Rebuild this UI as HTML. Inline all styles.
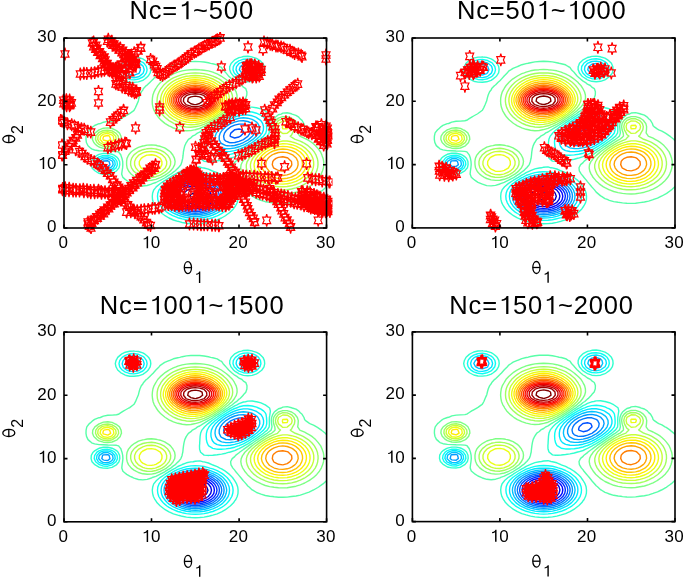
<!DOCTYPE html><html><head><meta charset="utf-8"><style>html,body{margin:0;padding:0;background:#fff}svg{display:block;filter:blur(0.35px)}text{font-family:"Liberation Sans",sans-serif;fill:#000}.t{font-size:17px}.ti{font-size:25.5px}.sub{font-size:16px}</style></head><body><svg width="685" height="578" viewBox="0 0 685 578"><rect width="685" height="578" fill="#fff"/><defs><clipPath id="cc0"><rect x="58.0" y="32.1" width="274.5" height="201.9"/></clipPath><clipPath id="cc1"><rect x="406.3" y="32.0" width="274.7" height="201.9"/></clipPath><clipPath id="cc2"><rect x="58.0" y="326.1" width="274.6" height="201.7"/></clipPath><clipPath id="cc3"><rect x="406.4" y="325.9" width="274.6" height="201.7"/></clipPath></defs><clipPath id="c0"><rect x="64.0" y="38.1" width="262.5" height="189.9"/></clipPath><g clip-path="url(#c0)"><g fill="none" stroke-width="1.4" stroke-linejoin="round"><path d="M195.2,199.9 193.0,199.5 190.9,198.2 189.9,196.3 190.9,194.6 193.3,193.2 195.2,192.9 197.2,193.2 199.6,194.5 200.6,196.3 199.6,198.3 197.5,199.5 195.2,199.9" stroke="#000096"/><path d="M190.9,203.8 187.5,202.7 186.5,202.1 183.8,199.5 182.6,196.3 183.8,193.2 186.5,190.7 187.6,190.0 190.9,189.0 195.2,188.5 199.6,189.0 202.9,190.0 204.0,190.6 206.7,193.2 207.9,196.3 206.7,199.5 204.0,202.1 203.0,202.7 199.6,203.8 195.2,204.3 190.9,203.8" stroke="#0000bb"/><path d="M190.9,206.3 188.9,205.8 186.5,205.0 182.3,202.7 182.1,202.5 179.8,199.5 179.1,196.3 179.9,193.2 182.1,190.2 182.4,190.0 186.5,187.7 189.0,186.9 190.9,186.4 195.2,186.1 199.6,186.4 201.5,186.9 204.0,187.7 208.2,190.0 208.4,190.2 210.6,193.2 211.5,196.3 210.7,199.5 208.4,202.5 208.2,202.7 204.0,205.0 201.6,205.8 199.6,206.3 195.2,206.7 190.9,206.3" stroke="#0000e0"/><path d="M186.5,207.1 183.3,205.8 182.1,205.2 178.9,202.7 177.8,201.1 176.8,199.5 176.2,196.3 176.8,193.2 177.8,191.6 179.0,190.0 182.1,187.6 183.4,186.9 186.5,185.6 190.9,184.6 195.2,184.2 199.6,184.6 204.0,185.6 207.1,186.9 208.4,187.5 211.5,190.0 212.8,191.6 213.7,193.2 214.4,196.3 213.7,199.5 212.8,201.2 211.6,202.7 208.4,205.2 207.2,205.8 204.0,207.1 199.6,208.2 195.2,208.5 190.9,208.2 186.5,207.1" stroke="#0006ff"/><path d="M186.5,209.0 186.5,209.0 182.1,207.3 179.6,205.8 177.8,204.4 176.0,202.7 174.2,199.5 173.6,196.3 174.2,193.2 176.1,190.0 177.8,188.3 179.6,186.9 182.1,185.4 186.5,183.7 186.6,183.7 190.9,182.9 195.2,182.6 199.6,182.9 203.8,183.7 204.0,183.7 208.4,185.4 210.9,186.9 212.8,188.3 214.5,190.0 216.3,193.2 217.0,196.3 216.4,199.5 214.5,202.7 212.8,204.4 210.9,205.8 208.4,207.3 204.0,209.0 204.0,209.0 199.6,209.9 195.2,210.1 190.9,209.9 186.5,209.0" stroke="#002cff"/><path d="M182.1,209.2 181.7,209.0 177.8,206.8 176.4,205.8 173.4,202.8 173.3,202.7 171.7,199.5 171.2,196.3 171.7,193.2 173.4,190.0 173.4,190.0 176.5,186.9 177.8,185.9 181.8,183.7 182.1,183.5 186.5,182.1 190.9,181.3 195.2,181.0 199.6,181.3 204.0,182.1 208.4,183.5 208.7,183.7 212.8,185.9 214.1,186.9 217.1,190.0 217.2,190.0 218.8,193.2 219.3,196.3 218.8,199.5 217.2,202.7 217.1,202.8 214.1,205.8 212.8,206.8 208.8,209.0 208.4,209.2 204.0,210.6 199.6,211.4 195.2,211.7 190.9,211.4 186.5,210.6 182.1,209.2 M230.2,136.4 230.1,136.2 230.2,135.1 230.8,133.1 234.5,129.9 234.6,129.8 239.0,129.0 242.3,129.9 243.4,132.1 243.5,133.1 243.4,133.2 240.4,136.2 239.0,137.0 234.6,138.0 230.2,136.4" stroke="#0051ff"/><path d="M186.5,212.2 186.4,212.2 182.1,210.9 177.9,209.0 177.8,208.9 173.5,205.8 173.4,205.8 170.8,202.7 169.3,199.5 169.0,197.3 168.9,196.3 169.0,195.5 169.4,193.2 170.8,190.0 173.4,187.0 173.6,186.9 177.8,183.8 178.0,183.7 182.1,181.8 186.4,180.5 186.5,180.5 190.9,179.8 195.2,179.5 199.6,179.8 204.0,180.5 204.0,180.5 208.4,181.8 212.5,183.7 212.8,183.8 217.0,186.9 217.1,187.0 219.7,190.0 221.2,193.2 221.5,195.3 221.7,196.3 221.5,197.4 221.2,199.5 219.7,202.7 217.1,205.8 217.0,205.8 212.8,208.9 212.6,209.0 208.4,210.9 204.1,212.2 204.0,212.2 199.6,213.0 195.2,213.2 190.9,213.0 186.5,212.2 M230.2,142.7 229.3,142.5 225.9,141.2 224.2,139.4 223.6,136.2 224.5,133.1 225.9,131.0 226.9,129.9 230.2,127.2 231.1,126.7 234.6,125.1 239.0,124.1 243.4,124.1 247.8,125.7 249.1,126.7 250.7,129.9 250.1,133.1 248.0,136.2 247.8,136.4 243.7,139.4 243.4,139.6 239.0,141.4 234.9,142.5 234.6,142.6 230.2,142.7" stroke="#0076ff"/><path d="M182.1,212.7 180.8,212.2 177.8,210.9 174.5,209.0 173.4,208.2 170.6,205.8 169.0,203.7 168.2,202.7 166.9,199.5 166.4,196.3 166.9,193.2 168.3,190.0 169.0,189.1 170.8,186.9 173.4,184.6 174.7,183.7 177.8,181.9 181.0,180.5 182.1,180.1 186.5,178.9 190.9,178.2 195.2,178.0 199.6,178.2 204.0,178.9 208.4,180.1 209.6,180.5 212.8,181.9 215.9,183.7 217.1,184.5 219.8,186.9 221.5,189.0 222.3,190.0 223.6,193.2 224.1,196.3 223.7,199.5 222.3,202.7 221.5,203.8 219.9,205.8 217.1,208.2 216.0,209.0 212.8,210.9 209.7,212.2 208.4,212.7 204.0,213.8 199.6,214.5 195.2,214.7 190.9,214.5 186.5,213.8 182.1,212.7 M103.4,166.3 101.8,164.7 102.6,161.5 103.4,161.0 107.8,160.8 109.1,161.5 110.0,164.7 107.8,166.6 103.4,166.3 M230.3,145.9 227.2,145.7 225.9,145.6 221.5,143.5 220.5,142.5 219.2,139.4 219.2,136.2 220.2,133.1 221.5,131.1 222.4,129.9 225.8,126.7 225.9,126.7 230.2,123.9 231.0,123.6 234.6,122.1 239.0,120.9 243.4,120.7 247.8,121.5 252.1,123.4 252.3,123.6 254.9,126.7 255.6,129.9 254.7,133.1 252.5,136.2 252.1,136.5 248.8,139.4 247.8,140.1 243.5,142.5 243.4,142.6 239.0,144.3 234.6,145.5 232.3,145.7 230.3,145.9" stroke="#009bff"/><path d="M186.5,215.5 185.8,215.3 182.1,214.5 177.8,212.9 176.2,212.2 173.4,210.6 171.0,209.0 169.0,207.2 167.7,205.8 165.5,202.7 164.6,200.2 164.3,199.5 163.9,196.3 164.4,193.2 164.6,192.6 165.6,190.0 167.9,186.9 169.0,185.8 171.4,183.7 173.4,182.3 176.6,180.5 177.8,180.0 182.1,178.3 185.8,177.4 186.5,177.2 190.9,176.5 195.3,176.3 199.6,176.5 204.0,177.2 204.6,177.4 208.4,178.2 212.8,179.8 214.1,180.5 217.1,182.1 219.4,183.7 221.5,185.6 222.8,186.9 224.9,190.0 225.9,192.5 226.2,193.2 226.6,196.3 226.2,199.5 225.9,200.3 225.0,202.7 222.8,205.8 221.5,207.2 219.5,209.0 217.1,210.6 214.3,212.2 212.8,212.9 208.4,214.5 204.7,215.3 204.0,215.5 199.6,216.2 195.2,216.4 190.9,216.2 186.5,215.5 M103.4,168.7 101.6,167.9 99.0,165.2 98.7,164.7 99.0,162.8 99.3,161.5 103.4,158.9 107.8,158.7 112.1,161.0 112.6,161.5 113.1,164.7 112.1,166.3 110.3,167.9 107.8,168.9 103.4,168.7 M221.5,148.0 217.4,145.7 217.1,145.3 215.5,142.5 215.0,139.4 215.2,136.2 216.4,133.1 217.1,132.1 218.7,129.9 221.5,127.2 222.0,126.7 225.9,123.9 226.4,123.6 230.2,121.4 232.5,120.4 234.6,119.5 239.0,118.3 243.4,117.8 247.8,118.2 252.1,119.4 254.0,120.4 256.5,122.1 257.9,123.6 259.6,126.7 259.7,129.9 258.6,133.1 256.5,135.9 256.3,136.2 252.8,139.4 252.1,139.9 248.2,142.5 247.8,142.8 243.4,145.1 241.9,145.7 239.0,146.8 234.6,148.0 230.2,148.6 225.9,148.7 221.5,148.0 M129.6,74.5 127.1,72.9 125.4,69.8 127.1,66.6 129.6,65.0 134.0,64.4 138.4,65.8 139.3,66.6 140.5,69.8 139.3,72.9 138.4,73.7 134.0,75.1 129.6,74.5 M243.4,73.8 241.7,72.9 239.3,69.8 240.3,66.6 243.4,64.3 247.8,63.5 252.1,65.3 253.5,66.6 254.3,69.8 252.5,72.9 252.1,73.2 247.8,74.4 243.4,73.8" stroke="#00c1ff"/><path d="M182.1,216.5 178.7,215.3 177.8,215.0 173.4,213.1 171.8,212.2 169.0,210.3 167.4,209.0 164.6,206.0 164.5,205.8 162.5,202.7 161.4,199.5 161.1,196.3 161.4,193.2 162.6,190.0 164.6,187.1 164.8,186.9 168.1,183.7 169.0,183.0 172.7,180.5 173.4,180.1 177.8,177.9 179.3,177.4 182.1,176.3 186.5,175.2 190.9,174.6 195.2,174.4 199.6,174.6 204.0,175.2 208.4,176.2 211.7,177.4 212.8,177.7 217.1,179.7 218.5,180.5 221.5,182.5 223.0,183.7 225.9,186.9 225.9,186.9 228.0,190.0 229.1,193.2 229.5,196.3 229.1,199.5 228.1,202.7 226.0,205.8 225.9,206.0 223.1,209.0 221.5,210.3 218.7,212.2 217.1,213.1 212.8,215.0 211.8,215.3 208.4,216.5 204.0,217.5 199.6,218.0 195.2,218.1 190.9,218.0 186.5,217.5 182.1,216.5 M99.0,168.4 98.3,167.9 96.5,164.7 96.9,161.5 99.0,159.2 100.3,158.4 103.4,157.1 107.8,157.0 111.7,158.4 112.1,158.6 114.8,161.5 115.2,164.7 113.5,167.9 112.1,169.0 107.8,170.5 103.4,170.4 99.0,168.4 M217.1,150.7 214.0,148.9 212.8,147.4 211.8,145.7 211.0,142.5 210.8,139.4 211.4,136.2 212.8,133.2 212.8,133.1 215.2,129.9 217.1,128.1 218.6,126.7 221.5,124.5 222.8,123.6 225.9,121.5 227.9,120.4 230.2,119.0 234.2,117.2 234.6,117.0 239.0,115.6 243.4,115.0 247.8,115.0 252.1,115.8 255.7,117.2 256.5,117.6 260.6,120.4 260.9,120.7 262.7,123.6 263.5,126.7 263.4,129.9 262.3,133.1 260.9,134.8 259.8,136.2 256.5,139.3 256.4,139.4 252.1,142.5 252.1,142.5 247.8,145.2 246.8,145.7 243.4,147.5 239.9,148.9 239.0,149.2 234.6,150.6 230.2,151.4 225.9,151.7 221.5,151.6 217.1,150.7 M129.6,77.3 126.6,76.1 125.2,75.2 123.1,72.9 122.1,69.8 123.0,66.6 125.2,64.2 126.5,63.4 129.6,62.2 134.0,61.8 138.4,62.7 139.7,63.4 142.8,65.9 143.3,66.6 144.2,69.8 143.3,72.9 142.8,73.5 139.7,76.1 138.4,76.8 134.0,77.7 129.6,77.3 M243.4,76.6 242.0,76.1 239.0,74.4 237.4,72.9 236.0,69.8 236.5,66.6 239.0,63.5 239.1,63.4 243.4,61.6 247.8,61.2 252.1,62.1 254.5,63.4 256.5,65.4 257.4,66.6 257.9,69.8 256.7,72.9 256.5,73.1 252.3,76.1 252.1,76.2 247.8,77.1 243.4,76.6" stroke="#00e6ff"/><path d="M182.1,218.9 180.9,218.5 177.8,217.7 173.4,215.9 172.2,215.3 169.0,213.6 166.9,212.2 164.6,210.3 163.1,209.0 160.6,205.8 160.2,205.1 158.8,202.7 157.8,199.5 157.5,196.3 157.8,193.2 159.0,190.0 160.2,188.3 161.1,186.9 164.4,183.7 164.6,183.6 168.8,180.5 169.0,180.4 173.4,177.8 174.3,177.4 177.8,175.6 181.6,174.2 182.1,174.0 186.5,172.7 190.9,172.1 195.2,171.9 199.6,172.0 204.0,172.6 208.4,173.7 209.7,174.2 212.8,175.0 217.1,176.9 218.0,177.4 221.5,179.3 223.3,180.5 225.9,182.6 227.1,183.7 229.7,186.9 230.2,187.9 231.5,190.0 232.7,193.2 233.0,196.3 232.7,199.5 231.7,202.7 230.2,205.1 229.9,205.8 227.4,209.0 225.9,210.3 223.7,212.2 221.5,213.6 218.3,215.3 217.1,215.9 212.8,217.7 209.6,218.5 208.4,218.9 204.0,219.8 199.6,220.3 195.2,220.5 190.9,220.3 186.5,219.8 182.1,218.9 M103.4,172.2 100.0,171.0 99.0,170.6 95.6,167.9 94.6,165.5 94.2,164.7 94.6,161.8 94.7,161.5 96.9,158.4 99.0,156.9 103.4,155.5 107.8,155.4 112.1,156.6 114.8,158.4 116.5,160.7 117.0,161.5 117.4,164.7 116.5,166.9 116.1,167.9 112.1,171.0 112.0,171.0 107.8,172.4 103.4,172.2 M217.1,155.3 216.5,155.2 212.8,154.6 208.7,152.0 208.4,151.6 207.0,148.9 206.4,145.7 206.1,142.5 206.3,139.4 207.1,136.2 208.4,134.1 208.9,133.1 211.6,129.9 212.8,129.0 215.2,126.7 217.1,125.3 219.5,123.6 221.5,122.2 224.3,120.4 225.9,119.3 229.6,117.2 230.2,116.8 234.6,114.6 236.2,114.1 239.0,112.9 243.4,111.9 247.8,111.6 252.1,112.0 256.5,113.2 258.5,114.1 260.9,115.2 263.7,117.2 265.2,119.0 265.9,120.4 266.4,123.6 266.6,126.7 266.6,129.9 265.8,133.1 265.2,133.9 263.4,136.2 260.9,138.4 259.8,139.4 256.5,141.8 255.5,142.5 252.1,144.8 250.7,145.7 247.8,147.5 245.2,148.9 243.4,149.9 239.0,151.8 238.2,152.0 234.6,153.3 230.2,154.4 225.9,155.0 222.7,155.2 221.5,155.3 217.1,155.3 M129.6,79.6 128.6,79.2 125.2,78.1 122.2,76.1 120.9,74.5 119.7,72.9 119.0,69.8 119.7,66.6 120.9,65.0 122.2,63.4 125.2,61.3 128.5,60.3 129.6,59.9 134.0,59.5 137.9,60.3 138.4,60.3 142.8,62.4 144.1,63.4 146.4,66.6 147.1,69.8 146.4,72.9 144.0,76.1 142.8,77.0 138.4,79.1 137.6,79.2 134.0,79.9 129.6,79.6 M239.0,77.2 237.3,76.1 234.6,73.4 234.2,72.9 233.0,69.8 233.3,66.6 234.6,64.4 235.3,63.4 239.0,60.7 240.3,60.3 243.4,59.2 247.8,58.9 252.1,59.6 253.6,60.3 256.5,61.7 258.5,63.4 260.5,66.6 260.9,69.8 259.9,72.9 257.1,76.1 256.5,76.5 252.1,78.5 247.8,79.2 243.4,78.8 239.0,77.2" stroke="#0cfff3"/><path d="M182.1,222.5 179.3,221.7 177.8,221.3 173.4,220.0 170.2,218.5 169.0,218.0 164.6,215.4 164.5,215.3 160.3,212.2 160.2,212.1 157.1,209.0 155.9,207.1 154.9,205.8 153.3,202.7 152.5,199.5 152.3,196.3 152.6,193.2 153.7,190.0 155.9,187.4 156.2,186.9 160.0,183.7 160.2,183.5 164.6,180.6 164.8,180.5 169.0,177.9 169.9,177.4 173.4,175.2 175.4,174.2 177.8,172.7 181.6,171.0 182.1,170.7 186.5,169.0 190.9,168.1 193.1,167.9 195.2,167.3 199.6,167.0 202.5,167.9 204.0,168.0 208.4,169.1 212.4,171.0 212.8,171.1 217.1,172.7 219.9,174.2 221.5,175.0 225.3,177.4 225.9,177.8 229.3,180.5 230.2,181.5 232.4,183.7 234.6,186.9 234.6,186.9 236.6,190.0 237.7,193.2 238.1,196.3 237.9,199.5 237.2,202.7 235.6,205.8 234.6,207.1 233.4,209.0 230.2,212.1 230.2,212.2 226.0,215.3 225.9,215.5 221.5,218.0 220.3,218.5 217.1,220.0 212.8,221.3 211.2,221.7 208.4,222.5 204.0,223.3 199.6,223.7 195.2,223.9 190.9,223.7 186.5,223.3 182.1,222.5 M103.4,174.2 103.3,174.2 99.0,173.3 95.2,171.0 94.6,170.5 92.0,167.9 91.1,164.7 91.3,161.5 93.1,158.4 94.6,157.0 97.5,155.2 99.0,154.4 103.4,153.4 107.8,153.4 112.1,154.3 114.0,155.2 116.5,156.8 118.0,158.4 119.6,161.5 119.8,164.7 119.0,167.9 116.5,170.9 116.3,171.0 112.1,173.5 108.3,174.2 107.8,174.4 103.4,174.2 M208.4,161.7 207.2,161.5 204.0,161.2 200.5,158.4 199.6,155.6 199.5,155.2 199.5,152.0 199.6,149.6 199.7,148.9 199.8,145.7 200.1,142.5 200.5,139.4 201.8,136.2 204.0,133.6 204.3,133.1 207.7,129.9 208.4,129.5 211.8,126.7 212.8,126.1 216.3,123.6 217.1,123.0 221.1,120.4 221.5,120.1 225.9,117.3 225.9,117.2 230.2,114.5 231.2,114.1 234.6,111.9 237.0,110.9 239.0,109.7 243.4,108.1 245.4,107.7 247.8,107.1 252.1,107.1 256.1,107.7 256.5,107.8 260.9,108.9 265.1,110.9 265.2,111.0 269.5,114.1 269.6,114.4 270.3,117.2 269.8,120.4 269.6,121.8 269.3,123.6 269.2,126.7 269.4,129.9 269.1,133.1 267.1,136.2 265.2,137.7 263.3,139.4 260.9,141.1 258.9,142.5 256.5,144.2 254.2,145.7 252.1,147.1 249.3,148.9 247.8,149.9 244.0,152.0 243.4,152.5 239.0,154.8 237.8,155.2 234.6,156.8 230.2,158.2 229.2,158.4 225.9,159.3 221.5,160.2 217.1,160.8 212.8,161.3 209.3,161.5 208.4,161.7 M125.2,81.3 121.5,79.2 120.9,78.9 117.7,76.1 116.5,73.7 116.0,72.9 115.2,69.8 115.9,66.6 116.5,65.8 117.7,63.4 120.9,60.6 121.4,60.3 125.2,58.2 129.6,57.2 133.3,57.1 134.0,57.0 134.3,57.1 138.4,57.5 142.8,58.9 145.0,60.3 147.1,62.0 148.6,63.4 150.4,66.6 150.8,69.8 150.2,72.9 148.2,76.1 147.1,77.1 144.5,79.2 142.8,80.4 138.4,81.9 134.0,82.4 129.6,82.2 125.2,81.3 M239.0,79.9 237.9,79.2 234.6,77.1 233.4,76.1 230.9,72.9 230.2,70.9 229.7,69.8 229.7,66.6 230.2,65.6 231.1,63.4 234.2,60.3 234.6,59.9 239.0,57.6 241.4,57.1 243.4,56.5 247.8,56.2 252.1,56.9 252.5,57.1 256.5,58.3 259.6,60.3 260.9,61.4 262.9,63.4 264.3,66.6 264.6,69.8 263.9,72.9 261.8,76.1 260.9,76.9 257.6,79.2 256.5,79.9 252.1,81.4 247.8,81.8 243.4,81.4 239.0,79.9" stroke="#31ffce"/><path d="M132.7,183.7 134.0,184.3 138.4,185.7 142.8,186.0 147.1,185.5 151.5,184.1 152.3,183.7 155.9,182.5 159.8,180.5 160.2,180.3 164.6,178.0 165.6,177.4 169.0,175.2 170.7,174.2 173.4,172.1 175.0,171.0 177.8,168.3 178.3,167.9 180.9,164.7 182.0,161.5 182.1,160.7 182.7,158.4 183.1,155.2 183.4,152.0 184.0,148.9 184.8,145.7 186.3,142.5 186.5,142.4 188.4,139.4 190.9,137.8 192.4,136.2 195.2,134.8 197.4,133.1 199.6,132.1 202.8,129.9 204.0,129.3 208.1,126.7 208.4,126.6 212.8,123.8 213.2,123.6 217.1,121.0 218.1,120.4 221.5,118.1 222.9,117.2 225.9,115.1 227.6,114.1 230.2,112.0 232.1,110.9 234.6,108.8 236.3,107.7 239.0,105.2 240.1,104.6 243.1,101.4 243.4,100.8 245.7,98.2 246.8,95.1 246.9,91.9 245.8,88.7 243.4,87.2 241.9,85.6 239.0,84.2 236.7,82.4 234.6,81.2 232.2,79.2 230.2,77.5 228.6,76.1 226.0,72.9 225.9,72.7 223.0,69.8 221.5,67.4 219.7,66.6 217.1,64.9 212.8,63.8 210.6,63.4 208.4,62.8 204.0,62.0 199.6,61.6 195.2,61.4 190.9,61.6 186.5,62.0 182.1,62.8 179.7,63.4 177.8,63.7 173.4,64.8 169.3,66.6 169.0,66.7 164.6,68.5 162.7,69.8 160.2,71.3 159.0,72.9 155.9,76.0 155.9,76.1 153.1,79.2 151.5,80.8 149.8,82.4 147.1,85.1 146.3,85.6 143.3,88.7 142.8,90.1 141.3,91.9 139.9,95.1 138.9,98.2 138.4,101.0 138.2,101.4 136.8,104.6 135.4,107.7 134.0,110.4 133.4,110.9 129.6,113.6 128.8,114.1 125.2,116.1 123.3,117.2 120.9,118.8 118.4,120.4 116.5,120.9 112.1,121.2 107.8,121.4 103.4,122.2 100.3,123.6 99.0,123.7 94.6,125.5 92.9,126.7 90.2,129.0 89.2,129.9 86.8,133.1 86.1,136.2 86.0,139.4 86.4,142.5 88.0,145.7 90.2,147.7 91.6,148.9 94.6,150.0 99.0,150.7 103.4,150.9 107.8,151.1 112.1,151.2 116.5,151.5 118.6,152.0 120.9,155.0 120.9,155.2 122.0,158.4 122.7,161.5 122.8,164.7 122.6,167.9 122.1,171.0 121.7,174.2 122.9,177.4 125.2,179.4 126.7,180.5 129.6,182.4 132.7,183.7 M326.5,140.8 325.2,139.4 322.1,136.9 321.3,136.2 317.8,133.7 316.5,133.1 313.4,131.2 310.3,129.9 309.0,129.2 305.5,126.7 304.6,125.9 303.9,123.6 302.0,120.4 300.2,118.9 298.8,117.2 295.9,115.3 292.1,114.1 291.5,113.8 287.1,112.7 282.8,113.1 281.2,114.1 278.4,114.7 275.3,117.2 274.0,118.4 272.7,120.4 271.5,123.6 271.2,126.7 271.5,129.9 271.9,133.1 271.0,136.2 269.6,137.3 267.1,139.4 265.2,140.5 262.3,142.5 260.9,143.4 257.6,145.7 256.5,146.4 252.9,148.9 252.1,149.4 248.3,152.0 247.8,152.5 243.8,155.2 243.4,155.6 239.5,158.4 239.0,158.9 235.5,161.5 234.6,162.7 232.2,164.7 230.5,167.9 230.9,171.0 232.9,174.2 234.6,176.3 235.4,177.4 238.0,180.5 239.0,181.7 240.7,183.7 243.2,186.9 243.4,187.0 246.1,190.0 247.8,192.2 249.0,193.2 252.1,196.0 252.7,196.3 256.5,198.7 258.9,199.5 260.9,200.4 265.2,201.7 269.6,202.4 272.4,202.7 274.0,203.0 278.4,203.4 282.8,203.5 287.1,203.3 291.5,202.7 291.5,202.7 295.9,202.1 300.2,201.2 304.6,199.8 305.2,199.5 309.0,198.3 312.9,196.3 313.4,196.1 317.8,193.7 318.5,193.2 322.1,190.6 322.9,190.0 326.3,186.9 326.5,186.6" stroke="#57ffa8"/><path d="M272.5,193.2 274.0,193.5 278.4,194.0 282.8,194.1 287.1,193.8 291.4,193.2 291.5,193.2 295.9,192.3 300.2,191.0 302.6,190.0 304.6,189.2 308.8,186.9 309.0,186.8 313.3,183.7 313.4,183.6 316.7,180.5 317.8,179.3 319.3,177.4 321.2,174.2 322.1,171.8 322.5,171.0 323.4,167.9 323.8,164.7 323.7,161.5 323.1,158.4 322.1,155.7 322.0,155.2 320.6,152.0 318.3,148.9 317.8,148.2 315.5,145.7 313.4,143.8 311.8,142.5 309.0,140.7 306.7,139.4 304.6,138.3 300.2,136.4 299.8,136.2 297.6,133.1 298.0,129.9 298.2,126.7 297.3,123.6 295.9,121.8 294.8,120.4 291.5,118.1 288.6,117.2 287.1,116.7 282.8,116.7 281.2,117.2 278.4,118.1 275.6,120.4 274.0,122.8 273.6,123.6 273.2,126.7 273.6,129.9 274.0,131.2 274.7,133.0 275.1,136.2 274.0,137.2 271.5,139.4 269.6,140.3 265.9,142.5 265.2,142.9 260.9,145.7 260.9,145.7 256.5,148.7 256.2,148.9 252.1,151.9 252.0,152.0 248.1,155.2 247.8,155.7 244.9,158.4 243.4,160.6 242.6,161.5 241.1,164.7 240.7,167.9 241.3,171.0 242.7,174.2 243.4,175.3 244.6,177.4 247.2,180.5 247.8,181.0 250.5,183.7 252.1,185.0 254.9,186.9 256.5,187.8 260.9,189.9 261.2,190.0 265.2,191.6 269.6,192.7 272.5,193.2 M135.9,177.4 138.4,178.6 142.8,180.0 147.1,180.5 151.5,180.3 155.9,179.4 160.2,177.7 160.8,177.4 164.6,175.3 166.4,174.2 169.0,172.2 170.4,171.0 173.1,167.9 173.4,167.1 174.7,164.7 175.1,161.5 174.5,158.4 173.4,156.1 173.0,155.2 170.5,152.0 169.0,150.8 166.2,148.9 164.6,147.9 160.2,146.3 157.4,145.7 155.9,145.3 151.5,144.9 147.1,145.1 144.4,145.7 142.8,146.0 138.4,147.3 135.5,148.9 134.0,149.8 131.1,152.0 129.6,153.8 128.5,155.2 127.0,158.4 126.6,161.5 126.6,164.7 127.1,167.9 128.6,171.0 129.6,172.3 131.3,174.2 134.0,176.3 135.9,177.4 M96.9,145.7 99.0,147.0 103.4,148.3 107.8,148.6 112.1,148.1 116.5,146.2 117.2,145.7 120.3,142.5 120.9,140.5 121.4,139.4 121.0,136.2 120.9,136.0 119.5,133.1 116.5,130.6 115.0,129.9 112.1,128.5 107.8,127.9 103.4,128.2 99.2,129.9 99.0,129.9 94.9,133.1 94.6,133.5 92.7,136.2 92.4,139.4 93.8,142.5 94.6,143.4 96.9,145.7 M180.1,129.9 182.1,130.4 186.5,130.8 190.9,130.6 194.2,129.9 195.2,129.7 199.6,128.5 203.5,126.7 204.0,126.5 208.4,124.4 209.7,123.6 212.8,121.9 215.0,120.4 217.1,119.1 220.0,117.2 221.5,116.1 224.5,114.1 225.9,112.9 228.5,110.9 230.2,109.2 232.0,107.7 234.4,104.6 234.6,104.1 236.3,101.4 237.0,98.2 237.0,95.1 236.1,91.9 234.6,89.1 234.5,88.7 232.5,85.6 230.2,83.3 229.4,82.4 225.9,79.3 225.8,79.2 221.5,76.2 221.2,76.1 217.1,73.9 214.5,72.9 212.8,72.2 208.4,70.9 204.0,70.2 199.8,69.8 199.6,69.7 195.2,69.5 190.9,69.7 190.6,69.8 186.5,70.1 182.1,70.9 177.8,72.2 175.9,72.9 173.4,73.8 169.1,76.1 169.0,76.1 164.6,78.9 164.2,79.2 160.6,82.4 160.2,82.8 157.7,85.6 155.9,88.5 155.7,88.7 154.0,91.9 152.9,95.1 152.4,98.2 152.2,101.4 152.4,104.6 153.1,107.7 154.3,110.9 155.9,113.5 156.1,114.1 158.3,117.2 160.2,119.3 161.3,120.4 164.6,123.1 165.3,123.6 169.0,125.9 170.8,126.7 173.4,128.0 177.8,129.4 180.1,129.9" stroke="#7cff83"/><path d="M264.9,186.9 265.2,187.0 269.6,188.4 274.0,189.3 278.4,189.8 282.8,189.9 287.1,189.7 291.5,189.0 295.9,187.9 298.7,186.9 300.2,186.3 304.6,184.1 305.3,183.7 309.0,181.0 309.6,180.5 312.8,177.4 313.4,176.5 315.1,174.2 316.7,171.0 317.6,167.9 317.8,166.5 318.0,164.7 317.9,161.5 317.8,160.8 317.3,158.4 316.1,155.2 314.3,152.0 313.4,150.9 311.7,148.9 309.0,146.5 308.1,145.7 304.6,143.4 303.0,142.5 300.2,141.2 295.9,139.6 295.1,139.4 291.5,137.2 290.2,136.2 291.5,135.1 292.5,133.1 294.3,129.9 294.8,126.7 294.0,123.6 291.5,120.9 290.7,120.4 287.1,118.9 282.8,118.8 278.6,120.4 278.4,120.5 276.0,123.6 275.3,126.7 275.9,129.9 277.6,133.1 278.4,134.6 280.4,136.2 278.4,138.2 277.4,139.4 274.0,140.7 270.2,142.5 269.6,142.8 265.2,145.2 264.4,145.7 260.9,148.0 259.6,148.9 256.5,151.2 255.3,152.0 252.1,155.0 251.8,155.2 249.1,158.4 247.8,160.8 247.2,161.5 246.3,164.7 246.3,167.9 247.1,171.0 247.8,172.2 248.7,174.2 250.9,177.4 252.1,178.6 254.1,180.5 256.5,182.4 258.5,183.7 260.9,185.1 264.9,186.9 M146.5,177.4 147.1,177.5 151.5,177.5 152.2,177.4 155.9,176.7 160.2,175.1 161.8,174.2 164.6,172.4 166.4,171.0 169.0,168.0 169.1,167.9 170.5,164.7 170.7,161.5 169.8,158.4 169.0,157.1 167.7,155.2 164.6,152.5 163.9,152.0 160.2,150.2 155.9,149.0 155.1,148.9 151.5,148.4 147.1,148.7 146.4,148.9 142.8,149.7 138.4,151.5 137.6,152.0 134.0,154.9 133.7,155.2 131.6,158.4 130.7,161.5 130.6,164.7 131.5,167.9 133.6,171.0 134.0,171.4 137.4,174.2 138.4,174.8 142.8,176.6 146.5,177.4 M101.7,145.7 103.4,146.4 107.8,146.8 112.1,145.9 112.4,145.7 116.5,143.0 117.0,142.5 118.6,139.4 118.3,136.2 116.5,133.9 115.7,133.1 112.1,130.9 107.8,130.1 103.4,130.5 99.0,132.4 98.2,133.1 95.8,136.2 95.5,139.4 96.9,142.5 99.0,144.4 101.7,145.7 M184.6,126.7 186.5,127.1 190.9,127.3 195.2,126.8 195.5,126.7 199.6,125.9 204.0,124.3 205.6,123.6 208.4,122.3 211.9,120.4 212.8,119.9 217.1,117.2 217.1,117.2 221.5,114.1 221.6,114.1 225.5,110.9 225.9,110.5 228.7,107.7 230.2,105.3 230.8,104.6 232.2,101.4 232.7,98.2 232.3,95.1 231.2,91.9 230.2,90.3 229.5,88.7 227.1,85.6 225.9,84.4 223.8,82.4 221.5,80.7 219.3,79.2 217.1,78.0 212.8,76.1 212.7,76.1 208.4,74.6 204.0,73.6 199.6,73.1 195.2,73.0 190.9,73.1 186.5,73.6 182.1,74.6 177.8,76.1 177.8,76.1 173.4,77.9 171.1,79.2 169.0,80.6 166.6,82.4 164.6,84.3 163.3,85.6 160.9,88.7 160.2,89.9 159.1,91.9 157.8,95.1 157.2,98.2 157.0,101.4 157.4,104.6 158.3,107.7 159.9,110.9 160.2,111.4 161.9,114.1 164.6,117.0 164.9,117.2 168.7,120.4 169.0,120.6 173.4,123.2 174.2,123.6 177.8,125.1 182.1,126.3 184.6,126.7" stroke="#a1ff5e"/><path d="M265.9,183.7 269.6,185.1 274.0,186.1 278.4,186.7 282.8,186.8 287.1,186.5 291.5,185.8 295.9,184.5 297.8,183.7 300.2,182.6 303.7,180.5 304.6,179.9 307.6,177.4 309.0,175.8 310.3,174.2 312.2,171.0 313.2,167.9 313.4,166.9 313.7,164.7 313.6,161.5 313.4,160.6 312.9,158.4 311.5,155.2 309.3,152.0 309.0,151.7 306.2,148.9 304.6,147.6 301.7,145.7 300.2,144.9 295.9,143.1 294.0,142.5 291.5,141.8 287.1,141.0 282.8,141.0 278.4,141.9 276.4,142.5 274.0,143.2 269.6,145.1 268.5,145.7 265.2,147.5 263.1,148.9 260.9,150.4 258.7,152.0 256.5,154.1 255.2,155.2 252.7,158.4 252.1,159.6 251.1,161.5 250.4,164.7 250.6,167.9 251.6,171.0 252.1,171.9 253.4,174.2 256.1,177.4 256.5,177.7 260.0,180.5 260.9,181.1 265.2,183.4 265.9,183.7 M145.2,174.2 147.1,174.7 151.5,174.8 155.1,174.2 155.9,174.0 160.2,172.1 161.9,171.0 164.6,168.5 165.2,167.9 166.6,164.7 166.7,161.5 165.5,158.4 164.6,157.2 162.6,155.2 160.2,153.7 156.1,152.0 155.9,152.0 151.5,151.4 147.1,151.7 145.7,152.0 142.8,152.9 138.7,155.2 138.4,155.5 135.9,158.4 134.6,161.5 134.6,164.7 135.8,167.9 138.4,171.0 138.5,171.0 142.8,173.5 145.2,174.2 M99.7,142.5 103.4,144.6 107.8,145.1 112.1,144.0 114.2,142.5 116.2,139.4 115.7,136.2 112.5,133.1 112.1,132.8 107.8,131.7 103.4,132.2 101.6,133.1 99.0,135.1 98.1,136.2 97.7,139.4 99.0,141.7 99.7,142.5 M282.2,133.1 282.8,133.5 287.1,133.2 287.3,133.1 291.2,129.9 291.5,129.1 292.1,126.7 291.5,124.8 290.8,123.6 287.1,121.2 282.8,121.0 278.4,123.6 278.4,123.7 277.6,126.7 278.3,129.9 278.4,130.0 282.2,133.1 M182.9,123.6 186.5,124.4 190.9,124.7 195.2,124.5 199.6,123.7 199.9,123.6 204.0,122.3 208.4,120.4 208.4,120.4 212.8,118.1 214.1,117.2 217.1,115.3 218.9,114.1 221.5,112.0 222.8,110.9 225.8,107.7 225.9,107.6 228.0,104.6 229.2,101.4 229.4,98.2 228.9,95.1 227.6,91.9 225.9,89.3 225.5,88.7 222.8,85.6 221.5,84.4 218.9,82.4 217.1,81.3 213.2,79.2 212.8,79.0 208.4,77.4 204.0,76.3 202.1,76.1 199.6,75.7 195.2,75.5 190.9,75.7 188.4,76.1 186.5,76.3 182.1,77.4 177.8,79.0 177.2,79.2 173.4,81.2 171.5,82.4 169.0,84.4 167.6,85.6 164.9,88.7 164.6,89.1 162.7,91.9 161.4,95.1 160.7,98.2 160.6,101.4 161.0,104.6 162.1,107.7 163.9,110.9 164.6,111.9 166.3,114.1 169.0,116.6 169.7,117.2 173.4,119.7 174.6,120.4 177.8,121.9 182.1,123.4 182.9,123.6" stroke="#c6ff39"/><path d="M276.7,183.7 278.4,183.9 282.8,184.1 287.1,183.7 287.3,183.7 291.5,182.9 295.9,181.4 297.7,180.5 300.2,179.1 302.7,177.4 304.6,175.6 306.0,174.2 308.1,171.0 309.0,168.9 309.4,167.9 310.0,164.7 309.8,161.5 309.0,158.4 309.0,158.4 307.4,155.2 304.9,152.0 304.6,151.8 301.0,148.9 300.2,148.4 295.9,146.1 294.6,145.7 291.5,144.7 287.1,143.9 282.8,143.8 278.4,144.4 274.0,145.6 273.7,145.7 269.6,147.4 266.9,148.9 265.2,149.9 262.2,152.0 260.9,153.2 258.6,155.2 256.5,157.9 256.1,158.4 254.6,161.5 254.1,164.7 254.4,167.9 255.6,171.0 256.5,172.4 257.7,174.2 260.9,177.3 261.0,177.4 265.2,180.2 266.0,180.5 269.6,182.1 274.0,183.3 276.7,183.7 M146.4,171.0 147.1,171.3 151.5,171.5 154.1,171.0 155.9,170.5 160.2,167.9 160.2,167.8 161.9,164.7 161.9,161.5 160.4,158.4 160.2,158.2 155.9,155.6 154.4,155.2 151.5,154.7 147.1,155.1 146.7,155.2 142.8,157.1 141.2,158.4 139.3,161.5 139.3,164.7 141.1,167.9 142.8,169.3 146.4,171.0 M102.7,142.5 103.4,142.9 107.8,143.5 110.9,142.5 112.1,141.8 113.8,139.4 113.3,136.2 112.1,135.1 107.8,133.3 103.4,134.1 100.7,136.2 100.1,139.4 102.7,142.5 M282.2,126.7 282.8,128.9 287.1,128.7 287.8,126.7 287.1,125.4 282.8,125.6 282.2,126.7 M180.7,120.4 182.1,120.9 186.5,122.0 190.9,122.5 195.2,122.4 199.6,121.7 204.0,120.4 204.0,120.4 208.4,118.6 210.9,117.2 212.8,116.3 216.1,114.1 217.1,113.4 220.3,110.9 221.5,109.7 223.4,107.7 225.5,104.6 225.9,103.3 226.6,101.4 226.8,98.2 226.0,95.1 225.9,94.8 224.6,91.9 222.2,88.7 221.5,88.0 218.9,85.6 217.1,84.2 214.2,82.4 212.8,81.6 208.4,79.8 206.2,79.2 204.0,78.6 199.6,77.9 195.2,77.7 190.9,77.9 186.5,78.6 184.2,79.2 182.1,79.8 177.8,81.6 176.3,82.4 173.4,84.2 171.5,85.6 169.0,87.9 168.2,88.7 165.8,91.9 164.6,94.4 164.3,95.1 163.3,98.2 163.2,101.4 163.8,104.6 164.6,106.4 165.2,107.7 167.2,110.9 169.0,112.9 170.1,114.1 173.4,116.7 174.3,117.2 177.8,119.2 180.7,120.4" stroke="#ebff14"/><path d="M273.9,180.5 274.0,180.5 278.4,181.3 282.8,181.5 287.1,181.1 289.5,180.5 291.5,180.0 295.9,178.3 297.5,177.4 300.2,175.4 301.6,174.2 304.2,171.0 304.6,170.2 305.7,167.9 306.3,164.7 306.2,161.5 305.2,158.4 304.6,157.3 303.3,155.2 300.3,152.0 300.2,152.0 295.9,149.2 295.1,148.9 291.5,147.5 287.1,146.6 282.8,146.4 278.4,146.9 274.0,148.0 271.9,148.9 269.6,149.9 266.0,152.0 265.2,152.6 262.2,155.2 260.9,156.8 259.6,158.4 258.1,161.5 257.7,164.7 258.1,167.9 259.5,171.0 260.9,172.8 262.1,174.2 265.2,176.8 266.2,177.4 269.6,179.1 273.9,180.5 M102.8,139.4 103.4,140.0 107.8,141.2 110.7,139.4 109.5,136.2 107.8,135.5 103.9,136.2 103.4,136.8 102.8,139.4 M190.8,120.4 190.9,120.4 195.2,120.4 195.3,120.4 199.6,119.8 204.0,118.6 207.3,117.2 208.4,116.8 212.8,114.4 213.3,114.1 217.1,111.4 217.8,110.9 221.1,107.7 221.5,107.2 223.3,104.6 224.4,101.4 224.5,98.2 223.7,95.1 221.8,91.9 221.5,91.5 219.1,88.7 217.1,87.0 215.1,85.6 212.8,84.1 209.1,82.4 208.4,82.1 204.0,80.8 199.6,80.0 195.2,79.8 190.9,80.0 186.5,80.8 182.1,82.1 181.4,82.4 177.8,84.1 175.3,85.6 173.4,86.9 171.3,88.7 169.0,91.3 168.5,91.9 166.6,95.1 165.7,98.2 165.6,101.4 166.2,104.6 167.8,107.7 169.0,109.3 170.3,110.9 173.4,113.8 173.8,114.1 177.8,116.7 179.0,117.2 182.1,118.6 186.5,119.8 190.8,120.4" stroke="#ffed00"/><path d="M273.2,177.4 274.0,177.6 278.4,178.5 282.8,178.7 287.1,178.2 290.4,177.4 291.5,177.0 295.9,174.8 296.7,174.2 300.0,171.0 300.2,170.7 301.8,167.9 302.5,164.7 302.3,161.5 301.2,158.4 300.2,156.9 298.8,155.2 295.9,152.7 294.7,152.0 291.5,150.6 287.1,149.4 282.8,149.0 278.4,149.5 274.0,150.7 271.0,152.0 269.6,152.8 266.3,155.2 265.2,156.2 263.4,158.4 261.8,161.5 261.4,164.7 262.0,167.9 263.8,171.0 265.2,172.6 267.1,174.2 269.6,175.8 273.2,177.4 M184.8,117.2 186.5,117.7 190.9,118.4 195.2,118.5 199.6,117.9 202.2,117.2 204.0,116.8 208.4,115.0 210.2,114.1 212.8,112.7 215.3,110.9 217.1,109.5 219.0,107.7 221.3,104.6 221.5,103.9 222.4,101.4 222.5,98.2 221.5,95.3 221.4,95.1 219.4,91.9 217.1,89.6 216.1,88.7 212.8,86.4 211.1,85.6 208.4,84.2 204.0,82.8 201.5,82.4 199.6,82.1 195.2,81.8 190.9,82.0 188.9,82.4 186.5,82.8 182.1,84.2 179.4,85.6 177.8,86.4 174.3,88.7 173.4,89.5 171.0,91.9 169.0,95.0 168.9,95.1 167.8,98.2 167.6,101.4 168.5,104.6 169.0,105.5 170.3,107.7 173.2,110.9 173.4,111.1 177.5,114.1 177.8,114.2 182.1,116.4 184.8,117.2" stroke="#ffc800"/><path d="M274.0,174.2 278.4,175.3 282.8,175.5 287.1,174.9 289.4,174.2 291.5,173.3 294.7,171.0 295.9,169.8 297.2,167.9 298.1,164.7 297.9,161.5 296.4,158.4 295.9,157.7 293.1,155.2 291.5,154.3 287.1,152.6 282.8,152.1 278.4,152.5 274.0,154.0 271.7,155.2 269.6,156.8 268.0,158.4 266.2,161.5 265.7,164.7 266.6,167.9 269.0,171.0 269.6,171.6 274.0,174.2 274.0,174.2 M181.6,114.1 182.1,114.3 186.5,115.8 190.9,116.5 195.2,116.7 199.6,116.2 204.0,115.1 206.5,114.1 208.4,113.4 212.8,111.0 212.9,110.9 216.9,107.7 217.1,107.4 219.4,104.6 220.6,101.4 220.6,98.2 219.5,95.1 217.1,92.0 217.0,91.9 213.1,88.7 212.8,88.5 208.4,86.2 206.3,85.6 204.0,84.8 199.6,83.9 195.2,83.6 190.9,83.9 186.5,84.8 184.1,85.6 182.1,86.2 177.8,88.5 177.4,88.7 173.4,91.9 173.4,91.9 170.9,95.1 169.7,98.2 169.6,101.4 170.5,104.6 172.6,107.7 173.4,108.6 176.1,110.9 177.8,112.1 181.6,114.1" stroke="#ffa300"/><path d="M282.6,171.0 282.8,171.0 282.8,171.0 287.1,169.7 289.9,167.9 291.5,165.5 291.8,164.7 291.5,161.5 291.5,161.5 288.3,158.4 287.1,157.7 282.8,156.8 278.4,157.4 276.0,158.4 274.0,159.9 272.8,161.5 272.3,164.7 273.6,167.9 274.0,168.2 278.4,170.5 282.6,171.0 M187.0,114.1 190.9,114.8 195.2,115.0 199.6,114.5 201.5,114.1 204.0,113.5 208.4,111.9 210.1,110.9 212.8,109.3 214.8,107.7 217.1,105.1 217.6,104.6 218.9,101.4 218.8,98.2 217.5,95.1 217.1,94.6 214.7,91.9 212.8,90.4 209.8,88.7 208.4,88.0 204.0,86.5 199.6,85.7 197.8,85.6 195.2,85.4 192.6,85.6 190.9,85.7 186.5,86.4 182.1,87.9 180.6,88.7 177.8,90.3 175.7,91.9 173.4,94.5 172.9,95.1 171.5,98.2 171.3,101.4 172.4,104.6 173.4,106.0 174.8,107.7 177.8,110.1 179.0,110.9 182.1,112.6 186.5,114.0 187.0,114.1" stroke="#ff7e00"/><path d="M182.2,110.9 186.5,112.5 190.9,113.3 195.2,113.5 199.6,113.1 204.0,112.1 207.1,110.9 208.4,110.4 212.7,107.7 212.8,107.7 215.7,104.6 217.1,101.4 217.1,101.4 217.1,100.3 217.1,98.2 215.6,95.1 212.8,92.2 212.4,91.9 208.4,89.6 206.1,88.7 204.0,88.0 199.6,87.1 195.2,86.8 190.9,87.1 186.5,88.0 184.4,88.7 182.1,89.6 178.1,91.9 177.8,92.2 174.8,95.1 173.4,98.0 173.3,98.2 173.1,101.4 173.4,102.2 174.3,104.6 177.0,107.7 177.8,108.3 182.1,110.9 182.2,110.9" stroke="#ff5800"/><path d="M186.1,110.9 186.5,111.0 190.9,111.9 195.2,112.2 199.6,111.8 203.4,110.9 204.0,110.7 208.4,109.0 210.4,107.7 212.8,105.8 213.9,104.6 215.4,101.4 215.3,98.2 213.6,95.1 212.8,94.2 209.8,91.9 208.4,91.1 204.0,89.4 200.7,88.7 199.6,88.5 195.2,88.2 190.9,88.5 189.7,88.7 186.5,89.4 182.1,91.0 180.6,91.9 177.8,94.1 176.8,95.1 175.0,98.2 174.9,101.4 176.2,104.6 177.8,106.3 179.4,107.7 182.1,109.4 186.1,110.9" stroke="#ff3300"/><path d="M181.9,107.7 182.1,107.9 186.5,109.7 190.9,110.6 195.2,110.9 199.6,110.5 204.0,109.4 208.0,107.7 208.4,107.5 212.0,104.6 212.8,103.3 213.7,101.4 213.6,98.2 212.8,96.8 211.6,95.1 208.4,92.6 206.9,91.9 204.0,90.7 199.6,89.8 195.2,89.5 190.9,89.8 186.5,90.7 183.5,91.9 182.1,92.6 178.9,95.1 177.8,96.6 176.8,98.2 176.6,101.4 177.8,103.9 178.1,104.6 181.9,107.7" stroke="#ff0e00"/><path d="M185.1,107.7 186.5,108.3 190.9,109.3 195.2,109.6 199.6,109.2 204.0,108.1 205.0,107.7 208.4,105.8 209.8,104.6 211.7,101.4 211.6,98.2 209.3,95.1 208.4,94.3 204.0,92.1 203.4,91.9 199.6,91.0 195.2,90.7 190.9,91.0 187.0,91.9 186.5,92.1 182.1,94.3 181.1,95.1 178.8,98.2 178.6,101.4 180.3,104.6 182.1,106.1 185.1,107.7" stroke="#e80000"/><path d="M189.6,107.7 190.9,108.0 195.2,108.3 199.6,108.0 200.5,107.7 204.0,106.5 207.4,104.6 208.4,103.4 209.6,101.4 209.4,98.2 208.4,96.8 206.6,95.1 204.0,93.7 199.6,92.4 195.2,92.0 190.9,92.4 186.5,93.7 183.8,95.1 182.1,96.7 181.0,98.2 180.8,101.4 182.1,103.8 182.8,104.6 186.5,106.7 189.6,107.7" stroke="#c20000"/><path d="M186.0,104.6 186.5,104.8 190.9,106.2 195.2,106.7 199.6,106.1 204.0,104.7 204.3,104.6 206.8,101.4 206.6,98.2 204.0,95.7 202.9,95.1 199.6,94.1 195.2,93.7 190.9,94.1 187.5,95.1 186.5,95.6 183.8,98.2 183.4,101.4 186.0,104.6" stroke="#9d0000"/><path d="M194.4,104.6 195.2,104.6 195.9,104.6 199.6,103.5 202.5,101.4 202.0,98.2 199.6,96.9 195.2,96.1 190.9,96.9 188.3,98.2 187.7,101.4 190.9,103.7 194.4,104.6" stroke="#800000"/></g></g><g clip-path="url(#cc0)"><path d="M65.0,47.7L65.8,50.8L69.0,50.8L67.6,54.0L69.0,57.2L65.8,57.2L65.0,60.3L64.2,57.2L61.0,57.2L62.4,54.0L61.0,50.8L64.2,50.8ZM93.6,35.7L94.4,38.8L97.6,38.8L96.2,42.0L97.6,45.2L94.4,45.2L93.6,48.3L92.8,45.2L89.6,45.2L91.0,42.0L89.6,38.8L92.8,38.8ZM92.3,36.7L93.1,39.8L96.3,39.8L94.9,43.0L96.3,46.2L93.1,46.2L92.3,49.3L91.5,46.2L88.3,46.2L89.7,43.0L88.3,39.8L91.5,39.8ZM95.9,39.0L96.7,42.1L99.9,42.1L98.5,45.3L99.9,48.5L96.7,48.5L95.9,51.6L95.1,48.5L91.9,48.5L93.3,45.3L91.9,42.1L95.1,42.1ZM93.6,40.3L94.4,43.4L97.6,43.4L96.2,46.6L97.6,49.8L94.4,49.8L93.6,52.9L92.8,49.8L89.6,49.8L91.0,46.6L89.6,43.4L92.8,43.4ZM97.2,42.1L98.0,45.2L101.2,45.2L99.8,48.4L101.2,51.6L98.0,51.6L97.2,54.7L96.4,51.6L93.2,51.6L94.6,48.4L93.2,45.2L96.4,45.2ZM95.6,42.8L96.4,45.9L99.6,45.9L98.2,49.1L99.6,52.3L96.4,52.3L95.6,55.4L94.8,52.3L91.6,52.3L93.0,49.1L91.6,45.9L94.8,45.9ZM99.7,45.6L100.5,48.7L103.7,48.7L102.3,51.9L103.7,55.1L100.5,55.1L99.7,58.2L98.9,55.1L95.7,55.1L97.1,51.9L95.7,48.7L98.9,48.7ZM97.6,45.9L98.4,49.0L101.6,49.0L100.2,52.2L101.6,55.4L98.4,55.4L97.6,58.5L96.8,55.4L93.6,55.4L95.0,52.2L93.6,49.0L96.8,49.0ZM101.9,48.7L102.7,51.8L105.9,51.8L104.5,55.0L105.9,58.2L102.7,58.2L101.9,61.3L101.1,58.2L97.9,58.2L99.3,55.0L97.9,51.8L101.1,51.8ZM100.1,49.2L100.9,52.3L104.1,52.3L102.7,55.5L104.1,58.7L100.9,58.7L100.1,61.8L99.3,58.7L96.1,58.7L97.5,55.5L96.1,52.3L99.3,52.3ZM104.3,50.7L105.1,53.8L108.3,53.8L106.9,57.0L108.3,60.2L105.1,60.2L104.3,63.3L103.5,60.2L100.3,60.2L101.7,57.0L100.3,53.8L103.5,53.8ZM102.5,52.1L103.3,55.2L106.5,55.2L105.1,58.4L106.5,61.6L103.3,61.6L102.5,64.7L101.7,61.6L98.5,61.6L99.9,58.4L98.5,55.2L101.7,55.2ZM105.2,53.8L106.0,56.9L109.2,56.9L107.8,60.1L109.2,63.3L106.0,63.3L105.2,66.4L104.4,63.3L101.2,63.3L102.6,60.1L101.2,56.9L104.4,56.9ZM103.8,55.7L104.6,58.8L107.8,58.8L106.4,62.0L107.8,65.2L104.6,65.2L103.8,68.3L103.0,65.2L99.8,65.2L101.2,62.0L99.8,58.8L103.0,58.8ZM107.3,57.3L108.1,60.4L111.3,60.4L109.9,63.6L111.3,66.8L108.1,66.8L107.3,69.9L106.5,66.8L103.3,66.8L104.7,63.6L103.3,60.4L106.5,60.4ZM106.1,58.2L106.9,61.3L110.1,61.3L108.7,64.5L110.1,67.7L106.9,67.7L106.1,70.8L105.3,67.7L102.1,67.7L103.5,64.5L102.1,61.3L105.3,61.3ZM109.7,59.7L110.5,62.8L113.7,62.8L112.3,66.0L113.7,69.2L110.5,69.2L109.7,72.3L108.9,69.2L105.7,69.2L107.1,66.0L105.7,62.8L108.9,62.8ZM107.4,61.0L108.2,64.1L111.4,64.1L110.0,67.3L111.4,70.5L108.2,70.5L107.4,73.6L106.6,70.5L103.4,70.5L104.8,67.3L103.4,64.1L106.6,64.1ZM111.8,63.2L112.6,66.3L115.8,66.3L114.4,69.5L115.8,72.7L112.6,72.7L111.8,75.8L111.0,72.7L107.8,72.7L109.2,69.5L107.8,66.3L111.0,66.3ZM109.7,64.5L110.5,67.6L113.7,67.6L112.3,70.8L113.7,74.0L110.5,74.0L109.7,77.1L108.9,74.0L105.7,74.0L107.1,70.8L105.7,67.6L108.9,67.6ZM111.9,65.5L112.7,68.6L115.9,68.6L114.5,71.8L115.9,75.0L112.7,75.0L111.9,78.1L111.1,75.0L107.9,75.0L109.3,71.8L107.9,68.6L111.1,68.6ZM112.4,65.9L113.2,69.0L116.4,69.0L115.0,72.2L116.4,75.4L113.2,75.4L112.4,78.5L111.6,75.4L108.4,75.4L109.8,72.2L108.4,69.0L111.6,69.0ZM108.3,33.0L109.1,36.1L112.3,36.1L110.9,39.3L112.3,42.5L109.1,42.5L108.3,45.6L107.5,42.5L104.3,42.5L105.7,39.3L104.3,36.1L107.5,36.1ZM107.4,34.9L108.2,38.0L111.4,38.0L110.0,41.2L111.4,44.4L108.2,44.4L107.4,47.5L106.6,44.4L103.4,44.4L104.8,41.2L103.4,38.0L106.6,38.0ZM111.7,34.9L112.5,38.0L115.7,38.0L114.3,41.2L115.7,44.4L112.5,44.4L111.7,47.5L110.9,44.4L107.7,44.4L109.1,41.2L107.7,38.0L110.9,38.0ZM110.8,36.3L111.6,39.4L114.8,39.4L113.4,42.6L114.8,45.8L111.6,45.8L110.8,48.9L110.0,45.8L106.8,45.8L108.2,42.6L106.8,39.4L110.0,39.4ZM114.1,37.7L114.9,40.8L118.1,40.8L116.7,44.0L118.1,47.2L114.9,47.2L114.1,50.3L113.3,47.2L110.1,47.2L111.5,44.0L110.1,40.8L113.3,40.8ZM112.6,39.0L113.4,42.1L116.6,42.1L115.2,45.3L116.6,48.5L113.4,48.5L112.6,51.6L111.8,48.5L108.6,48.5L110.0,45.3L108.6,42.1L111.8,42.1ZM116.5,39.9L117.3,43.0L120.5,43.0L119.1,46.2L120.5,49.4L117.3,49.4L116.5,52.5L115.7,49.4L112.5,49.4L113.9,46.2L112.5,43.0L115.7,43.0ZM116.1,41.3L116.9,44.4L120.1,44.4L118.7,47.6L120.1,50.8L116.9,50.8L116.1,53.9L115.3,50.8L112.1,50.8L113.5,47.6L112.1,44.4L115.3,44.4ZM120.3,41.7L121.1,44.8L124.3,44.8L122.9,48.0L124.3,51.2L121.1,51.2L120.3,54.3L119.5,51.2L116.3,51.2L117.7,48.0L116.3,44.8L119.5,44.8ZM118.9,43.6L119.7,46.7L122.9,46.7L121.5,49.9L122.9,53.1L119.7,53.1L118.9,56.2L118.1,53.1L114.9,53.1L116.3,49.9L114.9,46.7L118.1,46.7ZM122.8,44.1L123.6,47.2L126.8,47.2L125.4,50.4L126.8,53.6L123.6,53.6L122.8,56.7L122.0,53.6L118.8,53.6L120.2,50.4L118.8,47.2L122.0,47.2ZM121.8,46.3L122.6,49.4L125.8,49.4L124.4,52.6L125.8,55.8L122.6,55.8L121.8,58.9L121.0,55.8L117.8,55.8L119.2,52.6L117.8,49.4L121.0,49.4ZM125.5,46.6L126.3,49.7L129.5,49.7L128.1,52.9L129.5,56.1L126.3,56.1L125.5,59.2L124.7,56.1L121.5,56.1L122.9,52.9L121.5,49.7L124.7,49.7ZM123.7,48.2L124.5,51.3L127.7,51.3L126.3,54.5L127.7,57.7L124.5,57.7L123.7,60.8L122.9,57.7L119.7,57.7L121.1,54.5L119.7,51.3L122.9,51.3ZM128.5,49.3L129.3,52.4L132.5,52.4L131.1,55.6L132.5,58.8L129.3,58.8L128.5,61.9L127.7,58.8L124.5,58.8L125.9,55.6L124.5,52.4L127.7,52.4ZM127.4,50.0L128.2,53.1L131.4,53.1L130.0,56.3L131.4,59.5L128.2,59.5L127.4,62.6L126.6,59.5L123.4,59.5L124.8,56.3L123.4,53.1L126.6,53.1ZM130.8,51.4L131.6,54.5L134.8,54.5L133.4,57.7L134.8,60.9L131.6,60.9L130.8,64.0L130.0,60.9L126.8,60.9L128.2,57.7L126.8,54.5L130.0,54.5ZM129.0,52.6L129.8,55.7L133.0,55.7L131.6,58.9L133.0,62.1L129.8,62.1L129.0,65.2L128.2,62.1L125.0,62.1L126.4,58.9L125.0,55.7L128.2,55.7ZM133.1,53.3L133.9,56.4L137.1,56.4L135.7,59.6L137.1,62.8L133.9,62.8L133.1,65.9L132.3,62.8L129.1,62.8L130.5,59.6L129.1,56.4L132.3,56.4ZM131.6,55.5L132.4,58.6L135.6,58.6L134.2,61.8L135.6,65.0L132.4,65.0L131.6,68.1L130.8,65.0L127.6,65.0L129.0,61.8L127.6,58.6L130.8,58.6ZM135.6,56.0L136.4,59.1L139.6,59.1L138.2,62.3L139.6,65.5L136.4,65.5L135.6,68.6L134.8,65.5L131.6,65.5L133.0,62.3L131.6,59.1L134.8,59.1ZM134.5,58.2L135.3,61.3L138.5,61.3L137.1,64.5L138.5,67.7L135.3,67.7L134.5,70.8L133.7,67.7L130.5,67.7L131.9,64.5L130.5,61.3L133.7,61.3ZM135.5,57.6L136.3,60.7L139.5,60.7L138.1,63.9L139.5,67.1L136.3,67.1L135.5,70.2L134.7,67.1L131.5,67.1L132.9,63.9L131.5,60.7L134.7,60.7ZM136.1,58.2L136.9,61.3L140.1,61.3L138.7,64.5L140.1,67.7L136.9,67.7L136.1,70.8L135.3,67.7L132.1,67.7L133.5,64.5L132.1,61.3L135.3,61.3ZM115.8,62.7L116.6,65.8L119.8,65.8L118.4,69.0L119.8,72.2L116.6,72.2L115.8,75.3L115.0,72.2L111.8,72.2L113.2,69.0L111.8,65.8L115.0,65.8ZM115.9,66.9L116.7,70.0L119.9,70.0L118.5,73.2L119.9,76.4L116.7,76.4L115.9,79.5L115.1,76.4L111.9,76.4L113.3,73.2L111.9,70.0L115.1,70.0ZM120.5,69.1L121.3,72.2L124.5,72.2L123.1,75.4L124.5,78.6L121.3,78.6L120.5,81.7L119.7,78.6L116.5,78.6L117.9,75.4L116.5,72.2L119.7,72.2ZM126.1,68.3L126.9,71.4L130.1,71.4L128.7,74.6L130.1,77.8L126.9,77.8L126.1,80.9L125.3,77.8L122.1,77.8L123.5,74.6L122.1,71.4L125.3,71.4ZM129.9,66.4L130.7,69.5L133.9,69.5L132.5,72.7L133.9,75.9L130.7,75.9L129.9,79.0L129.1,75.9L125.9,75.9L127.3,72.7L125.9,69.5L129.1,69.5ZM132.2,62.4L133.0,65.5L136.2,65.5L134.8,68.7L136.2,71.9L133.0,71.9L132.2,75.0L131.4,71.9L128.2,71.9L129.6,68.7L128.2,65.5L131.4,65.5ZM133.3,57.2L134.1,60.3L137.3,60.3L135.9,63.5L137.3,66.7L134.1,66.7L133.3,69.8L132.5,66.7L129.3,66.7L130.7,63.5L129.3,60.3L132.5,60.3ZM129.7,54.6L130.5,57.7L133.7,57.7L132.3,60.9L133.7,64.1L130.5,64.1L129.7,67.2L128.9,64.1L125.7,64.1L127.1,60.9L125.7,57.7L128.9,57.7ZM125.2,55.4L126.0,58.5L129.2,58.5L127.8,61.7L129.2,64.9L126.0,64.9L125.2,68.0L124.4,64.9L121.2,64.9L122.6,61.7L121.2,58.5L124.4,58.5ZM121.3,57.7L122.1,60.8L125.3,60.8L123.9,64.0L125.3,67.2L122.1,67.2L121.3,70.3L120.5,67.2L117.3,67.2L118.7,64.0L117.3,60.8L120.5,60.8ZM117.1,60.8L117.9,63.9L121.1,63.9L119.7,67.1L121.1,70.3L117.9,70.3L117.1,73.4L116.3,70.3L113.1,70.3L114.5,67.1L113.1,63.9L116.3,63.9ZM115.7,61.9L116.5,65.0L119.7,65.0L118.3,68.2L119.7,71.4L116.5,71.4L115.7,74.5L114.9,71.4L111.7,71.4L113.1,68.2L111.7,65.0L114.9,65.0ZM129.7,55.0L130.5,58.1L133.7,58.1L132.3,61.3L133.7,64.5L130.5,64.5L129.7,67.6L128.9,64.5L125.7,64.5L127.1,61.3L125.7,58.1L128.9,58.1ZM122.3,58.7L123.1,61.8L126.3,61.8L124.9,65.0L126.3,68.2L123.1,68.2L122.3,71.3L121.5,68.2L118.3,68.2L119.7,65.0L118.3,61.8L121.5,61.8ZM127.1,58.1L127.9,61.2L131.1,61.2L129.7,64.4L131.1,67.6L127.9,67.6L127.1,70.7L126.3,67.6L123.1,67.6L124.5,64.4L123.1,61.2L126.3,61.2ZM132.2,58.8L133.0,61.9L136.2,61.9L134.8,65.1L136.2,68.3L133.0,68.3L132.2,71.4L131.4,68.3L128.2,68.3L129.6,65.1L128.2,61.9L131.4,61.9ZM116.2,63.6L117.0,66.7L120.2,66.7L118.8,69.9L120.2,73.1L117.0,73.1L116.2,76.2L115.4,73.1L112.2,73.1L113.6,69.9L112.2,66.7L115.4,66.7ZM119.8,62.9L120.6,66.0L123.8,66.0L122.4,69.2L123.8,72.4L120.6,72.4L119.8,75.5L119.0,72.4L115.8,72.4L117.2,69.2L115.8,66.0L119.0,66.0ZM125.2,63.1L126.0,66.2L129.2,66.2L127.8,69.4L129.2,72.6L126.0,72.6L125.2,75.7L124.4,72.6L121.2,72.6L122.6,69.4L121.2,66.2L124.4,66.2ZM118.0,66.9L118.8,70.0L122.0,70.0L120.6,73.2L122.0,76.4L118.8,76.4L118.0,79.5L117.2,76.4L114.0,76.4L115.4,73.2L114.0,70.0L117.2,70.0ZM122.2,67.4L123.0,70.5L126.2,70.5L124.8,73.7L126.2,76.9L123.0,76.9L122.2,80.0L121.4,76.9L118.2,76.9L119.6,73.7L118.2,70.5L121.4,70.5ZM129.5,50.7L130.3,53.8L133.5,53.8L132.1,57.0L133.5,60.2L130.3,60.2L129.5,63.3L128.7,60.2L125.5,60.2L126.9,57.0L125.5,53.8L128.7,53.8ZM131.5,48.6L132.3,51.7L135.5,51.7L134.1,54.9L135.5,58.1L132.3,58.1L131.5,61.2L130.7,58.1L127.5,58.1L128.9,54.9L127.5,51.7L130.7,51.7ZM134.2,46.4L135.0,49.5L138.2,49.5L136.8,52.7L138.2,55.9L135.0,55.9L134.2,59.0L133.4,55.9L130.2,55.9L131.6,52.7L130.2,49.5L133.4,49.5ZM138.2,44.7L139.0,47.8L142.2,47.8L140.8,51.0L142.2,54.2L139.0,54.2L138.2,57.3L137.4,54.2L134.2,54.2L135.6,51.0L134.2,47.8L137.4,47.8ZM140.8,41.8L141.6,44.9L144.8,44.9L143.4,48.1L144.8,51.3L141.6,51.3L140.8,54.4L140.0,51.3L136.8,51.3L138.2,48.1L136.8,44.9L140.0,44.9ZM140.8,41.3L141.6,44.4L144.8,44.4L143.4,47.6L144.8,50.8L141.6,50.8L140.8,53.9L140.0,50.8L136.8,50.8L138.2,47.6L136.8,44.4L140.0,44.4ZM80.3,67.7L81.1,70.8L84.3,70.8L82.9,74.0L84.3,77.2L81.1,77.2L80.3,80.3L79.5,77.2L76.3,77.2L77.7,74.0L76.3,70.8L79.5,70.8ZM83.9,67.0L84.7,70.1L87.9,70.1L86.5,73.3L87.9,76.5L84.7,76.5L83.9,79.6L83.1,76.5L79.9,76.5L81.3,73.3L79.9,70.1L83.1,70.1ZM86.8,67.2L87.6,70.3L90.8,70.3L89.4,73.5L90.8,76.7L87.6,76.7L86.8,79.8L86.0,76.7L82.8,76.7L84.2,73.5L82.8,70.3L86.0,70.3ZM91.3,66.8L92.1,69.9L95.3,69.9L93.9,73.1L95.3,76.3L92.1,76.3L91.3,79.4L90.5,76.3L87.3,76.3L88.7,73.1L87.3,69.9L90.5,69.9ZM94.7,66.3L95.5,69.4L98.7,69.4L97.3,72.6L98.7,75.8L95.5,75.8L94.7,78.9L93.9,75.8L90.7,75.8L92.1,72.6L90.7,69.4L93.9,69.4ZM98.1,65.1L98.9,68.2L102.1,68.2L100.7,71.4L102.1,74.6L98.9,74.6L98.1,77.7L97.3,74.6L94.1,74.6L95.5,71.4L94.1,68.2L97.3,68.2ZM101.5,64.8L102.3,67.9L105.5,67.9L104.1,71.1L105.5,74.3L102.3,74.3L101.5,77.4L100.7,74.3L97.5,74.3L98.9,71.1L97.5,67.9L100.7,67.9ZM104.4,64.0L105.2,67.1L108.4,67.1L107.0,70.3L108.4,73.5L105.2,73.5L104.4,76.6L103.6,73.5L100.4,73.5L101.8,70.3L100.4,67.1L103.6,67.1ZM108.3,63.8L109.1,66.9L112.3,66.9L110.9,70.1L112.3,73.3L109.1,73.3L108.3,76.4L107.5,73.3L104.3,73.3L105.7,70.1L104.3,66.9L107.5,66.9ZM112.2,64.2L113.0,67.3L116.2,67.3L114.8,70.5L116.2,73.7L113.0,73.7L112.2,76.8L111.4,73.7L108.2,73.7L109.6,70.5L108.2,67.3L111.4,67.3ZM116.6,74.9L117.4,78.0L120.6,78.0L119.2,81.2L120.6,84.4L117.4,84.4L116.6,87.5L115.8,84.4L112.6,84.4L114.0,81.2L112.6,78.0L115.8,78.0ZM115.9,77.6L116.7,80.7L119.9,80.7L118.5,83.9L119.9,87.1L116.7,87.1L115.9,90.2L115.1,87.1L111.9,87.1L113.3,83.9L111.9,80.7L115.1,80.7ZM119.7,75.6L120.5,78.7L123.7,78.7L122.3,81.9L123.7,85.1L120.5,85.1L119.7,88.2L118.9,85.1L115.7,85.1L117.1,81.9L115.7,78.7L118.9,78.7ZM118.2,78.3L119.0,81.4L122.2,81.4L120.8,84.6L122.2,87.8L119.0,87.8L118.2,90.9L117.4,87.8L114.2,87.8L115.6,84.6L114.2,81.4L117.4,81.4ZM122.8,77.7L123.6,80.8L126.8,80.8L125.4,84.0L126.8,87.2L123.6,87.2L122.8,90.3L122.0,87.2L118.8,87.2L120.2,84.0L118.8,80.8L122.0,80.8ZM122.2,80.7L123.0,83.8L126.2,83.8L124.8,87.0L126.2,90.2L123.0,90.2L122.2,93.3L121.4,90.2L118.2,90.2L119.6,87.0L118.2,83.8L121.4,83.8ZM126.3,79.4L127.1,82.5L130.3,82.5L128.9,85.7L130.3,88.9L127.1,88.9L126.3,92.0L125.5,88.9L122.3,88.9L123.7,85.7L122.3,82.5L125.5,82.5ZM125.3,81.4L126.1,84.5L129.3,84.5L127.9,87.7L129.3,90.9L126.1,90.9L125.3,94.0L124.5,90.9L121.3,90.9L122.7,87.7L121.3,84.5L124.5,84.5ZM129.7,81.3L130.5,84.4L133.7,84.4L132.3,87.6L133.7,90.8L130.5,90.8L129.7,93.9L128.9,90.8L125.7,90.8L127.1,87.6L125.7,84.4L128.9,84.4ZM128.5,83.8L129.3,86.9L132.5,86.9L131.1,90.1L132.5,93.3L129.3,93.3L128.5,96.4L127.7,93.3L124.5,93.3L125.9,90.1L124.5,86.9L127.7,86.9ZM132.7,82.0L133.5,85.1L136.7,85.1L135.3,88.3L136.7,91.5L133.5,91.5L132.7,94.6L131.9,91.5L128.7,91.5L130.1,88.3L128.7,85.1L131.9,85.1ZM131.8,84.9L132.6,88.0L135.8,88.0L134.4,91.2L135.8,94.4L132.6,94.4L131.8,97.5L131.0,94.4L127.8,94.4L129.2,91.2L127.8,88.0L131.0,88.0ZM136.4,84.6L137.2,87.7L140.4,87.7L139.0,90.9L140.4,94.1L137.2,94.1L136.4,97.2L135.6,94.1L132.4,94.1L133.8,90.9L132.4,87.7L135.6,87.7ZM134.5,86.6L135.3,89.7L138.5,89.7L137.1,92.9L138.5,96.1L135.3,96.1L134.5,99.2L133.7,96.1L130.5,96.1L131.9,92.9L130.5,89.7L133.7,89.7ZM136.5,86.0L137.3,89.1L140.5,89.1L139.1,92.3L140.5,95.5L137.3,95.5L136.5,98.6L135.7,95.5L132.5,95.5L133.9,92.3L132.5,89.1L135.7,89.1ZM135.6,85.3L136.4,88.4L139.6,88.4L138.2,91.6L139.6,94.8L136.4,94.8L135.6,97.9L134.8,94.8L131.6,94.8L133.0,91.6L131.6,88.4L134.8,88.4ZM98.5,85.2L99.3,88.3L102.5,88.3L101.1,91.5L102.5,94.7L99.3,94.7L98.5,97.8L97.7,94.7L94.5,94.7L95.9,91.5L94.5,88.3L97.7,88.3ZM98.5,96.7L99.3,99.8L102.5,99.8L101.1,103.0L102.5,106.2L99.3,106.2L98.5,109.3L97.7,106.2L94.5,106.2L95.9,103.0L94.5,99.8L97.7,99.8ZM150.6,53.2L151.4,56.3L154.6,56.3L153.2,59.5L154.6,62.7L151.4,62.7L150.6,65.8L149.8,62.7L146.6,62.7L148.0,59.5L146.6,56.3L149.8,56.3ZM152.9,54.9L153.7,58.0L156.9,58.0L155.5,61.2L156.9,64.4L153.7,64.4L152.9,67.5L152.1,64.4L148.9,64.4L150.3,61.2L148.9,58.0L152.1,58.0ZM154.4,58.4L155.2,61.5L158.4,61.5L157.0,64.7L158.4,67.9L155.2,67.9L154.4,71.0L153.6,67.9L150.4,67.9L151.8,64.7L150.4,61.5L153.6,61.5ZM155.8,60.3L156.6,63.4L159.8,63.4L158.4,66.6L159.8,69.8L156.6,69.8L155.8,72.9L155.0,69.8L151.8,69.8L153.2,66.6L151.8,63.4L155.0,63.4ZM157.1,62.6L157.9,65.7L161.1,65.7L159.7,68.9L161.1,72.1L157.9,72.1L157.1,75.2L156.3,72.1L153.1,72.1L154.5,68.9L153.1,65.7L156.3,65.7ZM158.0,66.2L158.8,69.3L162.0,69.3L160.6,72.5L162.0,75.7L158.8,75.7L158.0,78.8L157.2,75.7L154.0,75.7L155.4,72.5L154.0,69.3L157.2,69.3ZM160.3,68.2L161.1,71.3L164.3,71.3L162.9,74.5L164.3,77.7L161.1,77.7L160.3,80.8L159.5,77.7L156.3,77.7L157.7,74.5L156.3,71.3L159.5,71.3ZM162.6,68.9L163.4,72.0L166.6,72.0L165.2,75.2L166.6,78.4L163.4,78.4L162.6,81.5L161.8,78.4L158.6,78.4L160.0,75.2L158.6,72.0L161.8,72.0ZM164.9,67.6L165.7,70.7L168.9,70.7L167.5,73.9L168.9,77.1L165.7,77.1L164.9,80.2L164.1,77.1L160.9,77.1L162.3,73.9L160.9,70.7L164.1,70.7ZM166.6,65.2L167.4,68.3L170.6,68.3L169.2,71.5L170.6,74.7L167.4,74.7L166.6,77.8L165.8,74.7L162.6,74.7L164.0,71.5L162.6,68.3L165.8,68.3ZM169.1,63.4L169.9,66.5L173.1,66.5L171.7,69.7L173.1,72.9L169.9,72.9L169.1,76.0L168.3,72.9L165.1,72.9L166.5,69.7L165.1,66.5L168.3,66.5ZM171.9,61.7L172.7,64.8L175.9,64.8L174.5,68.0L175.9,71.2L172.7,71.2L171.9,74.3L171.1,71.2L167.9,71.2L169.3,68.0L167.9,64.8L171.1,64.8ZM174.1,59.8L174.9,62.9L178.1,62.9L176.7,66.1L178.1,69.3L174.9,69.3L174.1,72.4L173.3,69.3L170.1,69.3L171.5,66.1L170.1,62.9L173.3,62.9ZM177.2,58.3L178.0,61.4L181.2,61.4L179.8,64.6L181.2,67.8L178.0,67.8L177.2,70.9L176.4,67.8L173.2,67.8L174.6,64.6L173.2,61.4L176.4,61.4ZM179.1,56.9L179.9,60.0L183.1,60.0L181.7,63.2L183.1,66.4L179.9,66.4L179.1,69.5L178.3,66.4L175.1,66.4L176.5,63.2L175.1,60.0L178.3,60.0ZM182.1,54.9L182.9,58.0L186.1,58.0L184.7,61.2L186.1,64.4L182.9,64.4L182.1,67.5L181.3,64.4L178.1,64.4L179.5,61.2L178.1,58.0L181.3,58.0ZM184.5,53.3L185.3,56.4L188.5,56.4L187.1,59.6L188.5,62.8L185.3,62.8L184.5,65.9L183.7,62.8L180.5,62.8L181.9,59.6L180.5,56.4L183.7,56.4ZM186.5,51.6L187.3,54.7L190.5,54.7L189.1,57.9L190.5,61.1L187.3,61.1L186.5,64.2L185.7,61.1L182.5,61.1L183.9,57.9L182.5,54.7L185.7,54.7ZM188.4,49.8L189.2,52.9L192.4,52.9L191.0,56.1L192.4,59.3L189.2,59.3L188.4,62.4L187.6,59.3L184.4,59.3L185.8,56.1L184.4,52.9L187.6,52.9ZM191.1,47.6L191.9,50.7L195.1,50.7L193.7,53.9L195.1,57.1L191.9,57.1L191.1,60.2L190.3,57.1L187.1,57.1L188.5,53.9L187.1,50.7L190.3,50.7ZM194.3,46.1L195.1,49.2L198.3,49.2L196.9,52.4L198.3,55.6L195.1,55.6L194.3,58.7L193.5,55.6L190.3,55.6L191.7,52.4L190.3,49.2L193.5,49.2ZM196.4,45.1L197.2,48.2L200.4,48.2L199.0,51.4L200.4,54.6L197.2,54.6L196.4,57.7L195.6,54.6L192.4,54.6L193.8,51.4L192.4,48.2L195.6,48.2ZM199.0,43.0L199.8,46.1L203.0,46.1L201.6,49.3L203.0,52.5L199.8,52.5L199.0,55.6L198.2,52.5L195.0,52.5L196.4,49.3L195.0,46.1L198.2,46.1ZM201.6,41.8L202.4,44.9L205.6,44.9L204.2,48.1L205.6,51.3L202.4,51.3L201.6,54.4L200.8,51.3L197.6,51.3L199.0,48.1L197.6,44.9L200.8,44.9ZM204.5,39.8L205.3,42.9L208.5,42.9L207.1,46.1L208.5,49.3L205.3,49.3L204.5,52.4L203.7,49.3L200.5,49.3L201.9,46.1L200.5,42.9L203.7,42.9ZM206.9,38.6L207.7,41.7L210.9,41.7L209.5,44.9L210.9,48.1L207.7,48.1L206.9,51.2L206.1,48.1L202.9,48.1L204.3,44.9L202.9,41.7L206.1,41.7ZM209.2,37.8L210.0,40.9L213.2,40.9L211.8,44.1L213.2,47.3L210.0,47.3L209.2,50.4L208.4,47.3L205.2,47.3L206.6,44.1L205.2,40.9L208.4,40.9ZM212.1,36.1L212.9,39.2L216.1,39.2L214.7,42.4L216.1,45.6L212.9,45.6L212.1,48.7L211.3,45.6L208.1,45.6L209.5,42.4L208.1,39.2L211.3,39.2ZM215.0,35.1L215.8,38.2L219.0,38.2L217.6,41.4L219.0,44.6L215.8,44.6L215.0,47.7L214.2,44.6L211.0,44.6L212.4,41.4L211.0,38.2L214.2,38.2ZM217.3,33.3L218.1,36.4L221.3,36.4L219.9,39.6L221.3,42.8L218.1,42.8L217.3,45.9L216.5,42.8L213.3,42.8L214.7,39.6L213.3,36.4L216.5,36.4ZM220.0,31.7L220.8,34.8L224.0,34.8L222.6,38.0L224.0,41.2L220.8,41.2L220.0,44.3L219.2,41.2L216.0,41.2L217.4,38.0L216.0,34.8L219.2,34.8ZM220.2,31.6L221.0,34.7L224.2,34.7L222.8,37.9L224.2,41.1L221.0,41.1L220.2,44.2L219.4,41.1L216.2,41.1L217.6,37.9L216.2,34.7L219.4,34.7ZM248.0,40.7L248.8,43.8L252.0,43.8L250.6,47.0L252.0,50.2L248.8,50.2L248.0,53.3L247.2,50.2L244.0,50.2L245.4,47.0L244.0,43.8L247.2,43.8ZM263.0,43.2L263.8,46.3L267.0,46.3L265.6,49.5L267.0,52.7L263.8,52.7L263.0,55.8L262.2,52.7L259.0,52.7L260.4,49.5L259.0,46.3L262.2,46.3ZM221.4,60.7L222.2,63.8L225.4,63.8L224.0,67.0L225.4,70.2L222.2,70.2L221.4,73.3L220.6,70.2L217.4,70.2L218.8,67.0L217.4,63.8L220.6,63.8ZM264.0,35.7L264.8,38.8L268.0,38.8L266.6,42.0L268.0,45.2L264.8,45.2L264.0,48.3L263.2,45.2L260.0,45.2L261.4,42.0L260.0,38.8L263.2,38.8ZM267.4,36.8L268.2,39.9L271.4,39.9L270.0,43.1L271.4,46.3L268.2,46.3L267.4,49.4L266.6,46.3L263.4,46.3L264.8,43.1L263.4,39.9L266.6,39.9ZM270.2,38.0L271.0,41.1L274.2,41.1L272.8,44.3L274.2,47.5L271.0,47.5L270.2,50.6L269.4,47.5L266.2,47.5L267.6,44.3L266.2,41.1L269.4,41.1ZM272.3,38.5L273.1,41.6L276.3,41.6L274.9,44.8L276.3,48.0L273.1,48.0L272.3,51.1L271.5,48.0L268.3,48.0L269.7,44.8L268.3,41.6L271.5,41.6ZM276.0,39.7L276.8,42.8L280.0,42.8L278.6,46.0L280.0,49.2L276.8,49.2L276.0,52.3L275.2,49.2L272.0,49.2L273.4,46.0L272.0,42.8L275.2,42.8ZM277.9,39.8L278.7,42.9L281.9,42.9L280.5,46.1L281.9,49.3L278.7,49.3L277.9,52.4L277.1,49.3L273.9,49.3L275.3,46.1L273.9,42.9L277.1,42.9ZM281.1,40.6L281.9,43.7L285.1,43.7L283.7,46.9L285.1,50.1L281.9,50.1L281.1,53.2L280.3,50.1L277.1,50.1L278.5,46.9L277.1,43.7L280.3,43.7ZM283.7,41.6L284.5,44.7L287.7,44.7L286.3,47.9L287.7,51.1L284.5,51.1L283.7,54.2L282.9,51.1L279.7,51.1L281.1,47.9L279.7,44.7L282.9,44.7ZM287.0,43.6L287.8,46.7L291.0,46.7L289.6,49.9L291.0,53.1L287.8,53.1L287.0,56.2L286.2,53.1L283.0,53.1L284.4,49.9L283.0,46.7L286.2,46.7ZM290.0,44.0L290.8,47.1L294.0,47.1L292.6,50.3L294.0,53.5L290.8,53.5L290.0,56.6L289.2,53.5L286.0,53.5L287.4,50.3L286.0,47.1L289.2,47.1ZM292.5,45.8L293.3,48.9L296.5,48.9L295.1,52.1L296.5,55.3L293.3,55.3L292.5,58.4L291.7,55.3L288.5,55.3L289.9,52.1L288.5,48.9L291.7,48.9ZM294.6,47.2L295.4,50.3L298.6,50.3L297.2,53.5L298.6,56.7L295.4,56.7L294.6,59.8L293.8,56.7L290.6,56.7L292.0,53.5L290.6,50.3L293.8,50.3ZM298.4,47.6L299.2,50.7L302.4,50.7L301.0,53.9L302.4,57.1L299.2,57.1L298.4,60.2L297.6,57.1L294.4,57.1L295.8,53.9L294.4,50.7L297.6,50.7ZM301.1,49.0L301.9,52.1L305.1,52.1L303.7,55.3L305.1,58.5L301.9,58.5L301.1,61.6L300.3,58.5L297.1,58.5L298.5,55.3L297.1,52.1L300.3,52.1ZM302.0,50.3L302.8,53.4L306.0,53.4L304.6,56.6L306.0,59.8L302.8,59.8L302.0,62.9L301.2,59.8L298.0,59.8L299.4,56.6L298.0,53.4L301.2,53.4ZM326.0,48.7L326.8,51.8L330.0,51.8L328.6,55.0L330.0,58.2L326.8,58.2L326.0,61.3L325.2,58.2L322.0,58.2L323.4,55.0L322.0,51.8L325.2,51.8ZM326.0,52.7L326.8,55.8L330.0,55.8L328.6,59.0L330.0,62.2L326.8,62.2L326.0,65.3L325.2,62.2L322.0,62.2L323.4,59.0L322.0,55.8L325.2,55.8ZM246.3,59.4L247.1,62.5L250.3,62.5L248.9,65.7L250.3,68.9L247.1,68.9L246.3,72.0L245.5,68.9L242.3,68.9L243.7,65.7L242.3,62.5L245.5,62.5ZM245.9,63.3L246.7,66.4L249.9,66.4L248.5,69.6L249.9,72.8L246.7,72.8L245.9,75.9L245.1,72.8L241.9,72.8L243.3,69.6L241.9,66.4L245.1,66.4ZM246.9,66.4L247.7,69.5L250.9,69.5L249.5,72.7L250.9,75.9L247.7,75.9L246.9,79.0L246.1,75.9L242.9,75.9L244.3,72.7L242.9,69.5L246.1,69.5ZM249.5,69.5L250.3,72.6L253.5,72.6L252.1,75.8L253.5,79.0L250.3,79.0L249.5,82.1L248.7,79.0L245.5,79.0L246.9,75.8L245.5,72.6L248.7,72.6ZM252.3,70.7L253.1,73.8L256.3,73.8L254.9,77.0L256.3,80.2L253.1,80.2L252.3,83.3L251.5,80.2L248.3,80.2L249.7,77.0L248.3,73.8L251.5,73.8ZM256.2,70.8L257.0,73.9L260.2,73.9L258.8,77.1L260.2,80.3L257.0,80.3L256.2,83.4L255.4,80.3L252.2,80.3L253.6,77.1L252.2,73.9L255.4,73.9ZM259.3,69.8L260.1,72.9L263.3,72.9L261.9,76.1L263.3,79.3L260.1,79.3L259.3,82.4L258.5,79.3L255.3,79.3L256.7,76.1L255.3,72.9L258.5,72.9ZM261.0,66.0L261.8,69.1L265.0,69.1L263.6,72.3L265.0,75.5L261.8,75.5L261.0,78.6L260.2,75.5L257.0,75.5L258.4,72.3L257.0,69.1L260.2,69.1ZM261.4,63.2L262.2,66.3L265.4,66.3L264.0,69.5L265.4,72.7L262.2,72.7L261.4,75.8L260.6,72.7L257.4,72.7L258.8,69.5L257.4,66.3L260.6,66.3ZM258.6,60.2L259.4,63.3L262.6,63.3L261.2,66.5L262.6,69.7L259.4,69.7L258.6,72.8L257.8,69.7L254.6,69.7L256.0,66.5L254.6,63.3L257.8,63.3ZM254.8,58.7L255.6,61.8L258.8,61.8L257.4,65.0L258.8,68.2L255.6,68.2L254.8,71.3L254.0,68.2L250.8,68.2L252.2,65.0L250.8,61.8L254.0,61.8ZM251.7,58.3L252.5,61.4L255.7,61.4L254.3,64.6L255.7,67.8L252.5,67.8L251.7,70.9L250.9,67.8L247.7,67.8L249.1,64.6L247.7,61.4L250.9,61.4ZM247.6,59.0L248.4,62.1L251.6,62.1L250.2,65.3L251.6,68.5L248.4,68.5L247.6,71.6L246.8,68.5L243.6,68.5L245.0,65.3L243.6,62.1L246.8,62.1ZM246.4,60.1L247.2,63.2L250.4,63.2L249.0,66.4L250.4,69.6L247.2,69.6L246.4,72.7L245.6,69.6L242.4,69.6L243.8,66.4L242.4,63.2L245.6,63.2ZM250.1,58.4L250.9,61.5L254.1,61.5L252.7,64.7L254.1,67.9L250.9,67.9L250.1,71.0L249.3,67.9L246.1,67.9L247.5,64.7L246.1,61.5L249.3,61.5ZM248.3,61.7L249.1,64.8L252.3,64.8L250.9,68.0L252.3,71.2L249.1,71.2L248.3,74.3L247.5,71.2L244.3,71.2L245.7,68.0L244.3,64.8L247.5,64.8ZM251.6,60.6L252.4,63.7L255.6,63.7L254.2,66.9L255.6,70.1L252.4,70.1L251.6,73.2L250.8,70.1L247.6,70.1L249.0,66.9L247.6,63.7L250.8,63.7ZM255.4,60.5L256.2,63.6L259.4,63.6L258.0,66.8L259.4,70.0L256.2,70.0L255.4,73.1L254.6,70.0L251.4,70.0L252.8,66.8L251.4,63.6L254.6,63.6ZM259.0,61.3L259.8,64.4L263.0,64.4L261.6,67.6L263.0,70.8L259.8,70.8L259.0,73.9L258.2,70.8L255.0,70.8L256.4,67.6L255.0,64.4L258.2,64.4ZM250.1,64.1L250.9,67.2L254.1,67.2L252.7,70.4L254.1,73.6L250.9,73.6L250.1,76.7L249.3,73.6L246.1,73.6L247.5,70.4L246.1,67.2L249.3,67.2ZM252.1,64.6L252.9,67.7L256.1,67.7L254.7,70.9L256.1,74.1L252.9,74.1L252.1,77.2L251.3,74.1L248.1,74.1L249.5,70.9L248.1,67.7L251.3,67.7ZM255.9,63.8L256.7,66.9L259.9,66.9L258.5,70.1L259.9,73.3L256.7,73.3L255.9,76.4L255.1,73.3L251.9,73.3L253.3,70.1L251.9,66.9L255.1,66.9ZM259.4,63.6L260.2,66.7L263.4,66.7L262.0,69.9L263.4,73.1L260.2,73.1L259.4,76.2L258.6,73.1L255.4,73.1L256.8,69.9L255.4,66.7L258.6,66.7ZM250.7,68.2L251.5,71.3L254.7,71.3L253.3,74.5L254.7,77.7L251.5,77.7L250.7,80.8L249.9,77.7L246.7,77.7L248.1,74.5L246.7,71.3L249.9,71.3ZM254.2,67.7L255.0,70.8L258.2,70.8L256.8,74.0L258.2,77.2L255.0,77.2L254.2,80.3L253.4,77.2L250.2,77.2L251.6,74.0L250.2,70.8L253.4,70.8ZM257.6,67.4L258.4,70.5L261.6,70.5L260.2,73.7L261.6,76.9L258.4,76.9L257.6,80.0L256.8,76.9L253.6,76.9L255.0,73.7L253.6,70.5L256.8,70.5ZM252.9,70.2L253.7,73.3L256.9,73.3L255.5,76.5L256.9,79.7L253.7,79.7L252.9,82.8L252.1,79.7L248.9,79.7L250.3,76.5L248.9,73.3L252.1,73.3ZM247.9,68.7L248.7,71.8L251.9,71.8L250.5,75.0L251.9,78.2L248.7,78.2L247.9,81.3L247.1,78.2L243.9,78.2L245.3,75.0L243.9,71.8L247.1,71.8ZM245.3,70.4L246.1,73.5L249.3,73.5L247.9,76.7L249.3,79.9L246.1,79.9L245.3,83.0L244.5,79.9L241.3,79.9L242.7,76.7L241.3,73.5L244.5,73.5ZM241.9,72.7L242.7,75.8L245.9,75.8L244.5,79.0L245.9,82.2L242.7,82.2L241.9,85.3L241.1,82.2L237.9,82.2L239.3,79.0L237.9,75.8L241.1,75.8ZM239.4,74.1L240.2,77.2L243.4,77.2L242.0,80.4L243.4,83.6L240.2,83.6L239.4,86.7L238.6,83.6L235.4,83.6L236.8,80.4L235.4,77.2L238.6,77.2ZM236.1,76.5L236.9,79.6L240.1,79.6L238.7,82.8L240.1,86.0L236.9,86.0L236.1,89.1L235.3,86.0L232.1,86.0L233.5,82.8L232.1,79.6L235.3,79.6ZM232.8,78.0L233.6,81.1L236.8,81.1L235.4,84.3L236.8,87.5L233.6,87.5L232.8,90.6L232.0,87.5L228.8,87.5L230.2,84.3L228.8,81.1L232.0,81.1ZM229.4,79.4L230.2,82.5L233.4,82.5L232.0,85.7L233.4,88.9L230.2,88.9L229.4,92.0L228.6,88.9L225.4,88.9L226.8,85.7L225.4,82.5L228.6,82.5ZM226.1,81.4L226.9,84.5L230.1,84.5L228.7,87.7L230.1,90.9L226.9,90.9L226.1,94.0L225.3,90.9L222.1,90.9L223.5,87.7L222.1,84.5L225.3,84.5ZM223.8,83.5L224.6,86.6L227.8,86.6L226.4,89.8L227.8,93.0L224.6,93.0L223.8,96.1L223.0,93.0L219.8,93.0L221.2,89.8L219.8,86.6L223.0,86.6ZM220.0,85.2L220.8,88.3L224.0,88.3L222.6,91.5L224.0,94.7L220.8,94.7L220.0,97.8L219.2,94.7L216.0,94.7L217.4,91.5L216.0,88.3L219.2,88.3ZM217.8,88.0L218.6,91.1L221.8,91.1L220.4,94.3L221.8,97.5L218.6,97.5L217.8,100.6L217.0,97.5L213.8,97.5L215.2,94.3L213.8,91.1L217.0,91.1ZM214.5,89.2L215.3,92.3L218.5,92.3L217.1,95.5L218.5,98.7L215.3,98.7L214.5,101.8L213.7,98.7L210.5,98.7L211.9,95.5L210.5,92.3L213.7,92.3ZM211.4,91.7L212.2,94.8L215.4,94.8L214.0,98.0L215.4,101.2L212.2,101.2L211.4,104.3L210.6,101.2L207.4,101.2L208.8,98.0L207.4,94.8L210.6,94.8ZM209.1,94.1L209.9,97.2L213.1,97.2L211.7,100.4L213.1,103.6L209.9,103.6L209.1,106.7L208.3,103.6L205.1,103.6L206.5,100.4L205.1,97.2L208.3,97.2ZM206.9,96.4L207.7,99.5L210.9,99.5L209.5,102.7L210.9,105.9L207.7,105.9L206.9,109.0L206.1,105.9L202.9,105.9L204.3,102.7L202.9,99.5L206.1,99.5ZM272.6,102.3L273.4,105.4L276.6,105.4L275.2,108.6L276.6,111.8L273.4,111.8L272.6,114.9L271.8,111.8L268.6,111.8L270.0,108.6L268.6,105.4L271.8,105.4ZM274.4,98.7L275.2,101.8L278.4,101.8L277.0,105.0L278.4,108.2L275.2,108.2L274.4,111.3L273.6,108.2L270.4,108.2L271.8,105.0L270.4,101.8L273.6,101.8ZM277.3,96.1L278.1,99.2L281.3,99.2L279.9,102.4L281.3,105.6L278.1,105.6L277.3,108.7L276.5,105.6L273.3,105.6L274.7,102.4L273.3,99.2L276.5,99.2ZM279.0,93.0L279.8,96.1L283.0,96.1L281.6,99.3L283.0,102.5L279.8,102.5L279.0,105.6L278.2,102.5L275.0,102.5L276.4,99.3L275.0,96.1L278.2,96.1ZM281.7,91.2L282.5,94.3L285.7,94.3L284.3,97.5L285.7,100.7L282.5,100.7L281.7,103.8L280.9,100.7L277.7,100.7L279.1,97.5L277.7,94.3L280.9,94.3ZM284.6,88.5L285.4,91.6L288.6,91.6L287.2,94.8L288.6,98.0L285.4,98.0L284.6,101.1L283.8,98.0L280.6,98.0L282.0,94.8L280.6,91.6L283.8,91.6ZM287.3,86.0L288.1,89.1L291.3,89.1L289.9,92.3L291.3,95.5L288.1,95.5L287.3,98.6L286.5,95.5L283.3,95.5L284.7,92.3L283.3,89.1L286.5,89.1ZM289.8,83.8L290.6,86.9L293.8,86.9L292.4,90.1L293.8,93.3L290.6,93.3L289.8,96.4L289.0,93.3L285.8,93.3L287.2,90.1L285.8,86.9L289.0,86.9ZM292.8,81.4L293.6,84.5L296.8,84.5L295.4,87.7L296.8,90.9L293.6,90.9L292.8,94.0L292.0,90.9L288.8,90.9L290.2,87.7L288.8,84.5L292.0,84.5ZM295.1,79.4L295.9,82.5L299.1,82.5L297.7,85.7L299.1,88.9L295.9,88.9L295.1,92.0L294.3,88.9L291.1,88.9L292.5,85.7L291.1,82.5L294.3,82.5ZM297.7,77.8L298.5,80.9L301.7,80.9L300.3,84.1L301.7,87.3L298.5,87.3L297.7,90.4L296.9,87.3L293.7,87.3L295.1,84.1L293.7,80.9L296.9,80.9ZM63.5,93.9L64.3,97.0L67.5,97.0L66.1,100.2L67.5,103.4L64.3,103.4L63.5,106.5L62.7,103.4L59.5,103.4L60.9,100.2L59.5,97.0L62.7,97.0ZM63.8,97.4L64.6,100.5L67.8,100.5L66.4,103.7L67.8,106.9L64.6,106.9L63.8,110.0L63.0,106.9L59.8,106.9L61.2,103.7L59.8,100.5L63.0,100.5ZM66.6,99.4L67.4,102.5L70.6,102.5L69.2,105.7L70.6,108.9L67.4,108.9L66.6,112.0L65.8,108.9L62.6,108.9L64.0,105.7L62.6,102.5L65.8,102.5ZM69.6,99.5L70.4,102.6L73.6,102.6L72.2,105.8L73.6,109.0L70.4,109.0L69.6,112.1L68.8,109.0L65.6,109.0L67.0,105.8L65.6,102.6L68.8,102.6ZM71.5,96.6L72.3,99.7L75.5,99.7L74.1,102.9L75.5,106.1L72.3,106.1L71.5,109.2L70.7,106.1L67.5,106.1L68.9,102.9L67.5,99.7L70.7,99.7ZM69.6,93.7L70.4,96.8L73.6,96.8L72.2,100.0L73.6,103.2L70.4,103.2L69.6,106.3L68.8,103.2L65.6,103.2L67.0,100.0L65.6,96.8L68.8,96.8ZM66.4,93.3L67.2,96.4L70.4,96.4L69.0,99.6L70.4,102.8L67.2,102.8L66.4,105.9L65.6,102.8L62.4,102.8L63.8,99.6L62.4,96.4L65.6,96.4ZM63.6,93.9L64.4,97.0L67.6,97.0L66.2,100.2L67.6,103.4L64.4,103.4L63.6,106.5L62.8,103.4L59.6,103.4L61.0,100.2L59.6,97.0L62.8,97.0ZM66.0,96.2L66.8,99.3L70.0,99.3L68.6,102.5L70.0,105.7L66.8,105.7L66.0,108.8L65.2,105.7L62.0,105.7L63.4,102.5L62.0,99.3L65.2,99.3ZM69.7,96.3L70.5,99.4L73.7,99.4L72.3,102.6L73.7,105.8L70.5,105.8L69.7,108.9L68.9,105.8L65.7,105.8L67.1,102.6L65.7,99.4L68.9,99.4ZM66.2,98.4L67.0,101.5L70.2,101.5L68.8,104.7L70.2,107.9L67.0,107.9L66.2,111.0L65.4,107.9L62.2,107.9L63.6,104.7L62.2,101.5L65.4,101.5ZM70.4,98.3L71.2,101.4L74.4,101.4L73.0,104.6L74.4,107.8L71.2,107.8L70.4,110.9L69.6,107.8L66.4,107.8L67.8,104.6L66.4,101.4L69.6,101.4ZM110.4,115.8L111.2,118.9L114.4,118.9L113.0,122.1L114.4,125.3L111.2,125.3L110.4,128.4L109.6,125.3L106.4,125.3L107.8,122.1L106.4,118.9L109.6,118.9ZM112.9,113.5L113.7,116.6L116.9,116.6L115.5,119.8L116.9,123.0L113.7,123.0L112.9,126.1L112.1,123.0L108.9,123.0L110.3,119.8L108.9,116.6L112.1,116.6ZM115.7,111.0L116.5,114.1L119.7,114.1L118.3,117.3L119.7,120.5L116.5,120.5L115.7,123.6L114.9,120.5L111.7,120.5L113.1,117.3L111.7,114.1L114.9,114.1ZM117.6,109.0L118.4,112.1L121.6,112.1L120.2,115.3L121.6,118.5L118.4,118.5L117.6,121.6L116.8,118.5L113.6,118.5L115.0,115.3L113.6,112.1L116.8,112.1ZM121.2,106.3L122.0,109.4L125.2,109.4L123.8,112.6L125.2,115.8L122.0,115.8L121.2,118.9L120.4,115.8L117.2,115.8L118.6,112.6L117.2,109.4L120.4,109.4ZM123.7,104.2L124.5,107.3L127.7,107.3L126.3,110.5L127.7,113.7L124.5,113.7L123.7,116.8L122.9,113.7L119.7,113.7L121.1,110.5L119.7,107.3L122.9,107.3ZM123.5,104.0L124.3,107.1L127.5,107.1L126.1,110.3L127.5,113.5L124.3,113.5L123.5,116.6L122.7,113.5L119.5,113.5L120.9,110.3L119.5,107.1L122.7,107.1ZM135.6,121.7L136.4,124.8L139.6,124.8L138.2,128.0L139.6,131.2L136.4,131.2L135.6,134.3L134.8,131.2L131.6,131.2L133.0,128.0L131.6,124.8L134.8,124.8ZM159.6,100.7L160.4,103.8L163.6,103.8L162.2,107.0L163.6,110.2L160.4,110.2L159.6,113.3L158.8,110.2L155.6,110.2L157.0,107.0L155.6,103.8L158.8,103.8ZM159.6,103.7L160.4,106.8L163.6,106.8L162.2,110.0L163.6,113.2L160.4,113.2L159.6,116.3L158.8,113.2L155.6,113.2L157.0,110.0L155.6,106.8L158.8,106.8ZM179.8,121.3L180.6,124.4L183.8,124.4L182.4,127.6L183.8,130.8L180.6,130.8L179.8,133.9L179.0,130.8L175.8,130.8L177.2,127.6L175.8,124.4L179.0,124.4ZM60.7,114.2L61.5,117.3L64.7,117.3L63.3,120.5L64.7,123.7L61.5,123.7L60.7,126.8L59.9,123.7L56.7,123.7L58.1,120.5L56.7,117.3L59.9,117.3ZM64.1,116.2L64.9,119.3L68.1,119.3L66.7,122.5L68.1,125.7L64.9,125.7L64.1,128.8L63.3,125.7L60.1,125.7L61.5,122.5L60.1,119.3L63.3,119.3ZM67.4,117.5L68.2,120.6L71.4,120.6L70.0,123.8L71.4,127.0L68.2,127.0L67.4,130.1L66.6,127.0L63.4,127.0L64.8,123.8L63.4,120.6L66.6,120.6ZM71.7,118.4L72.5,121.5L75.7,121.5L74.3,124.7L75.7,127.9L72.5,127.9L71.7,131.0L70.9,127.9L67.7,127.9L69.1,124.7L67.7,121.5L70.9,121.5ZM74.4,119.6L75.2,122.7L78.4,122.7L77.0,125.9L78.4,129.1L75.2,129.1L74.4,132.2L73.6,129.1L70.4,129.1L71.8,125.9L70.4,122.7L73.6,122.7ZM78.1,121.2L78.9,124.3L82.1,124.3L80.7,127.5L82.1,130.7L78.9,130.7L78.1,133.8L77.3,130.7L74.1,130.7L75.5,127.5L74.1,124.3L77.3,124.3ZM81.4,122.3L82.2,125.4L85.4,125.4L84.0,128.6L85.4,131.8L82.2,131.8L81.4,134.9L80.6,131.8L77.4,131.8L78.8,128.6L77.4,125.4L80.6,125.4ZM84.2,123.0L85.0,126.1L88.2,126.1L86.8,129.3L88.2,132.5L85.0,132.5L84.2,135.6L83.4,132.5L80.2,132.5L81.6,129.3L80.2,126.1L83.4,126.1ZM87.7,124.9L88.5,128.0L91.7,128.0L90.3,131.2L91.7,134.4L88.5,134.4L87.7,137.5L86.9,134.4L83.7,134.4L85.1,131.2L83.7,128.0L86.9,128.0ZM90.8,125.8L91.6,128.9L94.8,128.9L93.4,132.1L94.8,135.3L91.6,135.3L90.8,138.4L90.0,135.3L86.8,135.3L88.2,132.1L86.8,128.9L90.0,128.9ZM79.4,125.2L80.2,128.3L83.4,128.3L82.0,131.5L83.4,134.7L80.2,134.7L79.4,137.8L78.6,134.7L75.4,134.7L76.8,131.5L75.4,128.3L78.6,128.3ZM77.5,128.7L78.3,131.8L81.5,131.8L80.1,135.0L81.5,138.2L78.3,138.2L77.5,141.3L76.7,138.2L73.5,138.2L74.9,135.0L73.5,131.8L76.7,131.8ZM75.8,131.6L76.6,134.7L79.8,134.7L78.4,137.9L79.8,141.1L76.6,141.1L75.8,144.2L75.0,141.1L71.8,141.1L73.2,137.9L71.8,134.7L75.0,134.7ZM73.1,134.2L73.9,137.3L77.1,137.3L75.7,140.5L77.1,143.7L73.9,143.7L73.1,146.8L72.3,143.7L69.1,143.7L70.5,140.5L69.1,137.3L72.3,137.3ZM71.1,137.0L71.9,140.1L75.1,140.1L73.7,143.3L75.1,146.5L71.9,146.5L71.1,149.6L70.3,146.5L67.1,146.5L68.5,143.3L67.1,140.1L70.3,140.1ZM68.4,140.3L69.2,143.4L72.4,143.4L71.0,146.6L72.4,149.8L69.2,149.8L68.4,152.9L67.6,149.8L64.4,149.8L65.8,146.6L64.4,143.4L67.6,143.4ZM66.3,143.3L67.1,146.4L70.3,146.4L68.9,149.6L70.3,152.8L67.1,152.8L66.3,155.9L65.5,152.8L62.3,152.8L63.7,149.6L62.3,146.4L65.5,146.4ZM65.0,145.0L65.8,148.1L69.0,148.1L67.6,151.3L69.0,154.5L65.8,154.5L65.0,157.6L64.2,154.5L61.0,154.5L62.4,151.3L61.0,148.1L64.2,148.1ZM62.2,148.8L63.0,151.9L66.2,151.9L64.8,155.1L66.2,158.3L63.0,158.3L62.2,161.4L61.4,158.3L58.2,158.3L59.6,155.1L58.2,151.9L61.4,151.9ZM62.6,148.6L63.4,151.7L66.6,151.7L65.2,154.9L66.6,158.1L63.4,158.1L62.6,161.2L61.8,158.1L58.6,158.1L60.0,154.9L58.6,151.7L61.8,151.7ZM62.0,114.7L62.8,117.8L66.0,117.8L64.6,121.0L66.0,124.2L62.8,124.2L62.0,127.3L61.2,124.2L58.0,124.2L59.4,121.0L58.0,117.8L61.2,117.8ZM62.0,138.7L62.8,141.8L66.0,141.8L64.6,145.0L66.0,148.2L62.8,148.2L62.0,151.3L61.2,148.2L58.0,148.2L59.4,145.0L58.0,141.8L61.2,141.8ZM62.0,148.7L62.8,151.8L66.0,151.8L64.6,155.0L66.0,158.2L62.8,158.2L62.0,161.3L61.2,158.2L58.0,158.2L59.4,155.0L58.0,151.8L61.2,151.8ZM75.7,143.4L76.5,146.5L79.7,146.5L78.3,149.7L79.7,152.9L76.5,152.9L75.7,156.0L74.9,152.9L71.7,152.9L73.1,149.7L71.7,146.5L74.9,146.5ZM79.5,145.3L80.3,148.4L83.5,148.4L82.1,151.6L83.5,154.8L80.3,154.8L79.5,157.9L78.7,154.8L75.5,154.8L76.9,151.6L75.5,148.4L78.7,148.4ZM82.1,147.3L82.9,150.4L86.1,150.4L84.7,153.6L86.1,156.8L82.9,156.8L82.1,159.9L81.3,156.8L78.1,156.8L79.5,153.6L78.1,150.4L81.3,150.4ZM85.0,150.2L85.8,153.3L89.0,153.3L87.6,156.5L89.0,159.7L85.8,159.7L85.0,162.8L84.2,159.7L81.0,159.7L82.4,156.5L81.0,153.3L84.2,153.3ZM87.5,152.1L88.3,155.2L91.5,155.2L90.1,158.4L91.5,161.6L88.3,161.6L87.5,164.7L86.7,161.6L83.5,161.6L84.9,158.4L83.5,155.2L86.7,155.2ZM91.0,154.1L91.8,157.2L95.0,157.2L93.6,160.4L95.0,163.6L91.8,163.6L91.0,166.7L90.2,163.6L87.0,163.6L88.4,160.4L87.0,157.2L90.2,157.2ZM94.2,155.4L95.0,158.5L98.2,158.5L96.8,161.7L98.2,164.9L95.0,164.9L94.2,168.0L93.4,164.9L90.2,164.9L91.6,161.7L90.2,158.5L93.4,158.5ZM97.4,157.7L98.2,160.8L101.4,160.8L100.0,164.0L101.4,167.2L98.2,167.2L97.4,170.3L96.6,167.2L93.4,167.2L94.8,164.0L93.4,160.8L96.6,160.8ZM99.4,159.1L100.2,162.2L103.4,162.2L102.0,165.4L103.4,168.6L100.2,168.6L99.4,171.7L98.6,168.6L95.4,168.6L96.8,165.4L95.4,162.2L98.6,162.2ZM102.9,161.6L103.7,164.7L106.9,164.7L105.5,167.9L106.9,171.1L103.7,171.1L102.9,174.2L102.1,171.1L98.9,171.1L100.3,167.9L98.9,164.7L102.1,164.7ZM105.0,164.0L105.8,167.1L109.0,167.1L107.6,170.3L109.0,173.5L105.8,173.5L105.0,176.6L104.2,173.5L101.0,173.5L102.4,170.3L101.0,167.1L104.2,167.1ZM107.4,167.0L108.2,170.1L111.4,170.1L110.0,173.3L111.4,176.5L108.2,176.5L107.4,179.6L106.6,176.5L103.4,176.5L104.8,173.3L103.4,170.1L106.6,170.1ZM110.3,169.4L111.1,172.5L114.3,172.5L112.9,175.7L114.3,178.9L111.1,178.9L110.3,182.0L109.5,178.9L106.3,178.9L107.7,175.7L106.3,172.5L109.5,172.5ZM112.5,173.1L113.3,176.2L116.5,176.2L115.1,179.4L116.5,182.6L113.3,182.6L112.5,185.7L111.7,182.6L108.5,182.6L109.9,179.4L108.5,176.2L111.7,176.2ZM114.0,176.0L114.8,179.1L118.0,179.1L116.6,182.3L118.0,185.5L114.8,185.5L114.0,188.6L113.2,185.5L110.0,185.5L111.4,182.3L110.0,179.1L113.2,179.1ZM117.1,178.7L117.9,181.8L121.1,181.8L119.7,185.0L121.1,188.2L117.9,188.2L117.1,191.3L116.3,188.2L113.1,188.2L114.5,185.0L113.1,181.8L116.3,181.8ZM118.8,180.9L119.6,184.0L122.8,184.0L121.4,187.2L122.8,190.4L119.6,190.4L118.8,193.5L118.0,190.4L114.8,190.4L116.2,187.2L114.8,184.0L118.0,184.0ZM121.3,184.4L122.1,187.5L125.3,187.5L123.9,190.7L125.3,193.9L122.1,193.9L121.3,197.0L120.5,193.9L117.3,193.9L118.7,190.7L117.3,187.5L120.5,187.5ZM123.1,185.5L123.9,188.6L127.1,188.6L125.7,191.8L127.1,195.0L123.9,195.0L123.1,198.1L122.3,195.0L119.1,195.0L120.5,191.8L119.1,188.6L122.3,188.6ZM107.9,141.4L108.7,144.5L111.9,144.5L110.5,147.7L111.9,150.9L108.7,150.9L107.9,154.0L107.1,150.9L103.9,150.9L105.3,147.7L103.9,144.5L107.1,144.5ZM110.9,140.3L111.7,143.4L114.9,143.4L113.5,146.6L114.9,149.8L111.7,149.8L110.9,152.9L110.1,149.8L106.9,149.8L108.3,146.6L106.9,143.4L110.1,143.4ZM115.3,139.5L116.1,142.6L119.3,142.6L117.9,145.8L119.3,149.0L116.1,149.0L115.3,152.1L114.5,149.0L111.3,149.0L112.7,145.8L111.3,142.6L114.5,142.6ZM118.9,138.5L119.7,141.6L122.9,141.6L121.5,144.8L122.9,148.0L119.7,148.0L118.9,151.1L118.1,148.0L114.9,148.0L116.3,144.8L114.9,141.6L118.1,141.6ZM121.6,137.9L122.4,141.0L125.6,141.0L124.2,144.2L125.6,147.4L122.4,147.4L121.6,150.5L120.8,147.4L117.6,147.4L119.0,144.2L117.6,141.0L120.8,141.0ZM125.0,136.7L125.8,139.8L129.0,139.8L127.6,143.0L129.0,146.2L125.8,146.2L125.0,149.3L124.2,146.2L121.0,146.2L122.4,143.0L121.0,139.8L124.2,139.8ZM126.5,137.2L127.3,140.3L130.5,140.3L129.1,143.5L130.5,146.7L127.3,146.7L126.5,149.8L125.7,146.7L122.5,146.7L123.9,143.5L122.5,140.3L125.7,140.3ZM225.8,100.6L226.6,103.7L229.8,103.7L228.4,106.9L229.8,110.1L226.6,110.1L225.8,113.2L225.0,110.1L221.8,110.1L223.2,106.9L221.8,103.7L225.0,103.7ZM228.9,102.9L229.7,106.0L232.9,106.0L231.5,109.2L232.9,112.4L229.7,112.4L228.9,115.5L228.1,112.4L224.9,112.4L226.3,109.2L224.9,106.0L228.1,106.0ZM232.0,103.2L232.8,106.3L236.0,106.3L234.6,109.5L236.0,112.7L232.8,112.7L232.0,115.8L231.2,112.7L228.0,112.7L229.4,109.5L228.0,106.3L231.2,106.3ZM235.1,103.6L235.9,106.7L239.1,106.7L237.7,109.9L239.1,113.1L235.9,113.1L235.1,116.2L234.3,113.1L231.1,113.1L232.5,109.9L231.1,106.7L234.3,106.7ZM239.1,103.9L239.9,107.0L243.1,107.0L241.7,110.2L243.1,113.4L239.9,113.4L239.1,116.5L238.3,113.4L235.1,113.4L236.5,110.2L235.1,107.0L238.3,107.0ZM242.8,102.6L243.6,105.7L246.8,105.7L245.4,108.9L246.8,112.1L243.6,112.1L242.8,115.2L242.0,112.1L238.8,112.1L240.2,108.9L238.8,105.7L242.0,105.7ZM245.6,102.2L246.4,105.3L249.6,105.3L248.2,108.5L249.6,111.7L246.4,111.7L245.6,114.8L244.8,111.7L241.6,111.7L243.0,108.5L241.6,105.3L244.8,105.3ZM245.8,98.6L246.6,101.7L249.8,101.7L248.4,104.9L249.8,108.1L246.6,108.1L245.8,111.2L245.0,108.1L241.8,108.1L243.2,104.9L241.8,101.7L245.0,101.7ZM243.0,96.6L243.8,99.7L247.0,99.7L245.6,102.9L247.0,106.1L243.8,106.1L243.0,109.2L242.2,106.1L239.0,106.1L240.4,102.9L239.0,99.7L242.2,99.7ZM239.8,97.6L240.6,100.7L243.8,100.7L242.4,103.9L243.8,107.1L240.6,107.1L239.8,110.2L239.0,107.1L235.8,107.1L237.2,103.9L235.8,100.7L239.0,100.7ZM235.7,97.5L236.5,100.6L239.7,100.6L238.3,103.8L239.7,107.0L236.5,107.0L235.7,110.1L234.9,107.0L231.7,107.0L233.1,103.8L231.7,100.6L234.9,100.6ZM232.2,97.8L233.0,100.9L236.2,100.9L234.8,104.1L236.2,107.3L233.0,107.3L232.2,110.4L231.4,107.3L228.2,107.3L229.6,104.1L228.2,100.9L231.4,100.9ZM228.9,98.7L229.7,101.8L232.9,101.8L231.5,105.0L232.9,108.2L229.7,108.2L228.9,111.3L228.1,108.2L224.9,108.2L226.3,105.0L224.9,101.8L228.1,101.8ZM225.4,100.1L226.2,103.2L229.4,103.2L228.0,106.4L229.4,109.6L226.2,109.6L225.4,112.7L224.6,109.6L221.4,109.6L222.8,106.4L221.4,103.2L224.6,103.2ZM225.9,100.5L226.7,103.6L229.9,103.6L228.5,106.8L229.9,110.0L226.7,110.0L225.9,113.1L225.1,110.0L221.9,110.0L223.3,106.8L221.9,103.6L225.1,103.6ZM243.0,96.9L243.8,100.0L247.0,100.0L245.6,103.2L247.0,106.4L243.8,106.4L243.0,109.5L242.2,106.4L239.0,106.4L240.4,103.2L239.0,100.0L242.2,100.0ZM228.1,100.4L228.9,103.5L232.1,103.5L230.7,106.7L232.1,109.9L228.9,109.9L228.1,113.0L227.3,109.9L224.1,109.9L225.5,106.7L224.1,103.5L227.3,103.5ZM230.7,99.7L231.5,102.8L234.7,102.8L233.3,106.0L234.7,109.2L231.5,109.2L230.7,112.3L229.9,109.2L226.7,109.2L228.1,106.0L226.7,102.8L229.9,102.8ZM234.5,99.7L235.3,102.8L238.5,102.8L237.1,106.0L238.5,109.2L235.3,109.2L234.5,112.3L233.7,109.2L230.5,109.2L231.9,106.0L230.5,102.8L233.7,102.8ZM237.8,99.0L238.6,102.1L241.8,102.1L240.4,105.3L241.8,108.5L238.6,108.5L237.8,111.6L237.0,108.5L233.8,108.5L235.2,105.3L233.8,102.1L237.0,102.1ZM241.3,100.8L242.1,103.9L245.3,103.9L243.9,107.1L245.3,110.3L242.1,110.3L241.3,113.4L240.5,110.3L237.3,110.3L238.7,107.1L237.3,103.9L240.5,103.9ZM244.6,99.9L245.4,103.0L248.6,103.0L247.2,106.2L248.6,109.4L245.4,109.4L244.6,112.5L243.8,109.4L240.6,109.4L242.0,106.2L240.6,103.0L243.8,103.0ZM232.2,102.8L233.0,105.9L236.2,105.9L234.8,109.1L236.2,112.3L233.0,112.3L232.2,115.4L231.4,112.3L228.2,112.3L229.6,109.1L228.2,105.9L231.4,105.9ZM242.5,102.1L243.3,105.2L246.5,105.2L245.1,108.4L246.5,111.6L243.3,111.6L242.5,114.7L241.7,111.6L238.5,111.6L239.9,108.4L238.5,105.2L241.7,105.2ZM230.3,111.2L231.1,114.3L234.3,114.3L232.9,117.5L234.3,120.7L231.1,120.7L230.3,123.8L229.5,120.7L226.3,120.7L227.7,117.5L226.3,114.3L229.5,114.3ZM226.9,112.7L227.7,115.8L230.9,115.8L229.5,119.0L230.9,122.2L227.7,122.2L226.9,125.3L226.1,122.2L222.9,122.2L224.3,119.0L222.9,115.8L226.1,115.8ZM223.3,114.4L224.1,117.5L227.3,117.5L225.9,120.7L227.3,123.9L224.1,123.9L223.3,127.0L222.5,123.9L219.3,123.9L220.7,120.7L219.3,117.5L222.5,117.5ZM221.4,116.8L222.2,119.9L225.4,119.9L224.0,123.1L225.4,126.3L222.2,126.3L221.4,129.4L220.6,126.3L217.4,126.3L218.8,123.1L217.4,119.9L220.6,119.9ZM218.2,118.9L219.0,122.0L222.2,122.0L220.8,125.2L222.2,128.4L219.0,128.4L218.2,131.5L217.4,128.4L214.2,128.4L215.6,125.2L214.2,122.0L217.4,122.0ZM214.4,119.8L215.2,122.9L218.4,122.9L217.0,126.1L218.4,129.3L215.2,129.3L214.4,132.4L213.6,129.3L210.4,129.3L211.8,126.1L210.4,122.9L213.6,122.9ZM211.3,122.2L212.1,125.3L215.3,125.3L213.9,128.5L215.3,131.7L212.1,131.7L211.3,134.8L210.5,131.7L207.3,131.7L208.7,128.5L207.3,125.3L210.5,125.3ZM208.8,124.6L209.6,127.7L212.8,127.7L211.4,130.9L212.8,134.1L209.6,134.1L208.8,137.2L208.0,134.1L204.8,134.1L206.2,130.9L204.8,127.7L208.0,127.7ZM206.2,126.4L207.0,129.5L210.2,129.5L208.8,132.7L210.2,135.9L207.0,135.9L206.2,139.0L205.4,135.9L202.2,135.9L203.6,132.7L202.2,129.5L205.4,129.5ZM205.5,129.7L206.3,132.8L209.5,132.8L208.1,136.0L209.5,139.2L206.3,139.2L205.5,142.3L204.7,139.2L201.5,139.2L202.9,136.0L201.5,132.8L204.7,132.8ZM204.6,132.7L205.4,135.8L208.6,135.8L207.2,139.0L208.6,142.2L205.4,142.2L204.6,145.3L203.8,142.2L200.6,142.2L202.0,139.0L200.6,135.8L203.8,135.8ZM204.1,136.5L204.9,139.6L208.1,139.6L206.7,142.8L208.1,146.0L204.9,146.0L204.1,149.1L203.3,146.0L200.1,146.0L201.5,142.8L200.1,139.6L203.3,139.6ZM203.6,140.5L204.4,143.6L207.6,143.6L206.2,146.8L207.6,150.0L204.4,150.0L203.6,153.1L202.8,150.0L199.6,150.0L201.0,146.8L199.6,143.6L202.8,143.6ZM202.1,143.4L202.9,146.5L206.1,146.5L204.7,149.7L206.1,152.9L202.9,152.9L202.1,156.0L201.3,152.9L198.1,152.9L199.5,149.7L198.1,146.5L201.3,146.5ZM200.7,147.2L201.5,150.3L204.7,150.3L203.3,153.5L204.7,156.7L201.5,156.7L200.7,159.8L199.9,156.7L196.7,156.7L198.1,153.5L196.7,150.3L199.9,150.3ZM199.1,149.5L199.9,152.6L203.1,152.6L201.7,155.8L203.1,159.0L199.9,159.0L199.1,162.1L198.3,159.0L195.1,159.0L196.5,155.8L195.1,152.6L198.3,152.6ZM196.1,152.9L196.9,156.0L200.1,156.0L198.7,159.2L200.1,162.4L196.9,162.4L196.1,165.5L195.3,162.4L192.1,162.4L193.5,159.2L192.1,156.0L195.3,156.0ZM196.1,153.6L196.9,156.7L200.1,156.7L198.7,159.9L200.1,163.1L196.9,163.1L196.1,166.2L195.3,163.1L192.1,163.1L193.5,159.9L192.1,156.7L195.3,156.7ZM264.7,103.8L265.5,106.9L268.7,106.9L267.3,110.1L268.7,113.3L265.5,113.3L264.7,116.4L263.9,113.3L260.7,113.3L262.1,110.1L260.7,106.9L263.9,106.9ZM266.0,106.7L266.8,109.8L270.0,109.8L268.6,113.0L270.0,116.2L266.8,116.2L266.0,119.3L265.2,116.2L262.0,116.2L263.4,113.0L262.0,109.8L265.2,109.8ZM268.2,110.7L269.0,113.8L272.2,113.8L270.8,117.0L272.2,120.2L269.0,120.2L268.2,123.3L267.4,120.2L264.2,120.2L265.6,117.0L264.2,113.8L267.4,113.8ZM270.0,113.8L270.8,116.9L274.0,116.9L272.6,120.1L274.0,123.3L270.8,123.3L270.0,126.4L269.2,123.3L266.0,123.3L267.4,120.1L266.0,116.9L269.2,116.9ZM271.4,116.3L272.2,119.4L275.4,119.4L274.0,122.6L275.4,125.8L272.2,125.8L271.4,128.9L270.6,125.8L267.4,125.8L268.8,122.6L267.4,119.4L270.6,119.4ZM272.7,120.4L273.5,123.5L276.7,123.5L275.3,126.7L276.7,129.9L273.5,129.9L272.7,133.0L271.9,129.9L268.7,129.9L270.1,126.7L268.7,123.5L271.9,123.5ZM274.9,122.8L275.7,125.9L278.9,125.9L277.5,129.1L278.9,132.3L275.7,132.3L274.9,135.4L274.1,132.3L270.9,132.3L272.3,129.1L270.9,125.9L274.1,125.9ZM275.3,126.3L276.1,129.4L279.3,129.4L277.9,132.6L279.3,135.8L276.1,135.8L275.3,138.9L274.5,135.8L271.3,135.8L272.7,132.6L271.3,129.4L274.5,129.4ZM275.5,129.7L276.3,132.8L279.5,132.8L278.1,136.0L279.5,139.2L276.3,139.2L275.5,142.3L274.7,139.2L271.5,139.2L272.9,136.0L271.5,132.8L274.7,132.8ZM274.3,133.6L275.1,136.7L278.3,136.7L276.9,139.9L278.3,143.1L275.1,143.1L274.3,146.2L273.5,143.1L270.3,143.1L271.7,139.9L270.3,136.7L273.5,136.7ZM274.5,136.4L275.3,139.5L278.5,139.5L277.1,142.7L278.5,145.9L275.3,145.9L274.5,149.0L273.7,145.9L270.5,145.9L271.9,142.7L270.5,139.5L273.7,139.5ZM238.4,149.5L239.2,152.6L242.4,152.6L241.0,155.8L242.4,159.0L239.2,159.0L238.4,162.1L237.6,159.0L234.4,159.0L235.8,155.8L234.4,152.6L237.6,152.6ZM242.1,148.3L242.9,151.4L246.1,151.4L244.7,154.6L246.1,157.8L242.9,157.8L242.1,160.9L241.3,157.8L238.1,157.8L239.5,154.6L238.1,151.4L241.3,151.4ZM245.1,146.9L245.9,150.0L249.1,150.0L247.7,153.2L249.1,156.4L245.9,156.4L245.1,159.5L244.3,156.4L241.1,156.4L242.5,153.2L241.1,150.0L244.3,150.0ZM249.0,145.0L249.8,148.1L253.0,148.1L251.6,151.3L253.0,154.5L249.8,154.5L249.0,157.6L248.2,154.5L245.0,154.5L246.4,151.3L245.0,148.1L248.2,148.1ZM251.6,144.0L252.4,147.1L255.6,147.1L254.2,150.3L255.6,153.5L252.4,153.5L251.6,156.6L250.8,153.5L247.6,153.5L249.0,150.3L247.6,147.1L250.8,147.1ZM255.0,142.2L255.8,145.3L259.0,145.3L257.6,148.5L259.0,151.7L255.8,151.7L255.0,154.8L254.2,151.7L251.0,151.7L252.4,148.5L251.0,145.3L254.2,145.3ZM258.1,139.9L258.9,143.0L262.1,143.0L260.7,146.2L262.1,149.4L258.9,149.4L258.1,152.5L257.3,149.4L254.1,149.4L255.5,146.2L254.1,143.0L257.3,143.0ZM262.0,138.4L262.8,141.5L266.0,141.5L264.6,144.7L266.0,147.9L262.8,147.9L262.0,151.0L261.2,147.9L258.0,147.9L259.4,144.7L258.0,141.5L261.2,141.5ZM265.4,137.1L266.2,140.2L269.4,140.2L268.0,143.4L269.4,146.6L266.2,146.6L265.4,149.7L264.6,146.6L261.4,146.6L262.8,143.4L261.4,140.2L264.6,140.2ZM267.8,135.2L268.6,138.3L271.8,138.3L270.4,141.5L271.8,144.7L268.6,144.7L267.8,147.8L267.0,144.7L263.8,144.7L265.2,141.5L263.8,138.3L267.0,138.3ZM271.3,134.2L272.1,137.3L275.3,137.3L273.9,140.5L275.3,143.7L272.1,143.7L271.3,146.8L270.5,143.7L267.3,143.7L268.7,140.5L267.3,137.3L270.5,137.3ZM274.5,132.3L275.3,135.4L278.5,135.4L277.1,138.6L278.5,141.8L275.3,141.8L274.5,144.9L273.7,141.8L270.5,141.8L271.9,138.6L270.5,135.4L273.7,135.4ZM245.0,122.7L245.8,125.8L249.0,125.8L247.6,129.0L249.0,132.2L245.8,132.2L245.0,135.3L244.2,132.2L241.0,132.2L242.4,129.0L241.0,125.8L244.2,125.8ZM252.0,121.7L252.8,124.8L256.0,124.8L254.6,128.0L256.0,131.2L252.8,131.2L252.0,134.3L251.2,131.2L248.0,131.2L249.4,128.0L248.0,124.8L251.2,124.8ZM256.0,123.7L256.8,126.8L260.0,126.8L258.6,130.0L260.0,133.2L256.8,133.2L256.0,136.3L255.2,133.2L252.0,133.2L253.4,130.0L252.0,126.8L255.2,126.8ZM285.9,115.4L286.7,118.5L289.9,118.5L288.5,121.7L289.9,124.9L286.7,124.9L285.9,128.0L285.1,124.9L281.9,124.9L283.3,121.7L281.9,118.5L285.1,118.5ZM289.5,116.6L290.3,119.7L293.5,119.7L292.1,122.9L293.5,126.1L290.3,126.1L289.5,129.2L288.7,126.1L285.5,126.1L286.9,122.9L285.5,119.7L288.7,119.7ZM291.3,117.9L292.1,121.0L295.3,121.0L293.9,124.2L295.3,127.4L292.1,127.4L291.3,130.5L290.5,127.4L287.3,127.4L288.7,124.2L287.3,121.0L290.5,121.0ZM294.6,120.2L295.4,123.3L298.6,123.3L297.2,126.5L298.6,129.7L295.4,129.7L294.6,132.8L293.8,129.7L290.6,129.7L292.0,126.5L290.6,123.3L293.8,123.3ZM298.1,121.3L298.9,124.4L302.1,124.4L300.7,127.6L302.1,130.8L298.9,130.8L298.1,133.9L297.3,130.8L294.1,130.8L295.5,127.6L294.1,124.4L297.3,124.4ZM301.1,122.9L301.9,126.0L305.1,126.0L303.7,129.2L305.1,132.4L301.9,132.4L301.1,135.5L300.3,132.4L297.1,132.4L298.5,129.2L297.1,126.0L300.3,126.0ZM303.2,123.4L304.0,126.5L307.2,126.5L305.8,129.7L307.2,132.9L304.0,132.9L303.2,136.0L302.4,132.9L299.2,132.9L300.6,129.7L299.2,126.5L302.4,126.5ZM306.9,125.4L307.7,128.5L310.9,128.5L309.5,131.7L310.9,134.9L307.7,134.9L306.9,138.0L306.1,134.9L302.9,134.9L304.3,131.7L302.9,128.5L306.1,128.5ZM308.7,126.6L309.5,129.7L312.7,129.7L311.3,132.9L312.7,136.1L309.5,136.1L308.7,139.2L307.9,136.1L304.7,136.1L306.1,132.9L304.7,129.7L307.9,129.7ZM311.9,127.5L312.7,130.6L315.9,130.6L314.5,133.8L315.9,137.0L312.7,137.0L311.9,140.1L311.1,137.0L307.9,137.0L309.3,133.8L307.9,130.6L311.1,130.6ZM316.0,120.5L316.8,123.6L320.0,123.6L318.6,126.8L320.0,130.0L316.8,130.0L316.0,133.1L315.2,130.0L312.0,130.0L313.4,126.8L312.0,123.6L315.2,123.6ZM315.2,124.6L316.0,127.7L319.2,127.7L317.8,130.9L319.2,134.1L316.0,134.1L315.2,137.2L314.4,134.1L311.2,134.1L312.6,130.9L311.2,127.7L314.4,127.7ZM316.8,128.9L317.6,132.0L320.8,132.0L319.4,135.2L320.8,138.4L317.6,138.4L316.8,141.5L316.0,138.4L312.8,138.4L314.2,135.2L312.8,132.0L316.0,132.0ZM318.2,132.6L319.0,135.7L322.2,135.7L320.8,138.9L322.2,142.1L319.0,142.1L318.2,145.2L317.4,142.1L314.2,142.1L315.6,138.9L314.2,135.7L317.4,135.7ZM320.6,135.2L321.4,138.3L324.6,138.3L323.2,141.5L324.6,144.7L321.4,144.7L320.6,147.8L319.8,144.7L316.6,144.7L318.0,141.5L316.6,138.3L319.8,138.3ZM323.7,138.8L324.5,141.9L327.7,141.9L326.3,145.1L327.7,148.3L324.5,148.3L323.7,151.4L322.9,148.3L319.7,148.3L321.1,145.1L319.7,141.9L322.9,141.9ZM327.1,137.4L327.9,140.5L331.1,140.5L329.7,143.7L331.1,146.9L327.9,146.9L327.1,150.0L326.3,146.9L323.1,146.9L324.5,143.7L323.1,140.5L326.3,140.5ZM327.7,133.8L328.5,136.9L331.7,136.9L330.3,140.1L331.7,143.3L328.5,143.3L327.7,146.4L326.9,143.3L323.7,143.3L325.1,140.1L323.7,136.9L326.9,136.9ZM328.8,129.7L329.6,132.8L332.8,132.8L331.4,136.0L332.8,139.2L329.6,139.2L328.8,142.3L328.0,139.2L324.8,139.2L326.2,136.0L324.8,132.8L328.0,132.8ZM328.1,126.4L328.9,129.5L332.1,129.5L330.7,132.7L332.1,135.9L328.9,135.9L328.1,139.0L327.3,135.9L324.1,135.9L325.5,132.7L324.1,129.5L327.3,129.5ZM327.5,121.9L328.3,125.0L331.5,125.0L330.1,128.2L331.5,131.4L328.3,131.4L327.5,134.5L326.7,131.4L323.5,131.4L324.9,128.2L323.5,125.0L326.7,125.0ZM326.1,119.9L326.9,123.0L330.1,123.0L328.7,126.2L330.1,129.4L326.9,129.4L326.1,132.5L325.3,129.4L322.1,129.4L323.5,126.2L322.1,123.0L325.3,123.0ZM321.4,118.4L322.2,121.5L325.4,121.5L324.0,124.7L325.4,127.9L322.2,127.9L321.4,131.0L320.6,127.9L317.4,127.9L318.8,124.7L317.4,121.5L320.6,121.5ZM317.7,120.6L318.5,123.7L321.7,123.7L320.3,126.9L321.7,130.1L318.5,130.1L317.7,133.2L316.9,130.1L313.7,130.1L315.1,126.9L313.7,123.7L316.9,123.7ZM315.9,121.0L316.7,124.1L319.9,124.1L318.5,127.3L319.9,130.5L316.7,130.5L315.9,133.6L315.1,130.5L311.9,130.5L313.3,127.3L311.9,124.1L315.1,124.1ZM317.2,121.3L318.0,124.4L321.2,124.4L319.8,127.6L321.2,130.8L318.0,130.8L317.2,133.9L316.4,130.8L313.2,130.8L314.6,127.6L313.2,124.4L316.4,124.4ZM322.2,123.1L323.0,126.2L326.2,126.2L324.8,129.4L326.2,132.6L323.0,132.6L322.2,135.7L321.4,132.6L318.2,132.6L319.6,129.4L318.2,126.2L321.4,126.2ZM325.9,123.2L326.7,126.3L329.9,126.3L328.5,129.5L329.9,132.7L326.7,132.7L325.9,135.8L325.1,132.7L321.9,132.7L323.3,129.5L321.9,126.3L325.1,126.3ZM319.6,126.7L320.4,129.8L323.6,129.8L322.2,133.0L323.6,136.2L320.4,136.2L319.6,139.3L318.8,136.2L315.6,136.2L317.0,133.0L315.6,129.8L318.8,129.8ZM324.6,125.5L325.4,128.6L328.6,128.6L327.2,131.8L328.6,135.0L325.4,135.0L324.6,138.1L323.8,135.0L320.6,135.0L322.0,131.8L320.6,128.6L323.8,128.6ZM327.1,125.6L327.9,128.7L331.1,128.7L329.7,131.9L331.1,135.1L327.9,135.1L327.1,138.2L326.3,135.1L323.1,135.1L324.5,131.9L323.1,128.7L326.3,128.7ZM321.0,129.8L321.8,132.9L325.0,132.9L323.6,136.1L325.0,139.3L321.8,139.3L321.0,142.4L320.2,139.3L317.0,139.3L318.4,136.1L317.0,132.9L320.2,132.9ZM326.1,129.9L326.9,133.0L330.1,133.0L328.7,136.2L330.1,139.4L326.9,139.4L326.1,142.5L325.3,139.4L322.1,139.4L323.5,136.2L322.1,133.0L325.3,133.0ZM319.3,132.3L320.1,135.4L323.3,135.4L321.9,138.6L323.3,141.8L320.1,141.8L319.3,144.9L318.5,141.8L315.3,141.8L316.7,138.6L315.3,135.4L318.5,135.4ZM323.4,133.3L324.2,136.4L327.4,136.4L326.0,139.6L327.4,142.8L324.2,142.8L323.4,145.9L322.6,142.8L319.4,142.8L320.8,139.6L319.4,136.4L322.6,136.4ZM326.8,132.1L327.6,135.2L330.8,135.2L329.4,138.4L330.8,141.6L327.6,141.6L326.8,144.7L326.0,141.6L322.8,141.6L324.2,138.4L322.8,135.2L326.0,135.2ZM325.8,135.8L326.6,138.9L329.8,138.9L328.4,142.1L329.8,145.3L326.6,145.3L325.8,148.4L325.0,145.3L321.8,145.3L323.2,142.1L321.8,138.9L325.0,138.9ZM261.5,157.3L262.3,160.4L265.5,160.4L264.1,163.6L265.5,166.8L262.3,166.8L261.5,169.9L260.7,166.8L257.5,166.8L258.9,163.6L257.5,160.4L260.7,160.4ZM284.6,160.5L285.4,163.6L288.6,163.6L287.2,166.8L288.6,170.0L285.4,170.0L284.6,173.1L283.8,170.0L280.6,170.0L282.0,166.8L280.6,163.6L283.8,163.6ZM306.7,157.3L307.5,160.4L310.7,160.4L309.3,163.6L310.7,166.8L307.5,166.8L306.7,169.9L305.9,166.8L302.7,166.8L304.1,163.6L302.7,160.4L305.9,160.4ZM62.6,182.2L63.4,185.3L66.6,185.3L65.2,188.5L66.6,191.7L63.4,191.7L62.6,194.8L61.8,191.7L58.6,191.7L60.0,188.5L58.6,185.3L61.8,185.3ZM62.5,183.4L63.3,186.5L66.5,186.5L65.1,189.7L66.5,192.9L63.3,192.9L62.5,196.0L61.7,192.9L58.5,192.9L59.9,189.7L58.5,186.5L61.7,186.5ZM65.2,181.5L66.0,184.6L69.2,184.6L67.8,187.8L69.2,191.0L66.0,191.0L65.2,194.1L64.4,191.0L61.2,191.0L62.6,187.8L61.2,184.6L64.4,184.6ZM65.5,184.2L66.3,187.3L69.5,187.3L68.1,190.5L69.5,193.7L66.3,193.7L65.5,196.8L64.7,193.7L61.5,193.7L62.9,190.5L61.5,187.3L64.7,187.3ZM69.2,181.9L70.0,185.0L73.2,185.0L71.8,188.2L73.2,191.4L70.0,191.4L69.2,194.5L68.4,191.4L65.2,191.4L66.6,188.2L65.2,185.0L68.4,185.0ZM69.0,184.4L69.8,187.5L73.0,187.5L71.6,190.7L73.0,193.9L69.8,193.9L69.0,197.0L68.2,193.9L65.0,193.9L66.4,190.7L65.0,187.5L68.2,187.5ZM73.1,182.8L73.9,185.9L77.1,185.9L75.7,189.1L77.1,192.3L73.9,192.3L73.1,195.4L72.3,192.3L69.1,192.3L70.5,189.1L69.1,185.9L72.3,185.9ZM73.1,184.7L73.9,187.8L77.1,187.8L75.7,191.0L77.1,194.2L73.9,194.2L73.1,197.3L72.3,194.2L69.1,194.2L70.5,191.0L69.1,187.8L72.3,187.8ZM76.0,183.2L76.8,186.3L80.0,186.3L78.6,189.5L80.0,192.7L76.8,192.7L76.0,195.8L75.2,192.7L72.0,192.7L73.4,189.5L72.0,186.3L75.2,186.3ZM76.0,184.8L76.8,187.9L80.0,187.9L78.6,191.1L80.0,194.3L76.8,194.3L76.0,197.4L75.2,194.3L72.0,194.3L73.4,191.1L72.0,187.9L75.2,187.9ZM79.9,183.3L80.7,186.4L83.9,186.4L82.5,189.6L83.9,192.8L80.7,192.8L79.9,195.9L79.1,192.8L75.9,192.8L77.3,189.6L75.9,186.4L79.1,186.4ZM79.5,184.7L80.3,187.8L83.5,187.8L82.1,191.0L83.5,194.2L80.3,194.2L79.5,197.3L78.7,194.2L75.5,194.2L76.9,191.0L75.5,187.8L78.7,187.8ZM83.3,182.9L84.1,186.0L87.3,186.0L85.9,189.2L87.3,192.4L84.1,192.4L83.3,195.5L82.5,192.4L79.3,192.4L80.7,189.2L79.3,186.0L82.5,186.0ZM83.9,185.4L84.7,188.5L87.9,188.5L86.5,191.7L87.9,194.9L84.7,194.9L83.9,198.0L83.1,194.9L79.9,194.9L81.3,191.7L79.9,188.5L83.1,188.5ZM87.0,183.4L87.8,186.5L91.0,186.5L89.6,189.7L91.0,192.9L87.8,192.9L87.0,196.0L86.2,192.9L83.0,192.9L84.4,189.7L83.0,186.5L86.2,186.5ZM87.7,185.5L88.5,188.6L91.7,188.6L90.3,191.8L91.7,195.0L88.5,195.0L87.7,198.1L86.9,195.0L83.7,195.0L85.1,191.8L83.7,188.6L86.9,188.6ZM90.5,184.2L91.3,187.3L94.5,187.3L93.1,190.5L94.5,193.7L91.3,193.7L90.5,196.8L89.7,193.7L86.5,193.7L87.9,190.5L86.5,187.3L89.7,187.3ZM90.8,186.4L91.6,189.5L94.8,189.5L93.4,192.7L94.8,195.9L91.6,195.9L90.8,199.0L90.0,195.9L86.8,195.9L88.2,192.7L86.8,189.5L90.0,189.5ZM93.9,184.0L94.7,187.1L97.9,187.1L96.5,190.3L97.9,193.5L94.7,193.5L93.9,196.6L93.1,193.5L89.9,193.5L91.3,190.3L89.9,187.1L93.1,187.1ZM94.6,186.5L95.4,189.6L98.6,189.6L97.2,192.8L98.6,196.0L95.4,196.0L94.6,199.1L93.8,196.0L90.6,196.0L92.0,192.8L90.6,189.6L93.8,189.6ZM98.5,183.8L99.3,186.9L102.5,186.9L101.1,190.1L102.5,193.3L99.3,193.3L98.5,196.4L97.7,193.3L94.5,193.3L95.9,190.1L94.5,186.9L97.7,186.9ZM97.6,185.9L98.4,189.0L101.6,189.0L100.2,192.2L101.6,195.4L98.4,195.4L97.6,198.5L96.8,195.4L93.6,195.4L95.0,192.2L93.6,189.0L96.8,189.0ZM101.2,185.1L102.0,188.2L105.2,188.2L103.8,191.4L105.2,194.6L102.0,194.6L101.2,197.7L100.4,194.6L97.2,194.6L98.6,191.4L97.2,188.2L100.4,188.2ZM101.5,187.1L102.3,190.2L105.5,190.2L104.1,193.4L105.5,196.6L102.3,196.6L101.5,199.7L100.7,196.6L97.5,196.6L98.9,193.4L97.5,190.2L100.7,190.2ZM105.0,185.3L105.8,188.4L109.0,188.4L107.6,191.6L109.0,194.8L105.8,194.8L105.0,197.9L104.2,194.8L101.0,194.8L102.4,191.6L101.0,188.4L104.2,188.4ZM105.0,186.5L105.8,189.6L109.0,189.6L107.6,192.8L109.0,196.0L105.8,196.0L105.0,199.1L104.2,196.0L101.0,196.0L102.4,192.8L101.0,189.6L104.2,189.6ZM109.1,185.6L109.9,188.7L113.1,188.7L111.7,191.9L113.1,195.1L109.9,195.1L109.1,198.2L108.3,195.1L105.1,195.1L106.5,191.9L105.1,188.7L108.3,188.7ZM108.1,187.2L108.9,190.3L112.1,190.3L110.7,193.5L112.1,196.7L108.9,196.7L108.1,199.8L107.3,196.7L104.1,196.7L105.5,193.5L104.1,190.3L107.3,190.3ZM112.5,185.0L113.3,188.1L116.5,188.1L115.1,191.3L116.5,194.5L113.3,194.5L112.5,197.6L111.7,194.5L108.5,194.5L109.9,191.3L108.5,188.1L111.7,188.1ZM112.0,186.9L112.8,190.0L116.0,190.0L114.6,193.2L116.0,196.4L112.8,196.4L112.0,199.5L111.2,196.4L108.0,196.4L109.4,193.2L108.0,190.0L111.2,190.0ZM115.6,185.3L116.4,188.4L119.6,188.4L118.2,191.6L119.6,194.8L116.4,194.8L115.6,197.9L114.8,194.8L111.6,194.8L113.0,191.6L111.6,188.4L114.8,188.4ZM115.9,187.8L116.7,190.9L119.9,190.9L118.5,194.1L119.9,197.3L116.7,197.3L115.9,200.4L115.1,197.3L111.9,197.3L113.3,194.1L111.9,190.9L115.1,190.9ZM116.6,186.1L117.4,189.2L120.6,189.2L119.2,192.4L120.6,195.6L117.4,195.6L116.6,198.7L115.8,195.6L112.6,195.6L114.0,192.4L112.6,189.2L115.8,189.2ZM116.8,186.9L117.6,190.0L120.8,190.0L119.4,193.2L120.8,196.4L117.6,196.4L116.8,199.5L116.0,196.4L112.8,196.4L114.2,193.2L112.8,190.0L116.0,190.0ZM88.0,217.7L88.8,220.8L92.0,220.8L90.6,224.0L92.0,227.2L88.8,227.2L88.0,230.3L87.2,227.2L84.0,227.2L85.4,224.0L84.0,220.8L87.2,220.8ZM89.3,219.8L90.1,222.9L93.3,222.9L91.9,226.1L93.3,229.3L90.1,229.3L89.3,232.4L88.5,229.3L85.3,229.3L86.7,226.1L85.3,222.9L88.5,222.9ZM91.1,215.0L91.9,218.1L95.1,218.1L93.7,221.3L95.1,224.5L91.9,224.5L91.1,227.6L90.3,224.5L87.1,224.5L88.5,221.3L87.1,218.1L90.3,218.1ZM91.9,216.9L92.7,220.0L95.9,220.0L94.5,223.2L95.9,226.4L92.7,226.4L91.9,229.5L91.1,226.4L87.9,226.4L89.3,223.2L87.9,220.0L91.1,220.0ZM93.8,213.3L94.6,216.4L97.8,216.4L96.4,219.6L97.8,222.8L94.6,222.8L93.8,225.9L93.0,222.8L89.8,222.8L91.2,219.6L89.8,216.4L93.0,216.4ZM94.5,214.2L95.3,217.3L98.5,217.3L97.1,220.5L98.5,223.7L95.3,223.7L94.5,226.8L93.7,223.7L90.5,223.7L91.9,220.5L90.5,217.3L93.7,217.3ZM96.6,210.6L97.4,213.7L100.6,213.7L99.2,216.9L100.6,220.1L97.4,220.1L96.6,223.2L95.8,220.1L92.6,220.1L94.0,216.9L92.6,213.7L95.8,213.7ZM97.5,212.0L98.3,215.1L101.5,215.1L100.1,218.3L101.5,221.5L98.3,221.5L97.5,224.6L96.7,221.5L93.5,221.5L94.9,218.3L93.5,215.1L96.7,215.1ZM99.6,208.1L100.4,211.2L103.6,211.2L102.2,214.4L103.6,217.6L100.4,217.6L99.6,220.7L98.8,217.6L95.6,217.6L97.0,214.4L95.6,211.2L98.8,211.2ZM100.5,209.7L101.3,212.8L104.5,212.8L103.1,216.0L104.5,219.2L101.3,219.2L100.5,222.3L99.7,219.2L96.5,219.2L97.9,216.0L96.5,212.8L99.7,212.8ZM101.6,206.4L102.4,209.5L105.6,209.5L104.2,212.7L105.6,215.9L102.4,215.9L101.6,219.0L100.8,215.9L97.6,215.9L99.0,212.7L97.6,209.5L100.8,209.5ZM103.7,207.3L104.5,210.4L107.7,210.4L106.3,213.6L107.7,216.8L104.5,216.8L103.7,219.9L102.9,216.8L99.7,216.8L101.1,213.6L99.7,210.4L102.9,210.4ZM104.1,203.8L104.9,206.9L108.1,206.9L106.7,210.1L108.1,213.3L104.9,213.3L104.1,216.4L103.3,213.3L100.1,213.3L101.5,210.1L100.1,206.9L103.3,206.9ZM105.4,204.4L106.2,207.5L109.4,207.5L108.0,210.7L109.4,213.9L106.2,213.9L105.4,217.0L104.6,213.9L101.4,213.9L102.8,210.7L101.4,207.5L104.6,207.5ZM107.6,201.1L108.4,204.2L111.6,204.2L110.2,207.4L111.6,210.6L108.4,210.6L107.6,213.7L106.8,210.6L103.6,210.6L105.0,207.4L103.6,204.2L106.8,204.2ZM108.8,202.5L109.6,205.6L112.8,205.6L111.4,208.8L112.8,212.0L109.6,212.0L108.8,215.1L108.0,212.0L104.8,212.0L106.2,208.8L104.8,205.6L108.0,205.6ZM110.2,198.7L111.0,201.8L114.2,201.8L112.8,205.0L114.2,208.2L111.0,208.2L110.2,211.3L109.4,208.2L106.2,208.2L107.6,205.0L106.2,201.8L109.4,201.8ZM110.7,199.6L111.5,202.7L114.7,202.7L113.3,205.9L114.7,209.1L111.5,209.1L110.7,212.2L109.9,209.1L106.7,209.1L108.1,205.9L106.7,202.7L109.9,202.7ZM112.5,196.5L113.3,199.6L116.5,199.6L115.1,202.8L116.5,206.0L113.3,206.0L112.5,209.1L111.7,206.0L108.5,206.0L109.9,202.8L108.5,199.6L111.7,199.6ZM114.3,197.3L115.1,200.4L118.3,200.4L116.9,203.6L118.3,206.8L115.1,206.8L114.3,209.9L113.5,206.8L110.3,206.8L111.7,203.6L110.3,200.4L113.5,200.4ZM115.3,193.8L116.1,196.9L119.3,196.9L117.9,200.1L119.3,203.3L116.1,203.3L115.3,206.4L114.5,203.3L111.3,203.3L112.7,200.1L111.3,196.9L114.5,196.9ZM116.5,195.0L117.3,198.1L120.5,198.1L119.1,201.3L120.5,204.5L117.3,204.5L116.5,207.6L115.7,204.5L112.5,204.5L113.9,201.3L112.5,198.1L115.7,198.1ZM117.6,191.6L118.4,194.7L121.6,194.7L120.2,197.9L121.6,201.1L118.4,201.1L117.6,204.2L116.8,201.1L113.6,201.1L115.0,197.9L113.6,194.7L116.8,194.7ZM119.7,192.6L120.5,195.7L123.7,195.7L122.3,198.9L123.7,202.1L120.5,202.1L119.7,205.2L118.9,202.1L115.7,202.1L117.1,198.9L115.7,195.7L118.9,195.7ZM120.5,189.5L121.3,192.6L124.5,192.6L123.1,195.8L124.5,199.0L121.3,199.0L120.5,202.1L119.7,199.0L116.5,199.0L117.9,195.8L116.5,192.6L119.7,192.6ZM122.4,190.3L123.2,193.4L126.4,193.4L125.0,196.6L126.4,199.8L123.2,199.8L122.4,202.9L121.6,199.8L118.4,199.8L119.8,196.6L118.4,193.4L121.6,193.4ZM122.7,187.3L123.5,190.4L126.7,190.4L125.3,193.6L126.7,196.8L123.5,196.8L122.7,199.9L121.9,196.8L118.7,196.8L120.1,193.6L118.7,190.4L121.9,190.4ZM125.1,188.2L125.9,191.3L129.1,191.3L127.7,194.5L129.1,197.7L125.9,197.7L125.1,200.8L124.3,197.7L121.1,197.7L122.5,194.5L121.1,191.3L124.3,191.3ZM125.3,184.8L126.1,187.9L129.3,187.9L127.9,191.1L129.3,194.3L126.1,194.3L125.3,197.4L124.5,194.3L121.3,194.3L122.7,191.1L121.3,187.9L124.5,187.9ZM127.1,186.3L127.9,189.4L131.1,189.4L129.7,192.6L131.1,195.8L127.9,195.8L127.1,198.9L126.3,195.8L123.1,195.8L124.5,192.6L123.1,189.4L126.3,189.4ZM128.7,182.3L129.5,185.4L132.7,185.4L131.3,188.6L132.7,191.8L129.5,191.8L128.7,194.9L127.9,191.8L124.7,191.8L126.1,188.6L124.7,185.4L127.9,185.4ZM129.5,183.8L130.3,186.9L133.5,186.9L132.1,190.1L133.5,193.3L130.3,193.3L129.5,196.4L128.7,193.3L125.5,193.3L126.9,190.1L125.5,186.9L128.7,186.9ZM130.9,179.4L131.7,182.5L134.9,182.5L133.5,185.7L134.9,188.9L131.7,188.9L130.9,192.0L130.1,188.9L126.9,188.9L128.3,185.7L126.9,182.5L130.1,182.5ZM133.0,181.4L133.8,184.5L137.0,184.5L135.6,187.7L137.0,190.9L133.8,190.9L133.0,194.0L132.2,190.9L129.0,190.9L130.4,187.7L129.0,184.5L132.2,184.5ZM133.5,176.8L134.3,179.9L137.5,179.9L136.1,183.1L137.5,186.3L134.3,186.3L133.5,189.4L132.7,186.3L129.5,186.3L130.9,183.1L129.5,179.9L132.7,179.9ZM135.1,178.6L135.9,181.7L139.1,181.7L137.7,184.9L139.1,188.1L135.9,188.1L135.1,191.2L134.3,188.1L131.1,188.1L132.5,184.9L131.1,181.7L134.3,181.7ZM136.5,174.3L137.3,177.4L140.5,177.4L139.1,180.6L140.5,183.8L137.3,183.8L136.5,186.9L135.7,183.8L132.5,183.8L133.9,180.6L132.5,177.4L135.7,177.4ZM137.6,176.5L138.4,179.6L141.6,179.6L140.2,182.8L141.6,186.0L138.4,186.0L137.6,189.1L136.8,186.0L133.6,186.0L135.0,182.8L133.6,179.6L136.8,179.6ZM139.8,171.8L140.6,174.9L143.8,174.9L142.4,178.1L143.8,181.3L140.6,181.3L139.8,184.4L139.0,181.3L135.8,181.3L137.2,178.1L135.8,174.9L139.0,174.9ZM140.7,174.1L141.5,177.2L144.7,177.2L143.3,180.4L144.7,183.6L141.5,183.6L140.7,186.7L139.9,183.6L136.7,183.6L138.1,180.4L136.7,177.2L139.9,177.2ZM141.4,170.3L142.2,173.4L145.4,173.4L144.0,176.6L145.4,179.8L142.2,179.8L141.4,182.9L140.6,179.8L137.4,179.8L138.8,176.6L137.4,173.4L140.6,173.4ZM142.8,171.5L143.6,174.6L146.8,174.6L145.4,177.8L146.8,181.0L143.6,181.0L142.8,184.1L142.0,181.0L138.8,181.0L140.2,177.8L138.8,174.6L142.0,174.6ZM144.7,167.7L145.5,170.8L148.7,170.8L147.3,174.0L148.7,177.2L145.5,177.2L144.7,180.3L143.9,177.2L140.7,177.2L142.1,174.0L140.7,170.8L143.9,170.8ZM145.8,168.9L146.6,172.0L149.8,172.0L148.4,175.2L149.8,178.4L146.6,178.4L145.8,181.5L145.0,178.4L141.8,178.4L143.2,175.2L141.8,172.0L145.0,172.0ZM147.4,165.0L148.2,168.1L151.4,168.1L150.0,171.3L151.4,174.5L148.2,174.5L147.4,177.6L146.6,174.5L143.4,174.5L144.8,171.3L143.4,168.1L146.6,168.1ZM148.9,166.5L149.7,169.6L152.9,169.6L151.5,172.8L152.9,176.0L149.7,176.0L148.9,179.1L148.1,176.0L144.9,176.0L146.3,172.8L144.9,169.6L148.1,169.6ZM149.9,162.1L150.7,165.2L153.9,165.2L152.5,168.4L153.9,171.6L150.7,171.6L149.9,174.7L149.1,171.6L145.9,171.6L147.3,168.4L145.9,165.2L149.1,165.2ZM151.5,164.2L152.3,167.3L155.5,167.3L154.1,170.5L155.5,173.7L152.3,173.7L151.5,176.8L150.7,173.7L147.5,173.7L148.9,170.5L147.5,167.3L150.7,167.3ZM152.4,160.6L153.2,163.7L156.4,163.7L155.0,166.9L156.4,170.1L153.2,170.1L152.4,173.2L151.6,170.1L148.4,170.1L149.8,166.9L148.4,163.7L151.6,163.7ZM154.4,161.8L155.2,164.9L158.4,164.9L157.0,168.1L158.4,171.3L155.2,171.3L154.4,174.4L153.6,171.3L150.4,171.3L151.8,168.1L150.4,164.9L153.6,164.9ZM155.6,158.7L156.4,161.8L159.6,161.8L158.2,165.0L159.6,168.2L156.4,168.2L155.6,171.3L154.8,168.2L151.6,168.2L153.0,165.0L151.6,161.8L154.8,161.8ZM155.5,158.3L156.3,161.4L159.5,161.4L158.1,164.6L159.5,167.8L156.3,167.8L155.5,170.9L154.7,167.8L151.5,167.8L152.9,164.6L151.5,161.4L154.7,161.4ZM116.9,188.2L117.7,191.3L120.9,191.3L119.5,194.5L120.9,197.7L117.7,197.7L116.9,200.8L116.1,197.7L112.9,197.7L114.3,194.5L112.9,191.3L116.1,191.3ZM119.6,191.2L120.4,194.3L123.6,194.3L122.2,197.5L123.6,200.7L120.4,200.7L119.6,203.8L118.8,200.7L115.6,200.7L117.0,197.5L115.6,194.3L118.8,194.3ZM121.7,193.8L122.5,196.9L125.7,196.9L124.3,200.1L125.7,203.3L122.5,203.3L121.7,206.4L120.9,203.3L117.7,203.3L119.1,200.1L117.7,196.9L120.9,196.9ZM124.4,196.4L125.2,199.5L128.4,199.5L127.0,202.7L128.4,205.9L125.2,205.9L124.4,209.0L123.6,205.9L120.4,205.9L121.8,202.7L120.4,199.5L123.6,199.5ZM127.8,198.6L128.6,201.7L131.8,201.7L130.4,204.9L131.8,208.1L128.6,208.1L127.8,211.2L127.0,208.1L123.8,208.1L125.2,204.9L123.8,201.7L127.0,201.7ZM129.6,201.0L130.4,204.1L133.6,204.1L132.2,207.3L133.6,210.5L130.4,210.5L129.6,213.6L128.8,210.5L125.6,210.5L127.0,207.3L125.6,204.1L128.8,204.1ZM132.6,204.0L133.4,207.1L136.6,207.1L135.2,210.3L136.6,213.5L133.4,213.5L132.6,216.6L131.8,213.5L128.6,213.5L130.0,210.3L128.6,207.1L131.8,207.1ZM134.9,206.4L135.7,209.5L138.9,209.5L137.5,212.7L138.9,215.9L135.7,215.9L134.9,219.0L134.1,215.9L130.9,215.9L132.3,212.7L130.9,209.5L134.1,209.5ZM138.6,208.7L139.4,211.8L142.6,211.8L141.2,215.0L142.6,218.2L139.4,218.2L138.6,221.3L137.8,218.2L134.6,218.2L136.0,215.0L134.6,211.8L137.8,211.8ZM141.0,210.5L141.8,213.6L145.0,213.6L143.6,216.8L145.0,220.0L141.8,220.0L141.0,223.1L140.2,220.0L137.0,220.0L138.4,216.8L137.0,213.6L140.2,213.6ZM143.8,213.3L144.6,216.4L147.8,216.4L146.4,219.6L147.8,222.8L144.6,222.8L143.8,225.9L143.0,222.8L139.8,222.8L141.2,219.6L139.8,216.4L143.0,216.4ZM146.4,216.3L147.2,219.4L150.4,219.4L149.0,222.6L150.4,225.8L147.2,225.8L146.4,228.9L145.6,225.8L142.4,225.8L143.8,222.6L142.4,219.4L145.6,219.4ZM148.1,218.6L148.9,221.7L152.1,221.7L150.7,224.9L152.1,228.1L148.9,228.1L148.1,231.2L147.3,228.1L144.1,228.1L145.5,224.9L144.1,221.7L147.3,221.7ZM150.5,219.2L151.3,222.3L154.5,222.3L153.1,225.5L154.5,228.7L151.3,228.7L150.5,231.8L149.7,228.7L146.5,228.7L147.9,225.5L146.5,222.3L149.7,222.3ZM165.2,183.4L166.0,186.5L169.2,186.5L167.8,189.7L169.2,192.9L166.0,192.9L165.2,196.0L164.4,192.9L161.2,192.9L162.6,189.7L161.2,186.5L164.4,186.5ZM164.8,187.0L165.6,190.1L168.8,190.1L167.4,193.3L168.8,196.5L165.6,196.5L164.8,199.6L164.0,196.5L160.8,196.5L162.2,193.3L160.8,190.1L164.0,190.1ZM164.6,190.3L165.4,193.4L168.6,193.4L167.2,196.6L168.6,199.8L165.4,199.8L164.6,202.9L163.8,199.8L160.6,199.8L162.0,196.6L160.6,193.4L163.8,193.4ZM164.3,193.3L165.1,196.4L168.3,196.4L166.9,199.6L168.3,202.8L165.1,202.8L164.3,205.9L163.5,202.8L160.3,202.8L161.7,199.6L160.3,196.4L163.5,196.4ZM166.6,196.1L167.4,199.2L170.6,199.2L169.2,202.4L170.6,205.6L167.4,205.6L166.6,208.7L165.8,205.6L162.6,205.6L164.0,202.4L162.6,199.2L165.8,199.2ZM168.3,198.3L169.1,201.4L172.3,201.4L170.9,204.6L172.3,207.8L169.1,207.8L168.3,210.9L167.5,207.8L164.3,207.8L165.7,204.6L164.3,201.4L167.5,201.4ZM171.7,198.3L172.5,201.4L175.7,201.4L174.3,204.6L175.7,207.8L172.5,207.8L171.7,210.9L170.9,207.8L167.7,207.8L169.1,204.6L167.7,201.4L170.9,201.4ZM174.9,199.0L175.7,202.1L178.9,202.1L177.5,205.3L178.9,208.5L175.7,208.5L174.9,211.6L174.1,208.5L170.9,208.5L172.3,205.3L170.9,202.1L174.1,202.1ZM179.0,199.8L179.8,202.9L183.0,202.9L181.6,206.1L183.0,209.3L179.8,209.3L179.0,212.4L178.2,209.3L175.0,209.3L176.4,206.1L175.0,202.9L178.2,202.9ZM182.4,199.0L183.2,202.1L186.4,202.1L185.0,205.3L186.4,208.5L183.2,208.5L182.4,211.6L181.6,208.5L178.4,208.5L179.8,205.3L178.4,202.1L181.6,202.1ZM185.7,198.7L186.5,201.8L189.7,201.8L188.3,205.0L189.7,208.2L186.5,208.2L185.7,211.3L184.9,208.2L181.7,208.2L183.1,205.0L181.7,201.8L184.9,201.8ZM188.8,199.0L189.6,202.1L192.8,202.1L191.4,205.3L192.8,208.5L189.6,208.5L188.8,211.6L188.0,208.5L184.8,208.5L186.2,205.3L184.8,202.1L188.0,202.1ZM192.0,199.0L192.8,202.1L196.0,202.1L194.6,205.3L196.0,208.5L192.8,208.5L192.0,211.6L191.2,208.5L188.0,208.5L189.4,205.3L188.0,202.1L191.2,202.1ZM195.6,198.4L196.4,201.5L199.6,201.5L198.2,204.7L199.6,207.9L196.4,207.9L195.6,211.0L194.8,207.9L191.6,207.9L193.0,204.7L191.6,201.5L194.8,201.5ZM199.3,197.8L200.1,200.9L203.3,200.9L201.9,204.1L203.3,207.3L200.1,207.3L199.3,210.4L198.5,207.3L195.3,207.3L196.7,204.1L195.3,200.9L198.5,200.9ZM202.8,198.3L203.6,201.4L206.8,201.4L205.4,204.6L206.8,207.8L203.6,207.8L202.8,210.9L202.0,207.8L198.8,207.8L200.2,204.6L198.8,201.4L202.0,201.4ZM205.6,198.5L206.4,201.6L209.6,201.6L208.2,204.8L209.6,208.0L206.4,208.0L205.6,211.1L204.8,208.0L201.6,208.0L203.0,204.8L201.6,201.6L204.8,201.6ZM208.9,198.7L209.7,201.8L212.9,201.8L211.5,205.0L212.9,208.2L209.7,208.2L208.9,211.3L208.1,208.2L204.9,208.2L206.3,205.0L204.9,201.8L208.1,201.8ZM212.6,198.1L213.4,201.2L216.6,201.2L215.2,204.4L216.6,207.6L213.4,207.6L212.6,210.7L211.8,207.6L208.6,207.6L210.0,204.4L208.6,201.2L211.8,201.2ZM216.2,198.1L217.0,201.2L220.2,201.2L218.8,204.4L220.2,207.6L217.0,207.6L216.2,210.7L215.4,207.6L212.2,207.6L213.6,204.4L212.2,201.2L215.4,201.2ZM219.0,198.7L219.8,201.8L223.0,201.8L221.6,205.0L223.0,208.2L219.8,208.2L219.0,211.3L218.2,208.2L215.0,208.2L216.4,205.0L215.0,201.8L218.2,201.8ZM222.3,199.2L223.1,202.3L226.3,202.3L224.9,205.5L226.3,208.7L223.1,208.7L222.3,211.8L221.5,208.7L218.3,208.7L219.7,205.5L218.3,202.3L221.5,202.3ZM225.8,199.4L226.6,202.5L229.8,202.5L228.4,205.7L229.8,208.9L226.6,208.9L225.8,212.0L225.0,208.9L221.8,208.9L223.2,205.7L221.8,202.5L225.0,202.5ZM228.9,198.0L229.7,201.1L232.9,201.1L231.5,204.3L232.9,207.5L229.7,207.5L228.9,210.6L228.1,207.5L224.9,207.5L226.3,204.3L224.9,201.1L228.1,201.1ZM229.9,194.7L230.7,197.8L233.9,197.8L232.5,201.0L233.9,204.2L230.7,204.2L229.9,207.3L229.1,204.2L225.9,204.2L227.3,201.0L225.9,197.8L229.1,197.8ZM231.5,191.8L232.3,194.9L235.5,194.9L234.1,198.1L235.5,201.3L232.3,201.3L231.5,204.4L230.7,201.3L227.5,201.3L228.9,198.1L227.5,194.9L230.7,194.9ZM233.9,189.9L234.7,193.0L237.9,193.0L236.5,196.2L237.9,199.4L234.7,199.4L233.9,202.5L233.1,199.4L229.9,199.4L231.3,196.2L229.9,193.0L233.1,193.0ZM236.5,187.2L237.3,190.3L240.5,190.3L239.1,193.5L240.5,196.7L237.3,196.7L236.5,199.8L235.7,196.7L232.5,196.7L233.9,193.5L232.5,190.3L235.7,190.3ZM239.4,184.5L240.2,187.6L243.4,187.6L242.0,190.8L243.4,194.0L240.2,194.0L239.4,197.1L238.6,194.0L235.4,194.0L236.8,190.8L235.4,187.6L238.6,187.6ZM242.1,184.9L242.9,188.0L246.1,188.0L244.7,191.2L246.1,194.4L242.9,194.4L242.1,197.5L241.3,194.4L238.1,194.4L239.5,191.2L238.1,188.0L241.3,188.0ZM245.3,184.2L246.1,187.3L249.3,187.3L247.9,190.5L249.3,193.7L246.1,193.7L245.3,196.8L244.5,193.7L241.3,193.7L242.7,190.5L241.3,187.3L244.5,187.3ZM249.0,184.3L249.8,187.4L253.0,187.4L251.6,190.6L253.0,193.8L249.8,193.8L249.0,196.9L248.2,193.8L245.0,193.8L246.4,190.6L245.0,187.4L248.2,187.4ZM251.7,182.4L252.5,185.5L255.7,185.5L254.3,188.7L255.7,191.9L252.5,191.9L251.7,195.0L250.9,191.9L247.7,191.9L249.1,188.7L247.7,185.5L250.9,185.5ZM251.2,180.0L252.0,183.1L255.2,183.1L253.8,186.3L255.2,189.5L252.0,189.5L251.2,192.6L250.4,189.5L247.2,189.5L248.6,186.3L247.2,183.1L250.4,183.1ZM248.5,177.9L249.3,181.0L252.5,181.0L251.1,184.2L252.5,187.4L249.3,187.4L248.5,190.5L247.7,187.4L244.5,187.4L245.9,184.2L244.5,181.0L247.7,181.0ZM245.5,176.3L246.3,179.4L249.5,179.4L248.1,182.6L249.5,185.8L246.3,185.8L245.5,188.9L244.7,185.8L241.5,185.8L242.9,182.6L241.5,179.4L244.7,179.4ZM242.7,175.3L243.5,178.4L246.7,178.4L245.3,181.6L246.7,184.8L243.5,184.8L242.7,187.9L241.9,184.8L238.7,184.8L240.1,181.6L238.7,178.4L241.9,178.4ZM238.7,174.1L239.5,177.2L242.7,177.2L241.3,180.4L242.7,183.6L239.5,183.6L238.7,186.7L237.9,183.6L234.7,183.6L236.1,180.4L234.7,177.2L237.9,177.2ZM236.2,173.4L237.0,176.5L240.2,176.5L238.8,179.7L240.2,182.9L237.0,182.9L236.2,186.0L235.4,182.9L232.2,182.9L233.6,179.7L232.2,176.5L235.4,176.5ZM233.3,171.4L234.1,174.5L237.3,174.5L235.9,177.7L237.3,180.9L234.1,180.9L233.3,184.0L232.5,180.9L229.3,180.9L230.7,177.7L229.3,174.5L232.5,174.5ZM229.7,169.5L230.5,172.6L233.7,172.6L232.3,175.8L233.7,179.0L230.5,179.0L229.7,182.1L228.9,179.0L225.7,179.0L227.1,175.8L225.7,172.6L228.9,172.6ZM226.9,171.0L227.7,174.1L230.9,174.1L229.5,177.3L230.9,180.5L227.7,180.5L226.9,183.6L226.1,180.5L222.9,180.5L224.3,177.3L222.9,174.1L226.1,174.1ZM223.4,172.1L224.2,175.2L227.4,175.2L226.0,178.4L227.4,181.6L224.2,181.6L223.4,184.7L222.6,181.6L219.4,181.6L220.8,178.4L219.4,175.2L222.6,175.2ZM220.2,173.1L221.0,176.2L224.2,176.2L222.8,179.4L224.2,182.6L221.0,182.6L220.2,185.7L219.4,182.6L216.2,182.6L217.6,179.4L216.2,176.2L219.4,176.2ZM217.1,172.4L217.9,175.5L221.1,175.5L219.7,178.7L221.1,181.9L217.9,181.9L217.1,185.0L216.3,181.9L213.1,181.9L214.5,178.7L213.1,175.5L216.3,175.5ZM213.8,172.2L214.6,175.3L217.8,175.3L216.4,178.5L217.8,181.7L214.6,181.7L213.8,184.8L213.0,181.7L209.8,181.7L211.2,178.5L209.8,175.3L213.0,175.3ZM210.1,172.6L210.9,175.7L214.1,175.7L212.7,178.9L214.1,182.1L210.9,182.1L210.1,185.2L209.3,182.1L206.1,182.1L207.5,178.9L206.1,175.7L209.3,175.7ZM206.4,172.3L207.2,175.4L210.4,175.4L209.0,178.6L210.4,181.8L207.2,181.8L206.4,184.9L205.6,181.8L202.4,181.8L203.8,178.6L202.4,175.4L205.6,175.4ZM203.5,172.2L204.3,175.3L207.5,175.3L206.1,178.5L207.5,181.7L204.3,181.7L203.5,184.8L202.7,181.7L199.5,181.7L200.9,178.5L199.5,175.3L202.7,175.3ZM200.5,171.5L201.3,174.6L204.5,174.6L203.1,177.8L204.5,181.0L201.3,181.0L200.5,184.1L199.7,181.0L196.5,181.0L197.9,177.8L196.5,174.6L199.7,174.6ZM198.0,168.1L198.8,171.2L202.0,171.2L200.6,174.4L202.0,177.6L198.8,177.6L198.0,180.7L197.2,177.6L194.0,177.6L195.4,174.4L194.0,171.2L197.2,171.2ZM196.3,165.7L197.1,168.8L200.3,168.8L198.9,172.0L200.3,175.2L197.1,175.2L196.3,178.3L195.5,175.2L192.3,175.2L193.7,172.0L192.3,168.8L195.5,168.8ZM193.9,164.4L194.7,167.5L197.9,167.5L196.5,170.7L197.9,173.9L194.7,173.9L193.9,177.0L193.1,173.9L189.9,173.9L191.3,170.7L189.9,167.5L193.1,167.5ZM190.1,164.7L190.9,167.8L194.1,167.8L192.7,171.0L194.1,174.2L190.9,174.2L190.1,177.3L189.3,174.2L186.1,174.2L187.5,171.0L186.1,167.8L189.3,167.8ZM187.4,166.2L188.2,169.3L191.4,169.3L190.0,172.5L191.4,175.7L188.2,175.7L187.4,178.8L186.6,175.7L183.4,175.7L184.8,172.5L183.4,169.3L186.6,169.3ZM185.1,168.8L185.9,171.9L189.1,171.9L187.7,175.1L189.1,178.3L185.9,178.3L185.1,181.4L184.3,178.3L181.1,178.3L182.5,175.1L181.1,171.9L184.3,171.9ZM182.1,169.9L182.9,173.0L186.1,173.0L184.7,176.2L186.1,179.4L182.9,179.4L182.1,182.5L181.3,179.4L178.1,179.4L179.5,176.2L178.1,173.0L181.3,173.0ZM179.4,172.6L180.2,175.7L183.4,175.7L182.0,178.9L183.4,182.1L180.2,182.1L179.4,185.2L178.6,182.1L175.4,182.1L176.8,178.9L175.4,175.7L178.6,175.7ZM176.3,174.6L177.1,177.7L180.3,177.7L178.9,180.9L180.3,184.1L177.1,184.1L176.3,187.2L175.5,184.1L172.3,184.1L173.7,180.9L172.3,177.7L175.5,177.7ZM173.4,175.9L174.2,179.0L177.4,179.0L176.0,182.2L177.4,185.4L174.2,185.4L173.4,188.5L172.6,185.4L169.4,185.4L170.8,182.2L169.4,179.0L172.6,179.0ZM170.3,177.8L171.1,180.9L174.3,180.9L172.9,184.1L174.3,187.3L171.1,187.3L170.3,190.4L169.5,187.3L166.3,187.3L167.7,184.1L166.3,180.9L169.5,180.9ZM167.4,179.9L168.2,183.0L171.4,183.0L170.0,186.2L171.4,189.4L168.2,189.4L167.4,192.5L166.6,189.4L163.4,189.4L164.8,186.2L163.4,183.0L166.6,183.0ZM166.0,182.9L166.8,186.0L170.0,186.0L168.6,189.2L170.0,192.4L166.8,192.4L166.0,195.5L165.2,192.4L162.0,192.4L163.4,189.2L162.0,186.0L165.2,186.0ZM165.7,183.4L166.5,186.5L169.7,186.5L168.3,189.7L169.7,192.9L166.5,192.9L165.7,196.0L164.9,192.9L161.7,192.9L163.1,189.7L161.7,186.5L164.9,186.5ZM191.5,164.7L192.3,167.8L195.5,167.8L194.1,171.0L195.5,174.2L192.3,174.2L191.5,177.3L190.7,174.2L187.5,174.2L188.9,171.0L187.5,167.8L190.7,167.8ZM187.3,167.2L188.1,170.3L191.3,170.3L189.9,173.5L191.3,176.7L188.1,176.7L187.3,179.8L186.5,176.7L183.3,176.7L184.7,173.5L183.3,170.3L186.5,170.3ZM190.8,167.1L191.6,170.2L194.8,170.2L193.4,173.4L194.8,176.6L191.6,176.6L190.8,179.7L190.0,176.6L186.8,176.6L188.2,173.4L186.8,170.2L190.0,170.2ZM193.1,166.1L193.9,169.2L197.1,169.2L195.7,172.4L197.1,175.6L193.9,175.6L193.1,178.7L192.3,175.6L189.1,175.6L190.5,172.4L189.1,169.2L192.3,169.2ZM196.1,167.4L196.9,170.5L200.1,170.5L198.7,173.7L200.1,176.9L196.9,176.9L196.1,180.0L195.3,176.9L192.1,176.9L193.5,173.7L192.1,170.5L195.3,170.5ZM185.3,169.0L186.1,172.1L189.3,172.1L187.9,175.3L189.3,178.5L186.1,178.5L185.3,181.6L184.5,178.5L181.3,178.5L182.7,175.3L181.3,172.1L184.5,172.1ZM189.0,170.2L189.8,173.3L193.0,173.3L191.6,176.5L193.0,179.7L189.8,179.7L189.0,182.8L188.2,179.7L185.0,179.7L186.4,176.5L185.0,173.3L188.2,173.3ZM192.4,170.1L193.2,173.2L196.4,173.2L195.0,176.4L196.4,179.6L193.2,179.6L192.4,182.7L191.6,179.6L188.4,179.6L189.8,176.4L188.4,173.2L191.6,173.2ZM194.9,169.6L195.7,172.7L198.9,172.7L197.5,175.9L198.9,179.1L195.7,179.1L194.9,182.2L194.1,179.1L190.9,179.1L192.3,175.9L190.9,172.7L194.1,172.7ZM198.4,170.6L199.2,173.7L202.4,173.7L201.0,176.9L202.4,180.1L199.2,180.1L198.4,183.2L197.6,180.1L194.4,180.1L195.8,176.9L194.4,173.7L197.6,173.7ZM179.2,172.5L180.0,175.6L183.2,175.6L181.8,178.8L183.2,182.0L180.0,182.0L179.2,185.1L178.4,182.0L175.2,182.0L176.6,178.8L175.2,175.6L178.4,175.6ZM182.7,173.8L183.5,176.9L186.7,176.9L185.3,180.1L186.7,183.3L183.5,183.3L182.7,186.4L181.9,183.3L178.7,183.3L180.1,180.1L178.7,176.9L181.9,176.9ZM187.2,172.0L188.0,175.1L191.2,175.1L189.8,178.3L191.2,181.5L188.0,181.5L187.2,184.6L186.4,181.5L183.2,181.5L184.6,178.3L183.2,175.1L186.4,175.1ZM191.0,172.0L191.8,175.1L195.0,175.1L193.6,178.3L195.0,181.5L191.8,181.5L191.0,184.6L190.2,181.5L187.0,181.5L188.4,178.3L187.0,175.1L190.2,175.1ZM193.3,173.8L194.1,176.9L197.3,176.9L195.9,180.1L197.3,183.3L194.1,183.3L193.3,186.4L192.5,183.3L189.3,183.3L190.7,180.1L189.3,176.9L192.5,176.9ZM197.5,173.3L198.3,176.4L201.5,176.4L200.1,179.6L201.5,182.8L198.3,182.8L197.5,185.9L196.7,182.8L193.5,182.8L194.9,179.6L193.5,176.4L196.7,176.4ZM200.2,172.2L201.0,175.3L204.2,175.3L202.8,178.5L204.2,181.7L201.0,181.7L200.2,184.8L199.4,181.7L196.2,181.7L197.6,178.5L196.2,175.3L199.4,175.3ZM214.5,173.2L215.3,176.3L218.5,176.3L217.1,179.5L218.5,182.7L215.3,182.7L214.5,185.8L213.7,182.7L210.5,182.7L211.9,179.5L210.5,176.3L213.7,176.3ZM217.3,173.1L218.1,176.2L221.3,176.2L219.9,179.4L221.3,182.6L218.1,182.6L217.3,185.7L216.5,182.6L213.3,182.6L214.7,179.4L213.3,176.2L216.5,176.2ZM224.3,172.6L225.1,175.7L228.3,175.7L226.9,178.9L228.3,182.1L225.1,182.1L224.3,185.2L223.5,182.1L220.3,182.1L221.7,178.9L220.3,175.7L223.5,175.7ZM228.0,173.6L228.8,176.7L232.0,176.7L230.6,179.9L232.0,183.1L228.8,183.1L228.0,186.2L227.2,183.1L224.0,183.1L225.4,179.9L224.0,176.7L227.2,176.7ZM230.8,173.0L231.6,176.1L234.8,176.1L233.4,179.3L234.8,182.5L231.6,182.5L230.8,185.6L230.0,182.5L226.8,182.5L228.2,179.3L226.8,176.1L230.0,176.1ZM234.8,172.6L235.6,175.7L238.8,175.7L237.4,178.9L238.8,182.1L235.6,182.1L234.8,185.2L234.0,182.1L230.8,182.1L232.2,178.9L230.8,175.7L234.0,175.7ZM178.1,176.0L178.9,179.1L182.1,179.1L180.7,182.3L182.1,185.5L178.9,185.5L178.1,188.6L177.3,185.5L174.1,185.5L175.5,182.3L174.1,179.1L177.3,179.1ZM181.4,176.1L182.2,179.2L185.4,179.2L184.0,182.4L185.4,185.6L182.2,185.6L181.4,188.7L180.6,185.6L177.4,185.6L178.8,182.4L177.4,179.2L180.6,179.2ZM192.8,174.8L193.6,177.9L196.8,177.9L195.4,181.1L196.8,184.3L193.6,184.3L192.8,187.4L192.0,184.3L188.8,184.3L190.2,181.1L188.8,177.9L192.0,177.9ZM195.3,175.1L196.1,178.2L199.3,178.2L197.9,181.4L199.3,184.6L196.1,184.6L195.3,187.7L194.5,184.6L191.3,184.6L192.7,181.4L191.3,178.2L194.5,178.2ZM199.2,176.6L200.0,179.7L203.2,179.7L201.8,182.9L203.2,186.1L200.0,186.1L199.2,189.2L198.4,186.1L195.2,186.1L196.6,182.9L195.2,179.7L198.4,179.7ZM202.1,175.0L202.9,178.1L206.1,178.1L204.7,181.3L206.1,184.5L202.9,184.5L202.1,187.6L201.3,184.5L198.1,184.5L199.5,181.3L198.1,178.1L201.3,178.1ZM205.6,175.8L206.4,178.9L209.6,178.9L208.2,182.1L209.6,185.3L206.4,185.3L205.6,188.4L204.8,185.3L201.6,185.3L203.0,182.1L201.6,178.9L204.8,178.9ZM209.3,175.8L210.1,178.9L213.3,178.9L211.9,182.1L213.3,185.3L210.1,185.3L209.3,188.4L208.5,185.3L205.3,185.3L206.7,182.1L205.3,178.9L208.5,178.9ZM219.4,175.5L220.2,178.6L223.4,178.6L222.0,181.8L223.4,185.0L220.2,185.0L219.4,188.1L218.6,185.0L215.4,185.0L216.8,181.8L215.4,178.6L218.6,178.6ZM222.9,175.0L223.7,178.1L226.9,178.1L225.5,181.3L226.9,184.5L223.7,184.5L222.9,187.6L222.1,184.5L218.9,184.5L220.3,181.3L218.9,178.1L222.1,178.1ZM226.8,175.5L227.6,178.6L230.8,178.6L229.4,181.8L230.8,185.0L227.6,185.0L226.8,188.1L226.0,185.0L222.8,185.0L224.2,181.8L222.8,178.6L226.0,178.6ZM228.3,175.3L229.1,178.4L232.3,178.4L230.9,181.6L232.3,184.8L229.1,184.8L228.3,187.9L227.5,184.8L224.3,184.8L225.7,181.6L224.3,178.4L227.5,178.4ZM232.4,174.8L233.2,177.9L236.4,177.9L235.0,181.1L236.4,184.3L233.2,184.3L232.4,187.4L231.6,184.3L228.4,184.3L229.8,181.1L228.4,177.9L231.6,177.9ZM235.9,175.6L236.7,178.7L239.9,178.7L238.5,181.9L239.9,185.1L236.7,185.1L235.9,188.2L235.1,185.1L231.9,185.1L233.3,181.9L231.9,178.7L235.1,178.7ZM239.8,175.5L240.6,178.6L243.8,178.6L242.4,181.8L243.8,185.0L240.6,185.0L239.8,188.1L239.0,185.0L235.8,185.0L237.2,181.8L235.8,178.6L239.0,178.6ZM173.7,179.3L174.5,182.4L177.7,182.4L176.3,185.6L177.7,188.8L174.5,188.8L173.7,191.9L172.9,188.8L169.7,188.8L171.1,185.6L169.7,182.4L172.9,182.4ZM176.8,178.7L177.6,181.8L180.8,181.8L179.4,185.0L180.8,188.2L177.6,188.2L176.8,191.3L176.0,188.2L172.8,188.2L174.2,185.0L172.8,181.8L176.0,181.8ZM180.0,178.2L180.8,181.3L184.0,181.3L182.6,184.5L184.0,187.7L180.8,187.7L180.0,190.8L179.2,187.7L176.0,187.7L177.4,184.5L176.0,181.3L179.2,181.3ZM196.5,178.5L197.3,181.6L200.5,181.6L199.1,184.8L200.5,188.0L197.3,188.0L196.5,191.1L195.7,188.0L192.5,188.0L193.9,184.8L192.5,181.6L195.7,181.6ZM199.8,178.6L200.6,181.7L203.8,181.7L202.4,184.9L203.8,188.1L200.6,188.1L199.8,191.2L199.0,188.1L195.8,188.1L197.2,184.9L195.8,181.7L199.0,181.7ZM203.1,177.7L203.9,180.8L207.1,180.8L205.7,184.0L207.1,187.2L203.9,187.2L203.1,190.3L202.3,187.2L199.1,187.2L200.5,184.0L199.1,180.8L202.3,180.8ZM218.2,179.4L219.0,182.5L222.2,182.5L220.8,185.7L222.2,188.9L219.0,188.9L218.2,192.0L217.4,188.9L214.2,188.9L215.6,185.7L214.2,182.5L217.4,182.5ZM223.4,179.4L224.2,182.5L227.4,182.5L226.0,185.7L227.4,188.9L224.2,188.9L223.4,192.0L222.6,188.9L219.4,188.9L220.8,185.7L219.4,182.5L222.6,182.5ZM227.8,177.7L228.6,180.8L231.8,180.8L230.4,184.0L231.8,187.2L228.6,187.2L227.8,190.3L227.0,187.2L223.8,187.2L225.2,184.0L223.8,180.8L227.0,180.8ZM229.9,179.6L230.7,182.7L233.9,182.7L232.5,185.9L233.9,189.1L230.7,189.1L229.9,192.2L229.1,189.1L225.9,189.1L227.3,185.9L225.9,182.7L229.1,182.7ZM234.6,178.2L235.4,181.3L238.6,181.3L237.2,184.5L238.6,187.7L235.4,187.7L234.6,190.8L233.8,187.7L230.6,187.7L232.0,184.5L230.6,181.3L233.8,181.3ZM236.9,178.0L237.7,181.1L240.9,181.1L239.5,184.3L240.9,187.5L237.7,187.5L236.9,190.6L236.1,187.5L232.9,187.5L234.3,184.3L232.9,181.1L236.1,181.1ZM240.6,179.3L241.4,182.4L244.6,182.4L243.2,185.6L244.6,188.8L241.4,188.8L240.6,191.9L239.8,188.8L236.6,188.8L238.0,185.6L236.6,182.4L239.8,182.4ZM244.2,178.0L245.0,181.1L248.2,181.1L246.8,184.3L248.2,187.5L245.0,187.5L244.2,190.6L243.4,187.5L240.2,187.5L241.6,184.3L240.2,181.1L243.4,181.1ZM248.7,179.3L249.5,182.4L252.7,182.4L251.3,185.6L252.7,188.8L249.5,188.8L248.7,191.9L247.9,188.8L244.7,188.8L246.1,185.6L244.7,182.4L247.9,182.4ZM250.7,179.5L251.5,182.6L254.7,182.6L253.3,185.8L254.7,189.0L251.5,189.0L250.7,192.1L249.9,189.0L246.7,189.0L248.1,185.8L246.7,182.6L249.9,182.6ZM168.4,182.5L169.2,185.6L172.4,185.6L171.0,188.8L172.4,192.0L169.2,192.0L168.4,195.1L167.6,192.0L164.4,192.0L165.8,188.8L164.4,185.6L167.6,185.6ZM172.0,182.4L172.8,185.5L176.0,185.5L174.6,188.7L176.0,191.9L172.8,191.9L172.0,195.0L171.2,191.9L168.0,191.9L169.4,188.7L168.0,185.5L171.2,185.5ZM174.2,182.1L175.0,185.2L178.2,185.2L176.8,188.4L178.2,191.6L175.0,191.6L174.2,194.7L173.4,191.6L170.2,191.6L171.6,188.4L170.2,185.2L173.4,185.2ZM178.3,182.2L179.1,185.3L182.3,185.3L180.9,188.5L182.3,191.7L179.1,191.7L178.3,194.8L177.5,191.7L174.3,191.7L175.7,188.5L174.3,185.3L177.5,185.3ZM195.3,182.4L196.1,185.5L199.3,185.5L197.9,188.7L199.3,191.9L196.1,191.9L195.3,195.0L194.5,191.9L191.3,191.9L192.7,188.7L191.3,185.5L194.5,185.5ZM199.3,181.6L200.1,184.7L203.3,184.7L201.9,187.9L203.3,191.1L200.1,191.1L199.3,194.2L198.5,191.1L195.3,191.1L196.7,187.9L195.3,184.7L198.5,184.7ZM202.1,182.0L202.9,185.1L206.1,185.1L204.7,188.3L206.1,191.5L202.9,191.5L202.1,194.6L201.3,191.5L198.1,191.5L199.5,188.3L198.1,185.1L201.3,185.1ZM223.2,180.7L224.0,183.8L227.2,183.8L225.8,187.0L227.2,190.2L224.0,190.2L223.2,193.3L222.4,190.2L219.2,190.2L220.6,187.0L219.2,183.8L222.4,183.8ZM226.3,181.9L227.1,185.0L230.3,185.0L228.9,188.2L230.3,191.4L227.1,191.4L226.3,194.5L225.5,191.4L222.3,191.4L223.7,188.2L222.3,185.0L225.5,185.0ZM228.9,182.4L229.7,185.5L232.9,185.5L231.5,188.7L232.9,191.9L229.7,191.9L228.9,195.0L228.1,191.9L224.9,191.9L226.3,188.7L224.9,185.5L228.1,185.5ZM232.3,181.6L233.1,184.7L236.3,184.7L234.9,187.9L236.3,191.1L233.1,191.1L232.3,194.2L231.5,191.1L228.3,191.1L229.7,187.9L228.3,184.7L231.5,184.7ZM236.1,182.2L236.9,185.3L240.1,185.3L238.7,188.5L240.1,191.7L236.9,191.7L236.1,194.8L235.3,191.7L232.1,191.7L233.5,188.5L232.1,185.3L235.3,185.3ZM238.8,181.5L239.6,184.6L242.8,184.6L241.4,187.8L242.8,191.0L239.6,191.0L238.8,194.1L238.0,191.0L234.8,191.0L236.2,187.8L234.8,184.6L238.0,184.6ZM242.7,181.8L243.5,184.9L246.7,184.9L245.3,188.1L246.7,191.3L243.5,191.3L242.7,194.4L241.9,191.3L238.7,191.3L240.1,188.1L238.7,184.9L241.9,184.9ZM246.9,181.3L247.7,184.4L250.9,184.4L249.5,187.6L250.9,190.8L247.7,190.8L246.9,193.9L246.1,190.8L242.9,190.8L244.3,187.6L242.9,184.4L246.1,184.4ZM250.3,181.5L251.1,184.6L254.3,184.6L252.9,187.8L254.3,191.0L251.1,191.0L250.3,194.1L249.5,191.0L246.3,191.0L247.7,187.8L246.3,184.6L249.5,184.6ZM166.3,184.2L167.1,187.3L170.3,187.3L168.9,190.5L170.3,193.7L167.1,193.7L166.3,196.8L165.5,193.7L162.3,193.7L163.7,190.5L162.3,187.3L165.5,187.3ZM169.7,185.6L170.5,188.7L173.7,188.7L172.3,191.9L173.7,195.1L170.5,195.1L169.7,198.2L168.9,195.1L165.7,195.1L167.1,191.9L165.7,188.7L168.9,188.7ZM173.4,185.2L174.2,188.3L177.4,188.3L176.0,191.5L177.4,194.7L174.2,194.7L173.4,197.8L172.6,194.7L169.4,194.7L170.8,191.5L169.4,188.3L172.6,188.3ZM176.2,184.3L177.0,187.4L180.2,187.4L178.8,190.6L180.2,193.8L177.0,193.8L176.2,196.9L175.4,193.8L172.2,193.8L173.6,190.6L172.2,187.4L175.4,187.4ZM187.5,184.7L188.3,187.8L191.5,187.8L190.1,191.0L191.5,194.2L188.3,194.2L187.5,197.3L186.7,194.2L183.5,194.2L184.9,191.0L183.5,187.8L186.7,187.8ZM197.5,185.5L198.3,188.6L201.5,188.6L200.1,191.8L201.5,195.0L198.3,195.0L197.5,198.1L196.7,195.0L193.5,195.0L194.9,191.8L193.5,188.6L196.7,188.6ZM200.5,184.9L201.3,188.0L204.5,188.0L203.1,191.2L204.5,194.4L201.3,194.4L200.5,197.5L199.7,194.4L196.5,194.4L197.9,191.2L196.5,188.0L199.7,188.0ZM210.4,185.2L211.2,188.3L214.4,188.3L213.0,191.5L214.4,194.7L211.2,194.7L210.4,197.8L209.6,194.7L206.4,194.7L207.8,191.5L206.4,188.3L209.6,188.3ZM227.2,184.5L228.0,187.6L231.2,187.6L229.8,190.8L231.2,194.0L228.0,194.0L227.2,197.1L226.4,194.0L223.2,194.0L224.6,190.8L223.2,187.6L226.4,187.6ZM231.2,185.5L232.0,188.6L235.2,188.6L233.8,191.8L235.2,195.0L232.0,195.0L231.2,198.1L230.4,195.0L227.2,195.0L228.6,191.8L227.2,188.6L230.4,188.6ZM233.4,184.8L234.2,187.9L237.4,187.9L236.0,191.1L237.4,194.3L234.2,194.3L233.4,197.4L232.6,194.3L229.4,194.3L230.8,191.1L229.4,187.9L232.6,187.9ZM236.8,183.9L237.6,187.0L240.8,187.0L239.4,190.2L240.8,193.4L237.6,193.4L236.8,196.5L236.0,193.4L232.8,193.4L234.2,190.2L232.8,187.0L236.0,187.0ZM245.4,184.5L246.2,187.6L249.4,187.6L248.0,190.8L249.4,194.0L246.2,194.0L245.4,197.1L244.6,194.0L241.4,194.0L242.8,190.8L241.4,187.6L244.6,187.6ZM246.9,184.4L247.7,187.5L250.9,187.5L249.5,190.7L250.9,193.9L247.7,193.9L246.9,197.0L246.1,193.9L242.9,193.9L244.3,190.7L242.9,187.5L246.1,187.5ZM165.6,187.5L166.4,190.6L169.6,190.6L168.2,193.8L169.6,197.0L166.4,197.0L165.6,200.1L164.8,197.0L161.6,197.0L163.0,193.8L161.6,190.6L164.8,190.6ZM167.8,186.8L168.6,189.9L171.8,189.9L170.4,193.1L171.8,196.3L168.6,196.3L167.8,199.4L167.0,196.3L163.8,196.3L165.2,193.1L163.8,189.9L167.0,189.9ZM171.7,187.0L172.5,190.1L175.7,190.1L174.3,193.3L175.7,196.5L172.5,196.5L171.7,199.6L170.9,196.5L167.7,196.5L169.1,193.3L167.7,190.1L170.9,190.1ZM174.1,186.6L174.9,189.7L178.1,189.7L176.7,192.9L178.1,196.1L174.9,196.1L174.1,199.2L173.3,196.1L170.1,196.1L171.5,192.9L170.1,189.7L173.3,189.7ZM177.2,188.0L178.0,191.1L181.2,191.1L179.8,194.3L181.2,197.5L178.0,197.5L177.2,200.6L176.4,197.5L173.2,197.5L174.6,194.3L173.2,191.1L176.4,191.1ZM180.9,188.5L181.7,191.6L184.9,191.6L183.5,194.8L184.9,198.0L181.7,198.0L180.9,201.1L180.1,198.0L176.9,198.0L178.3,194.8L176.9,191.6L180.1,191.6ZM185.8,186.9L186.6,190.0L189.8,190.0L188.4,193.2L189.8,196.4L186.6,196.4L185.8,199.5L185.0,196.4L181.8,196.4L183.2,193.2L181.8,190.0L185.0,190.0ZM197.8,187.8L198.6,190.9L201.8,190.9L200.4,194.1L201.8,197.3L198.6,197.3L197.8,200.4L197.0,197.3L193.8,197.3L195.2,194.1L193.8,190.9L197.0,190.9ZM202.4,187.5L203.2,190.6L206.4,190.6L205.0,193.8L206.4,197.0L203.2,197.0L202.4,200.1L201.6,197.0L198.4,197.0L199.8,193.8L198.4,190.6L201.6,190.6ZM209.3,186.6L210.1,189.7L213.3,189.7L211.9,192.9L213.3,196.1L210.1,196.1L209.3,199.2L208.5,196.1L205.3,196.1L206.7,192.9L205.3,189.7L208.5,189.7ZM212.5,188.2L213.3,191.3L216.5,191.3L215.1,194.5L216.5,197.7L213.3,197.7L212.5,200.8L211.7,197.7L208.5,197.7L209.9,194.5L208.5,191.3L211.7,191.3ZM219.7,187.6L220.5,190.7L223.7,190.7L222.3,193.9L223.7,197.1L220.5,197.1L219.7,200.2L218.9,197.1L215.7,197.1L217.1,193.9L215.7,190.7L218.9,190.7ZM226.2,186.9L227.0,190.0L230.2,190.0L228.8,193.2L230.2,196.4L227.0,196.4L226.2,199.5L225.4,196.4L222.2,196.4L223.6,193.2L222.2,190.0L225.4,190.0ZM229.8,187.3L230.6,190.4L233.8,190.4L232.4,193.6L233.8,196.8L230.6,196.8L229.8,199.9L229.0,196.8L225.8,196.8L227.2,193.6L225.8,190.4L229.0,190.4ZM232.9,187.9L233.7,191.0L236.9,191.0L235.5,194.2L236.9,197.4L233.7,197.4L232.9,200.5L232.1,197.4L228.9,197.4L230.3,194.2L228.9,191.0L232.1,191.0ZM235.9,187.4L236.7,190.5L239.9,190.5L238.5,193.7L239.9,196.9L236.7,196.9L235.9,200.0L235.1,196.9L231.9,196.9L233.3,193.7L231.9,190.5L235.1,190.5ZM167.0,190.2L167.8,193.3L171.0,193.3L169.6,196.5L171.0,199.7L167.8,199.7L167.0,202.8L166.2,199.7L163.0,199.7L164.4,196.5L163.0,193.3L166.2,193.3ZM169.9,191.5L170.7,194.6L173.9,194.6L172.5,197.8L173.9,201.0L170.7,201.0L169.9,204.1L169.1,201.0L165.9,201.0L167.3,197.8L165.9,194.6L169.1,194.6ZM173.8,190.8L174.6,193.9L177.8,193.9L176.4,197.1L177.8,200.3L174.6,200.3L173.8,203.4L173.0,200.3L169.8,200.3L171.2,197.1L169.8,193.9L173.0,193.9ZM176.1,190.4L176.9,193.5L180.1,193.5L178.7,196.7L180.1,199.9L176.9,199.9L176.1,203.0L175.3,199.9L172.1,199.9L173.5,196.7L172.1,193.5L175.3,193.5ZM197.5,191.3L198.3,194.4L201.5,194.4L200.1,197.6L201.5,200.8L198.3,200.8L197.5,203.9L196.7,200.8L193.5,200.8L194.9,197.6L193.5,194.4L196.7,194.4ZM200.5,190.1L201.3,193.2L204.5,193.2L203.1,196.4L204.5,199.6L201.3,199.6L200.5,202.7L199.7,199.6L196.5,199.6L197.9,196.4L196.5,193.2L199.7,193.2ZM204.4,191.2L205.2,194.3L208.4,194.3L207.0,197.5L208.4,200.7L205.2,200.7L204.4,203.8L203.6,200.7L200.4,200.7L201.8,197.5L200.4,194.3L203.6,194.3ZM224.6,191.1L225.4,194.2L228.6,194.2L227.2,197.4L228.6,200.6L225.4,200.6L224.6,203.7L223.8,200.6L220.6,200.6L222.0,197.4L220.6,194.2L223.8,194.2ZM227.4,189.7L228.2,192.8L231.4,192.8L230.0,196.0L231.4,199.2L228.2,199.2L227.4,202.3L226.6,199.2L223.4,199.2L224.8,196.0L223.4,192.8L226.6,192.8ZM231.5,191.1L232.3,194.2L235.5,194.2L234.1,197.4L235.5,200.6L232.3,200.6L231.5,203.7L230.7,200.6L227.5,200.6L228.9,197.4L227.5,194.2L230.7,194.2ZM164.7,193.3L165.5,196.4L168.7,196.4L167.3,199.6L168.7,202.8L165.5,202.8L164.7,205.9L163.9,202.8L160.7,202.8L162.1,199.6L160.7,196.4L163.9,196.4ZM168.1,192.8L168.9,195.9L172.1,195.9L170.7,199.1L172.1,202.3L168.9,202.3L168.1,205.4L167.3,202.3L164.1,202.3L165.5,199.1L164.1,195.9L167.3,195.9ZM170.5,194.5L171.3,197.6L174.5,197.6L173.1,200.8L174.5,204.0L171.3,204.0L170.5,207.1L169.7,204.0L166.5,204.0L167.9,200.8L166.5,197.6L169.7,197.6ZM174.6,192.7L175.4,195.8L178.6,195.8L177.2,199.0L178.6,202.2L175.4,202.2L174.6,205.3L173.8,202.2L170.6,202.2L172.0,199.0L170.6,195.8L173.8,195.8ZM178.5,194.1L179.3,197.2L182.5,197.2L181.1,200.4L182.5,203.6L179.3,203.6L178.5,206.7L177.7,203.6L174.5,203.6L175.9,200.4L174.5,197.2L177.7,197.2ZM180.9,193.7L181.7,196.8L184.9,196.8L183.5,200.0L184.9,203.2L181.7,203.2L180.9,206.3L180.1,203.2L176.9,203.2L178.3,200.0L176.9,196.8L180.1,196.8ZM184.7,193.5L185.5,196.6L188.7,196.6L187.3,199.8L188.7,203.0L185.5,203.0L184.7,206.1L183.9,203.0L180.7,203.0L182.1,199.8L180.7,196.6L183.9,196.6ZM195.8,193.4L196.6,196.5L199.8,196.5L198.4,199.7L199.8,202.9L196.6,202.9L195.8,206.0L195.0,202.9L191.8,202.9L193.2,199.7L191.8,196.5L195.0,196.5ZM199.5,194.0L200.3,197.1L203.5,197.1L202.1,200.3L203.5,203.5L200.3,203.5L199.5,206.6L198.7,203.5L195.5,203.5L196.9,200.3L195.5,197.1L198.7,197.1ZM202.7,194.4L203.5,197.5L206.7,197.5L205.3,200.7L206.7,203.9L203.5,203.9L202.7,207.0L201.9,203.9L198.7,203.9L200.1,200.7L198.7,197.5L201.9,197.5ZM204.9,192.6L205.7,195.7L208.9,195.7L207.5,198.9L208.9,202.1L205.7,202.1L204.9,205.2L204.1,202.1L200.9,202.1L202.3,198.9L200.9,195.7L204.1,195.7ZM208.2,192.9L209.0,196.0L212.2,196.0L210.8,199.2L212.2,202.4L209.0,202.4L208.2,205.5L207.4,202.4L204.2,202.4L205.6,199.2L204.2,196.0L207.4,196.0ZM216.4,193.4L217.2,196.5L220.4,196.5L219.0,199.7L220.4,202.9L217.2,202.9L216.4,206.0L215.6,202.9L212.4,202.9L213.8,199.7L212.4,196.5L215.6,196.5ZM219.9,194.3L220.7,197.4L223.9,197.4L222.5,200.6L223.9,203.8L220.7,203.8L219.9,206.9L219.1,203.8L215.9,203.8L217.3,200.6L215.9,197.4L219.1,197.4ZM221.5,193.7L222.3,196.8L225.5,196.8L224.1,200.0L225.5,203.2L222.3,203.2L221.5,206.3L220.7,203.2L217.5,203.2L218.9,200.0L217.5,196.8L220.7,196.8ZM225.6,192.7L226.4,195.8L229.6,195.8L228.2,199.0L229.6,202.2L226.4,202.2L225.6,205.3L224.8,202.2L221.6,202.2L223.0,199.0L221.6,195.8L224.8,195.8ZM230.1,193.0L230.9,196.1L234.1,196.1L232.7,199.3L234.1,202.5L230.9,202.5L230.1,205.6L229.3,202.5L226.1,202.5L227.5,199.3L226.1,196.1L229.3,196.1ZM170.5,197.1L171.3,200.2L174.5,200.2L173.1,203.4L174.5,206.6L171.3,206.6L170.5,209.7L169.7,206.6L166.5,206.6L167.9,203.4L166.5,200.2L169.7,200.2ZM172.2,197.0L173.0,200.1L176.2,200.1L174.8,203.3L176.2,206.5L173.0,206.5L172.2,209.6L171.4,206.5L168.2,206.5L169.6,203.3L168.2,200.1L171.4,200.1ZM176.9,196.8L177.7,199.9L180.9,199.9L179.5,203.1L180.9,206.3L177.7,206.3L176.9,209.4L176.1,206.3L172.9,206.3L174.3,203.1L172.9,199.9L176.1,199.9ZM180.9,195.6L181.7,198.7L184.9,198.7L183.5,201.9L184.9,205.1L181.7,205.1L180.9,208.2L180.1,205.1L176.9,205.1L178.3,201.9L176.9,198.7L180.1,198.7ZM182.6,197.0L183.4,200.1L186.6,200.1L185.2,203.3L186.6,206.5L183.4,206.5L182.6,209.6L181.8,206.5L178.6,206.5L180.0,203.3L178.6,200.1L181.8,200.1ZM190.3,197.0L191.1,200.1L194.3,200.1L192.9,203.3L194.3,206.5L191.1,206.5L190.3,209.6L189.5,206.5L186.3,206.5L187.7,203.3L186.3,200.1L189.5,200.1ZM193.2,196.0L194.0,199.1L197.2,199.1L195.8,202.3L197.2,205.5L194.0,205.5L193.2,208.6L192.4,205.5L189.2,205.5L190.6,202.3L189.2,199.1L192.4,199.1ZM196.2,196.4L197.0,199.5L200.2,199.5L198.8,202.7L200.2,205.9L197.0,205.9L196.2,209.0L195.4,205.9L192.2,205.9L193.6,202.7L192.2,199.5L195.4,199.5ZM199.7,195.9L200.5,199.0L203.7,199.0L202.3,202.2L203.7,205.4L200.5,205.4L199.7,208.5L198.9,205.4L195.7,205.4L197.1,202.2L195.7,199.0L198.9,199.0ZM203.0,196.8L203.8,199.9L207.0,199.9L205.6,203.1L207.0,206.3L203.8,206.3L203.0,209.4L202.2,206.3L199.0,206.3L200.4,203.1L199.0,199.9L202.2,199.9ZM206.1,196.9L206.9,200.0L210.1,200.0L208.7,203.2L210.1,206.4L206.9,206.4L206.1,209.5L205.3,206.4L202.1,206.4L203.5,203.2L202.1,200.0L205.3,200.0ZM209.9,195.5L210.7,198.6L213.9,198.6L212.5,201.8L213.9,205.0L210.7,205.0L209.9,208.1L209.1,205.0L205.9,205.0L207.3,201.8L205.9,198.6L209.1,198.6ZM214.8,195.9L215.6,199.0L218.8,199.0L217.4,202.2L218.8,205.4L215.6,205.4L214.8,208.5L214.0,205.4L210.8,205.4L212.2,202.2L210.8,199.0L214.0,199.0ZM218.2,197.2L219.0,200.3L222.2,200.3L220.8,203.5L222.2,206.7L219.0,206.7L218.2,209.8L217.4,206.7L214.2,206.7L215.6,203.5L214.2,200.3L217.4,200.3ZM221.5,195.7L222.3,198.8L225.5,198.8L224.1,202.0L225.5,205.2L222.3,205.2L221.5,208.3L220.7,205.2L217.5,205.2L218.9,202.0L217.5,198.8L220.7,198.8ZM224.0,195.7L224.8,198.8L228.0,198.8L226.6,202.0L228.0,205.2L224.8,205.2L224.0,208.3L223.2,205.2L220.0,205.2L221.4,202.0L220.0,198.8L223.2,198.8ZM228.4,197.2L229.2,200.3L232.4,200.3L231.0,203.5L232.4,206.7L229.2,206.7L228.4,209.8L227.6,206.7L224.4,206.7L225.8,203.5L224.4,200.3L227.6,200.3ZM174.8,199.1L175.6,202.2L178.8,202.2L177.4,205.4L178.8,208.6L175.6,208.6L174.8,211.7L174.0,208.6L170.8,208.6L172.2,205.4L170.8,202.2L174.0,202.2ZM179.0,198.7L179.8,201.8L183.0,201.8L181.6,205.0L183.0,208.2L179.8,208.2L179.0,211.3L178.2,208.2L175.0,208.2L176.4,205.0L175.0,201.8L178.2,201.8ZM182.6,198.5L183.4,201.6L186.6,201.6L185.2,204.8L186.6,208.0L183.4,208.0L182.6,211.1L181.8,208.0L178.6,208.0L180.0,204.8L178.6,201.6L181.8,201.6ZM225.9,198.8L226.7,201.9L229.9,201.9L228.5,205.1L229.9,208.3L226.7,208.3L225.9,211.4L225.1,208.3L221.9,208.3L223.3,205.1L221.9,201.9L225.1,201.9ZM126.6,205.8L127.4,208.9L130.6,208.9L129.2,212.1L130.6,215.3L127.4,215.3L126.6,218.4L125.8,215.3L122.6,215.3L124.0,212.1L122.6,208.9L125.8,208.9ZM130.8,205.6L131.6,208.7L134.8,208.7L133.4,211.9L134.8,215.1L131.6,215.1L130.8,218.2L130.0,215.1L126.8,215.1L128.2,211.9L126.8,208.7L130.0,208.7ZM134.2,204.3L135.0,207.4L138.2,207.4L136.8,210.6L138.2,213.8L135.0,213.8L134.2,216.9L133.4,213.8L130.2,213.8L131.6,210.6L130.2,207.4L133.4,207.4ZM137.2,204.5L138.0,207.6L141.2,207.6L139.8,210.8L141.2,214.0L138.0,214.0L137.2,217.1L136.4,214.0L133.2,214.0L134.6,210.8L133.2,207.6L136.4,207.6ZM141.1,203.9L141.9,207.0L145.1,207.0L143.7,210.2L145.1,213.4L141.9,213.4L141.1,216.5L140.3,213.4L137.1,213.4L138.5,210.2L137.1,207.0L140.3,207.0ZM144.3,203.5L145.1,206.6L148.3,206.6L146.9,209.8L148.3,213.0L145.1,213.0L144.3,216.1L143.5,213.0L140.3,213.0L141.7,209.8L140.3,206.6L143.5,206.6ZM148.2,203.1L149.0,206.2L152.2,206.2L150.8,209.4L152.2,212.6L149.0,212.6L148.2,215.7L147.4,212.6L144.2,212.6L145.6,209.4L144.2,206.2L147.4,206.2ZM152.4,202.1L153.2,205.2L156.4,205.2L155.0,208.4L156.4,211.6L153.2,211.6L152.4,214.7L151.6,211.6L148.4,211.6L149.8,208.4L148.4,205.2L151.6,205.2ZM154.9,202.1L155.7,205.2L158.9,205.2L157.5,208.4L158.9,211.6L155.7,211.6L154.9,214.7L154.1,211.6L150.9,211.6L152.3,208.4L150.9,205.2L154.1,205.2ZM159.0,201.6L159.8,204.7L163.0,204.7L161.6,207.9L163.0,211.1L159.8,211.1L159.0,214.2L158.2,211.1L155.0,211.1L156.4,207.9L155.0,204.7L158.2,204.7ZM161.7,200.3L162.5,203.4L165.7,203.4L164.3,206.6L165.7,209.8L162.5,209.8L161.7,212.9L160.9,209.8L157.7,209.8L159.1,206.6L157.7,203.4L160.9,203.4ZM207.4,129.5L208.2,132.6L211.4,132.6L210.0,135.8L211.4,139.0L208.2,139.0L207.4,142.1L206.6,139.0L203.4,139.0L204.8,135.8L203.4,132.6L206.6,132.6ZM208.8,132.4L209.6,135.5L212.8,135.5L211.4,138.7L212.8,141.9L209.6,141.9L208.8,145.0L208.0,141.9L204.8,141.9L206.2,138.7L204.8,135.5L208.0,135.5ZM211.6,134.8L212.4,137.9L215.6,137.9L214.2,141.1L215.6,144.3L212.4,144.3L211.6,147.4L210.8,144.3L207.6,144.3L209.0,141.1L207.6,137.9L210.8,137.9ZM213.7,138.1L214.5,141.2L217.7,141.2L216.3,144.4L217.7,147.6L214.5,147.6L213.7,150.7L212.9,147.6L209.7,147.6L211.1,144.4L209.7,141.2L212.9,141.2ZM215.9,140.6L216.7,143.7L219.9,143.7L218.5,146.9L219.9,150.1L216.7,150.1L215.9,153.2L215.1,150.1L211.9,150.1L213.3,146.9L211.9,143.7L215.1,143.7ZM218.4,144.2L219.2,147.3L222.4,147.3L221.0,150.5L222.4,153.7L219.2,153.7L218.4,156.8L217.6,153.7L214.4,153.7L215.8,150.5L214.4,147.3L217.6,147.3ZM220.8,146.5L221.6,149.6L224.8,149.6L223.4,152.8L224.8,156.0L221.6,156.0L220.8,159.1L220.0,156.0L216.8,156.0L218.2,152.8L216.8,149.6L220.0,149.6ZM222.8,149.4L223.6,152.5L226.8,152.5L225.4,155.7L226.8,158.9L223.6,158.9L222.8,162.0L222.0,158.9L218.8,158.9L220.2,155.7L218.8,152.5L222.0,152.5ZM225.1,151.8L225.9,154.9L229.1,154.9L227.7,158.1L229.1,161.3L225.9,161.3L225.1,164.4L224.3,161.3L221.1,161.3L222.5,158.1L221.1,154.9L224.3,154.9ZM227.5,155.7L228.3,158.8L231.5,158.8L230.1,162.0L231.5,165.2L228.3,165.2L227.5,168.3L226.7,165.2L223.5,165.2L224.9,162.0L223.5,158.8L226.7,158.8ZM229.2,158.0L230.0,161.1L233.2,161.1L231.8,164.3L233.2,167.5L230.0,167.5L229.2,170.6L228.4,167.5L225.2,167.5L226.6,164.3L225.2,161.1L228.4,161.1ZM231.5,160.9L232.3,164.0L235.5,164.0L234.1,167.2L235.5,170.4L232.3,170.4L231.5,173.5L230.7,170.4L227.5,170.4L228.9,167.2L227.5,164.0L230.7,164.0ZM233.1,164.2L233.9,167.3L237.1,167.3L235.7,170.5L237.1,173.7L233.9,173.7L233.1,176.8L232.3,173.7L229.1,173.7L230.5,170.5L229.1,167.3L232.3,167.3ZM235.6,166.1L236.4,169.2L239.6,169.2L238.2,172.4L239.6,175.6L236.4,175.6L235.6,178.7L234.8,175.6L231.6,175.6L233.0,172.4L231.6,169.2L234.8,169.2ZM237.7,169.0L238.5,172.1L241.7,172.1L240.3,175.3L241.7,178.5L238.5,178.5L237.7,181.6L236.9,178.5L233.7,178.5L235.1,175.3L233.7,172.1L236.9,172.1ZM240.4,171.1L241.2,174.2L244.4,174.2L243.0,177.4L244.4,180.6L241.2,180.6L240.4,183.7L239.6,180.6L236.4,180.6L237.8,177.4L236.4,174.2L239.6,174.2ZM195.5,140.9L196.3,144.0L199.5,144.0L198.1,147.2L199.5,150.4L196.3,150.4L195.5,153.5L194.7,150.4L191.5,150.4L192.9,147.2L191.5,144.0L194.7,144.0ZM198.6,142.2L199.4,145.3L202.6,145.3L201.2,148.5L202.6,151.7L199.4,151.7L198.6,154.8L197.8,151.7L194.6,151.7L196.0,148.5L194.6,145.3L197.8,145.3ZM202.0,144.9L202.8,148.0L206.0,148.0L204.6,151.2L206.0,154.4L202.8,154.4L202.0,157.5L201.2,154.4L198.0,154.4L199.4,151.2L198.0,148.0L201.2,148.0ZM204.9,147.2L205.7,150.3L208.9,150.3L207.5,153.5L208.9,156.7L205.7,156.7L204.9,159.8L204.1,156.7L200.9,156.7L202.3,153.5L200.9,150.3L204.1,150.3ZM207.3,149.4L208.1,152.5L211.3,152.5L209.9,155.7L211.3,158.9L208.1,158.9L207.3,162.0L206.5,158.9L203.3,158.9L204.7,155.7L203.3,152.5L206.5,152.5ZM211.0,150.5L211.8,153.6L215.0,153.6L213.6,156.8L215.0,160.0L211.8,160.0L211.0,163.1L210.2,160.0L207.0,160.0L208.4,156.8L207.0,153.6L210.2,153.6ZM212.5,152.7L213.3,155.8L216.5,155.8L215.1,159.0L216.5,162.2L213.3,162.2L212.5,165.3L211.7,162.2L208.5,162.2L209.9,159.0L208.5,155.8L211.7,155.8ZM243.0,169.4L243.8,172.5L247.0,172.5L245.6,175.7L247.0,178.9L243.8,178.9L243.0,182.0L242.2,178.9L239.0,178.9L240.4,175.7L239.0,172.5L242.2,172.5ZM246.1,169.8L246.9,172.9L250.1,172.9L248.7,176.1L250.1,179.3L246.9,179.3L246.1,182.4L245.3,179.3L242.1,179.3L243.5,176.1L242.1,172.9L245.3,172.9ZM249.8,170.2L250.6,173.3L253.8,173.3L252.4,176.5L253.8,179.7L250.6,179.7L249.8,182.8L249.0,179.7L245.8,179.7L247.2,176.5L245.8,173.3L249.0,173.3ZM254.2,169.9L255.0,173.0L258.2,173.0L256.8,176.2L258.2,179.4L255.0,179.4L254.2,182.5L253.4,179.4L250.2,179.4L251.6,176.2L250.2,173.0L253.4,173.0ZM257.5,170.8L258.3,173.9L261.5,173.9L260.1,177.1L261.5,180.3L258.3,180.3L257.5,183.4L256.7,180.3L253.5,180.3L254.9,177.1L253.5,173.9L256.7,173.9ZM260.6,171.1L261.4,174.2L264.6,174.2L263.2,177.4L264.6,180.6L261.4,180.6L260.6,183.7L259.8,180.6L256.6,180.6L258.0,177.4L256.6,174.2L259.8,174.2ZM265.1,170.8L265.9,173.9L269.1,173.9L267.7,177.1L269.1,180.3L265.9,180.3L265.1,183.4L264.3,180.3L261.1,180.3L262.5,177.1L261.1,173.9L264.3,173.9ZM268.1,171.5L268.9,174.6L272.1,174.6L270.7,177.8L272.1,181.0L268.9,181.0L268.1,184.1L267.3,181.0L264.1,181.0L265.5,177.8L264.1,174.6L267.3,174.6ZM271.8,171.2L272.6,174.3L275.8,174.3L274.4,177.5L275.8,180.7L272.6,180.7L271.8,183.8L271.0,180.7L267.8,180.7L269.2,177.5L267.8,174.3L271.0,174.3ZM275.9,171.9L276.7,175.0L279.9,175.0L278.5,178.2L279.9,181.4L276.7,181.4L275.9,184.5L275.1,181.4L271.9,181.4L273.3,178.2L271.9,175.0L275.1,175.0ZM277.8,171.4L278.6,174.5L281.8,174.5L280.4,177.7L281.8,180.9L278.6,180.9L277.8,184.0L277.0,180.9L273.8,180.9L275.2,177.7L273.8,174.5L277.0,174.5ZM307.8,171.6L308.6,174.7L311.8,174.7L310.4,177.9L311.8,181.1L308.6,181.1L307.8,184.2L307.0,181.1L303.8,181.1L305.2,177.9L303.8,174.7L307.0,174.7ZM312.1,172.7L312.9,175.8L316.1,175.8L314.7,179.0L316.1,182.2L312.9,182.2L312.1,185.3L311.3,182.2L308.1,182.2L309.5,179.0L308.1,175.8L311.3,175.8ZM315.6,173.4L316.4,176.5L319.6,176.5L318.2,179.7L319.6,182.9L316.4,182.9L315.6,186.0L314.8,182.9L311.6,182.9L313.0,179.7L311.6,176.5L314.8,176.5ZM319.0,173.1L319.8,176.2L323.0,176.2L321.6,179.4L323.0,182.6L319.8,182.6L319.0,185.7L318.2,182.6L315.0,182.6L316.4,179.4L315.0,176.2L318.2,176.2ZM322.2,174.8L323.0,177.9L326.2,177.9L324.8,181.1L326.2,184.3L323.0,184.3L322.2,187.4L321.4,184.3L318.2,184.3L319.6,181.1L318.2,177.9L321.4,177.9ZM326.2,174.6L327.0,177.7L330.2,177.7L328.8,180.9L330.2,184.1L327.0,184.1L326.2,187.2L325.4,184.1L322.2,184.1L323.6,180.9L322.2,177.7L325.4,177.7ZM329.2,175.7L330.0,178.8L333.2,178.8L331.8,182.0L333.2,185.2L330.0,185.2L329.2,188.3L328.4,185.2L325.2,185.2L326.6,182.0L325.2,178.8L328.4,178.8ZM329.8,175.7L330.6,178.8L333.8,178.8L332.4,182.0L333.8,185.2L330.6,185.2L329.8,188.3L329.0,185.2L325.8,185.2L327.2,182.0L325.8,178.8L329.0,178.8ZM253.0,180.7L253.8,183.8L257.0,183.8L255.6,187.0L257.0,190.2L253.8,190.2L253.0,193.3L252.2,190.2L249.0,190.2L250.4,187.0L249.0,183.8L252.2,183.8ZM252.5,184.0L253.3,187.1L256.5,187.1L255.1,190.3L256.5,193.5L253.3,193.5L252.5,196.6L251.7,193.5L248.5,193.5L249.9,190.3L248.5,187.1L251.7,187.1ZM256.6,182.3L257.4,185.4L260.6,185.4L259.2,188.6L260.6,191.8L257.4,191.8L256.6,194.9L255.8,191.8L252.6,191.8L254.0,188.6L252.6,185.4L255.8,185.4ZM256.2,186.1L257.0,189.2L260.2,189.2L258.8,192.4L260.2,195.6L257.0,195.6L256.2,198.7L255.4,195.6L252.2,195.6L253.6,192.4L252.2,189.2L255.4,189.2ZM260.6,183.1L261.4,186.2L264.6,186.2L263.2,189.4L264.6,192.6L261.4,192.6L260.6,195.7L259.8,192.6L256.6,192.6L258.0,189.4L256.6,186.2L259.8,186.2ZM259.8,187.1L260.6,190.2L263.8,190.2L262.4,193.4L263.8,196.6L260.6,196.6L259.8,199.7L259.0,196.6L255.8,196.6L257.2,193.4L255.8,190.2L259.0,190.2ZM263.4,183.9L264.2,187.0L267.4,187.0L266.0,190.2L267.4,193.4L264.2,193.4L263.4,196.5L262.6,193.4L259.4,193.4L260.8,190.2L259.4,187.0L262.6,187.0ZM262.6,187.8L263.4,190.9L266.6,190.9L265.2,194.1L266.6,197.3L263.4,197.3L262.6,200.4L261.8,197.3L258.6,197.3L260.0,194.1L258.6,190.9L261.8,190.9ZM267.1,184.8L267.9,187.9L271.1,187.9L269.7,191.1L271.1,194.3L267.9,194.3L267.1,197.4L266.3,194.3L263.1,194.3L264.5,191.1L263.1,187.9L266.3,187.9ZM266.8,188.7L267.6,191.8L270.8,191.8L269.4,195.0L270.8,198.2L267.6,198.2L266.8,201.3L266.0,198.2L262.8,198.2L264.2,195.0L262.8,191.8L266.0,191.8ZM270.6,185.7L271.4,188.8L274.6,188.8L273.2,192.0L274.6,195.2L271.4,195.2L270.6,198.3L269.8,195.2L266.6,195.2L268.0,192.0L266.6,188.8L269.8,188.8ZM269.7,190.1L270.5,193.2L273.7,193.2L272.3,196.4L273.7,199.6L270.5,199.6L269.7,202.7L268.9,199.6L265.7,199.6L267.1,196.4L265.7,193.2L268.9,193.2ZM274.1,186.4L274.9,189.5L278.1,189.5L276.7,192.7L278.1,195.9L274.9,195.9L274.1,199.0L273.3,195.9L270.1,195.9L271.5,192.7L270.1,189.5L273.3,189.5ZM273.4,190.1L274.2,193.2L277.4,193.2L276.0,196.4L277.4,199.6L274.2,199.6L273.4,202.7L272.6,199.6L269.4,199.6L270.8,196.4L269.4,193.2L272.6,193.2ZM277.9,188.2L278.7,191.3L281.9,191.3L280.5,194.5L281.9,197.7L278.7,197.7L277.9,200.8L277.1,197.7L273.9,197.7L275.3,194.5L273.9,191.3L277.1,191.3ZM276.7,191.2L277.5,194.3L280.7,194.3L279.3,197.5L280.7,200.7L277.5,200.7L276.7,203.8L275.9,200.7L272.7,200.7L274.1,197.5L272.7,194.3L275.9,194.3ZM281.2,188.7L282.0,191.8L285.2,191.8L283.8,195.0L285.2,198.2L282.0,198.2L281.2,201.3L280.4,198.2L277.2,198.2L278.6,195.0L277.2,191.8L280.4,191.8ZM279.7,192.0L280.5,195.1L283.7,195.1L282.3,198.3L283.7,201.5L280.5,201.5L279.7,204.6L278.9,201.5L275.7,201.5L277.1,198.3L275.7,195.1L278.9,195.1ZM284.3,189.4L285.1,192.5L288.3,192.5L286.9,195.7L288.3,198.9L285.1,198.9L284.3,202.0L283.5,198.9L280.3,198.9L281.7,195.7L280.3,192.5L283.5,192.5ZM283.5,193.2L284.3,196.3L287.5,196.3L286.1,199.5L287.5,202.7L284.3,202.7L283.5,205.8L282.7,202.7L279.5,202.7L280.9,199.5L279.5,196.3L282.7,196.3ZM287.9,190.1L288.7,193.2L291.9,193.2L290.5,196.4L291.9,199.6L288.7,199.6L287.9,202.7L287.1,199.6L283.9,199.6L285.3,196.4L283.9,193.2L287.1,193.2ZM287.1,194.9L287.9,198.0L291.1,198.0L289.7,201.2L291.1,204.4L287.9,204.4L287.1,207.5L286.3,204.4L283.1,204.4L284.5,201.2L283.1,198.0L286.3,198.0ZM291.8,191.7L292.6,194.8L295.8,194.8L294.4,198.0L295.8,201.2L292.6,201.2L291.8,204.3L291.0,201.2L287.8,201.2L289.2,198.0L287.8,194.8L291.0,194.8ZM290.7,195.1L291.5,198.2L294.7,198.2L293.3,201.4L294.7,204.6L291.5,204.6L290.7,207.7L289.9,204.6L286.7,204.6L288.1,201.4L286.7,198.2L289.9,198.2ZM295.4,192.5L296.2,195.6L299.4,195.6L298.0,198.8L299.4,202.0L296.2,202.0L295.4,205.1L294.6,202.0L291.4,202.0L292.8,198.8L291.4,195.6L294.6,195.6ZM294.1,196.6L294.9,199.7L298.1,199.7L296.7,202.9L298.1,206.1L294.9,206.1L294.1,209.2L293.3,206.1L290.1,206.1L291.5,202.9L290.1,199.7L293.3,199.7ZM298.5,193.3L299.3,196.4L302.5,196.4L301.1,199.6L302.5,202.8L299.3,202.8L298.5,205.9L297.7,202.8L294.5,202.8L295.9,199.6L294.5,196.4L297.7,196.4ZM297.2,197.1L298.0,200.2L301.2,200.2L299.8,203.4L301.2,206.6L298.0,206.6L297.2,209.7L296.4,206.6L293.2,206.6L294.6,203.4L293.2,200.2L296.4,200.2ZM302.0,194.4L302.8,197.5L306.0,197.5L304.6,200.7L306.0,203.9L302.8,203.9L302.0,207.0L301.2,203.9L298.0,203.9L299.4,200.7L298.0,197.5L301.2,197.5ZM301.0,197.8L301.8,200.9L305.0,200.9L303.6,204.1L305.0,207.3L301.8,207.3L301.0,210.4L300.2,207.3L297.0,207.3L298.4,204.1L297.0,200.9L300.2,200.9ZM305.3,196.0L306.1,199.1L309.3,199.1L307.9,202.3L309.3,205.5L306.1,205.5L305.3,208.6L304.5,205.5L301.3,205.5L302.7,202.3L301.3,199.1L304.5,199.1ZM304.1,199.4L304.9,202.5L308.1,202.5L306.7,205.7L308.1,208.9L304.9,208.9L304.1,212.0L303.3,208.9L300.1,208.9L301.5,205.7L300.1,202.5L303.3,202.5ZM308.9,196.2L309.7,199.3L312.9,199.3L311.5,202.5L312.9,205.7L309.7,205.7L308.9,208.8L308.1,205.7L304.9,205.7L306.3,202.5L304.9,199.3L308.1,199.3ZM308.5,200.1L309.3,203.2L312.5,203.2L311.1,206.4L312.5,209.6L309.3,209.6L308.5,212.7L307.7,209.6L304.5,209.6L305.9,206.4L304.5,203.2L307.7,203.2ZM312.7,197.1L313.5,200.2L316.7,200.2L315.3,203.4L316.7,206.6L313.5,206.6L312.7,209.7L311.9,206.6L308.7,206.6L310.1,203.4L308.7,200.2L311.9,200.2ZM310.8,201.8L311.6,204.9L314.8,204.9L313.4,208.1L314.8,211.3L311.6,211.3L310.8,214.4L310.0,211.3L306.8,211.3L308.2,208.1L306.8,204.9L310.0,204.9ZM315.8,197.9L316.6,201.0L319.8,201.0L318.4,204.2L319.8,207.4L316.6,207.4L315.8,210.5L315.0,207.4L311.8,207.4L313.2,204.2L311.8,201.0L315.0,201.0ZM314.7,202.2L315.5,205.3L318.7,205.3L317.3,208.5L318.7,211.7L315.5,211.7L314.7,214.8L313.9,211.7L310.7,211.7L312.1,208.5L310.7,205.3L313.9,205.3ZM319.6,199.0L320.4,202.1L323.6,202.1L322.2,205.3L323.6,208.5L320.4,208.5L319.6,211.6L318.8,208.5L315.6,208.5L317.0,205.3L315.6,202.1L318.8,202.1ZM317.9,203.8L318.7,206.9L321.9,206.9L320.5,210.1L321.9,213.3L318.7,213.3L317.9,216.4L317.1,213.3L313.9,213.3L315.3,210.1L313.9,206.9L317.1,206.9ZM323.1,200.0L323.9,203.1L327.1,203.1L325.7,206.3L327.1,209.5L323.9,209.5L323.1,212.6L322.3,209.5L319.1,209.5L320.5,206.3L319.1,203.1L322.3,203.1ZM321.5,204.1L322.3,207.2L325.5,207.2L324.1,210.4L325.5,213.6L322.3,213.6L321.5,216.7L320.7,213.6L317.5,213.6L318.9,210.4L317.5,207.2L320.7,207.2ZM326.5,201.6L327.3,204.7L330.5,204.7L329.1,207.9L330.5,211.1L327.3,211.1L326.5,214.2L325.7,211.1L322.5,211.1L323.9,207.9L322.5,204.7L325.7,204.7ZM325.6,205.6L326.4,208.7L329.6,208.7L328.2,211.9L329.6,215.1L326.4,215.1L325.6,218.2L324.8,215.1L321.6,215.1L323.0,211.9L321.6,208.7L324.8,208.7ZM327.0,204.0L327.8,207.1L331.0,207.1L329.6,210.3L331.0,213.5L327.8,213.5L327.0,216.6L326.2,213.5L323.0,213.5L324.4,210.3L323.0,207.1L326.2,207.1ZM327.3,204.0L328.1,207.1L331.3,207.1L329.9,210.3L331.3,213.5L328.1,213.5L327.3,216.6L326.5,213.5L323.3,213.5L324.7,210.3L323.3,207.1L326.5,207.1ZM301.5,185.5L302.3,188.6L305.5,188.6L304.1,191.8L305.5,195.0L302.3,195.0L301.5,198.1L300.7,195.0L297.5,195.0L298.9,191.8L297.5,188.6L300.7,188.6ZM301.7,189.2L302.5,192.3L305.7,192.3L304.3,195.5L305.7,198.7L302.5,198.7L301.7,201.8L300.9,198.7L297.7,198.7L299.1,195.5L297.7,192.3L300.9,192.3ZM301.1,192.8L301.9,195.9L305.1,195.9L303.7,199.1L305.1,202.3L301.9,202.3L301.1,205.4L300.3,202.3L297.1,202.3L298.5,199.1L297.1,195.9L300.3,195.9ZM303.1,195.2L303.9,198.3L307.1,198.3L305.7,201.5L307.1,204.7L303.9,204.7L303.1,207.8L302.3,204.7L299.1,204.7L300.5,201.5L299.1,198.3L302.3,198.3ZM306.7,196.9L307.5,200.0L310.7,200.0L309.3,203.2L310.7,206.4L307.5,206.4L306.7,209.5L305.9,206.4L302.7,206.4L304.1,203.2L302.7,200.0L305.9,200.0ZM310.0,199.0L310.8,202.1L314.0,202.1L312.6,205.3L314.0,208.5L310.8,208.5L310.0,211.6L309.2,208.5L306.0,208.5L307.4,205.3L306.0,202.1L309.2,202.1ZM312.6,200.9L313.4,204.0L316.6,204.0L315.2,207.2L316.6,210.4L313.4,210.4L312.6,213.5L311.8,210.4L308.6,210.4L310.0,207.2L308.6,204.0L311.8,204.0ZM316.4,202.1L317.2,205.2L320.4,205.2L319.0,208.4L320.4,211.6L317.2,211.6L316.4,214.7L315.6,211.6L312.4,211.6L313.8,208.4L312.4,205.2L315.6,205.2ZM319.2,203.3L320.0,206.4L323.2,206.4L321.8,209.6L323.2,212.8L320.0,212.8L319.2,215.9L318.4,212.8L315.2,212.8L316.6,209.6L315.2,206.4L318.4,206.4ZM322.7,205.0L323.5,208.1L326.7,208.1L325.3,211.3L326.7,214.5L323.5,214.5L322.7,217.6L321.9,214.5L318.7,214.5L320.1,211.3L318.7,208.1L321.9,208.1ZM326.1,204.9L326.9,208.0L330.1,208.0L328.7,211.2L330.1,214.4L326.9,214.4L326.1,217.5L325.3,214.4L322.1,214.4L323.5,211.2L322.1,208.0L325.3,208.0ZM329.9,205.2L330.7,208.3L333.9,208.3L332.5,211.5L333.9,214.7L330.7,214.7L329.9,217.8L329.1,214.7L325.9,214.7L327.3,211.5L325.9,208.3L329.1,208.3ZM330.3,202.7L331.1,205.8L334.3,205.8L332.9,209.0L334.3,212.2L331.1,212.2L330.3,215.3L329.5,212.2L326.3,212.2L327.7,209.0L326.3,205.8L329.5,205.8ZM330.8,198.8L331.6,201.9L334.8,201.9L333.4,205.1L334.8,208.3L331.6,208.3L330.8,211.4L330.0,208.3L326.8,208.3L328.2,205.1L326.8,201.9L330.0,201.9ZM329.8,195.3L330.6,198.4L333.8,198.4L332.4,201.6L333.8,204.8L330.6,204.8L329.8,207.9L329.0,204.8L325.8,204.8L327.2,201.6L325.8,198.4L329.0,198.4ZM326.6,193.3L327.4,196.4L330.6,196.4L329.2,199.6L330.6,202.8L327.4,202.8L326.6,205.9L325.8,202.8L322.6,202.8L324.0,199.6L322.6,196.4L325.8,196.4ZM323.8,192.0L324.6,195.1L327.8,195.1L326.4,198.3L327.8,201.5L324.6,201.5L323.8,204.6L323.0,201.5L319.8,201.5L321.2,198.3L319.8,195.1L323.0,195.1ZM320.0,190.9L320.8,194.0L324.0,194.0L322.6,197.2L324.0,200.4L320.8,200.4L320.0,203.5L319.2,200.4L316.0,200.4L317.4,197.2L316.0,194.0L319.2,194.0ZM316.9,189.4L317.7,192.5L320.9,192.5L319.5,195.7L320.9,198.9L317.7,198.9L316.9,202.0L316.1,198.9L312.9,198.9L314.3,195.7L312.9,192.5L316.1,192.5ZM314.1,188.1L314.9,191.2L318.1,191.2L316.7,194.4L318.1,197.6L314.9,197.6L314.1,200.7L313.3,197.6L310.1,197.6L311.5,194.4L310.1,191.2L313.3,191.2ZM310.1,186.4L310.9,189.5L314.1,189.5L312.7,192.7L314.1,195.9L310.9,195.9L310.1,199.0L309.3,195.9L306.1,195.9L307.5,192.7L306.1,189.5L309.3,189.5ZM307.2,185.5L308.0,188.6L311.2,188.6L309.8,191.8L311.2,195.0L308.0,195.0L307.2,198.1L306.4,195.0L303.2,195.0L304.6,191.8L303.2,188.6L306.4,188.6ZM302.8,185.5L303.6,188.6L306.8,188.6L305.4,191.8L306.8,195.0L303.6,195.0L302.8,198.1L302.0,195.0L298.8,195.0L300.2,191.8L298.8,188.6L302.0,188.6ZM301.5,185.6L302.3,188.7L305.5,188.7L304.1,191.9L305.5,195.1L302.3,195.1L301.5,198.2L300.7,195.1L297.5,195.1L298.9,191.9L297.5,188.7L300.7,188.7ZM304.1,189.3L304.9,192.4L308.1,192.4L306.7,195.6L308.1,198.8L304.9,198.8L304.1,201.9L303.3,198.8L300.1,198.8L301.5,195.6L300.1,192.4L303.3,192.4ZM306.9,188.2L307.7,191.3L310.9,191.3L309.5,194.5L310.9,197.7L307.7,197.7L306.9,200.8L306.1,197.7L302.9,197.7L304.3,194.5L302.9,191.3L306.1,191.3ZM310.7,189.3L311.5,192.4L314.7,192.4L313.3,195.6L314.7,198.8L311.5,198.8L310.7,201.9L309.9,198.8L306.7,198.8L308.1,195.6L306.7,192.4L309.9,192.4ZM313.8,188.4L314.6,191.5L317.8,191.5L316.4,194.7L317.8,197.9L314.6,197.9L313.8,201.0L313.0,197.9L309.8,197.9L311.2,194.7L309.8,191.5L313.0,191.5ZM301.9,192.1L302.7,195.2L305.9,195.2L304.5,198.4L305.9,201.6L302.7,201.6L301.9,204.7L301.1,201.6L297.9,201.6L299.3,198.4L297.9,195.2L301.1,195.2ZM306.1,192.3L306.9,195.4L310.1,195.4L308.7,198.6L310.1,201.8L306.9,201.8L306.1,204.9L305.3,201.8L302.1,201.8L303.5,198.6L302.1,195.4L305.3,195.4ZM308.5,190.8L309.3,193.9L312.5,193.9L311.1,197.1L312.5,200.3L309.3,200.3L308.5,203.4L307.7,200.3L304.5,200.3L305.9,197.1L304.5,193.9L307.7,193.9ZM311.9,191.5L312.7,194.6L315.9,194.6L314.5,197.8L315.9,201.0L312.7,201.0L311.9,204.1L311.1,201.0L307.9,201.0L309.3,197.8L307.9,194.6L311.1,194.6ZM315.9,190.9L316.7,194.0L319.9,194.0L318.5,197.2L319.9,200.4L316.7,200.4L315.9,203.5L315.1,200.4L311.9,200.4L313.3,197.2L311.9,194.0L315.1,194.0ZM318.9,191.7L319.7,194.8L322.9,194.8L321.5,198.0L322.9,201.2L319.7,201.2L318.9,204.3L318.1,201.2L314.9,201.2L316.3,198.0L314.9,194.8L318.1,194.8ZM303.9,194.2L304.7,197.3L307.9,197.3L306.5,200.5L307.9,203.7L304.7,203.7L303.9,206.8L303.1,203.7L299.9,203.7L301.3,200.5L299.9,197.3L303.1,197.3ZM307.3,193.6L308.1,196.7L311.3,196.7L309.9,199.9L311.3,203.1L308.1,203.1L307.3,206.2L306.5,203.1L303.3,203.1L304.7,199.9L303.3,196.7L306.5,196.7ZM310.1,195.3L310.9,198.4L314.1,198.4L312.7,201.6L314.1,204.8L310.9,204.8L310.1,207.9L309.3,204.8L306.1,204.8L307.5,201.6L306.1,198.4L309.3,198.4ZM314.3,195.0L315.1,198.1L318.3,198.1L316.9,201.3L318.3,204.5L315.1,204.5L314.3,207.6L313.5,204.5L310.3,204.5L311.7,201.3L310.3,198.1L313.5,198.1ZM317.1,194.6L317.9,197.7L321.1,197.7L319.7,200.9L321.1,204.1L317.9,204.1L317.1,207.2L316.3,204.1L313.1,204.1L314.5,200.9L313.1,197.7L316.3,197.7ZM321.4,194.2L322.2,197.3L325.4,197.3L324.0,200.5L325.4,203.7L322.2,203.7L321.4,206.8L320.6,203.7L317.4,203.7L318.8,200.5L317.4,197.3L320.6,197.3ZM325.2,194.7L326.0,197.8L329.2,197.8L327.8,201.0L329.2,204.2L326.0,204.2L325.2,207.3L324.4,204.2L321.2,204.2L322.6,201.0L321.2,197.8L324.4,197.8ZM307.9,197.0L308.7,200.1L311.9,200.1L310.5,203.3L311.9,206.5L308.7,206.5L307.9,209.6L307.1,206.5L303.9,206.5L305.3,203.3L303.9,200.1L307.1,200.1ZM311.6,197.8L312.4,200.9L315.6,200.9L314.2,204.1L315.6,207.3L312.4,207.3L311.6,210.4L310.8,207.3L307.6,207.3L309.0,204.1L307.6,200.9L310.8,200.9ZM316.5,198.0L317.3,201.1L320.5,201.1L319.1,204.3L320.5,207.5L317.3,207.5L316.5,210.6L315.7,207.5L312.5,207.5L313.9,204.3L312.5,201.1L315.7,201.1ZM320.1,196.9L320.9,200.0L324.1,200.0L322.7,203.2L324.1,206.4L320.9,206.4L320.1,209.5L319.3,206.4L316.1,206.4L317.5,203.2L316.1,200.0L319.3,200.0ZM322.1,198.3L322.9,201.4L326.1,201.4L324.7,204.6L326.1,207.8L322.9,207.8L322.1,210.9L321.3,207.8L318.1,207.8L319.5,204.6L318.1,201.4L321.3,201.4ZM326.3,198.2L327.1,201.3L330.3,201.3L328.9,204.5L330.3,207.7L327.1,207.7L326.3,210.8L325.5,207.7L322.3,207.7L323.7,204.5L322.3,201.3L325.5,201.3ZM330.0,197.1L330.8,200.2L334.0,200.2L332.6,203.4L334.0,206.6L330.8,206.6L330.0,209.7L329.2,206.6L326.0,206.6L327.4,203.4L326.0,200.2L329.2,200.2ZM313.9,200.0L314.7,203.1L317.9,203.1L316.5,206.3L317.9,209.5L314.7,209.5L313.9,212.6L313.1,209.5L309.9,209.5L311.3,206.3L309.9,203.1L313.1,203.1ZM318.5,201.1L319.3,204.2L322.5,204.2L321.1,207.4L322.5,210.6L319.3,210.6L318.5,213.7L317.7,210.6L314.5,210.6L315.9,207.4L314.5,204.2L317.7,204.2ZM322.2,200.8L323.0,203.9L326.2,203.9L324.8,207.1L326.2,210.3L323.0,210.3L322.2,213.4L321.4,210.3L318.2,210.3L319.6,207.1L318.2,203.9L321.4,203.9ZM325.1,200.4L325.9,203.5L329.1,203.5L327.7,206.7L329.1,209.9L325.9,209.9L325.1,213.0L324.3,209.9L321.1,209.9L322.5,206.7L321.1,203.5L324.3,203.5ZM327.6,201.7L328.4,204.8L331.6,204.8L330.2,208.0L331.6,211.2L328.4,211.2L327.6,214.3L326.8,211.2L323.6,211.2L325.0,208.0L323.6,204.8L326.8,204.8ZM322.5,203.6L323.3,206.7L326.5,206.7L325.1,209.9L326.5,213.1L323.3,213.1L322.5,216.2L321.7,213.1L318.5,213.1L319.9,209.9L318.5,206.7L321.7,206.7ZM327.5,204.0L328.3,207.1L331.5,207.1L330.1,210.3L331.5,213.5L328.3,213.5L327.5,216.6L326.7,213.5L323.5,213.5L324.9,210.3L323.5,207.1L326.7,207.1ZM269.6,182.5L270.4,185.6L273.6,185.6L272.2,188.8L273.6,192.0L270.4,192.0L269.6,195.1L268.8,192.0L265.6,192.0L267.0,188.8L265.6,185.6L268.8,185.6ZM271.4,186.4L272.2,189.5L275.4,189.5L274.0,192.7L275.4,195.9L272.2,195.9L271.4,199.0L270.6,195.9L267.4,195.9L268.8,192.7L267.4,189.5L270.6,189.5ZM273.2,189.1L274.0,192.2L277.2,192.2L275.8,195.4L277.2,198.6L274.0,198.6L273.2,201.7L272.4,198.6L269.2,198.6L270.6,195.4L269.2,192.2L272.4,192.2ZM274.8,192.2L275.6,195.3L278.8,195.3L277.4,198.5L278.8,201.7L275.6,201.7L274.8,204.8L274.0,201.7L270.8,201.7L272.2,198.5L270.8,195.3L274.0,195.3ZM276.8,195.2L277.6,198.3L280.8,198.3L279.4,201.5L280.8,204.7L277.6,204.7L276.8,207.8L276.0,204.7L272.8,204.7L274.2,201.5L272.8,198.3L276.0,198.3ZM278.2,198.0L279.0,201.1L282.2,201.1L280.8,204.3L282.2,207.5L279.0,207.5L278.2,210.6L277.4,207.5L274.2,207.5L275.6,204.3L274.2,201.1L277.4,201.1ZM280.8,201.4L281.6,204.5L284.8,204.5L283.4,207.7L284.8,210.9L281.6,210.9L280.8,214.0L280.0,210.9L276.8,210.9L278.2,207.7L276.8,204.5L280.0,204.5ZM281.9,204.4L282.7,207.5L285.9,207.5L284.5,210.7L285.9,213.9L282.7,213.9L281.9,217.0L281.1,213.9L277.9,213.9L279.3,210.7L277.9,207.5L281.1,207.5ZM283.7,207.6L284.5,210.7L287.7,210.7L286.3,213.9L287.7,217.1L284.5,217.1L283.7,220.2L282.9,217.1L279.7,217.1L281.1,213.9L279.7,210.7L282.9,210.7ZM285.1,211.3L285.9,214.4L289.1,214.4L287.7,217.6L289.1,220.8L285.9,220.8L285.1,223.9L284.3,220.8L281.1,220.8L282.5,217.6L281.1,214.4L284.3,214.4ZM287.2,213.8L288.0,216.9L291.2,216.9L289.8,220.1L291.2,223.3L288.0,223.3L287.2,226.4L286.4,223.3L283.2,223.3L284.6,220.1L283.2,216.9L286.4,216.9ZM289.4,216.9L290.2,220.0L293.4,220.0L292.0,223.2L293.4,226.4L290.2,226.4L289.4,229.5L288.6,226.4L285.4,226.4L286.8,223.2L285.4,220.0L288.6,220.0ZM290.6,220.9L291.4,224.0L294.6,224.0L293.2,227.2L294.6,230.4L291.4,230.4L290.6,233.5L289.8,230.4L286.6,230.4L288.0,227.2L286.6,224.0L289.8,224.0ZM290.6,220.6L291.4,223.7L294.6,223.7L293.2,226.9L294.6,230.1L291.4,230.1L290.6,233.2L289.8,230.1L286.6,230.1L288.0,226.9L286.6,223.7L289.8,223.7ZM240.4,187.1L241.2,190.2L244.4,190.2L243.0,193.4L244.4,196.6L241.2,196.6L240.4,199.7L239.6,196.6L236.4,196.6L237.8,193.4L236.4,190.2L239.6,190.2ZM241.2,189.7L242.0,192.8L245.2,192.8L243.8,196.0L245.2,199.2L242.0,199.2L241.2,202.3L240.4,199.2L237.2,199.2L238.6,196.0L237.2,192.8L240.4,192.8ZM243.6,192.9L244.4,196.0L247.6,196.0L246.2,199.2L247.6,202.4L244.4,202.4L243.6,205.5L242.8,202.4L239.6,202.4L241.0,199.2L239.6,196.0L242.8,196.0ZM245.5,195.9L246.3,199.0L249.5,199.0L248.1,202.2L249.5,205.4L246.3,205.4L245.5,208.5L244.7,205.4L241.5,205.4L242.9,202.2L241.5,199.0L244.7,199.0ZM247.2,199.5L248.0,202.6L251.2,202.6L249.8,205.8L251.2,209.0L248.0,209.0L247.2,212.1L246.4,209.0L243.2,209.0L244.6,205.8L243.2,202.6L246.4,202.6ZM247.9,202.6L248.7,205.7L251.9,205.7L250.5,208.9L251.9,212.1L248.7,212.1L247.9,215.2L247.1,212.1L243.9,212.1L245.3,208.9L243.9,205.7L247.1,205.7ZM249.5,206.1L250.3,209.2L253.5,209.2L252.1,212.4L253.5,215.6L250.3,215.6L249.5,218.7L248.7,215.6L245.5,215.6L246.9,212.4L245.5,209.2L248.7,209.2ZM251.3,209.6L252.1,212.7L255.3,212.7L253.9,215.9L255.3,219.1L252.1,219.1L251.3,222.2L250.5,219.1L247.3,219.1L248.7,215.9L247.3,212.7L250.5,212.7ZM253.3,212.1L254.1,215.2L257.3,215.2L255.9,218.4L257.3,221.6L254.1,221.6L253.3,224.7L252.5,221.6L249.3,221.6L250.7,218.4L249.3,215.2L252.5,215.2ZM254.6,215.6L255.4,218.7L258.6,218.7L257.2,221.9L258.6,225.1L255.4,225.1L254.6,228.2L253.8,225.1L250.6,225.1L252.0,221.9L250.6,218.7L253.8,218.7ZM254.7,216.1L255.5,219.2L258.7,219.2L257.3,222.4L258.7,225.6L255.5,225.6L254.7,228.7L253.9,225.6L250.7,225.6L252.1,222.4L250.7,219.2L253.9,219.2ZM266.7,214.1L267.5,217.2L270.7,217.2L269.3,220.4L270.7,223.6L267.5,223.6L266.7,226.7L265.9,223.6L262.7,223.6L264.1,220.4L262.7,217.2L265.9,217.2ZM318.2,214.1L319.0,217.2L322.2,217.2L320.8,220.4L322.2,223.6L319.0,223.6L318.2,226.7L317.4,223.6L314.2,223.6L315.6,220.4L314.2,217.2L317.4,217.2ZM189.5,217.7L190.3,220.8L193.5,220.8L192.1,224.0L193.5,227.2L190.3,227.2L189.5,230.3L188.7,227.2L185.5,227.2L186.9,224.0L185.5,220.8L188.7,220.8ZM193.6,217.7L194.4,220.8L197.6,220.8L196.2,224.0L197.6,227.2L194.4,227.2L193.6,230.3L192.8,227.2L189.6,227.2L191.0,224.0L189.6,220.8L192.8,220.8ZM197.5,218.1L198.3,221.2L201.5,221.2L200.1,224.4L201.5,227.6L198.3,227.6L197.5,230.7L196.7,227.6L193.5,227.6L194.9,224.4L193.5,221.2L196.7,221.2ZM201.0,218.5L201.8,221.6L205.0,221.6L203.6,224.8L205.0,228.0L201.8,228.0L201.0,231.1L200.2,228.0L197.0,228.0L198.4,224.8L197.0,221.6L200.2,221.6ZM204.1,218.6L204.9,221.7L208.1,221.7L206.7,224.9L208.1,228.1L204.9,228.1L204.1,231.2L203.3,228.1L200.1,228.1L201.5,224.9L200.1,221.7L203.3,221.7ZM207.5,218.6L208.3,221.7L211.5,221.7L210.1,224.9L211.5,228.1L208.3,228.1L207.5,231.2L206.7,228.1L203.5,228.1L204.9,224.9L203.5,221.7L206.7,221.7ZM212.0,219.0L212.8,222.1L216.0,222.1L214.6,225.3L216.0,228.5L212.8,228.5L212.0,231.6L211.2,228.5L208.0,228.5L209.4,225.3L208.0,222.1L211.2,222.1ZM215.3,219.0L216.1,222.1L219.3,222.1L217.9,225.3L219.3,228.5L216.1,228.5L215.3,231.6L214.5,228.5L211.3,228.5L212.7,225.3L211.3,222.1L214.5,222.1ZM218.8,219.5L219.6,222.6L222.8,222.6L221.4,225.8L222.8,229.0L219.6,229.0L218.8,232.1L218.0,229.0L214.8,229.0L216.2,225.8L214.8,222.6L218.0,222.6ZM219.0,219.5L219.8,222.6L223.0,222.6L221.6,225.8L223.0,229.0L219.8,229.0L219.0,232.1L218.2,229.0L215.0,229.0L216.4,225.8L215.0,222.6L218.2,222.6ZM88.0,215.7L88.8,218.8L92.0,218.8L90.6,222.0L92.0,225.2L88.8,225.2L88.0,228.3L87.2,225.2L84.0,225.2L85.4,222.0L84.0,218.8L87.2,218.8ZM91.0,221.7L91.8,224.8L95.0,224.8L93.6,228.0L95.0,231.2L91.8,231.2L91.0,234.3L90.2,231.2L87.0,231.2L88.4,228.0L87.0,224.8L90.2,224.8Z" fill="none" stroke="#ff0000" stroke-width="1.2" shape-rendering="auto"/></g><path d="M64.0,228.0v-3.5M64.0,38.1v3.5M64.0,228.0h3.5M326.5,228.0h-3.5M151.5,228.0v-3.5M151.5,38.1v3.5M64.0,164.7h3.5M326.5,164.7h-3.5M239.0,228.0v-3.5M239.0,38.1v3.5M64.0,101.4h3.5M326.5,101.4h-3.5M326.5,228.0v-3.5M326.5,38.1v3.5M64.0,38.1h3.5M326.5,38.1h-3.5" stroke="#000" stroke-width="1.6" fill="none"/><rect x="64.0" y="38.1" width="262.5" height="189.9" fill="none" stroke="#000" stroke-width="1.6"/><text x="58.47" y="248.2" class="t">0</text><text x="46.95" y="232.3" class="t">0</text><text x="150.85" y="248.2" class="t">0</text><path d="M146.62,248.20L148.10,248.20L148.10,236.15L146.96,236.15L146.28,237.32L145.01,238.17L143.65,238.51L143.65,239.61L145.35,239.27L146.62,238.59Z" fill="#000"/><text x="46.95" y="169.0" class="t">0</text><path d="M42.72,169.00L44.20,169.00L44.20,156.95L43.06,156.95L42.38,158.12L41.11,158.97L39.75,159.31L39.75,160.41L41.45,160.07L42.72,159.40Z" fill="#000"/><text x="228.60 238.35" y="248.2" class="t">20</text><text x="37.20 46.95" y="105.7" class="t">20</text><text x="316.10 325.85" y="248.2" class="t">30</text><text x="37.20 46.95" y="42.4" class="t">30</text><text x="129.45 148.71 162.31 193.08 208.82 223.85 238.88" y="19.3" class="ti">Nc=~500</text><path d="M186.34,19.30L188.56,19.30L188.56,1.22L186.85,1.22L185.83,2.98L183.91,4.26L181.87,4.77L181.87,6.42L184.42,5.91L186.34,4.89Z" fill="#000"/><g transform="translate(187.9,267.6)"><ellipse cx="0" cy="0" rx="3.60" ry="6.00" fill="none" stroke="#000" stroke-width="1.30"/><path d="M-3.60,0h7.20" stroke="#000" stroke-width="1.30"/><path d="M11.00,15.30L12.39,15.30L12.39,3.96L11.32,3.96L10.68,5.06L9.48,5.86L8.20,6.18L8.20,7.22L9.80,6.90L11.00,6.26Z" fill="#000"/></g><g transform="translate(8.8,139.1) rotate(-90)"><ellipse cx="0" cy="0" rx="3.60" ry="6.00" fill="none" stroke="#000" stroke-width="1.30"/><path d="M-3.60,0h7.20" stroke="#000" stroke-width="1.30"/><text x="5.20" y="13.70" class="sub">2</text></g><clipPath id="c1"><rect x="412.3" y="38.0" width="262.7" height="189.9"/></clipPath><g clip-path="url(#c1)"><g fill="none" stroke-width="1.4" stroke-linejoin="round"><path d="M543.6,199.8 541.4,199.4 539.3,198.1 538.3,196.2 539.3,194.5 541.7,193.1 543.6,192.8 545.6,193.1 548.0,194.4 549.0,196.2 548.0,198.2 545.9,199.4 543.6,199.8" stroke="#000096"/><path d="M539.3,203.7 535.9,202.6 534.9,202.0 532.2,199.4 531.0,196.2 532.2,193.1 534.9,190.6 536.0,189.9 539.3,188.9 543.6,188.4 548.0,188.9 551.3,189.9 552.4,190.5 555.1,193.1 556.3,196.2 555.2,199.4 552.4,202.0 551.4,202.6 548.0,203.7 543.6,204.2 539.3,203.7" stroke="#0000bb"/><path d="M539.3,206.2 537.3,205.7 534.9,204.9 530.7,202.6 530.5,202.4 528.2,199.4 527.4,196.2 528.3,193.1 530.5,190.1 530.7,189.9 534.9,187.6 537.4,186.8 539.3,186.3 543.6,186.0 548.0,186.3 549.9,186.8 552.4,187.6 556.6,189.9 556.8,190.1 559.1,193.1 559.9,196.2 559.1,199.4 556.8,202.4 556.6,202.6 552.4,204.9 550.0,205.7 548.0,206.2 543.6,206.6 539.3,206.2" stroke="#0000e0"/><path d="M534.9,207.0 531.7,205.7 530.5,205.1 527.3,202.6 526.1,201.0 525.2,199.4 524.5,196.2 525.2,193.1 526.1,191.5 527.4,189.9 530.5,187.5 531.8,186.8 534.9,185.5 539.3,184.5 543.6,184.1 548.0,184.5 552.4,185.5 555.5,186.8 556.8,187.4 560.0,189.9 561.2,191.5 562.1,193.1 562.8,196.2 562.2,199.4 561.2,201.1 560.0,202.6 556.8,205.1 555.6,205.7 552.4,207.0 548.0,208.1 543.6,208.4 539.3,208.1 534.9,207.0" stroke="#0006ff"/><path d="M534.9,208.9 534.9,208.9 530.5,207.2 528.0,205.7 526.1,204.3 524.4,202.6 522.5,199.4 521.9,196.2 522.6,193.1 524.4,189.9 526.1,188.2 528.0,186.8 530.5,185.3 534.9,183.6 535.0,183.6 539.3,182.8 543.6,182.5 548.0,182.8 552.2,183.6 552.4,183.6 556.8,185.3 559.3,186.8 561.2,188.2 562.9,189.9 564.8,193.1 565.4,196.2 564.8,199.4 562.9,202.6 561.2,204.3 559.4,205.7 556.8,207.2 552.4,208.9 552.4,208.9 548.0,209.8 543.6,210.0 539.3,209.8 534.9,208.9" stroke="#002cff"/><path d="M530.5,209.1 530.1,208.9 526.1,206.7 524.8,205.7 521.8,202.7 521.7,202.6 520.1,199.4 519.6,196.2 520.1,193.1 521.7,189.9 521.8,189.9 524.8,186.8 526.1,185.8 530.2,183.6 530.5,183.4 534.9,182.0 539.3,181.2 543.6,180.9 548.0,181.2 552.4,182.0 556.8,183.4 557.1,183.6 561.2,185.8 562.5,186.8 565.5,189.9 565.6,189.9 567.2,193.1 567.7,196.2 567.2,199.4 565.6,202.6 565.5,202.7 562.5,205.7 561.2,206.7 557.2,208.9 556.8,209.1 552.4,210.5 548.0,211.3 543.6,211.6 539.3,211.3 534.9,210.5 530.5,209.1 M578.7,136.3 578.5,136.1 578.7,135.0 579.2,132.9 582.9,129.8 583.1,129.7 587.4,128.9 590.7,129.8 591.8,132.0 591.9,132.9 591.8,133.1 588.9,136.1 587.4,136.9 583.1,137.9 578.7,136.3" stroke="#0051ff"/><path d="M534.9,212.1 534.8,212.1 530.5,210.8 526.3,208.9 526.1,208.8 521.8,205.7 521.8,205.7 519.2,202.6 517.7,199.4 517.4,197.2 517.2,196.2 517.4,195.4 517.7,193.1 519.2,189.9 521.8,186.9 521.9,186.8 526.1,183.7 526.4,183.6 530.5,181.7 534.8,180.4 534.9,180.4 539.3,179.7 543.6,179.4 548.0,179.7 552.4,180.4 552.4,180.4 556.8,181.7 560.9,183.6 561.2,183.7 565.4,186.8 565.5,186.9 568.1,189.9 569.6,193.1 569.9,195.2 570.1,196.2 569.9,197.3 569.6,199.4 568.1,202.6 565.5,205.7 565.5,205.7 561.2,208.8 561.0,208.9 556.8,210.8 552.6,212.1 552.4,212.1 548.0,212.9 543.6,213.1 539.3,212.9 534.9,212.1 M578.7,142.6 577.7,142.4 574.3,141.1 572.7,139.3 572.0,136.1 572.9,132.9 574.3,130.9 575.3,129.8 578.7,127.1 579.5,126.6 583.1,125.0 587.4,124.0 591.8,124.0 596.2,125.6 597.5,126.6 599.2,129.8 598.6,132.9 596.4,136.1 596.2,136.3 592.2,139.3 591.8,139.5 587.4,141.3 583.4,142.4 583.1,142.5 578.7,142.6" stroke="#0076ff"/><path d="M530.5,212.6 529.2,212.1 526.1,210.8 522.9,208.9 521.8,208.1 519.0,205.7 517.4,203.6 516.6,202.6 515.2,199.4 514.8,196.2 515.3,193.1 516.7,189.9 517.4,189.0 519.1,186.8 521.8,184.5 523.1,183.6 526.1,181.8 529.4,180.4 530.5,180.0 534.9,178.8 539.3,178.1 543.6,177.9 548.0,178.1 552.4,178.8 556.8,180.0 558.0,180.4 561.2,181.8 564.4,183.6 565.5,184.4 568.2,186.8 569.9,188.9 570.7,189.9 572.1,193.1 572.5,196.2 572.1,199.4 570.7,202.6 569.9,203.7 568.3,205.7 565.5,208.1 564.5,208.9 561.2,210.8 558.1,212.1 556.8,212.6 552.4,213.7 548.0,214.4 543.6,214.6 539.3,214.4 534.9,213.7 530.5,212.6 M451.7,166.2 450.1,164.6 450.9,161.4 451.7,160.9 456.1,160.7 457.4,161.4 458.4,164.6 456.1,166.5 451.7,166.2 M578.7,145.8 575.6,145.6 574.3,145.5 569.9,143.4 569.0,142.4 567.6,139.3 567.6,136.1 568.6,132.9 569.9,131.0 570.8,129.8 574.2,126.6 574.3,126.6 578.7,123.8 579.5,123.5 583.1,122.0 587.4,120.8 591.8,120.6 596.2,121.4 600.6,123.3 600.7,123.5 603.4,126.6 604.0,129.8 603.1,132.9 600.9,136.1 600.6,136.4 597.2,139.3 596.2,140.0 592.0,142.4 591.8,142.5 587.4,144.2 583.1,145.4 580.7,145.6 578.7,145.8" stroke="#009bff"/><path d="M534.9,215.4 534.2,215.2 530.5,214.4 526.1,212.8 524.6,212.1 521.8,210.5 519.4,208.9 517.4,207.1 516.0,205.7 513.9,202.6 513.0,200.1 512.7,199.4 512.3,196.2 512.7,193.1 513.0,192.5 514.0,189.9 516.2,186.8 517.4,185.7 519.8,183.6 521.8,182.2 525.0,180.4 526.1,179.9 530.5,178.2 534.2,177.3 534.9,177.1 539.3,176.4 543.7,176.2 548.0,176.4 552.4,177.1 553.0,177.3 556.8,178.1 561.2,179.7 562.5,180.4 565.5,182.0 567.8,183.6 569.9,185.5 571.2,186.8 573.4,189.9 574.3,192.4 574.6,193.1 575.0,196.2 574.6,199.4 574.3,200.2 573.4,202.6 571.3,205.7 569.9,207.1 567.9,208.9 565.5,210.5 562.7,212.1 561.2,212.8 556.8,214.4 553.1,215.2 552.4,215.4 548.0,216.1 543.6,216.3 539.3,216.1 534.9,215.4 M451.7,168.6 449.9,167.8 447.3,165.1 447.0,164.6 447.3,162.7 447.6,161.4 451.7,158.8 456.1,158.6 460.5,160.9 460.9,161.4 461.4,164.6 460.5,166.2 458.6,167.8 456.1,168.8 451.7,168.6 M569.9,147.9 565.9,145.6 565.5,145.2 564.0,142.4 563.4,139.3 563.7,136.1 564.9,132.9 565.5,132.0 567.1,129.8 569.9,127.1 570.4,126.6 574.3,123.8 574.8,123.5 578.7,121.3 580.9,120.3 583.1,119.4 587.4,118.2 591.8,117.7 596.2,118.1 600.6,119.3 602.5,120.3 604.9,122.0 606.4,123.5 608.0,126.6 608.2,129.8 607.0,132.9 604.9,135.8 604.7,136.1 601.3,139.3 600.6,139.8 596.7,142.4 596.2,142.7 591.8,145.0 590.3,145.6 587.4,146.7 583.1,147.9 578.7,148.5 574.3,148.6 569.9,147.9 M478.0,74.4 475.5,72.8 473.7,69.7 475.4,66.5 478.0,64.9 482.4,64.3 486.7,65.7 487.7,66.5 488.9,69.7 487.6,72.8 486.7,73.6 482.4,75.0 478.0,74.4 M591.8,73.7 590.2,72.8 587.7,69.7 588.7,66.5 591.8,64.2 596.2,63.4 600.6,65.2 602.0,66.5 602.7,69.7 601.0,72.8 600.6,73.1 596.2,74.3 591.8,73.7" stroke="#00c1ff"/><path d="M530.5,216.4 527.0,215.2 526.1,214.9 521.8,213.0 520.2,212.1 517.4,210.2 515.8,208.9 513.0,205.9 512.9,205.7 510.8,202.6 509.8,199.4 509.4,196.2 509.8,193.1 510.9,189.9 513.0,187.0 513.2,186.8 516.4,183.6 517.4,182.9 521.1,180.4 521.8,180.0 526.1,177.8 527.7,177.3 530.5,176.2 534.9,175.1 539.3,174.5 543.6,174.3 548.0,174.5 552.4,175.1 556.8,176.1 560.1,177.3 561.2,177.6 565.5,179.6 567.0,180.4 569.9,182.4 571.4,183.6 574.3,186.8 574.3,186.8 576.4,189.9 577.5,193.1 577.9,196.2 577.6,199.4 576.5,202.6 574.4,205.7 574.3,205.9 571.5,208.9 569.9,210.2 567.1,212.1 565.5,213.0 561.2,214.9 560.3,215.2 556.8,216.4 552.4,217.4 548.0,217.9 543.6,218.0 539.3,217.9 534.9,217.4 530.5,216.4 M447.3,168.3 446.6,167.8 444.8,164.6 445.3,161.4 447.3,159.1 448.6,158.3 451.7,157.0 456.1,156.9 460.0,158.3 460.5,158.5 463.1,161.4 463.6,164.6 461.9,167.8 460.5,168.9 456.1,170.4 451.7,170.3 447.3,168.3 M565.5,150.6 562.4,148.8 561.2,147.3 560.2,145.6 559.4,142.4 559.2,139.3 559.8,136.1 561.2,133.1 561.2,132.9 563.6,129.8 565.5,128.0 567.0,126.6 569.9,124.4 571.2,123.5 574.3,121.4 576.3,120.3 578.7,118.9 582.7,117.1 583.1,116.9 587.4,115.5 591.8,114.9 596.2,114.9 600.6,115.7 604.2,117.1 604.9,117.5 609.0,120.3 609.3,120.6 611.1,123.5 612.0,126.6 611.9,129.8 610.7,132.9 609.3,134.7 608.3,136.1 604.9,139.2 604.8,139.3 600.6,142.4 600.6,142.4 596.2,145.1 595.3,145.6 591.8,147.4 588.3,148.8 587.4,149.1 583.1,150.5 578.7,151.3 574.3,151.6 569.9,151.5 565.5,150.6 M478.0,77.2 474.9,76.0 473.6,75.1 471.4,72.8 470.5,69.7 471.4,66.5 473.6,64.1 474.9,63.3 478.0,62.1 482.4,61.7 486.7,62.6 488.1,63.3 491.1,65.8 491.7,66.5 492.5,69.7 491.6,72.8 491.1,73.4 488.0,76.0 486.7,76.7 482.4,77.6 478.0,77.2 M591.8,76.5 590.5,76.0 587.4,74.3 585.9,72.8 584.5,69.7 584.9,66.5 587.4,63.4 587.5,63.3 591.8,61.5 596.2,61.1 600.6,62.0 602.9,63.3 604.9,65.3 605.8,66.5 606.4,69.7 605.1,72.8 604.9,73.0 600.8,76.0 600.6,76.1 596.2,77.0 591.8,76.5" stroke="#00e6ff"/><path d="M530.5,218.8 529.3,218.4 526.1,217.6 521.8,215.8 520.6,215.2 517.4,213.5 515.2,212.1 513.0,210.2 511.5,208.9 509.0,205.7 508.6,205.0 507.2,202.6 506.1,199.4 505.8,196.2 506.2,193.1 507.3,189.9 508.6,188.2 509.5,186.8 512.8,183.6 513.0,183.5 517.2,180.4 517.4,180.3 521.8,177.7 522.7,177.3 526.1,175.5 530.0,174.1 530.5,173.9 534.9,172.6 539.3,172.0 543.6,171.8 548.0,171.9 552.4,172.5 556.8,173.6 558.1,174.1 561.2,174.9 565.5,176.8 566.4,177.3 569.9,179.2 571.8,180.4 574.3,182.5 575.5,183.6 578.1,186.8 578.7,187.8 580.0,189.9 581.1,193.1 581.5,196.2 581.2,199.4 580.2,202.6 578.7,205.0 578.3,205.7 575.8,208.9 574.3,210.2 572.1,212.1 569.9,213.5 566.7,215.2 565.5,215.8 561.2,217.6 558.0,218.4 556.8,218.8 552.4,219.7 548.0,220.2 543.6,220.4 539.3,220.2 534.9,219.7 530.5,218.8 M451.7,172.1 448.4,170.9 447.3,170.5 443.9,167.8 442.9,165.4 442.5,164.6 442.9,161.7 443.0,161.4 445.2,158.3 447.3,156.8 451.7,155.4 456.1,155.3 460.5,156.5 463.1,158.3 464.8,160.6 465.4,161.4 465.8,164.6 464.8,166.8 464.4,167.8 460.5,170.9 460.3,170.9 456.1,172.3 451.7,172.1 M565.5,155.2 564.9,155.1 561.2,154.5 557.1,151.9 556.8,151.5 555.4,148.8 554.8,145.6 554.5,142.4 554.7,139.3 555.5,136.1 556.8,134.0 557.3,132.9 560.0,129.8 561.2,128.9 563.6,126.6 565.5,125.2 567.9,123.5 569.9,122.1 572.7,120.3 574.3,119.2 578.0,117.1 578.7,116.7 583.1,114.5 584.6,114.0 587.4,112.8 591.8,111.8 596.2,111.5 600.6,111.9 604.9,113.1 606.9,114.0 609.3,115.1 612.2,117.1 613.7,118.9 614.3,120.3 614.9,123.5 615.1,126.6 615.1,129.8 614.3,133.0 613.7,133.8 611.8,136.1 609.3,138.3 608.2,139.3 604.9,141.7 604.0,142.4 600.6,144.7 599.2,145.6 596.2,147.4 593.6,148.8 591.8,149.8 587.4,151.7 586.6,151.9 583.1,153.2 578.7,154.3 574.3,154.9 571.1,155.1 569.9,155.2 565.5,155.2 M478.0,79.5 476.9,79.1 473.6,78.0 470.6,76.0 469.2,74.4 468.0,72.8 467.3,69.7 468.0,66.5 469.2,64.9 470.5,63.3 473.6,61.2 476.8,60.2 478.0,59.8 482.4,59.4 486.2,60.2 486.7,60.2 491.1,62.3 492.5,63.3 494.8,66.5 495.5,69.7 494.7,72.8 492.4,76.0 491.1,76.9 486.7,79.0 485.9,79.1 482.4,79.8 478.0,79.5 M587.4,77.1 585.8,76.0 583.1,73.3 582.7,72.8 581.4,69.7 581.7,66.5 583.1,64.3 583.7,63.3 587.4,60.6 588.7,60.2 591.8,59.1 596.2,58.8 600.6,59.5 602.0,60.2 604.9,61.6 607.0,63.3 608.9,66.5 609.3,69.7 608.4,72.8 605.5,76.0 604.9,76.4 600.6,78.4 596.2,79.1 591.8,78.7 587.4,77.1" stroke="#0cfff3"/><path d="M530.5,222.4 527.7,221.6 526.1,221.2 521.8,219.9 518.6,218.4 517.4,217.9 513.0,215.3 512.8,215.2 508.7,212.1 508.6,212.0 505.5,208.9 504.2,207.0 503.3,205.7 501.7,202.6 500.9,199.4 500.7,196.2 501.0,193.1 502.1,189.9 504.2,187.3 504.6,186.8 508.3,183.6 508.6,183.4 513.0,180.5 513.1,180.4 517.4,177.8 518.3,177.3 521.8,175.1 523.8,174.1 526.1,172.6 530.0,170.9 530.5,170.6 534.9,168.9 539.3,168.0 541.5,167.8 543.6,167.2 548.0,166.9 550.9,167.8 552.4,167.9 556.8,169.0 560.8,170.9 561.2,171.0 565.5,172.6 568.3,174.1 569.9,174.9 573.7,177.3 574.3,177.7 577.7,180.4 578.7,181.4 580.9,183.6 583.0,186.8 583.1,186.8 585.0,189.9 586.1,193.1 586.5,196.2 586.4,199.4 585.6,202.6 584.0,205.7 583.1,207.0 581.8,208.9 578.7,212.0 578.6,212.1 574.5,215.2 574.3,215.4 569.9,217.9 568.8,218.4 565.5,219.9 561.2,221.2 559.6,221.6 556.8,222.4 552.4,223.2 548.0,223.6 543.6,223.8 539.3,223.6 534.9,223.2 530.5,222.4 M451.7,174.1 451.6,174.1 447.3,173.2 443.5,170.9 442.9,170.4 440.4,167.8 439.4,164.6 439.6,161.4 441.4,158.3 442.9,156.9 445.8,155.1 447.3,154.3 451.7,153.3 456.1,153.3 460.5,154.2 462.4,155.1 464.8,156.7 466.4,158.3 467.9,161.4 468.1,164.6 467.4,167.8 464.8,170.8 464.7,170.9 460.5,173.4 456.6,174.1 456.1,174.3 451.7,174.1 M556.8,161.6 555.7,161.4 552.4,161.1 549.0,158.3 548.0,155.5 547.9,155.1 547.9,151.9 548.0,149.5 548.1,148.8 548.2,145.6 548.5,142.4 548.9,139.3 550.2,136.1 552.4,133.5 552.7,132.9 556.1,129.8 556.8,129.4 560.2,126.6 561.2,126.0 564.7,123.5 565.5,122.9 569.5,120.3 569.9,120.0 574.3,117.2 574.4,117.1 578.7,114.4 579.6,114.0 583.1,111.8 585.4,110.8 587.4,109.6 591.8,108.0 593.9,107.6 596.2,107.0 600.6,107.0 604.6,107.6 604.9,107.7 609.3,108.8 613.5,110.8 613.7,110.9 617.9,114.0 618.1,114.3 618.8,117.1 618.3,120.3 618.1,121.7 617.8,123.5 617.7,126.6 617.8,129.8 617.6,132.9 615.6,136.1 613.7,137.6 611.7,139.3 609.3,141.0 607.3,142.4 604.9,144.1 602.7,145.6 600.6,147.0 597.7,148.8 596.2,149.8 592.4,151.9 591.8,152.4 587.4,154.7 586.2,155.1 583.1,156.7 578.7,158.1 577.6,158.3 574.3,159.2 569.9,160.1 565.5,160.7 561.2,161.2 557.7,161.4 556.8,161.6 M473.6,81.2 469.8,79.1 469.2,78.8 466.0,76.0 464.8,73.6 464.3,72.8 463.6,69.7 464.3,66.5 464.8,65.7 466.0,63.3 469.2,60.5 469.7,60.2 473.6,58.1 478.0,57.1 481.6,57.0 482.4,56.9 482.7,57.0 486.7,57.4 491.1,58.8 493.3,60.2 495.5,61.9 497.0,63.3 498.7,66.5 499.1,69.7 498.6,72.8 496.6,76.0 495.5,77.0 492.9,79.1 491.1,80.3 486.7,81.8 482.4,82.3 478.0,82.1 473.6,81.2 M587.4,79.8 586.4,79.1 583.1,77.0 581.8,76.0 579.3,72.8 578.7,70.8 578.1,69.7 578.2,66.5 578.7,65.5 579.5,63.3 582.6,60.2 583.1,59.8 587.4,57.5 589.8,57.0 591.8,56.4 596.2,56.1 600.6,56.8 601.0,57.0 604.9,58.2 608.1,60.2 609.3,61.3 611.4,63.3 612.8,66.5 613.1,69.7 612.4,72.8 610.2,76.0 609.3,76.8 606.0,79.1 604.9,79.8 600.6,81.3 596.2,81.7 591.8,81.3 587.4,79.8" stroke="#31ffce"/><path d="M481.1,183.6 482.4,184.2 486.7,185.6 491.1,185.9 495.5,185.4 499.9,184.0 500.6,183.6 504.2,182.4 508.1,180.4 508.6,180.2 513.0,177.9 514.0,177.3 517.4,175.1 519.0,174.1 521.8,172.0 523.4,170.9 526.1,168.2 526.7,167.8 529.3,164.6 530.4,161.4 530.5,160.6 531.1,158.3 531.5,155.1 531.8,151.9 532.3,148.8 533.2,145.6 534.7,142.4 534.9,142.3 536.7,139.3 539.3,137.7 540.8,136.1 543.6,134.7 545.8,132.9 548.0,132.0 551.2,129.8 552.4,129.2 556.5,126.6 556.8,126.5 561.2,123.7 561.6,123.5 565.5,120.9 566.5,120.3 569.9,118.0 571.3,117.1 574.3,115.0 576.0,114.0 578.7,111.9 580.5,110.8 583.1,108.7 584.7,107.6 587.4,105.1 588.5,104.5 591.5,101.3 591.8,100.7 594.2,98.1 595.3,95.0 595.4,91.8 594.3,88.6 591.8,87.1 590.4,85.5 587.4,84.1 585.2,82.3 583.1,81.1 580.6,79.1 578.7,77.4 577.1,76.0 574.4,72.8 574.3,72.6 571.4,69.7 569.9,67.3 568.2,66.5 565.5,64.8 561.2,63.7 559.1,63.3 556.8,62.7 552.4,61.9 548.0,61.5 543.6,61.3 539.3,61.5 534.9,61.9 530.5,62.7 528.1,63.3 526.1,63.6 521.8,64.7 517.7,66.5 517.4,66.6 513.0,68.4 511.1,69.7 508.6,71.2 507.4,72.8 504.2,75.9 504.2,76.0 501.4,79.1 499.9,80.7 498.1,82.3 495.5,85.0 494.6,85.5 491.7,88.6 491.1,90.0 489.6,91.8 488.2,95.0 487.3,98.1 486.7,100.9 486.5,101.3 485.2,104.5 483.8,107.6 482.4,110.3 481.7,110.8 478.0,113.5 477.2,114.0 473.6,116.0 471.7,117.1 469.2,118.7 466.7,120.3 464.8,120.8 460.5,121.1 456.1,121.3 451.7,122.1 448.6,123.5 447.3,123.6 442.9,125.4 441.2,126.6 438.6,128.9 437.6,129.8 435.1,132.9 434.4,136.1 434.3,139.3 434.8,142.4 436.3,145.6 438.6,147.6 439.9,148.8 442.9,149.9 447.3,150.6 451.7,150.8 456.1,151.0 460.5,151.1 464.8,151.4 466.9,151.9 469.2,154.9 469.3,155.1 470.4,158.3 471.0,161.4 471.2,164.6 470.9,167.8 470.4,170.9 470.1,174.1 471.3,177.3 473.6,179.3 475.1,180.4 478.0,182.3 481.1,183.6 M675.0,140.7 673.7,139.3 670.6,136.8 669.8,136.1 666.2,133.6 665.0,132.9 661.9,131.1 658.8,129.8 657.5,129.1 654.0,126.6 653.1,125.8 652.4,123.5 650.5,120.3 648.7,118.8 647.3,117.1 644.4,115.2 640.6,114.0 640.0,113.7 635.6,112.6 631.2,113.0 629.7,114.0 626.8,114.6 623.8,117.1 622.5,118.3 621.2,120.3 620.0,123.5 619.7,126.6 620.0,129.8 620.4,132.9 619.4,136.1 618.1,137.2 615.5,139.3 613.7,140.4 610.7,142.4 609.3,143.3 606.0,145.6 604.9,146.3 601.3,148.8 600.6,149.3 596.7,151.9 596.2,152.4 592.3,155.1 591.8,155.5 588.0,158.3 587.4,158.8 584.0,161.4 583.1,162.6 580.6,164.6 579.0,167.8 579.3,170.9 581.3,174.1 583.1,176.2 583.8,177.3 586.5,180.4 587.4,181.6 589.1,183.6 591.7,186.8 591.8,186.9 594.5,189.9 596.2,192.1 597.4,193.1 600.6,195.9 601.2,196.2 604.9,198.6 607.3,199.4 609.3,200.3 613.7,201.6 618.1,202.3 620.8,202.6 622.5,202.9 626.8,203.3 631.2,203.4 635.6,203.2 639.9,202.6 640.0,202.6 644.4,202.0 648.7,201.1 653.1,199.7 653.7,199.4 657.5,198.2 661.4,196.2 661.9,196.0 666.2,193.6 667.0,193.1 670.6,190.5 671.4,189.9 674.8,186.8 675.0,186.5" stroke="#57ffa8"/><path d="M621.0,193.1 622.5,193.4 626.8,193.9 631.2,194.0 635.6,193.7 639.8,193.1 640.0,193.1 644.4,192.2 648.7,190.9 651.0,189.9 653.1,189.1 657.3,186.8 657.5,186.7 661.8,183.6 661.9,183.5 665.2,180.4 666.2,179.2 667.8,177.3 669.7,174.1 670.6,171.7 671.0,170.9 671.9,167.8 672.3,164.6 672.2,161.4 671.6,158.3 670.6,155.6 670.5,155.1 669.1,151.9 666.8,148.8 666.2,148.1 664.0,145.6 661.9,143.7 660.2,142.4 657.5,140.6 655.1,139.3 653.1,138.2 648.7,136.3 648.3,136.1 646.1,132.9 646.5,129.8 646.6,126.6 645.8,123.5 644.4,121.7 643.3,120.3 640.0,118.0 637.1,117.1 635.6,116.6 631.2,116.6 629.7,117.1 626.8,118.0 624.1,120.3 622.5,122.7 622.1,123.5 621.6,126.6 622.1,129.8 622.5,131.1 623.2,132.9 623.5,136.1 622.5,137.1 619.9,139.3 618.1,140.2 614.4,142.4 613.7,142.8 609.3,145.6 609.3,145.6 604.9,148.6 604.7,148.8 600.6,151.8 600.4,151.9 596.6,155.1 596.2,155.6 593.3,158.3 591.8,160.5 591.0,161.4 589.5,164.6 589.2,167.8 589.7,170.9 591.1,174.1 591.8,175.2 593.0,177.3 595.7,180.4 596.2,180.9 599.0,183.6 600.6,184.9 603.4,186.8 604.9,187.7 609.3,189.8 609.6,189.9 613.7,191.5 618.1,192.6 621.0,193.1 M484.3,177.3 486.7,178.5 491.1,179.9 495.5,180.4 499.9,180.2 504.2,179.3 508.6,177.6 509.2,177.3 513.0,175.2 514.8,174.1 517.4,172.1 518.8,170.9 521.5,167.8 521.8,167.0 523.0,164.6 523.5,161.4 522.9,158.3 521.8,156.0 521.4,155.1 518.9,151.9 517.4,150.7 514.6,148.8 513.0,147.8 508.6,146.2 505.8,145.6 504.2,145.2 499.9,144.8 495.5,145.0 492.8,145.6 491.1,145.9 486.7,147.2 483.9,148.8 482.4,149.7 479.5,151.9 478.0,153.7 476.8,155.1 475.4,158.3 474.9,161.4 475.0,164.6 475.5,167.8 477.0,170.9 478.0,172.2 479.7,174.1 482.4,176.2 484.3,177.3 M445.2,145.6 447.3,146.9 451.7,148.2 456.1,148.5 460.5,148.0 464.8,146.1 465.6,145.6 468.6,142.4 469.2,140.4 469.8,139.3 469.4,136.1 469.2,135.9 467.8,132.9 464.8,130.5 463.3,129.8 460.5,128.4 456.1,127.8 451.7,128.1 447.5,129.8 447.3,129.8 443.2,132.9 442.9,133.4 441.1,136.1 440.8,139.3 442.1,142.4 442.9,143.3 445.2,145.6 M528.5,129.8 530.5,130.3 534.9,130.7 539.3,130.5 542.6,129.8 543.6,129.6 548.0,128.4 551.9,126.6 552.4,126.4 556.8,124.3 558.1,123.5 561.2,121.8 563.5,120.3 565.5,119.0 568.4,117.1 569.9,116.0 572.9,114.0 574.3,112.8 577.0,110.8 578.7,109.1 580.4,107.6 582.9,104.5 583.1,104.0 584.7,101.3 585.5,98.1 585.4,95.0 584.5,91.8 583.1,89.0 582.9,88.6 580.9,85.5 578.7,83.2 577.9,82.3 574.3,79.2 574.2,79.1 569.9,76.1 569.6,76.0 565.5,73.8 562.9,72.8 561.2,72.1 556.8,70.8 552.4,70.1 548.2,69.7 548.0,69.6 543.6,69.4 539.3,69.6 539.0,69.7 534.9,70.0 530.5,70.8 526.1,72.1 524.3,72.8 521.8,73.7 517.5,76.0 517.4,76.0 513.0,78.8 512.6,79.1 509.0,82.3 508.6,82.7 506.1,85.5 504.2,88.4 504.1,88.6 502.3,91.8 501.3,95.0 500.7,98.1 500.6,101.3 500.8,104.5 501.5,107.6 502.7,110.8 504.2,113.4 504.5,114.0 506.6,117.1 508.6,119.2 509.7,120.3 513.0,123.0 513.7,123.5 517.4,125.8 519.2,126.6 521.8,127.9 526.1,129.3 528.5,129.8" stroke="#7cff83"/><path d="M613.4,186.8 613.7,186.9 618.1,188.3 622.5,189.2 626.8,189.7 631.2,189.8 635.6,189.6 640.0,188.9 644.4,187.8 647.2,186.8 648.7,186.2 653.1,184.0 653.8,183.6 657.5,180.9 658.1,180.4 661.3,177.3 661.9,176.4 663.6,174.1 665.2,170.9 666.1,167.8 666.2,166.4 666.5,164.6 666.4,161.4 666.2,160.7 665.8,158.3 664.6,155.1 662.8,151.9 661.9,150.8 660.2,148.8 657.5,146.4 656.6,145.6 653.1,143.3 651.5,142.4 648.7,141.1 644.4,139.5 643.6,139.3 640.0,137.1 638.7,136.1 640.0,135.0 641.0,132.9 642.8,129.8 643.3,126.6 642.4,123.5 640.0,120.8 639.1,120.3 635.6,118.8 631.2,118.7 627.0,120.3 626.8,120.4 624.5,123.5 623.8,126.6 624.4,129.8 626.1,132.9 626.8,134.5 628.9,136.1 626.8,138.1 625.8,139.3 622.5,140.6 618.6,142.4 618.1,142.7 613.7,145.1 612.9,145.6 609.3,147.9 608.0,148.8 604.9,151.1 603.8,151.9 600.6,154.9 600.3,155.1 597.5,158.3 596.2,160.7 595.7,161.4 594.7,164.6 594.7,167.8 595.6,170.9 596.2,172.1 597.1,174.1 599.4,177.3 600.6,178.5 602.5,180.4 604.9,182.3 606.9,183.6 609.3,185.0 613.4,186.8 M494.9,177.3 495.5,177.4 499.9,177.4 500.6,177.3 504.2,176.6 508.6,175.0 510.2,174.1 513.0,172.3 514.8,170.9 517.4,167.9 517.5,167.8 518.9,164.6 519.1,161.4 518.2,158.3 517.4,157.0 516.1,155.1 513.0,152.4 512.3,151.9 508.6,150.1 504.2,148.9 503.5,148.8 499.9,148.3 495.5,148.6 494.7,148.8 491.1,149.6 486.7,151.4 485.9,151.9 482.4,154.8 482.1,155.1 479.9,158.3 479.0,161.4 479.0,164.6 479.9,167.8 482.0,170.9 482.4,171.3 485.8,174.1 486.7,174.7 491.1,176.5 494.9,177.3 M450.1,145.6 451.7,146.3 456.1,146.7 460.5,145.8 460.8,145.6 464.8,142.9 465.4,142.4 467.0,139.3 466.6,136.1 464.8,133.8 464.1,132.9 460.5,130.8 456.1,130.0 451.7,130.4 447.3,132.3 446.5,132.9 444.1,136.1 443.8,139.3 445.2,142.4 447.3,144.3 450.1,145.6 M533.0,126.6 534.9,127.0 539.3,127.2 543.6,126.7 543.9,126.6 548.0,125.8 552.4,124.2 554.0,123.5 556.8,122.2 560.3,120.3 561.2,119.8 565.5,117.1 565.5,117.1 569.9,114.0 570.0,114.0 573.9,110.8 574.3,110.4 577.1,107.6 578.7,105.2 579.3,104.5 580.7,101.3 581.1,98.1 580.7,95.0 579.6,91.8 578.7,90.2 577.9,88.6 575.5,85.5 574.3,84.3 572.2,82.3 569.9,80.6 567.7,79.1 565.5,77.9 561.2,76.0 561.1,76.0 556.8,74.5 552.4,73.5 548.0,73.0 543.6,72.9 539.3,73.0 534.9,73.5 530.5,74.5 526.1,76.0 526.1,76.0 521.8,77.8 519.5,79.1 517.4,80.5 515.0,82.3 513.0,84.2 511.7,85.5 509.3,88.6 508.6,89.8 507.4,91.8 506.2,95.0 505.5,98.1 505.4,101.3 505.8,104.5 506.7,107.6 508.3,110.8 508.6,111.3 510.3,114.0 513.0,116.9 513.2,117.1 517.1,120.3 517.4,120.5 521.8,123.1 522.6,123.5 526.1,125.0 530.5,126.2 533.0,126.6" stroke="#a1ff5e"/><path d="M614.3,183.6 618.1,185.0 622.5,186.0 626.8,186.6 631.2,186.7 635.6,186.4 640.0,185.7 644.4,184.4 646.3,183.6 648.7,182.5 652.2,180.4 653.1,179.8 656.1,177.3 657.5,175.7 658.8,174.1 660.6,170.9 661.7,167.8 661.9,166.8 662.2,164.6 662.1,161.4 661.9,160.5 661.4,158.3 660.0,155.1 657.8,151.9 657.5,151.6 654.7,148.8 653.1,147.5 650.2,145.6 648.7,144.8 644.4,143.0 642.5,142.4 640.0,141.7 635.6,140.9 631.2,140.9 626.8,141.8 624.9,142.4 622.5,143.1 618.1,145.0 616.9,145.6 613.7,147.4 611.5,148.8 609.3,150.3 607.2,151.9 604.9,154.0 603.7,155.1 601.2,158.3 600.6,159.5 599.5,161.4 598.8,164.6 599.0,167.8 600.1,170.9 600.6,171.8 601.8,174.1 604.5,177.3 604.9,177.6 608.4,180.4 609.3,181.0 613.7,183.3 614.3,183.6 M493.5,174.1 495.5,174.6 499.9,174.7 503.4,174.1 504.2,173.9 508.6,172.0 510.3,170.9 513.0,168.4 513.6,167.8 515.0,164.6 515.1,161.4 513.9,158.3 513.0,157.1 511.0,155.1 508.6,153.6 504.5,151.9 504.2,151.9 499.9,151.3 495.5,151.6 494.0,151.9 491.1,152.8 487.1,155.1 486.7,155.4 484.3,158.3 483.0,161.4 482.9,164.6 484.2,167.8 486.7,170.9 486.8,170.9 491.1,173.4 493.5,174.1 M448.0,142.4 451.7,144.5 456.1,145.0 460.5,143.9 462.6,142.4 464.5,139.3 464.0,136.1 460.9,132.9 460.5,132.7 456.1,131.6 451.7,132.1 449.9,132.9 447.3,135.0 446.4,136.1 446.0,139.3 447.3,141.6 448.0,142.4 M630.7,132.9 631.2,133.4 635.6,133.1 635.8,132.9 639.6,129.8 640.0,129.0 640.6,126.6 640.0,124.7 639.3,123.5 635.6,121.1 631.2,120.9 626.9,123.5 626.8,123.6 626.1,126.6 626.8,129.8 626.8,129.9 630.7,132.9 M531.2,123.5 534.9,124.3 539.3,124.6 543.6,124.4 548.0,123.6 548.3,123.5 552.4,122.2 556.8,120.3 556.8,120.3 561.2,118.0 562.6,117.1 565.5,115.2 567.3,114.0 569.9,111.9 571.3,110.8 574.2,107.6 574.3,107.5 576.4,104.5 577.6,101.3 577.8,98.1 577.3,95.0 576.0,91.8 574.3,89.2 574.0,88.6 571.2,85.5 569.9,84.3 567.3,82.3 565.5,81.2 561.6,79.1 561.2,78.9 556.8,77.3 552.4,76.2 550.5,76.0 548.0,75.6 543.6,75.4 539.3,75.6 536.8,76.0 534.9,76.2 530.5,77.3 526.1,78.9 525.6,79.1 521.8,81.1 519.9,82.3 517.4,84.3 516.0,85.5 513.2,88.6 513.0,89.0 511.1,91.8 509.7,95.0 509.0,98.1 508.9,101.3 509.4,104.5 510.4,107.6 512.2,110.8 513.0,111.8 514.7,114.0 517.4,116.5 518.1,117.1 521.8,119.6 523.0,120.3 526.1,121.8 530.5,123.3 531.2,123.5" stroke="#c6ff39"/><path d="M625.2,183.6 626.8,183.8 631.2,184.0 635.6,183.6 635.8,183.6 640.0,182.8 644.4,181.3 646.2,180.4 648.7,179.0 651.2,177.3 653.1,175.5 654.5,174.1 656.6,170.9 657.5,168.8 657.9,167.8 658.5,164.6 658.3,161.4 657.5,158.3 657.5,158.3 655.9,155.1 653.3,151.9 653.1,151.7 649.5,148.8 648.7,148.3 644.4,146.0 643.1,145.6 640.0,144.6 635.6,143.8 631.2,143.7 626.8,144.3 622.5,145.5 622.1,145.6 618.1,147.3 615.4,148.8 613.7,149.8 610.6,151.9 609.3,153.1 607.1,155.1 604.9,157.8 604.6,158.3 603.1,161.4 602.5,164.6 602.9,167.8 604.1,170.9 604.9,172.3 606.2,174.1 609.3,177.2 609.4,177.3 613.7,180.1 614.5,180.4 618.1,182.0 622.5,183.2 625.2,183.6 M494.8,170.9 495.5,171.2 499.9,171.4 502.5,170.9 504.2,170.4 508.6,167.8 508.6,167.7 510.3,164.6 510.3,161.4 508.8,158.3 508.6,158.1 504.2,155.5 502.8,155.1 499.9,154.6 495.5,155.0 495.1,155.1 491.1,157.0 489.6,158.3 487.7,161.4 487.6,164.6 489.5,167.8 491.1,169.2 494.8,170.9 M451.1,142.4 451.7,142.8 456.1,143.4 459.2,142.4 460.5,141.7 462.2,139.3 461.6,136.1 460.5,135.0 456.1,133.2 451.7,134.0 449.0,136.1 448.4,139.3 451.1,142.4 M630.7,126.6 631.2,128.8 635.6,128.6 636.3,126.6 635.6,125.3 631.2,125.5 630.7,126.6 M529.1,120.3 530.5,120.8 534.9,121.9 539.3,122.4 543.6,122.3 548.0,121.6 552.4,120.3 552.4,120.3 556.8,118.5 559.4,117.1 561.2,116.2 564.6,114.0 565.5,113.3 568.7,110.8 569.9,109.6 571.8,107.6 573.9,104.5 574.3,103.2 575.0,101.3 575.2,98.1 574.4,95.0 574.3,94.7 573.0,91.8 570.6,88.6 569.9,87.9 567.3,85.5 565.5,84.1 562.6,82.3 561.2,81.5 556.8,79.7 554.6,79.1 552.4,78.5 548.0,77.8 543.6,77.6 539.3,77.8 534.9,78.5 532.6,79.1 530.5,79.7 526.1,81.5 524.7,82.3 521.8,84.1 519.9,85.5 517.4,87.8 516.6,88.6 514.2,91.8 513.0,94.3 512.6,95.0 511.7,98.1 511.6,101.3 512.2,104.5 513.0,106.3 513.6,107.6 515.6,110.8 517.4,112.8 518.5,114.0 521.8,116.6 522.6,117.1 526.1,119.1 529.1,120.3" stroke="#ebff14"/><path d="M622.4,180.4 622.5,180.4 626.8,181.2 631.2,181.4 635.6,181.0 638.0,180.4 640.0,179.9 644.4,178.2 646.0,177.3 648.7,175.3 650.1,174.1 652.7,170.9 653.1,170.1 654.2,167.8 654.8,164.6 654.7,161.4 653.7,158.3 653.1,157.2 651.8,155.1 648.8,151.9 648.7,151.9 644.4,149.1 643.6,148.8 640.0,147.4 635.6,146.5 631.2,146.3 626.8,146.8 622.5,147.9 620.4,148.8 618.1,149.8 614.5,151.9 613.7,152.5 610.7,155.1 609.3,156.7 608.1,158.3 606.6,161.4 606.1,164.6 606.6,167.8 608.0,170.9 609.3,172.7 610.6,174.1 613.7,176.7 614.7,177.3 618.1,179.0 622.4,180.4 M451.2,139.3 451.7,139.9 456.1,141.1 459.0,139.3 457.8,136.1 456.1,135.4 452.2,136.1 451.7,136.7 451.2,139.3 M539.2,120.3 539.3,120.3 543.6,120.3 543.7,120.3 548.0,119.7 552.4,118.5 555.7,117.1 556.8,116.7 561.2,114.3 561.7,114.0 565.5,111.3 566.2,110.8 569.5,107.6 569.9,107.1 571.8,104.5 572.9,101.3 573.0,98.1 572.1,95.0 570.3,91.8 569.9,91.4 567.5,88.6 565.5,86.9 563.5,85.5 561.2,84.0 557.5,82.3 556.8,82.0 552.4,80.7 548.0,79.9 543.6,79.7 539.3,79.9 534.9,80.7 530.5,82.0 529.8,82.3 526.1,84.0 523.7,85.5 521.8,86.8 519.7,88.6 517.4,91.2 516.9,91.8 515.0,95.0 514.1,98.1 513.9,101.3 514.6,104.5 516.2,107.6 517.4,109.2 518.7,110.8 521.8,113.7 522.2,114.0 526.1,116.6 527.4,117.1 530.5,118.5 534.9,119.7 539.2,120.3" stroke="#ffed00"/><path d="M621.7,177.3 622.5,177.5 626.8,178.4 631.2,178.6 635.6,178.1 638.9,177.3 640.0,176.9 644.4,174.7 645.2,174.1 648.5,170.9 648.7,170.6 650.2,167.8 651.0,164.6 650.8,161.4 649.7,158.3 648.7,156.8 647.3,155.1 644.4,152.6 643.2,151.9 640.0,150.5 635.6,149.3 631.2,148.9 626.8,149.4 622.5,150.6 619.4,151.9 618.1,152.7 614.7,155.1 613.7,156.1 611.9,158.3 610.3,161.4 609.8,164.6 610.5,167.8 612.2,170.9 613.7,172.5 615.5,174.1 618.1,175.7 621.7,177.3 M533.2,117.1 534.9,117.6 539.3,118.3 543.6,118.4 548.0,117.8 550.6,117.1 552.4,116.7 556.8,114.9 558.6,114.0 561.2,112.6 563.8,110.8 565.5,109.4 567.4,107.6 569.7,104.5 569.9,103.8 570.9,101.3 570.9,98.1 569.9,95.2 569.9,95.0 567.8,91.8 565.5,89.5 564.5,88.6 561.2,86.3 559.5,85.5 556.8,84.1 552.4,82.7 549.9,82.3 548.0,82.0 543.6,81.7 539.3,81.9 537.3,82.3 534.9,82.7 530.5,84.1 527.7,85.5 526.1,86.3 522.7,88.6 521.8,89.4 519.4,91.8 517.4,94.9 517.3,95.0 516.1,98.1 516.0,101.3 516.9,104.5 517.4,105.4 518.6,107.6 521.6,110.8 521.8,111.0 525.9,114.0 526.1,114.1 530.5,116.3 533.2,117.1" stroke="#ffc800"/><path d="M622.5,174.1 626.8,175.2 631.2,175.4 635.6,174.8 637.9,174.1 640.0,173.2 643.2,170.9 644.4,169.7 645.6,167.8 646.6,164.6 646.3,161.4 644.9,158.3 644.4,157.6 641.6,155.1 640.0,154.2 635.6,152.5 631.2,152.0 626.8,152.4 622.5,153.9 620.2,155.1 618.1,156.7 616.5,158.3 614.6,161.4 614.1,164.6 615.1,167.8 617.4,170.9 618.1,171.5 622.5,174.1 622.5,174.1 M530.0,114.0 530.5,114.2 534.9,115.7 539.3,116.4 543.6,116.6 548.0,116.1 552.4,115.0 554.9,114.0 556.8,113.3 561.2,110.9 561.3,110.8 565.3,107.6 565.5,107.3 567.8,104.5 569.0,101.3 569.0,98.1 567.9,95.0 565.5,91.9 565.4,91.8 561.5,88.6 561.2,88.4 556.8,86.1 554.7,85.5 552.4,84.7 548.0,83.8 543.6,83.5 539.3,83.8 534.9,84.7 532.5,85.5 530.5,86.1 526.1,88.4 525.7,88.6 521.8,91.8 521.8,91.8 519.3,95.0 518.1,98.1 518.0,101.3 518.9,104.5 521.0,107.6 521.8,108.5 524.4,110.8 526.1,112.0 530.0,114.0" stroke="#ffa300"/><path d="M631.1,170.9 631.2,170.9 631.3,170.9 635.6,169.6 638.4,167.8 640.0,165.4 640.3,164.6 640.0,161.4 640.0,161.4 636.8,158.3 635.6,157.6 631.2,156.7 626.8,157.3 624.4,158.3 622.5,159.8 621.2,161.4 620.7,164.6 622.1,167.8 622.5,168.1 626.8,170.4 631.1,170.9 M535.4,114.0 539.3,114.7 543.6,114.9 548.0,114.4 549.9,114.0 552.4,113.4 556.8,111.8 558.5,110.8 561.2,109.2 563.2,107.6 565.5,105.0 566.0,104.5 567.3,101.3 567.3,98.1 565.9,95.0 565.5,94.5 563.1,91.8 561.2,90.3 558.2,88.6 556.8,87.9 552.4,86.4 548.0,85.6 546.2,85.5 543.6,85.3 541.0,85.5 539.3,85.6 534.9,86.3 530.5,87.8 529.0,88.6 526.1,90.2 524.1,91.8 521.8,94.4 521.3,95.0 519.9,98.1 519.7,101.3 520.8,104.5 521.8,105.9 523.2,107.6 526.1,110.0 527.4,110.8 530.5,112.5 534.9,113.9 535.4,114.0" stroke="#ff7e00"/><path d="M530.6,110.8 534.9,112.4 539.3,113.2 543.6,113.4 548.0,113.0 552.4,112.0 555.5,110.8 556.8,110.3 561.1,107.6 561.2,107.6 564.2,104.5 565.5,101.3 565.6,101.3 565.5,100.2 565.5,98.1 564.0,95.0 561.2,92.1 560.8,91.8 556.8,89.5 554.5,88.6 552.4,87.9 548.0,87.0 543.6,86.7 539.3,87.0 534.9,87.9 532.8,88.6 530.5,89.5 526.5,91.8 526.1,92.1 523.2,95.0 521.8,97.9 521.6,98.1 521.5,101.3 521.8,102.1 522.7,104.5 525.4,107.6 526.1,108.2 530.5,110.8 530.6,110.8" stroke="#ff5800"/><path d="M534.5,110.8 534.9,110.9 539.3,111.8 543.6,112.1 548.0,111.7 551.8,110.8 552.4,110.6 556.8,108.9 558.8,107.6 561.2,105.7 562.3,104.5 563.8,101.3 563.7,98.1 562.1,95.0 561.2,94.1 558.2,91.8 556.8,91.0 552.4,89.3 549.1,88.6 548.0,88.4 543.6,88.1 539.3,88.4 538.1,88.6 534.9,89.3 530.5,90.9 529.0,91.8 526.1,94.0 525.2,95.0 523.4,98.1 523.2,101.3 524.6,104.5 526.1,106.2 527.8,107.6 530.5,109.3 534.5,110.8" stroke="#ff3300"/><path d="M530.3,107.6 530.5,107.8 534.9,109.6 539.3,110.5 543.6,110.8 548.0,110.4 552.4,109.3 556.4,107.6 556.8,107.4 560.4,104.5 561.2,103.2 562.1,101.3 562.0,98.1 561.2,96.7 560.0,95.0 556.8,92.5 555.3,91.8 552.4,90.6 548.0,89.7 543.6,89.4 539.3,89.7 534.9,90.6 531.9,91.8 530.5,92.5 527.2,95.0 526.1,96.5 525.2,98.1 525.0,101.3 526.1,103.8 526.5,104.5 530.3,107.6" stroke="#ff0e00"/><path d="M533.5,107.6 534.9,108.2 539.3,109.2 543.6,109.5 548.0,109.1 552.4,108.0 553.4,107.6 556.8,105.7 558.2,104.5 560.1,101.3 560.0,98.1 557.8,95.0 556.8,94.2 552.4,92.0 551.8,91.8 548.0,90.9 543.6,90.6 539.3,90.9 535.4,91.8 534.9,92.0 530.5,94.2 529.5,95.0 527.2,98.1 526.9,101.3 528.7,104.5 530.5,106.0 533.5,107.6" stroke="#e80000"/><path d="M538.0,107.6 539.3,107.9 543.6,108.2 548.0,107.9 548.9,107.6 552.4,106.4 555.8,104.5 556.8,103.3 558.0,101.3 557.8,98.1 556.8,96.7 555.0,95.0 552.4,93.6 548.0,92.3 543.6,91.9 539.3,92.3 534.9,93.6 532.2,95.0 530.5,96.6 529.4,98.1 529.1,101.3 530.5,103.7 531.2,104.5 534.9,106.6 538.0,107.6" stroke="#c20000"/><path d="M534.4,104.5 534.9,104.7 539.3,106.1 543.6,106.6 548.0,106.0 552.4,104.6 552.7,104.5 555.2,101.3 555.0,98.1 552.4,95.6 551.3,95.0 548.0,94.0 543.6,93.6 539.3,94.0 535.9,95.0 534.9,95.5 532.2,98.1 531.8,101.3 534.4,104.5" stroke="#9d0000"/><path d="M542.8,104.5 543.6,104.5 544.3,104.5 548.0,103.4 550.9,101.3 550.4,98.1 548.0,96.8 543.6,96.0 539.3,96.8 536.7,98.1 536.1,101.3 539.3,103.6 542.8,104.5" stroke="#800000"/></g></g><g clip-path="url(#cc1)"><path d="M469.7,50.1L470.5,53.2L473.7,53.2L472.3,56.4L473.7,59.6L470.5,59.6L469.7,62.7L468.9,59.6L465.7,59.6L467.1,56.4L465.7,53.2L468.9,53.2ZM500.8,53.6L501.6,56.7L504.8,56.7L503.4,59.9L504.8,63.1L501.6,63.1L500.8,66.2L500.0,63.1L496.8,63.1L498.2,59.9L496.8,56.7L500.0,56.7ZM464.9,79.9L465.7,83.0L468.9,83.0L467.5,86.2L468.9,89.4L465.7,89.4L464.9,92.5L464.1,89.4L460.9,89.4L462.3,86.2L460.9,83.0L464.1,83.0ZM460.5,69.3L461.3,72.4L464.5,72.4L463.1,75.6L464.5,78.8L461.3,78.8L460.5,81.9L459.7,78.8L456.5,78.8L457.9,75.6L456.5,72.4L459.7,72.4ZM465.0,66.0L465.8,69.1L469.0,69.1L467.6,72.3L469.0,75.5L465.8,75.5L465.0,78.6L464.2,75.5L461.0,75.5L462.4,72.3L461.0,69.1L464.2,69.1ZM469.3,67.3L470.1,70.4L473.3,70.4L471.9,73.6L473.3,76.8L470.1,76.8L469.3,79.9L468.5,76.8L465.3,76.8L466.7,73.6L465.3,70.4L468.5,70.4ZM473.3,67.5L474.1,70.6L477.3,70.6L475.9,73.8L477.3,77.0L474.1,77.0L473.3,80.1L472.5,77.0L469.3,77.0L470.7,73.8L469.3,70.6L472.5,70.6ZM476.2,65.1L477.0,68.2L480.2,68.2L478.8,71.4L480.2,74.6L477.0,74.6L476.2,77.7L475.4,74.6L472.2,74.6L473.6,71.4L472.2,68.2L475.4,68.2ZM480.2,63.9L481.0,67.0L484.2,67.0L482.8,70.2L484.2,73.4L481.0,73.4L480.2,76.5L479.4,73.4L476.2,73.4L477.6,70.2L476.2,67.0L479.4,67.0ZM483.5,61.0L484.3,64.1L487.5,64.1L486.1,67.3L487.5,70.5L484.3,70.5L483.5,73.6L482.7,70.5L479.5,70.5L480.9,67.3L479.5,64.1L482.7,64.1ZM482.0,60.3L482.8,63.4L486.0,63.4L484.6,66.6L486.0,69.8L482.8,69.8L482.0,72.9L481.2,69.8L478.0,69.8L479.4,66.6L478.0,63.4L481.2,63.4ZM477.6,60.4L478.4,63.5L481.6,63.5L480.2,66.7L481.6,69.9L478.4,69.9L477.6,73.0L476.8,69.9L473.6,69.9L475.0,66.7L473.6,63.5L476.8,63.5ZM474.0,60.5L474.8,63.6L478.0,63.6L476.6,66.8L478.0,70.0L474.8,70.0L474.0,73.1L473.2,70.0L470.0,70.0L471.4,66.8L470.0,63.6L473.2,63.6ZM470.2,61.3L471.0,64.4L474.2,64.4L472.8,67.6L474.2,70.8L471.0,70.8L470.2,73.9L469.4,70.8L466.2,70.8L467.6,67.6L466.2,64.4L469.4,64.4ZM467.5,63.7L468.3,66.8L471.5,66.8L470.1,70.0L471.5,73.2L468.3,73.2L467.5,76.3L466.7,73.2L463.5,73.2L464.9,70.0L463.5,66.8L466.7,66.8ZM465.5,66.2L466.3,69.3L469.5,69.3L468.1,72.5L469.5,75.7L466.3,75.7L465.5,78.8L464.7,75.7L461.5,75.7L462.9,72.5L461.5,69.3L464.7,69.3ZM472.9,59.9L473.7,63.0L476.9,63.0L475.5,66.2L476.9,69.4L473.7,69.4L472.9,72.5L472.1,69.4L468.9,69.4L470.3,66.2L468.9,63.0L472.1,63.0ZM471.8,63.3L472.6,66.4L475.8,66.4L474.4,69.6L475.8,72.8L472.6,72.8L471.8,75.9L471.0,72.8L467.8,72.8L469.2,69.6L467.8,66.4L471.0,66.4ZM475.3,63.6L476.1,66.7L479.3,66.7L477.9,69.9L479.3,73.1L476.1,73.1L475.3,76.2L474.5,73.1L471.3,73.1L472.7,69.9L471.3,66.7L474.5,66.7ZM479.8,63.0L480.6,66.1L483.8,66.1L482.4,69.3L483.8,72.5L480.6,72.5L479.8,75.6L479.0,72.5L475.8,72.5L477.2,69.3L475.8,66.1L479.0,66.1ZM474.0,66.6L474.8,69.7L478.0,69.7L476.6,72.9L478.0,76.1L474.8,76.1L474.0,79.2L473.2,76.1L470.0,76.1L471.4,72.9L470.0,69.7L473.2,69.7ZM597.9,41.0L598.7,44.1L601.9,44.1L600.5,47.3L601.9,50.5L598.7,50.5L597.9,53.6L597.1,50.5L593.9,50.5L595.3,47.3L593.9,44.1L597.1,44.1ZM612.1,42.3L612.9,45.4L616.1,45.4L614.7,48.6L616.1,51.8L612.9,51.8L612.1,54.9L611.3,51.8L608.1,51.8L609.5,48.6L608.1,45.4L611.3,45.4ZM611.3,66.7L612.1,69.8L615.3,69.8L613.9,73.0L615.3,76.2L612.1,76.2L611.3,79.3L610.5,76.2L607.3,76.2L608.7,73.0L607.3,69.8L610.5,69.8ZM593.2,63.7L594.0,66.8L597.2,66.8L595.8,70.0L597.2,73.2L594.0,73.2L593.2,76.3L592.4,73.2L589.2,73.2L590.6,70.0L589.2,66.8L592.4,66.8ZM594.9,66.9L595.7,70.0L598.9,70.0L597.5,73.2L598.9,76.4L595.7,76.4L594.9,79.5L594.1,76.4L590.9,76.4L592.3,73.2L590.9,70.0L594.1,70.0ZM599.8,66.8L600.6,69.9L603.8,69.9L602.4,73.1L603.8,76.3L600.6,76.3L599.8,79.4L599.0,76.3L595.8,76.3L597.2,73.1L595.8,69.9L599.0,69.9ZM604.0,65.5L604.8,68.6L608.0,68.6L606.6,71.8L608.0,75.0L604.8,75.0L604.0,78.1L603.2,75.0L600.0,75.0L601.4,71.8L600.0,68.6L603.2,68.6ZM605.0,62.7L605.8,65.8L609.0,65.8L607.6,69.0L609.0,72.2L605.8,72.2L605.0,75.3L604.2,72.2L601.0,72.2L602.4,69.0L601.0,65.8L604.2,65.8ZM600.8,62.0L601.6,65.1L604.8,65.1L603.4,68.3L604.8,71.5L601.6,71.5L600.8,74.6L600.0,71.5L596.8,71.5L598.2,68.3L596.8,65.1L600.0,65.1ZM596.9,63.1L597.7,66.2L600.9,66.2L599.5,69.4L600.9,72.6L597.7,72.6L596.9,75.7L596.1,72.6L592.9,72.6L594.3,69.4L592.9,66.2L596.1,66.2ZM593.5,63.8L594.3,66.9L597.5,66.9L596.1,70.1L597.5,73.3L594.3,73.3L593.5,76.4L592.7,73.3L589.5,73.3L590.9,70.1L589.5,66.9L592.7,66.9ZM598.0,62.8L598.8,65.9L602.0,65.9L600.6,69.1L602.0,72.3L598.8,72.3L598.0,75.4L597.2,72.3L594.0,72.3L595.4,69.1L594.0,65.9L597.2,65.9ZM595.4,65.8L596.2,68.9L599.4,68.9L598.0,72.1L599.4,75.3L596.2,75.3L595.4,78.4L594.6,75.3L591.4,75.3L592.8,72.1L591.4,68.9L594.6,68.9ZM598.8,65.3L599.6,68.4L602.8,68.4L601.4,71.6L602.8,74.8L599.6,74.8L598.8,77.9L598.0,74.8L594.8,74.8L596.2,71.6L594.8,68.4L598.0,68.4ZM603.3,64.7L604.1,67.8L607.3,67.8L605.9,71.0L607.3,74.2L604.1,74.2L603.3,77.3L602.5,74.2L599.3,74.2L600.7,71.0L599.3,67.8L602.5,67.8ZM587.7,98.6L588.5,101.7L591.7,101.7L590.3,104.9L591.7,108.1L588.5,108.1L587.7,111.2L586.9,108.1L583.7,108.1L585.1,104.9L583.7,101.7L586.9,101.7ZM588.0,102.3L588.8,105.4L592.0,105.4L590.6,108.6L592.0,111.8L588.8,111.8L588.0,114.9L587.2,111.8L584.0,111.8L585.4,108.6L584.0,105.4L587.2,105.4ZM586.8,106.8L587.6,109.9L590.8,109.9L589.4,113.1L590.8,116.3L587.6,116.3L586.8,119.4L586.0,116.3L582.8,116.3L584.2,113.1L582.8,109.9L586.0,109.9ZM584.8,110.3L585.6,113.4L588.8,113.4L587.4,116.6L588.8,119.8L585.6,119.8L584.8,122.9L584.0,119.8L580.8,119.8L582.2,116.6L580.8,113.4L584.0,113.4ZM583.1,114.2L583.9,117.3L587.1,117.3L585.7,120.5L587.1,123.7L583.9,123.7L583.1,126.8L582.3,123.7L579.1,123.7L580.5,120.5L579.1,117.3L582.3,117.3ZM580.2,116.9L581.0,120.0L584.2,120.0L582.8,123.2L584.2,126.4L581.0,126.4L580.2,129.5L579.4,126.4L576.2,126.4L577.6,123.2L576.2,120.0L579.4,120.0ZM576.4,119.1L577.2,122.2L580.4,122.2L579.0,125.4L580.4,128.6L577.2,128.6L576.4,131.7L575.6,128.6L572.4,128.6L573.8,125.4L572.4,122.2L575.6,122.2ZM572.8,121.7L573.6,124.8L576.8,124.8L575.4,128.0L576.8,131.2L573.6,131.2L572.8,134.3L572.0,131.2L568.8,131.2L570.2,128.0L568.8,124.8L572.0,124.8ZM569.7,122.8L570.5,125.9L573.7,125.9L572.3,129.1L573.7,132.3L570.5,132.3L569.7,135.4L568.9,132.3L565.7,132.3L567.1,129.1L565.7,125.9L568.9,125.9ZM565.2,124.8L566.0,127.9L569.2,127.9L567.8,131.1L569.2,134.3L566.0,134.3L565.2,137.4L564.4,134.3L561.2,134.3L562.6,131.1L561.2,127.9L564.4,127.9ZM561.6,127.2L562.4,130.3L565.6,130.3L564.2,133.5L565.6,136.7L562.4,136.7L561.6,139.8L560.8,136.7L557.6,136.7L559.0,133.5L557.6,130.3L560.8,130.3ZM558.8,129.5L559.6,132.6L562.8,132.6L561.4,135.8L562.8,139.0L559.6,139.0L558.8,142.1L558.0,139.0L554.8,139.0L556.2,135.8L554.8,132.6L558.0,132.6ZM561.3,131.9L562.1,135.0L565.3,135.0L563.9,138.2L565.3,141.4L562.1,141.4L561.3,144.5L560.5,141.4L557.3,141.4L558.7,138.2L557.3,135.0L560.5,135.0ZM565.5,133.7L566.3,136.8L569.5,136.8L568.1,140.0L569.5,143.2L566.3,143.2L565.5,146.3L564.7,143.2L561.5,143.2L562.9,140.0L561.5,136.8L564.7,136.8ZM570.3,134.3L571.1,137.4L574.3,137.4L572.9,140.6L574.3,143.8L571.1,143.8L570.3,146.9L569.5,143.8L566.3,143.8L567.7,140.6L566.3,137.4L569.5,137.4ZM574.0,134.7L574.8,137.8L578.0,137.8L576.6,141.0L578.0,144.2L574.8,144.2L574.0,147.3L573.2,144.2L570.0,144.2L571.4,141.0L570.0,137.8L573.2,137.8ZM578.4,134.2L579.2,137.3L582.4,137.3L581.0,140.5L582.4,143.7L579.2,143.7L578.4,146.8L577.6,143.7L574.4,143.7L575.8,140.5L574.4,137.3L577.6,137.3ZM582.8,134.8L583.6,137.9L586.8,137.9L585.4,141.1L586.8,144.3L583.6,144.3L582.8,147.4L582.0,144.3L578.8,144.3L580.2,141.1L578.8,137.9L582.0,137.9ZM587.0,134.6L587.8,137.7L591.0,137.7L589.6,140.9L591.0,144.1L587.8,144.1L587.0,147.2L586.2,144.1L583.0,144.1L584.4,140.9L583.0,137.7L586.2,137.7ZM590.6,133.3L591.4,136.4L594.6,136.4L593.2,139.6L594.6,142.8L591.4,142.8L590.6,145.9L589.8,142.8L586.6,142.8L588.0,139.6L586.6,136.4L589.8,136.4ZM594.3,132.3L595.1,135.4L598.3,135.4L596.9,138.6L598.3,141.8L595.1,141.8L594.3,144.9L593.5,141.8L590.3,141.8L591.7,138.6L590.3,135.4L593.5,135.4ZM598.1,130.2L598.9,133.3L602.1,133.3L600.7,136.5L602.1,139.7L598.9,139.7L598.1,142.8L597.3,139.7L594.1,139.7L595.5,136.5L594.1,133.3L597.3,133.3ZM602.0,128.4L602.8,131.5L606.0,131.5L604.6,134.7L606.0,137.9L602.8,137.9L602.0,141.0L601.2,137.9L598.0,137.9L599.4,134.7L598.0,131.5L601.2,131.5ZM604.9,125.2L605.7,128.3L608.9,128.3L607.5,131.5L608.9,134.7L605.7,134.7L604.9,137.8L604.1,134.7L600.9,134.7L602.3,131.5L600.9,128.3L604.1,128.3ZM607.1,121.9L607.9,125.0L611.1,125.0L609.7,128.2L611.1,131.4L607.9,131.4L607.1,134.5L606.3,131.4L603.1,131.4L604.5,128.2L603.1,125.0L606.3,125.0ZM609.8,118.8L610.6,121.9L613.8,121.9L612.4,125.1L613.8,128.3L610.6,128.3L609.8,131.4L609.0,128.3L605.8,128.3L607.2,125.1L605.8,121.9L609.0,121.9ZM612.4,116.2L613.2,119.3L616.4,119.3L615.0,122.5L616.4,125.7L613.2,125.7L612.4,128.8L611.6,125.7L608.4,125.7L609.8,122.5L608.4,119.3L611.6,119.3ZM615.8,112.3L616.6,115.4L619.8,115.4L618.4,118.6L619.8,121.8L616.6,121.8L615.8,124.9L615.0,121.8L611.8,121.8L613.2,118.6L611.8,115.4L615.0,115.4ZM618.1,109.3L618.9,112.4L622.1,112.4L620.7,115.6L622.1,118.8L618.9,118.8L618.1,121.9L617.3,118.8L614.1,118.8L615.5,115.6L614.1,112.4L617.3,112.4ZM620.8,105.8L621.6,108.9L624.8,108.9L623.4,112.1L624.8,115.3L621.6,115.3L620.8,118.4L620.0,115.3L616.8,115.3L618.2,112.1L616.8,108.9L620.0,108.9ZM623.9,103.3L624.7,106.4L627.9,106.4L626.5,109.6L627.9,112.8L624.7,112.8L623.9,115.9L623.1,112.8L619.9,112.8L621.3,109.6L619.9,106.4L623.1,106.4ZM623.7,99.6L624.5,102.7L627.7,102.7L626.3,105.9L627.7,109.1L624.5,109.1L623.7,112.2L622.9,109.1L619.7,109.1L621.1,105.9L619.7,102.7L622.9,102.7ZM619.7,101.3L620.5,104.4L623.7,104.4L622.3,107.6L623.7,110.8L620.5,110.8L619.7,113.9L618.9,110.8L615.7,110.8L617.1,107.6L615.7,104.4L618.9,104.4ZM616.7,104.0L617.5,107.1L620.7,107.1L619.3,110.3L620.7,113.5L617.5,113.5L616.7,116.6L615.9,113.5L612.7,113.5L614.1,110.3L612.7,107.1L615.9,107.1ZM614.0,106.6L614.8,109.7L618.0,109.7L616.6,112.9L618.0,116.1L614.8,116.1L614.0,119.2L613.2,116.1L610.0,116.1L611.4,112.9L610.0,109.7L613.2,109.7ZM609.7,109.8L610.5,112.9L613.7,112.9L612.3,116.1L613.7,119.3L610.5,119.3L609.7,122.4L608.9,119.3L605.7,119.3L607.1,116.1L605.7,112.9L608.9,112.9ZM606.6,111.1L607.4,114.2L610.6,114.2L609.2,117.4L610.6,120.6L607.4,120.6L606.6,123.7L605.8,120.6L602.6,120.6L604.0,117.4L602.6,114.2L605.8,114.2ZM602.9,110.6L603.7,113.7L606.9,113.7L605.5,116.9L606.9,120.1L603.7,120.1L602.9,123.2L602.1,120.1L598.9,120.1L600.3,116.9L598.9,113.7L602.1,113.7ZM601.0,107.8L601.8,110.9L605.0,110.9L603.6,114.1L605.0,117.3L601.8,117.3L601.0,120.4L600.2,117.3L597.0,117.3L598.4,114.1L597.0,110.9L600.2,110.9ZM599.8,103.6L600.6,106.7L603.8,106.7L602.4,109.9L603.8,113.1L600.6,113.1L599.8,116.2L599.0,113.1L595.8,113.1L597.2,109.9L595.8,106.7L599.0,106.7ZM598.0,99.3L598.8,102.4L602.0,102.4L600.6,105.6L602.0,108.8L598.8,108.8L598.0,111.9L597.2,108.8L594.0,108.8L595.4,105.6L594.0,102.4L597.2,102.4ZM594.5,98.2L595.3,101.3L598.5,101.3L597.1,104.5L598.5,107.7L595.3,107.7L594.5,110.8L593.7,107.7L590.5,107.7L591.9,104.5L590.5,101.3L593.7,101.3ZM590.8,98.1L591.6,101.2L594.8,101.2L593.4,104.4L594.8,107.6L591.6,107.6L590.8,110.7L590.0,107.6L586.8,107.6L588.2,104.4L586.8,101.2L590.0,101.2ZM588.0,98.1L588.8,101.2L592.0,101.2L590.6,104.4L592.0,107.6L588.8,107.6L588.0,110.7L587.2,107.6L584.0,107.6L585.4,104.4L584.0,101.2L587.2,101.2ZM593.0,98.5L593.8,101.6L597.0,101.6L595.6,104.8L597.0,108.0L593.8,108.0L593.0,111.1L592.2,108.0L589.0,108.0L590.4,104.8L589.0,101.6L592.2,101.6ZM589.3,100.5L590.1,103.6L593.3,103.6L591.9,106.8L593.3,110.0L590.1,110.0L589.3,113.1L588.5,110.0L585.3,110.0L586.7,106.8L585.3,103.6L588.5,103.6ZM595.1,101.8L595.9,104.9L599.1,104.9L597.7,108.1L599.1,111.3L595.9,111.3L595.1,114.4L594.3,111.3L591.1,111.3L592.5,108.1L591.1,104.9L594.3,104.9ZM597.8,101.8L598.6,104.9L601.8,104.9L600.4,108.1L601.8,111.3L598.6,111.3L597.8,114.4L597.0,111.3L593.8,111.3L595.2,108.1L593.8,104.9L597.0,104.9ZM619.5,102.1L620.3,105.2L623.5,105.2L622.1,108.4L623.5,111.6L620.3,111.6L619.5,114.7L618.7,111.6L615.5,111.6L616.9,108.4L615.5,105.2L618.7,105.2ZM623.5,101.9L624.3,105.0L627.5,105.0L626.1,108.2L627.5,111.4L624.3,111.4L623.5,114.5L622.7,111.4L619.5,111.4L620.9,108.2L619.5,105.0L622.7,105.0ZM587.8,105.7L588.6,108.8L591.8,108.8L590.4,112.0L591.8,115.2L588.6,115.2L587.8,118.3L587.0,115.2L583.8,115.2L585.2,112.0L583.8,108.8L587.0,108.8ZM592.2,104.9L593.0,108.0L596.2,108.0L594.8,111.2L596.2,114.4L593.0,114.4L592.2,117.5L591.4,114.4L588.2,114.4L589.6,111.2L588.2,108.0L591.4,108.0ZM596.4,103.9L597.2,107.0L600.4,107.0L599.0,110.2L600.4,113.4L597.2,113.4L596.4,116.5L595.6,113.4L592.4,113.4L593.8,110.2L592.4,107.0L595.6,107.0ZM617.0,104.9L617.8,108.0L621.0,108.0L619.6,111.2L621.0,114.4L617.8,114.4L617.0,117.5L616.2,114.4L613.0,114.4L614.4,111.2L613.0,108.0L616.2,108.0ZM585.9,108.9L586.7,112.0L589.9,112.0L588.5,115.2L589.9,118.4L586.7,118.4L585.9,121.5L585.1,118.4L581.9,118.4L583.3,115.2L581.9,112.0L585.1,112.0ZM590.0,108.6L590.8,111.7L594.0,111.7L592.6,114.9L594.0,118.1L590.8,118.1L590.0,121.2L589.2,118.1L586.0,118.1L587.4,114.9L586.0,111.7L589.2,111.7ZM594.2,109.4L595.0,112.5L598.2,112.5L596.8,115.7L598.2,118.9L595.0,118.9L594.2,122.0L593.4,118.9L590.2,118.9L591.6,115.7L590.2,112.5L593.4,112.5ZM598.9,109.2L599.7,112.3L602.9,112.3L601.5,115.5L602.9,118.7L599.7,118.7L598.9,121.8L598.1,118.7L594.9,118.7L596.3,115.5L594.9,112.3L598.1,112.3ZM614.5,108.4L615.3,111.5L618.5,111.5L617.1,114.7L618.5,117.9L615.3,117.9L614.5,121.0L613.7,117.9L610.5,117.9L611.9,114.7L610.5,111.5L613.7,111.5ZM618.6,108.0L619.4,111.1L622.6,111.1L621.2,114.3L622.6,117.5L619.4,117.5L618.6,120.6L617.8,117.5L614.6,117.5L616.0,114.3L614.6,111.1L617.8,111.1ZM584.7,112.8L585.5,115.9L588.7,115.9L587.3,119.1L588.7,122.3L585.5,122.3L584.7,125.4L583.9,122.3L580.7,122.3L582.1,119.1L580.7,115.9L583.9,115.9ZM587.3,112.0L588.1,115.1L591.3,115.1L589.9,118.3L591.3,121.5L588.1,121.5L587.3,124.6L586.5,121.5L583.3,121.5L584.7,118.3L583.3,115.1L586.5,115.1ZM592.2,111.8L593.0,114.9L596.2,114.9L594.8,118.1L596.2,121.3L593.0,121.3L592.2,124.4L591.4,121.3L588.2,121.3L589.6,118.1L588.2,114.9L591.4,114.9ZM595.8,111.8L596.6,114.9L599.8,114.9L598.4,118.1L599.8,121.3L596.6,121.3L595.8,124.4L595.0,121.3L591.8,121.3L593.2,118.1L591.8,114.9L595.0,114.9ZM601.0,111.2L601.8,114.3L605.0,114.3L603.6,117.5L605.0,120.7L601.8,120.7L601.0,123.8L600.2,120.7L597.0,120.7L598.4,117.5L597.0,114.3L600.2,114.3ZM608.0,111.8L608.8,114.9L612.0,114.9L610.6,118.1L612.0,121.3L608.8,121.3L608.0,124.4L607.2,121.3L604.0,121.3L605.4,118.1L604.0,114.9L607.2,114.9ZM613.4,112.2L614.2,115.3L617.4,115.3L616.0,118.5L617.4,121.7L614.2,121.7L613.4,124.8L612.6,121.7L609.4,121.7L610.8,118.5L609.4,115.3L612.6,115.3ZM581.0,116.6L581.8,119.7L585.0,119.7L583.6,122.9L585.0,126.1L581.8,126.1L581.0,129.2L580.2,126.1L577.0,126.1L578.4,122.9L577.0,119.7L580.2,119.7ZM586.0,116.2L586.8,119.3L590.0,119.3L588.6,122.5L590.0,125.7L586.8,125.7L586.0,128.8L585.2,125.7L582.0,125.7L583.4,122.5L582.0,119.3L585.2,119.3ZM589.2,114.9L590.0,118.0L593.2,118.0L591.8,121.2L593.2,124.4L590.0,124.4L589.2,127.5L588.4,124.4L585.2,124.4L586.6,121.2L585.2,118.0L588.4,118.0ZM594.6,115.7L595.4,118.8L598.6,118.8L597.2,122.0L598.6,125.2L595.4,125.2L594.6,128.3L593.8,125.2L590.6,125.2L592.0,122.0L590.6,118.8L593.8,118.8ZM597.6,116.7L598.4,119.8L601.6,119.8L600.2,123.0L601.6,126.2L598.4,126.2L597.6,129.3L596.8,126.2L593.6,126.2L595.0,123.0L593.6,119.8L596.8,119.8ZM602.9,116.4L603.7,119.5L606.9,119.5L605.5,122.7L606.9,125.9L603.7,125.9L602.9,129.0L602.1,125.9L598.9,125.9L600.3,122.7L598.9,119.5L602.1,119.5ZM606.0,116.5L606.8,119.6L610.0,119.6L608.6,122.8L610.0,126.0L606.8,126.0L606.0,129.1L605.2,126.0L602.0,126.0L603.4,122.8L602.0,119.6L605.2,119.6ZM610.2,116.5L611.0,119.6L614.2,119.6L612.8,122.8L614.2,126.0L611.0,126.0L610.2,129.1L609.4,126.0L606.2,126.0L607.6,122.8L606.2,119.6L609.4,119.6ZM579.6,118.8L580.4,121.9L583.6,121.9L582.2,125.1L583.6,128.3L580.4,128.3L579.6,131.4L578.8,128.3L575.6,128.3L577.0,125.1L575.6,121.9L578.8,121.9ZM583.5,118.5L584.3,121.6L587.5,121.6L586.1,124.8L587.5,128.0L584.3,128.0L583.5,131.1L582.7,128.0L579.5,128.0L580.9,124.8L579.5,121.6L582.7,121.6ZM587.5,118.5L588.3,121.6L591.5,121.6L590.1,124.8L591.5,128.0L588.3,128.0L587.5,131.1L586.7,128.0L583.5,128.0L584.9,124.8L583.5,121.6L586.7,121.6ZM592.6,119.6L593.4,122.7L596.6,122.7L595.2,125.9L596.6,129.1L593.4,129.1L592.6,132.2L591.8,129.1L588.6,129.1L590.0,125.9L588.6,122.7L591.8,122.7ZM595.7,119.4L596.5,122.5L599.7,122.5L598.3,125.7L599.7,128.9L596.5,128.9L595.7,132.0L594.9,128.9L591.7,128.9L593.1,125.7L591.7,122.5L594.9,122.5ZM601.4,118.7L602.2,121.8L605.4,121.8L604.0,125.0L605.4,128.2L602.2,128.2L601.4,131.3L600.6,128.2L597.4,128.2L598.8,125.0L597.4,121.8L600.6,121.8ZM605.4,119.3L606.2,122.4L609.4,122.4L608.0,125.6L609.4,128.8L606.2,128.8L605.4,131.9L604.6,128.8L601.4,128.8L602.8,125.6L601.4,122.4L604.6,122.4ZM609.0,120.1L609.8,123.2L613.0,123.2L611.6,126.4L613.0,129.6L609.8,129.6L609.0,132.7L608.2,129.6L605.0,129.6L606.4,126.4L605.0,123.2L608.2,123.2ZM572.4,123.6L573.2,126.7L576.4,126.7L575.0,129.9L576.4,133.1L573.2,133.1L572.4,136.2L571.6,133.1L568.4,133.1L569.8,129.9L568.4,126.7L571.6,126.7ZM577.0,122.4L577.8,125.5L581.0,125.5L579.6,128.7L581.0,131.9L577.8,131.9L577.0,135.0L576.2,131.9L573.0,131.9L574.4,128.7L573.0,125.5L576.2,125.5ZM580.8,123.8L581.6,126.9L584.8,126.9L583.4,130.1L584.8,133.3L581.6,133.3L580.8,136.4L580.0,133.3L576.8,133.3L578.2,130.1L576.8,126.9L580.0,126.9ZM586.6,123.5L587.4,126.6L590.6,126.6L589.2,129.8L590.6,133.0L587.4,133.0L586.6,136.1L585.8,133.0L582.6,133.0L584.0,129.8L582.6,126.6L585.8,126.6ZM589.6,122.6L590.4,125.7L593.6,125.7L592.2,128.9L593.6,132.1L590.4,132.1L589.6,135.2L588.8,132.1L585.6,132.1L587.0,128.9L585.6,125.7L588.8,125.7ZM593.9,123.0L594.7,126.1L597.9,126.1L596.5,129.3L597.9,132.5L594.7,132.5L593.9,135.6L593.1,132.5L589.9,132.5L591.3,129.3L589.9,126.1L593.1,126.1ZM597.8,123.0L598.6,126.1L601.8,126.1L600.4,129.3L601.8,132.5L598.6,132.5L597.8,135.6L597.0,132.5L593.8,132.5L595.2,129.3L593.8,126.1L597.0,126.1ZM602.2,124.0L603.0,127.1L606.2,127.1L604.8,130.3L606.2,133.5L603.0,133.5L602.2,136.6L601.4,133.5L598.2,133.5L599.6,130.3L598.2,127.1L601.4,127.1ZM566.1,126.6L566.9,129.7L570.1,129.7L568.7,132.9L570.1,136.1L566.9,136.1L566.1,139.2L565.3,136.1L562.1,136.1L563.5,132.9L562.1,129.7L565.3,129.7ZM570.2,125.8L571.0,128.9L574.2,128.9L572.8,132.1L574.2,135.3L571.0,135.3L570.2,138.4L569.4,135.3L566.2,135.3L567.6,132.1L566.2,128.9L569.4,128.9ZM575.0,126.2L575.8,129.3L579.0,129.3L577.6,132.5L579.0,135.7L575.8,135.7L575.0,138.8L574.2,135.7L571.0,135.7L572.4,132.5L571.0,129.3L574.2,129.3ZM579.7,126.8L580.5,129.9L583.7,129.9L582.3,133.1L583.7,136.3L580.5,136.3L579.7,139.4L578.9,136.3L575.7,136.3L577.1,133.1L575.7,129.9L578.9,129.9ZM584.3,127.1L585.1,130.2L588.3,130.2L586.9,133.4L588.3,136.6L585.1,136.6L584.3,139.7L583.5,136.6L580.3,136.6L581.7,133.4L580.3,130.2L583.5,130.2ZM588.4,127.5L589.2,130.6L592.4,130.6L591.0,133.8L592.4,137.0L589.2,137.0L588.4,140.1L587.6,137.0L584.4,137.0L585.8,133.8L584.4,130.6L587.6,130.6ZM591.9,126.4L592.7,129.5L595.9,129.5L594.5,132.7L595.9,135.9L592.7,135.9L591.9,139.0L591.1,135.9L587.9,135.9L589.3,132.7L587.9,129.5L591.1,129.5ZM597.3,126.1L598.1,129.2L601.3,129.2L599.9,132.4L601.3,135.6L598.1,135.6L597.3,138.7L596.5,135.6L593.3,135.6L594.7,132.4L593.3,129.2L596.5,129.2ZM601.0,127.1L601.8,130.2L605.0,130.2L603.6,133.4L605.0,136.6L601.8,136.6L601.0,139.7L600.2,136.6L597.0,136.6L598.4,133.4L597.0,130.2L600.2,130.2ZM561.3,131.1L562.1,134.2L565.3,134.2L563.9,137.4L565.3,140.6L562.1,140.6L561.3,143.7L560.5,140.6L557.3,140.6L558.7,137.4L557.3,134.2L560.5,134.2ZM565.0,131.2L565.8,134.3L569.0,134.3L567.6,137.5L569.0,140.7L565.8,140.7L565.0,143.8L564.2,140.7L561.0,140.7L562.4,137.5L561.0,134.3L564.2,134.3ZM569.4,130.8L570.2,133.9L573.4,133.9L572.0,137.1L573.4,140.3L570.2,140.3L569.4,143.4L568.6,140.3L565.4,140.3L566.8,137.1L565.4,133.9L568.6,133.9ZM572.7,129.5L573.5,132.6L576.7,132.6L575.3,135.8L576.7,139.0L573.5,139.0L572.7,142.1L571.9,139.0L568.7,139.0L570.1,135.8L568.7,132.6L571.9,132.6ZM576.7,130.1L577.5,133.2L580.7,133.2L579.3,136.4L580.7,139.6L577.5,139.6L576.7,142.7L575.9,139.6L572.7,139.6L574.1,136.4L572.7,133.2L575.9,133.2ZM580.9,131.1L581.7,134.2L584.9,134.2L583.5,137.4L584.9,140.6L581.7,140.6L580.9,143.7L580.1,140.6L576.9,140.6L578.3,137.4L576.9,134.2L580.1,134.2ZM586.0,130.7L586.8,133.8L590.0,133.8L588.6,137.0L590.0,140.2L586.8,140.2L586.0,143.3L585.2,140.2L582.0,140.2L583.4,137.0L582.0,133.8L585.2,133.8ZM590.3,130.8L591.1,133.9L594.3,133.9L592.9,137.1L594.3,140.3L591.1,140.3L590.3,143.4L589.5,140.3L586.3,140.3L587.7,137.1L586.3,133.9L589.5,133.9ZM594.2,129.4L595.0,132.5L598.2,132.5L596.8,135.7L598.2,138.9L595.0,138.9L594.2,142.0L593.4,138.9L590.2,138.9L591.6,135.7L590.2,132.5L593.4,132.5ZM571.4,133.2L572.2,136.3L575.4,136.3L574.0,139.5L575.4,142.7L572.2,142.7L571.4,145.8L570.6,142.7L567.4,142.7L568.8,139.5L567.4,136.3L570.6,136.3ZM574.7,133.6L575.5,136.7L578.7,136.7L577.3,139.9L578.7,143.1L575.5,143.1L574.7,146.2L573.9,143.1L570.7,143.1L572.1,139.9L570.7,136.7L573.9,136.7ZM580.1,133.7L580.9,136.8L584.1,136.8L582.7,140.0L584.1,143.2L580.9,143.2L580.1,146.3L579.3,143.2L576.1,143.2L577.5,140.0L576.1,136.8L579.3,136.8ZM583.9,133.1L584.7,136.2L587.9,136.2L586.5,139.4L587.9,142.6L584.7,142.6L583.9,145.7L583.1,142.6L579.9,142.6L581.3,139.4L579.9,136.2L583.1,136.2ZM587.1,133.6L587.9,136.7L591.1,136.7L589.7,139.9L591.1,143.1L587.9,143.1L587.1,146.2L586.3,143.1L583.1,143.1L584.5,139.9L583.1,136.7L586.3,136.7ZM588.5,146.7L589.3,149.8L592.5,149.8L591.1,153.0L592.5,156.2L589.3,156.2L588.5,159.3L587.7,156.2L584.5,156.2L585.9,153.0L584.5,149.8L587.7,149.8ZM544.4,141.4L545.2,144.5L548.4,144.5L547.0,147.7L548.4,150.9L545.2,150.9L544.4,154.0L543.6,150.9L540.4,150.9L541.8,147.7L540.4,144.5L543.6,144.5ZM546.6,143.9L547.4,147.0L550.6,147.0L549.2,150.2L550.6,153.4L547.4,153.4L546.6,156.5L545.8,153.4L542.6,153.4L544.0,150.2L542.6,147.0L545.8,147.0ZM549.1,145.1L549.9,148.2L553.1,148.2L551.7,151.4L553.1,154.6L549.9,154.6L549.1,157.7L548.3,154.6L545.1,154.6L546.5,151.4L545.1,148.2L548.3,148.2ZM551.6,146.7L552.4,149.8L555.6,149.8L554.2,153.0L555.6,156.2L552.4,156.2L551.6,159.3L550.8,156.2L547.6,156.2L549.0,153.0L547.6,149.8L550.8,149.8ZM555.0,147.9L555.8,151.0L559.0,151.0L557.6,154.2L559.0,157.4L555.8,157.4L555.0,160.5L554.2,157.4L551.0,157.4L552.4,154.2L551.0,151.0L554.2,151.0ZM557.4,150.0L558.2,153.1L561.4,153.1L560.0,156.3L561.4,159.5L558.2,159.5L557.4,162.6L556.6,159.5L553.4,159.5L554.8,156.3L553.4,153.1L556.6,153.1ZM559.9,151.9L560.7,155.0L563.9,155.0L562.5,158.2L563.9,161.4L560.7,161.4L559.9,164.5L559.1,161.4L555.9,161.4L557.3,158.2L555.9,155.0L559.1,155.0ZM561.7,153.8L562.5,156.9L565.7,156.9L564.3,160.1L565.7,163.3L562.5,163.3L561.7,166.4L560.9,163.3L557.7,163.3L559.1,160.1L557.7,156.9L560.9,156.9ZM564.5,154.4L565.3,157.5L568.5,157.5L567.1,160.7L568.5,163.9L565.3,163.9L564.5,167.0L563.7,163.9L560.5,163.9L561.9,160.7L560.5,157.5L563.7,157.5ZM566.4,156.7L567.2,159.8L570.4,159.8L569.0,163.0L570.4,166.2L567.2,166.2L566.4,169.3L565.6,166.2L562.4,166.2L563.8,163.0L562.4,159.8L565.6,159.8ZM566.9,156.5L567.7,159.6L570.9,159.6L569.5,162.8L570.9,166.0L567.7,166.0L566.9,169.1L566.1,166.0L562.9,166.0L564.3,162.8L562.9,159.6L566.1,159.6ZM589.3,148.2L590.1,151.3L593.3,151.3L591.9,154.5L593.3,157.7L590.1,157.7L589.3,160.8L588.5,157.7L585.3,157.7L586.7,154.5L585.3,151.3L588.5,151.3ZM439.1,159.9L439.9,163.0L443.1,163.0L441.7,166.2L443.1,169.4L439.9,169.4L439.1,172.5L438.3,169.4L435.1,169.4L436.5,166.2L435.1,163.0L438.3,163.0ZM439.3,164.6L440.1,167.7L443.3,167.7L441.9,170.9L443.3,174.1L440.1,174.1L439.3,177.2L438.5,174.1L435.3,174.1L436.7,170.9L435.3,167.7L438.5,167.7ZM439.7,168.6L440.5,171.7L443.7,171.7L442.3,174.9L443.7,178.1L440.5,178.1L439.7,181.2L438.9,178.1L435.7,178.1L437.1,174.9L435.7,171.7L438.9,171.7ZM444.4,169.0L445.2,172.1L448.4,172.1L447.0,175.3L448.4,178.5L445.2,178.5L444.4,181.6L443.6,178.5L440.4,178.5L441.8,175.3L440.4,172.1L443.6,172.1ZM448.7,169.6L449.5,172.7L452.7,172.7L451.3,175.9L452.7,179.1L449.5,179.1L448.7,182.2L447.9,179.1L444.7,179.1L446.1,175.9L444.7,172.7L447.9,172.7ZM452.8,168.8L453.6,171.9L456.8,171.9L455.4,175.1L456.8,178.3L453.6,178.3L452.8,181.4L452.0,178.3L448.8,178.3L450.2,175.1L448.8,171.9L452.0,171.9ZM456.3,167.8L457.1,170.9L460.3,170.9L458.9,174.1L460.3,177.3L457.1,177.3L456.3,180.4L455.5,177.3L452.3,177.3L453.7,174.1L452.3,170.9L455.5,170.9ZM454.2,166.3L455.0,169.4L458.2,169.4L456.8,172.6L458.2,175.8L455.0,175.8L454.2,178.9L453.4,175.8L450.2,175.8L451.6,172.6L450.2,169.4L453.4,169.4ZM449.9,164.2L450.7,167.3L453.9,167.3L452.5,170.5L453.9,173.7L450.7,173.7L449.9,176.8L449.1,173.7L445.9,173.7L447.3,170.5L445.9,167.3L449.1,167.3ZM446.1,161.8L446.9,164.9L450.1,164.9L448.7,168.1L450.1,171.3L446.9,171.3L446.1,174.4L445.3,171.3L442.1,171.3L443.5,168.1L442.1,164.9L445.3,164.9ZM442.1,160.9L442.9,164.0L446.1,164.0L444.7,167.2L446.1,170.4L442.9,170.4L442.1,173.5L441.3,170.4L438.1,170.4L439.5,167.2L438.1,164.0L441.3,164.0ZM439.3,160.5L440.1,163.6L443.3,163.6L441.9,166.8L443.3,170.0L440.1,170.0L439.3,173.1L438.5,170.0L435.3,170.0L436.7,166.8L435.3,163.6L438.5,163.6ZM442.5,163.6L443.3,166.7L446.5,166.7L445.1,169.9L446.5,173.1L443.3,173.1L442.5,176.2L441.7,173.1L438.5,173.1L439.9,169.9L438.5,166.7L441.7,166.7ZM446.2,162.6L447.0,165.7L450.2,165.7L448.8,168.9L450.2,172.1L447.0,172.1L446.2,175.2L445.4,172.1L442.2,172.1L443.6,168.9L442.2,165.7L445.4,165.7ZM444.6,166.4L445.4,169.5L448.6,169.5L447.2,172.7L448.6,175.9L445.4,175.9L444.6,179.0L443.8,175.9L440.6,175.9L442.0,172.7L440.6,169.5L443.8,169.5ZM447.8,166.8L448.6,169.9L451.8,169.9L450.4,173.1L451.8,176.3L448.6,176.3L447.8,179.4L447.0,176.3L443.8,176.3L445.2,173.1L443.8,169.9L447.0,169.9ZM451.7,167.6L452.5,170.7L455.7,170.7L454.3,173.9L455.7,177.1L452.5,177.1L451.7,180.2L450.9,177.1L447.7,177.1L449.1,173.9L447.7,170.7L450.9,170.7ZM516.4,182.6L517.2,185.7L520.4,185.7L519.0,188.9L520.4,192.1L517.2,192.1L516.4,195.2L515.6,192.1L512.4,192.1L513.8,188.9L512.4,185.7L515.6,185.7ZM515.8,186.8L516.6,189.9L519.8,189.9L518.4,193.1L519.8,196.3L516.6,196.3L515.8,199.4L515.0,196.3L511.8,196.3L513.2,193.1L511.8,189.9L515.0,189.9ZM517.3,190.3L518.1,193.4L521.3,193.4L519.9,196.6L521.3,199.8L518.1,199.8L517.3,202.9L516.5,199.8L513.3,199.8L514.7,196.6L513.3,193.4L516.5,193.4ZM519.3,194.7L520.1,197.8L523.3,197.8L521.9,201.0L523.3,204.2L520.1,204.2L519.3,207.3L518.5,204.2L515.3,204.2L516.7,201.0L515.3,197.8L518.5,197.8ZM521.5,197.8L522.3,200.9L525.5,200.9L524.1,204.1L525.5,207.3L522.3,207.3L521.5,210.4L520.7,207.3L517.5,207.3L518.9,204.1L517.5,200.9L520.7,200.9ZM523.7,202.4L524.5,205.5L527.7,205.5L526.3,208.7L527.7,211.9L524.5,211.9L523.7,215.0L522.9,211.9L519.7,211.9L521.1,208.7L519.7,205.5L522.9,205.5ZM524.2,205.6L525.0,208.7L528.2,208.7L526.8,211.9L528.2,215.1L525.0,215.1L524.2,218.2L523.4,215.1L520.2,215.1L521.6,211.9L520.2,208.7L523.4,208.7ZM525.0,209.6L525.8,212.7L529.0,212.7L527.6,215.9L529.0,219.1L525.8,219.1L525.0,222.2L524.2,219.1L521.0,219.1L522.4,215.9L521.0,212.7L524.2,212.7ZM525.9,213.8L526.7,216.9L529.9,216.9L528.5,220.1L529.9,223.3L526.7,223.3L525.9,226.4L525.1,223.3L521.9,223.3L523.3,220.1L521.9,216.9L525.1,216.9ZM527.8,216.5L528.6,219.6L531.8,219.6L530.4,222.8L531.8,226.0L528.6,226.0L527.8,229.1L527.0,226.0L523.8,226.0L525.2,222.8L523.8,219.6L527.0,219.6ZM532.4,217.1L533.2,220.2L536.4,220.2L535.0,223.4L536.4,226.6L533.2,226.6L532.4,229.7L531.6,226.6L528.4,226.6L529.8,223.4L528.4,220.2L531.6,220.2ZM536.8,216.6L537.6,219.7L540.8,219.7L539.4,222.9L540.8,226.1L537.6,226.1L536.8,229.2L536.0,226.1L532.8,226.1L534.2,222.9L532.8,219.7L536.0,219.7ZM537.7,215.8L538.5,218.9L541.7,218.9L540.3,222.1L541.7,225.3L538.5,225.3L537.7,228.4L536.9,225.3L533.7,225.3L535.1,222.1L533.7,218.9L536.9,218.9ZM534.3,213.0L535.1,216.1L538.3,216.1L536.9,219.3L538.3,222.5L535.1,222.5L534.3,225.6L533.5,222.5L530.3,222.5L531.7,219.3L530.3,216.1L533.5,216.1ZM532.2,209.2L533.0,212.3L536.2,212.3L534.8,215.5L536.2,218.7L533.0,218.7L532.2,221.8L531.4,218.7L528.2,218.7L529.6,215.5L528.2,212.3L531.4,212.3ZM531.5,205.1L532.3,208.2L535.5,208.2L534.1,211.4L535.5,214.6L532.3,214.6L531.5,217.7L530.7,214.6L527.5,214.6L528.9,211.4L527.5,208.2L530.7,208.2ZM530.1,201.6L530.9,204.7L534.1,204.7L532.7,207.9L534.1,211.1L530.9,211.1L530.1,214.2L529.3,211.1L526.1,211.1L527.5,207.9L526.1,204.7L529.3,204.7ZM531.9,197.3L532.7,200.4L535.9,200.4L534.5,203.6L535.9,206.8L532.7,206.8L531.9,209.9L531.1,206.8L527.9,206.8L529.3,203.6L527.9,200.4L531.1,200.4ZM534.4,194.5L535.2,197.6L538.4,197.6L537.0,200.8L538.4,204.0L535.2,204.0L534.4,207.1L533.6,204.0L530.4,204.0L531.8,200.8L530.4,197.6L533.6,197.6ZM538.1,192.7L538.9,195.8L542.1,195.8L540.7,199.0L542.1,202.2L538.9,202.2L538.1,205.3L537.3,202.2L534.1,202.2L535.5,199.0L534.1,195.8L537.3,195.8ZM542.5,194.5L543.3,197.6L546.5,197.6L545.1,200.8L546.5,204.0L543.3,204.0L542.5,207.1L541.7,204.0L538.5,204.0L539.9,200.8L538.5,197.6L541.7,197.6ZM546.4,195.2L547.2,198.3L550.4,198.3L549.0,201.5L550.4,204.7L547.2,204.7L546.4,207.8L545.6,204.7L542.4,204.7L543.8,201.5L542.4,198.3L545.6,198.3ZM548.6,194.6L549.4,197.7L552.6,197.7L551.2,200.9L552.6,204.1L549.4,204.1L548.6,207.2L547.8,204.1L544.6,204.1L546.0,200.9L544.6,197.7L547.8,197.7ZM549.5,190.2L550.3,193.3L553.5,193.3L552.1,196.5L553.5,199.7L550.3,199.7L549.5,202.8L548.7,199.7L545.5,199.7L546.9,196.5L545.5,193.3L548.7,193.3ZM549.5,185.6L550.3,188.7L553.5,188.7L552.1,191.9L553.5,195.1L550.3,195.1L549.5,198.2L548.7,195.1L545.5,195.1L546.9,191.9L545.5,188.7L548.7,188.7ZM550.0,182.3L550.8,185.4L554.0,185.4L552.6,188.6L554.0,191.8L550.8,191.8L550.0,194.9L549.2,191.8L546.0,191.8L547.4,188.6L546.0,185.4L549.2,185.4ZM551.2,178.1L552.0,181.2L555.2,181.2L553.8,184.4L555.2,187.6L552.0,187.6L551.2,190.7L550.4,187.6L547.2,187.6L548.6,184.4L547.2,181.2L550.4,181.2ZM554.2,174.8L555.0,177.9L558.2,177.9L556.8,181.1L558.2,184.3L555.0,184.3L554.2,187.4L553.4,184.3L550.2,184.3L551.6,181.1L550.2,177.9L553.4,177.9ZM557.5,174.1L558.3,177.2L561.5,177.2L560.1,180.4L561.5,183.6L558.3,183.6L557.5,186.7L556.7,183.6L553.5,183.6L554.9,180.4L553.5,177.2L556.7,177.2ZM562.1,174.1L562.9,177.2L566.1,177.2L564.7,180.4L566.1,183.6L562.9,183.6L562.1,186.7L561.3,183.6L558.1,183.6L559.5,180.4L558.1,177.2L561.3,177.2ZM566.6,173.5L567.4,176.6L570.6,176.6L569.2,179.8L570.6,183.0L567.4,183.0L566.6,186.1L565.8,183.0L562.6,183.0L564.0,179.8L562.6,176.6L565.8,176.6ZM570.4,172.4L571.2,175.5L574.4,175.5L573.0,178.7L574.4,181.9L571.2,181.9L570.4,185.0L569.6,181.9L566.4,181.9L567.8,178.7L566.4,175.5L569.6,175.5ZM567.3,171.6L568.1,174.7L571.3,174.7L569.9,177.9L571.3,181.1L568.1,181.1L567.3,184.2L566.5,181.1L563.3,181.1L564.7,177.9L563.3,174.7L566.5,174.7ZM562.7,171.5L563.5,174.6L566.7,174.6L565.3,177.8L566.7,181.0L563.5,181.0L562.7,184.1L561.9,181.0L558.7,181.0L560.1,177.8L558.7,174.6L561.9,174.6ZM558.7,171.4L559.5,174.5L562.7,174.5L561.3,177.7L562.7,180.9L559.5,180.9L558.7,184.0L557.9,180.9L554.7,180.9L556.1,177.7L554.7,174.5L557.9,174.5ZM554.9,170.5L555.7,173.6L558.9,173.6L557.5,176.8L558.9,180.0L555.7,180.0L554.9,183.1L554.1,180.0L550.9,180.0L552.3,176.8L550.9,173.6L554.1,173.6ZM550.2,170.5L551.0,173.6L554.2,173.6L552.8,176.8L554.2,180.0L551.0,180.0L550.2,183.1L549.4,180.0L546.2,180.0L547.6,176.8L546.2,173.6L549.4,173.6ZM546.9,172.6L547.7,175.7L550.9,175.7L549.5,178.9L550.9,182.1L547.7,182.1L546.9,185.2L546.1,182.1L542.9,182.1L544.3,178.9L542.9,175.7L546.1,175.7ZM542.4,173.3L543.2,176.4L546.4,176.4L545.0,179.6L546.4,182.8L543.2,182.8L542.4,185.9L541.6,182.8L538.4,182.8L539.8,179.6L538.4,176.4L541.6,176.4ZM538.7,174.9L539.5,178.0L542.7,178.0L541.3,181.2L542.7,184.4L539.5,184.4L538.7,187.5L537.9,184.4L534.7,184.4L536.1,181.2L534.7,178.0L537.9,178.0ZM534.6,175.7L535.4,178.8L538.6,178.8L537.2,182.0L538.6,185.2L535.4,185.2L534.6,188.3L533.8,185.2L530.6,185.2L532.0,182.0L530.6,178.8L533.8,178.8ZM530.7,176.7L531.5,179.8L534.7,179.8L533.3,183.0L534.7,186.2L531.5,186.2L530.7,189.3L529.9,186.2L526.7,186.2L528.1,183.0L526.7,179.8L529.9,179.8ZM526.4,178.2L527.2,181.3L530.4,181.3L529.0,184.5L530.4,187.7L527.2,187.7L526.4,190.8L525.6,187.7L522.4,187.7L523.8,184.5L522.4,181.3L525.6,181.3ZM523.1,179.8L523.9,182.9L527.1,182.9L525.7,186.1L527.1,189.3L523.9,189.3L523.1,192.4L522.3,189.3L519.1,189.3L520.5,186.1L519.1,182.9L522.3,182.9ZM519.1,181.2L519.9,184.3L523.1,184.3L521.7,187.5L523.1,190.7L519.9,190.7L519.1,193.8L518.3,190.7L515.1,190.7L516.5,187.5L515.1,184.3L518.3,184.3ZM515.9,182.5L516.7,185.6L519.9,185.6L518.5,188.8L519.9,192.0L516.7,192.0L515.9,195.1L515.1,192.0L511.9,192.0L513.3,188.8L511.9,185.6L515.1,185.6ZM548.0,174.9L548.8,178.0L552.0,178.0L550.6,181.2L552.0,184.4L548.8,184.4L548.0,187.5L547.2,184.4L544.0,184.4L545.4,181.2L544.0,178.0L547.2,178.0ZM551.9,175.1L552.7,178.2L555.9,178.2L554.5,181.4L555.9,184.6L552.7,184.6L551.9,187.7L551.1,184.6L547.9,184.6L549.3,181.4L547.9,178.2L551.1,178.2ZM556.5,173.7L557.3,176.8L560.5,176.8L559.1,180.0L560.5,183.2L557.3,183.2L556.5,186.3L555.7,183.2L552.5,183.2L553.9,180.0L552.5,176.8L555.7,176.8ZM564.5,173.2L565.3,176.3L568.5,176.3L567.1,179.5L568.5,182.7L565.3,182.7L564.5,185.8L563.7,182.7L560.5,182.7L561.9,179.5L560.5,176.3L563.7,176.3ZM533.4,177.2L534.2,180.3L537.4,180.3L536.0,183.5L537.4,186.7L534.2,186.7L533.4,189.8L532.6,186.7L529.4,186.7L530.8,183.5L529.4,180.3L532.6,180.3ZM536.4,178.4L537.2,181.5L540.4,181.5L539.0,184.7L540.4,187.9L537.2,187.9L536.4,191.0L535.6,187.9L532.4,187.9L533.8,184.7L532.4,181.5L535.6,181.5ZM541.5,177.6L542.3,180.7L545.5,180.7L544.1,183.9L545.5,187.1L542.3,187.1L541.5,190.2L540.7,187.1L537.5,187.1L538.9,183.9L537.5,180.7L540.7,180.7ZM544.2,177.7L545.0,180.8L548.2,180.8L546.8,184.0L548.2,187.2L545.0,187.2L544.2,190.3L543.4,187.2L540.2,187.2L541.6,184.0L540.2,180.8L543.4,180.8ZM549.0,178.6L549.8,181.7L553.0,181.7L551.6,184.9L553.0,188.1L549.8,188.1L549.0,191.2L548.2,188.1L545.0,188.1L546.4,184.9L545.0,181.7L548.2,181.7ZM522.5,182.2L523.3,185.3L526.5,185.3L525.1,188.5L526.5,191.7L523.3,191.7L522.5,194.8L521.7,191.7L518.5,191.7L519.9,188.5L518.5,185.3L521.7,185.3ZM525.9,180.9L526.7,184.0L529.9,184.0L528.5,187.2L529.9,190.4L526.7,190.4L525.9,193.5L525.1,190.4L521.9,190.4L523.3,187.2L521.9,184.0L525.1,184.0ZM531.3,181.6L532.1,184.7L535.3,184.7L533.9,187.9L535.3,191.1L532.1,191.1L531.3,194.2L530.5,191.1L527.3,191.1L528.7,187.9L527.3,184.7L530.5,184.7ZM534.1,181.8L534.9,184.9L538.1,184.9L536.7,188.1L538.1,191.3L534.9,191.3L534.1,194.4L533.3,191.3L530.1,191.3L531.5,188.1L530.1,184.9L533.3,184.9ZM538.4,180.9L539.2,184.0L542.4,184.0L541.0,187.2L542.4,190.4L539.2,190.4L538.4,193.5L537.6,190.4L534.4,190.4L535.8,187.2L534.4,184.0L537.6,184.0ZM542.0,181.9L542.8,185.0L546.0,185.0L544.6,188.2L546.0,191.4L542.8,191.4L542.0,194.5L541.2,191.4L538.0,191.4L539.4,188.2L538.0,185.0L541.2,185.0ZM548.0,181.7L548.8,184.8L552.0,184.8L550.6,188.0L552.0,191.2L548.8,191.2L548.0,194.3L547.2,191.2L544.0,191.2L545.4,188.0L544.0,184.8L547.2,184.8ZM516.6,184.4L517.4,187.5L520.6,187.5L519.2,190.7L520.6,193.9L517.4,193.9L516.6,197.0L515.8,193.9L512.6,193.9L514.0,190.7L512.6,187.5L515.8,187.5ZM520.5,185.5L521.3,188.6L524.5,188.6L523.1,191.8L524.5,195.0L521.3,195.0L520.5,198.1L519.7,195.0L516.5,195.0L517.9,191.8L516.5,188.6L519.7,188.6ZM524.7,185.6L525.5,188.7L528.7,188.7L527.3,191.9L528.7,195.1L525.5,195.1L524.7,198.2L523.9,195.1L520.7,195.1L522.1,191.9L520.7,188.7L523.9,188.7ZM528.5,184.7L529.3,187.8L532.5,187.8L531.1,191.0L532.5,194.2L529.3,194.2L528.5,197.3L527.7,194.2L524.5,194.2L525.9,191.0L524.5,187.8L527.7,187.8ZM532.1,184.8L532.9,187.9L536.1,187.9L534.7,191.1L536.1,194.3L532.9,194.3L532.1,197.4L531.3,194.3L528.1,194.3L529.5,191.1L528.1,187.9L531.3,187.9ZM537.3,184.2L538.1,187.3L541.3,187.3L539.9,190.5L541.3,193.7L538.1,193.7L537.3,196.8L536.5,193.7L533.3,193.7L534.7,190.5L533.3,187.3L536.5,187.3ZM540.3,185.6L541.1,188.7L544.3,188.7L542.9,191.9L544.3,195.1L541.1,195.1L540.3,198.2L539.5,195.1L536.3,195.1L537.7,191.9L536.3,188.7L539.5,188.7ZM544.6,184.2L545.4,187.3L548.6,187.3L547.2,190.5L548.6,193.7L545.4,193.7L544.6,196.8L543.8,193.7L540.6,193.7L542.0,190.5L540.6,187.3L543.8,187.3ZM548.4,185.2L549.2,188.3L552.4,188.3L551.0,191.5L552.4,194.7L549.2,194.7L548.4,197.8L547.6,194.7L544.4,194.7L545.8,191.5L544.4,188.3L547.6,188.3ZM517.3,188.5L518.1,191.6L521.3,191.6L519.9,194.8L521.3,198.0L518.1,198.0L517.3,201.1L516.5,198.0L513.3,198.0L514.7,194.8L513.3,191.6L516.5,191.6ZM522.2,189.1L523.0,192.2L526.2,192.2L524.8,195.4L526.2,198.6L523.0,198.6L522.2,201.7L521.4,198.6L518.2,198.6L519.6,195.4L518.2,192.2L521.4,192.2ZM526.7,189.4L527.5,192.5L530.7,192.5L529.3,195.7L530.7,198.9L527.5,198.9L526.7,202.0L525.9,198.9L522.7,198.9L524.1,195.7L522.7,192.5L525.9,192.5ZM530.7,187.9L531.5,191.0L534.7,191.0L533.3,194.2L534.7,197.4L531.5,197.4L530.7,200.5L529.9,197.4L526.7,197.4L528.1,194.2L526.7,191.0L529.9,191.0ZM535.3,188.3L536.1,191.4L539.3,191.4L537.9,194.6L539.3,197.8L536.1,197.8L535.3,200.9L534.5,197.8L531.3,197.8L532.7,194.6L531.3,191.4L534.5,191.4ZM538.9,188.5L539.7,191.6L542.9,191.6L541.5,194.8L542.9,198.0L539.7,198.0L538.9,201.1L538.1,198.0L534.9,198.0L536.3,194.8L534.9,191.6L538.1,191.6ZM543.5,188.1L544.3,191.2L547.5,191.2L546.1,194.4L547.5,197.6L544.3,197.6L543.5,200.7L542.7,197.6L539.5,197.6L540.9,194.4L539.5,191.2L542.7,191.2ZM546.7,188.2L547.5,191.3L550.7,191.3L549.3,194.5L550.7,197.7L547.5,197.7L546.7,200.8L545.9,197.7L542.7,197.7L544.1,194.5L542.7,191.3L545.9,191.3ZM519.9,193.0L520.7,196.1L523.9,196.1L522.5,199.3L523.9,202.5L520.7,202.5L519.9,205.6L519.1,202.5L515.9,202.5L517.3,199.3L515.9,196.1L519.1,196.1ZM524.8,193.2L525.6,196.3L528.8,196.3L527.4,199.5L528.8,202.7L525.6,202.7L524.8,205.8L524.0,202.7L520.8,202.7L522.2,199.5L520.8,196.3L524.0,196.3ZM527.4,191.9L528.2,195.0L531.4,195.0L530.0,198.2L531.4,201.4L528.2,201.4L527.4,204.5L526.6,201.4L523.4,201.4L524.8,198.2L523.4,195.0L526.6,195.0ZM531.7,191.7L532.5,194.8L535.7,194.8L534.3,198.0L535.7,201.2L532.5,201.2L531.7,204.3L530.9,201.2L527.7,201.2L529.1,198.0L527.7,194.8L530.9,194.8ZM537.6,192.5L538.4,195.6L541.6,195.6L540.2,198.8L541.6,202.0L538.4,202.0L537.6,205.1L536.8,202.0L533.6,202.0L535.0,198.8L533.6,195.6L536.8,195.6ZM541.8,192.1L542.6,195.2L545.8,195.2L544.4,198.4L545.8,201.6L542.6,201.6L541.8,204.7L541.0,201.6L537.8,201.6L539.2,198.4L537.8,195.2L541.0,195.2ZM545.8,192.3L546.6,195.4L549.8,195.4L548.4,198.6L549.8,201.8L546.6,201.8L545.8,204.9L545.0,201.8L541.8,201.8L543.2,198.6L541.8,195.4L545.0,195.4ZM548.8,192.9L549.6,196.0L552.8,196.0L551.4,199.2L552.8,202.4L549.6,202.4L548.8,205.5L548.0,202.4L544.8,202.4L546.2,199.2L544.8,196.0L548.0,196.0ZM521.0,195.7L521.8,198.8L525.0,198.8L523.6,202.0L525.0,205.2L521.8,205.2L521.0,208.3L520.2,205.2L517.0,205.2L518.4,202.0L517.0,198.8L520.2,198.8ZM526.6,195.4L527.4,198.5L530.6,198.5L529.2,201.7L530.6,204.9L527.4,204.9L526.6,208.0L525.8,204.9L522.6,204.9L524.0,201.7L522.6,198.5L525.8,198.5ZM530.0,195.4L530.8,198.5L534.0,198.5L532.6,201.7L534.0,204.9L530.8,204.9L530.0,208.0L529.2,204.9L526.0,204.9L527.4,201.7L526.0,198.5L529.2,198.5ZM547.5,195.2L548.3,198.3L551.5,198.3L550.1,201.5L551.5,204.7L548.3,204.7L547.5,207.8L546.7,204.7L543.5,204.7L544.9,201.5L543.5,198.3L546.7,198.3ZM524.6,199.1L525.4,202.2L528.6,202.2L527.2,205.4L528.6,208.6L525.4,208.6L524.6,211.7L523.8,208.6L520.6,208.6L522.0,205.4L520.6,202.2L523.8,202.2ZM527.3,200.5L528.1,203.6L531.3,203.6L529.9,206.8L531.3,210.0L528.1,210.0L527.3,213.1L526.5,210.0L523.3,210.0L524.7,206.8L523.3,203.6L526.5,203.6ZM527.1,204.3L527.9,207.4L531.1,207.4L529.7,210.6L531.1,213.8L527.9,213.8L527.1,216.9L526.3,213.8L523.1,213.8L524.5,210.6L523.1,207.4L526.3,207.4ZM524.6,206.1L525.4,209.2L528.6,209.2L527.2,212.4L528.6,215.6L525.4,215.6L524.6,218.7L523.8,215.6L520.6,215.6L522.0,212.4L520.6,209.2L523.8,209.2ZM529.0,206.2L529.8,209.3L533.0,209.3L531.6,212.5L533.0,215.7L529.8,215.7L529.0,218.8L528.2,215.7L525.0,215.7L526.4,212.5L525.0,209.3L528.2,209.3ZM526.2,209.7L527.0,212.8L530.2,212.8L528.8,216.0L530.2,219.2L527.0,219.2L526.2,222.3L525.4,219.2L522.2,219.2L523.6,216.0L522.2,212.8L525.4,212.8ZM530.7,209.8L531.5,212.9L534.7,212.9L533.3,216.1L534.7,219.3L531.5,219.3L530.7,222.4L529.9,219.3L526.7,219.3L528.1,216.1L526.7,212.9L529.9,212.9ZM529.1,213.8L529.9,216.9L533.1,216.9L531.7,220.1L533.1,223.3L529.9,223.3L529.1,226.4L528.3,223.3L525.1,223.3L526.5,220.1L525.1,216.9L528.3,216.9ZM533.1,213.6L533.9,216.7L537.1,216.7L535.7,219.9L537.1,223.1L533.9,223.1L533.1,226.2L532.3,223.1L529.1,223.1L530.5,219.9L529.1,216.7L532.3,216.7ZM536.7,215.1L537.5,218.2L540.7,218.2L539.3,221.4L540.7,224.6L537.5,224.6L536.7,227.7L535.9,224.6L532.7,224.6L534.1,221.4L532.7,218.2L535.9,218.2ZM565.4,204.4L566.2,207.5L569.4,207.5L568.0,210.7L569.4,213.9L566.2,213.9L565.4,217.0L564.6,213.9L561.4,213.9L562.8,210.7L561.4,207.5L564.6,207.5ZM566.4,208.3L567.2,211.4L570.4,211.4L569.0,214.6L570.4,217.8L567.2,217.8L566.4,220.9L565.6,217.8L562.4,217.8L563.8,214.6L562.4,211.4L565.6,211.4ZM569.8,209.2L570.6,212.3L573.8,212.3L572.4,215.5L573.8,218.7L570.6,218.7L569.8,221.8L569.0,218.7L565.8,218.7L567.2,215.5L565.8,212.3L569.0,212.3ZM573.9,207.3L574.7,210.4L577.9,210.4L576.5,213.6L577.9,216.8L574.7,216.8L573.9,219.9L573.1,216.8L569.9,216.8L571.3,213.6L569.9,210.4L573.1,210.4ZM572.2,204.5L573.0,207.6L576.2,207.6L574.8,210.8L576.2,214.0L573.0,214.0L572.2,217.1L571.4,214.0L568.2,214.0L569.6,210.8L568.2,207.6L571.4,207.6ZM568.4,204.1L569.2,207.2L572.4,207.2L571.0,210.4L572.4,213.6L569.2,213.6L568.4,216.7L567.6,213.6L564.4,213.6L565.8,210.4L564.4,207.2L567.6,207.2ZM564.9,204.6L565.7,207.7L568.9,207.7L567.5,210.9L568.9,214.1L565.7,214.1L564.9,217.2L564.1,214.1L560.9,214.1L562.3,210.9L560.9,207.7L564.1,207.7ZM567.2,208.4L568.0,211.5L571.2,211.5L569.8,214.7L571.2,217.9L568.0,217.9L567.2,221.0L566.4,217.9L563.2,217.9L564.6,214.7L563.2,211.5L566.4,211.5ZM571.3,207.7L572.1,210.8L575.3,210.8L573.9,214.0L575.3,217.2L572.1,217.2L571.3,220.3L570.5,217.2L567.3,217.2L568.7,214.0L567.3,210.8L570.5,210.8ZM580.5,180.7L581.3,183.8L584.5,183.8L583.1,187.0L584.5,190.2L581.3,190.2L580.5,193.3L579.7,190.2L576.5,190.2L577.9,187.0L576.5,183.8L579.7,183.8ZM580.5,185.7L581.3,188.8L584.5,188.8L583.1,192.0L584.5,195.2L581.3,195.2L580.5,198.3L579.7,195.2L576.5,195.2L577.9,192.0L576.5,188.8L579.7,188.8ZM580.5,190.7L581.3,193.8L584.5,193.8L583.1,197.0L584.5,200.2L581.3,200.2L580.5,203.3L579.7,200.2L576.5,200.2L577.9,197.0L576.5,193.8L579.7,193.8ZM490.7,209.0L491.5,212.1L494.7,212.1L493.3,215.3L494.7,218.5L491.5,218.5L490.7,221.6L489.9,218.5L486.7,218.5L488.1,215.3L486.7,212.1L489.9,212.1ZM490.4,213.2L491.2,216.3L494.4,216.3L493.0,219.5L494.4,222.7L491.2,222.7L490.4,225.8L489.6,222.7L486.4,222.7L487.8,219.5L486.4,216.3L489.6,216.3ZM492.4,217.2L493.2,220.3L496.4,220.3L495.0,223.5L496.4,226.7L493.2,226.7L492.4,229.8L491.6,226.7L488.4,226.7L489.8,223.5L488.4,220.3L491.6,220.3ZM495.4,219.8L496.2,222.9L499.4,222.9L498.0,226.1L499.4,229.3L496.2,229.3L495.4,232.4L494.6,229.3L491.4,229.3L492.8,226.1L491.4,222.9L494.6,222.9ZM496.7,217.4L497.5,220.5L500.7,220.5L499.3,223.7L500.7,226.9L497.5,226.9L496.7,230.0L495.9,226.9L492.7,226.9L494.1,223.7L492.7,220.5L495.9,220.5ZM494.7,213.9L495.5,217.0L498.7,217.0L497.3,220.2L498.7,223.4L495.5,223.4L494.7,226.5L493.9,223.4L490.7,223.4L492.1,220.2L490.7,217.0L493.9,217.0ZM491.6,210.8L492.4,213.9L495.6,213.9L494.2,217.1L495.6,220.3L492.4,220.3L491.6,223.4L490.8,220.3L487.6,220.3L489.0,217.1L487.6,213.9L490.8,213.9ZM490.4,209.3L491.2,212.4L494.4,212.4L493.0,215.6L494.4,218.8L491.2,218.8L490.4,221.9L489.6,218.8L486.4,218.8L487.8,215.6L486.4,212.4L489.6,212.4ZM492.8,213.1L493.6,216.2L496.8,216.2L495.4,219.4L496.8,222.6L493.6,222.6L492.8,225.7L492.0,222.6L488.8,222.6L490.2,219.4L488.8,216.2L492.0,216.2ZM493.9,217.1L494.7,220.2L497.9,220.2L496.5,223.4L497.9,226.6L494.7,226.6L493.9,229.7L493.1,226.6L489.9,226.6L491.3,223.4L489.9,220.2L493.1,220.2Z" fill="none" stroke="#ff0000" stroke-width="1.2" shape-rendering="auto"/></g><path d="M412.3,227.9v-3.5M412.3,38.0v3.5M412.3,227.9h3.5M675.0,227.9h-3.5M499.9,227.9v-3.5M499.9,38.0v3.5M412.3,164.6h3.5M675.0,164.6h-3.5M587.4,227.9v-3.5M587.4,38.0v3.5M412.3,101.3h3.5M675.0,101.3h-3.5M675.0,227.9v-3.5M675.0,38.0v3.5M412.3,38.0h3.5M675.0,38.0h-3.5" stroke="#000" stroke-width="1.6" fill="none"/><rect x="412.3" y="38.0" width="262.7" height="189.9" fill="none" stroke="#000" stroke-width="1.6"/><text x="406.77" y="248.1" class="t">0</text><text x="395.25" y="232.2" class="t">0</text><text x="499.22" y="248.1" class="t">0</text><path d="M494.99,248.10L496.47,248.10L496.47,236.05L495.33,236.05L494.65,237.22L493.37,238.07L492.01,238.41L492.01,239.51L493.71,239.17L494.99,238.50Z" fill="#000"/><text x="395.25" y="168.9" class="t">0</text><path d="M391.02,168.90L392.50,168.90L392.50,156.85L391.36,156.85L390.68,158.02L389.41,158.87L388.05,159.21L388.05,160.31L389.75,159.97L391.02,159.30Z" fill="#000"/><text x="577.03 586.78" y="248.1" class="t">20</text><text x="385.50 395.25" y="105.6" class="t">20</text><text x="664.60 674.35" y="248.1" class="t">30</text><text x="385.50 395.25" y="42.3" class="t">30</text><text x="457.00 476.27 489.87 505.61 520.64 550.69 581.46 596.49 611.52" y="19.2" class="ti">Nc=50~000</text><path d="M543.95,19.20L546.17,19.20L546.17,1.12L544.46,1.12L543.44,2.88L541.53,4.15L539.49,4.67L539.49,6.32L542.04,5.81L543.95,4.79Z" fill="#000"/><path d="M574.72,19.20L576.94,19.20L576.94,1.12L575.23,1.12L574.21,2.88L572.30,4.15L570.26,4.67L570.26,6.32L572.81,5.81L574.72,4.79Z" fill="#000"/><g transform="translate(536.4,267.5)"><ellipse cx="0" cy="0" rx="3.60" ry="6.00" fill="none" stroke="#000" stroke-width="1.30"/><path d="M-3.60,0h7.20" stroke="#000" stroke-width="1.30"/><path d="M11.00,15.30L12.39,15.30L12.39,3.96L11.32,3.96L10.68,5.06L9.48,5.86L8.20,6.18L8.20,7.22L9.80,6.90L11.00,6.26Z" fill="#000"/></g><g transform="translate(357.1,138.9) rotate(-90)"><ellipse cx="0" cy="0" rx="3.60" ry="6.00" fill="none" stroke="#000" stroke-width="1.30"/><path d="M-3.60,0h7.20" stroke="#000" stroke-width="1.30"/><text x="5.20" y="13.70" class="sub">2</text></g><clipPath id="c2"><rect x="64.0" y="332.1" width="262.6" height="189.7"/></clipPath><g clip-path="url(#c2)"><g fill="none" stroke-width="1.4" stroke-linejoin="round"><path d="M195.3,493.7 193.1,493.3 190.9,492.1 190.0,490.2 190.9,488.4 193.4,487.0 195.3,486.7 197.2,487.0 199.7,488.4 200.7,490.2 199.7,492.1 197.5,493.3 195.3,493.7" stroke="#000096"/><path d="M190.9,497.6 187.5,496.5 186.5,495.9 183.8,493.3 182.7,490.2 183.9,487.0 186.5,484.5 187.7,483.9 190.9,482.8 195.3,482.3 199.7,482.8 203.0,483.9 204.1,484.5 206.8,487.0 208.0,490.2 206.8,493.3 204.1,495.9 203.1,496.5 199.7,497.6 195.3,498.1 190.9,497.6" stroke="#0000bb"/><path d="M190.9,500.1 188.9,499.7 186.5,498.9 182.3,496.5 182.2,496.4 179.9,493.3 179.1,490.2 179.9,487.0 182.2,484.1 182.4,483.9 186.5,481.6 189.1,480.7 190.9,480.3 195.3,479.9 199.7,480.3 201.5,480.7 204.1,481.6 208.2,483.9 208.4,484.0 210.7,487.0 211.5,490.2 210.7,493.3 208.4,496.4 208.3,496.5 204.1,498.9 201.7,499.7 199.7,500.1 195.3,500.5 190.9,500.1" stroke="#0000e0"/><path d="M186.5,501.0 183.3,499.7 182.2,499.0 179.0,496.5 177.8,495.0 176.8,493.3 176.2,490.2 176.8,487.0 177.8,485.4 179.0,483.9 182.2,481.4 183.4,480.7 186.5,479.4 190.9,478.4 195.3,478.1 199.7,478.4 204.1,479.4 207.2,480.7 208.4,481.4 211.6,483.9 212.8,485.4 213.8,487.0 214.4,490.2 213.8,493.3 212.8,495.0 211.6,496.5 208.4,499.0 207.3,499.7 204.1,501.0 199.7,502.0 195.3,502.4 190.9,502.0 186.5,501.0" stroke="#0006ff"/><path d="M186.5,502.8 186.5,502.8 182.2,501.1 179.6,499.7 177.8,498.2 176.0,496.5 174.2,493.3 173.6,490.2 174.2,487.0 176.1,483.9 177.8,482.2 179.7,480.7 182.2,479.3 186.5,477.6 186.7,477.5 190.9,476.7 195.3,476.4 199.7,476.7 203.9,477.5 204.1,477.6 208.4,479.3 210.9,480.7 212.8,482.2 214.5,483.9 216.4,487.0 217.0,490.2 216.4,493.3 214.6,496.5 212.8,498.2 211.0,499.7 208.4,501.1 204.1,502.8 204.1,502.8 199.7,503.7 195.3,504.0 190.9,503.7 186.5,502.8" stroke="#002cff"/><path d="M182.2,503.0 181.7,502.8 177.8,500.7 176.4,499.7 173.4,496.6 173.4,496.5 171.7,493.3 171.2,490.2 171.8,487.0 173.4,483.9 173.4,483.8 176.5,480.7 177.8,479.8 181.8,477.5 182.2,477.4 186.5,476.0 190.9,475.2 195.3,474.9 199.7,475.2 204.1,476.0 208.4,477.4 208.8,477.5 212.8,479.8 214.1,480.7 217.2,483.8 217.2,483.9 218.9,487.0 219.4,490.2 218.9,493.3 217.3,496.5 217.2,496.6 214.2,499.7 212.8,500.7 208.9,502.8 208.4,503.0 204.1,504.4 199.7,505.2 195.3,505.5 190.9,505.2 186.5,504.4 182.2,503.0 M230.3,430.3 230.2,430.1 230.3,429.0 230.9,426.9 234.5,423.8 234.7,423.7 239.1,422.9 242.4,423.8 243.4,426.0 243.6,426.9 243.4,427.1 240.5,430.1 239.1,430.9 234.7,431.9 230.3,430.3" stroke="#0051ff"/><path d="M186.5,506.0 186.4,506.0 182.2,504.7 177.9,502.8 177.8,502.8 173.5,499.7 173.4,499.6 170.8,496.5 169.4,493.3 169.0,491.1 168.9,490.2 169.0,489.3 169.4,487.0 170.9,483.9 173.4,480.9 173.6,480.7 177.8,477.7 178.1,477.5 182.2,475.7 186.5,474.4 186.5,474.4 190.9,473.6 195.3,473.4 199.7,473.6 204.1,474.4 204.1,474.4 208.4,475.7 212.6,477.5 212.8,477.7 217.0,480.7 217.2,480.8 219.7,483.9 221.2,487.0 221.6,489.2 221.7,490.2 221.6,491.2 221.2,493.3 219.8,496.5 217.2,499.6 217.1,499.7 212.8,502.8 212.7,502.8 208.4,504.7 204.2,506.0 204.1,506.0 199.7,506.8 195.3,507.0 190.9,506.8 186.5,506.0 M230.3,436.6 229.4,436.4 225.9,435.0 224.3,433.3 223.6,430.1 224.6,426.9 225.9,424.9 226.9,423.8 230.3,421.1 231.1,420.6 234.7,419.1 239.1,418.0 243.4,418.0 247.8,419.6 249.2,420.6 250.8,423.8 250.2,426.9 248.0,430.1 247.8,430.3 243.8,433.3 243.4,433.5 239.1,435.3 235.0,436.4 234.7,436.5 230.3,436.6" stroke="#0076ff"/><path d="M182.2,506.5 180.9,506.0 177.8,504.7 174.5,502.8 173.4,502.0 170.7,499.7 169.0,497.6 168.3,496.5 166.9,493.3 166.5,490.2 166.9,487.0 168.3,483.9 169.0,482.9 170.8,480.7 173.4,478.5 174.7,477.5 177.8,475.8 181.0,474.4 182.2,473.9 186.5,472.7 190.9,472.0 195.3,471.8 199.7,472.1 204.1,472.7 208.4,473.9 209.6,474.4 212.8,475.7 216.0,477.5 217.2,478.4 219.9,480.7 221.6,482.8 222.3,483.9 223.7,487.0 224.1,490.2 223.7,493.3 222.4,496.5 221.6,497.6 219.9,499.7 217.2,502.0 216.1,502.8 212.8,504.7 209.7,506.0 208.4,506.5 204.1,507.7 199.7,508.3 195.3,508.5 190.9,508.3 186.5,507.7 182.2,506.5 M103.4,460.1 101.8,458.6 102.6,455.4 103.4,454.9 107.8,454.7 109.1,455.4 110.0,458.6 107.8,460.5 103.4,460.1 M230.3,439.8 227.2,439.6 225.9,439.5 221.6,437.4 220.6,436.4 219.2,433.3 219.2,430.1 220.3,426.9 221.6,425.0 222.5,423.8 225.9,420.6 225.9,420.6 230.3,417.8 231.1,417.5 234.7,416.0 239.1,414.9 243.4,414.6 247.8,415.4 252.2,417.4 252.3,417.5 255.0,420.6 255.7,423.8 254.7,426.9 252.5,430.1 252.2,430.4 248.9,433.3 247.8,434.0 243.6,436.4 243.4,436.5 239.1,438.2 234.7,439.3 232.4,439.6 230.3,439.8" stroke="#009bff"/><path d="M186.5,509.3 185.9,509.2 182.2,508.3 177.8,506.7 176.3,506.0 173.4,504.4 171.1,502.8 169.0,501.0 167.7,499.7 165.6,496.5 164.7,494.1 164.4,493.3 164.0,490.2 164.4,487.0 164.7,486.4 165.6,483.9 167.9,480.7 169.0,479.6 171.4,477.5 173.4,476.2 176.7,474.4 177.8,473.8 182.2,472.1 185.9,471.2 186.5,471.0 190.9,470.3 195.3,470.1 199.7,470.4 204.1,471.1 204.7,471.2 208.4,472.1 212.8,473.7 214.2,474.4 217.2,476.0 219.4,477.5 221.6,479.4 222.8,480.7 225.0,483.9 225.9,486.3 226.2,487.0 226.7,490.2 226.2,493.3 225.9,494.1 225.0,496.5 222.9,499.7 221.6,501.0 219.5,502.8 217.2,504.4 214.3,506.0 212.8,506.7 208.4,508.3 204.7,509.2 204.1,509.3 199.7,510.0 195.3,510.2 190.9,510.0 186.5,509.3 M103.4,462.6 101.6,461.7 99.0,459.1 98.7,458.6 99.0,456.7 99.3,455.4 103.4,452.7 107.8,452.5 112.1,454.9 112.6,455.4 113.1,458.6 112.1,460.2 110.3,461.7 107.8,462.8 103.4,462.6 M221.6,441.9 217.5,439.6 217.2,439.2 215.6,436.4 215.0,433.3 215.3,430.1 216.5,426.9 217.2,426.0 218.8,423.8 221.6,421.1 222.0,420.6 225.9,417.8 226.4,417.5 230.3,415.3 232.5,414.3 234.7,413.4 239.1,412.2 243.4,411.7 247.8,412.1 252.2,413.3 254.1,414.3 256.6,416.0 258.0,417.5 259.6,420.6 259.8,423.8 258.7,426.9 256.6,429.8 256.3,430.1 252.9,433.3 252.2,433.8 248.3,436.4 247.8,436.7 243.4,439.0 241.9,439.6 239.1,440.7 234.7,441.9 230.3,442.5 225.9,442.6 221.6,441.9 M129.7,368.4 127.1,366.9 125.4,363.7 127.1,360.6 129.7,359.0 134.0,358.4 138.4,359.8 139.3,360.6 140.6,363.7 139.3,366.9 138.4,367.6 134.0,369.1 129.7,368.4 M243.4,367.8 241.8,366.9 239.4,363.7 240.3,360.6 243.4,358.3 247.8,357.5 252.2,359.2 253.6,360.6 254.3,363.7 252.6,366.9 252.2,367.2 247.8,368.4 243.4,367.8" stroke="#00c1ff"/><path d="M182.2,510.3 178.7,509.2 177.8,508.9 173.4,506.9 171.8,506.0 169.0,504.1 167.4,502.8 164.7,499.8 164.6,499.7 162.5,496.5 161.4,493.3 161.1,490.2 161.5,487.0 162.6,483.9 164.7,481.0 164.9,480.7 168.1,477.5 169.0,476.9 172.7,474.4 173.4,474.0 177.8,471.8 179.3,471.2 182.2,470.1 186.5,469.0 190.9,468.5 195.3,468.3 199.7,468.5 204.1,469.0 208.4,470.0 211.7,471.2 212.8,471.6 217.2,473.5 218.6,474.4 221.6,476.4 223.0,477.5 225.9,480.7 225.9,480.7 228.0,483.9 229.2,487.0 229.5,490.2 229.2,493.3 228.1,496.5 226.0,499.7 225.9,499.8 223.2,502.8 221.6,504.1 218.8,506.0 217.2,506.9 212.8,508.9 211.9,509.2 208.4,510.3 204.1,511.3 199.7,511.8 195.3,511.9 190.9,511.8 186.5,511.3 182.2,510.3 M99.0,462.3 98.3,461.7 96.5,458.6 97.0,455.4 99.0,453.1 100.3,452.2 103.4,451.0 107.8,450.9 111.7,452.2 112.1,452.5 114.8,455.4 115.2,458.6 113.5,461.7 112.1,462.8 107.8,464.4 103.4,464.2 99.0,462.3 M217.2,444.6 214.1,442.8 212.8,441.3 211.9,439.6 211.0,436.4 210.9,433.3 211.4,430.1 212.8,427.1 212.9,426.9 215.2,423.8 217.2,422.0 218.6,420.6 221.6,418.4 222.8,417.5 225.9,415.4 227.9,414.3 230.3,413.0 234.3,411.1 234.7,411.0 239.1,409.6 243.4,408.9 247.8,408.9 252.2,409.8 255.8,411.1 256.6,411.5 260.7,414.3 261.0,414.6 262.8,417.5 263.6,420.6 263.5,423.8 262.3,426.9 261.0,428.7 259.9,430.1 256.6,433.2 256.4,433.3 252.2,436.4 252.2,436.4 247.8,439.1 246.9,439.6 243.4,441.4 239.9,442.8 239.1,443.1 234.7,444.4 230.3,445.2 225.9,445.6 221.6,445.5 217.2,444.6 M129.7,371.3 126.6,370.0 125.3,369.2 123.1,366.9 122.2,363.7 123.1,360.6 125.3,358.2 126.6,357.4 129.7,356.2 134.0,355.8 138.4,356.7 139.8,357.4 142.8,359.9 143.3,360.6 144.2,363.7 143.3,366.9 142.8,367.5 139.7,370.0 138.4,370.7 134.0,371.6 129.7,371.3 M243.4,370.6 242.1,370.0 239.1,368.3 237.5,366.9 236.1,363.7 236.6,360.6 239.1,357.4 239.1,357.4 243.4,355.6 247.8,355.2 252.2,356.1 254.6,357.4 256.6,359.3 257.5,360.6 258.0,363.7 256.7,366.9 256.6,367.0 252.4,370.0 252.2,370.1 247.8,371.0 243.4,370.6" stroke="#00e6ff"/><path d="M182.2,512.7 181.0,512.3 177.8,511.5 173.4,509.7 172.3,509.2 169.0,507.4 166.9,506.0 164.7,504.1 163.2,502.8 160.7,499.7 160.3,498.9 158.8,496.5 157.8,493.3 157.5,490.2 157.8,487.0 159.0,483.9 160.3,482.1 161.1,480.7 164.5,477.5 164.7,477.4 168.9,474.4 169.0,474.3 173.4,471.7 174.3,471.2 177.8,469.4 181.7,468.1 182.2,467.8 186.5,466.6 190.9,465.9 195.3,465.7 199.7,465.9 204.1,466.5 208.4,467.6 209.8,468.1 212.8,468.9 217.2,470.7 218.1,471.2 221.6,473.1 223.4,474.4 225.9,476.5 227.1,477.5 229.7,480.7 230.3,481.8 231.6,483.9 232.7,487.0 233.1,490.2 232.8,493.3 231.8,496.5 230.3,499.0 229.9,499.7 227.4,502.8 225.9,504.2 223.7,506.0 221.6,507.4 218.3,509.2 217.2,509.7 212.8,511.5 209.6,512.3 208.4,512.7 204.1,513.6 199.7,514.1 195.3,514.3 190.9,514.1 186.5,513.6 182.2,512.7 M103.4,466.1 100.1,464.9 99.0,464.5 95.6,461.7 94.6,459.4 94.2,458.6 94.6,455.7 94.7,455.4 96.9,452.2 99.0,450.8 103.4,449.4 107.8,449.3 112.1,450.5 114.8,452.2 116.5,454.5 117.1,455.4 117.5,458.6 116.5,460.8 116.1,461.7 112.1,464.8 112.0,464.9 107.8,466.2 103.4,466.1 M217.2,449.2 216.6,449.1 212.8,448.4 208.7,445.9 208.4,445.5 207.1,442.8 206.4,439.6 206.2,436.4 206.4,433.3 207.2,430.1 208.4,428.0 209.0,426.9 211.7,423.8 212.8,422.9 215.3,420.6 217.2,419.2 219.5,417.5 221.6,416.1 224.3,414.3 225.9,413.3 229.6,411.1 230.3,410.7 234.7,408.5 236.3,408.0 239.1,406.8 243.4,405.8 247.8,405.5 252.2,406.0 256.6,407.1 258.5,408.0 261.0,409.1 263.8,411.1 265.3,412.9 266.0,414.3 266.5,417.5 266.7,420.6 266.7,423.8 265.9,426.9 265.3,427.8 263.5,430.1 261.0,432.3 259.9,433.3 256.6,435.7 255.6,436.4 252.2,438.7 250.8,439.6 247.8,441.4 245.2,442.8 243.4,443.8 239.1,445.7 238.2,445.9 234.7,447.2 230.3,448.2 225.9,448.9 222.7,449.1 221.6,449.2 217.2,449.2 M129.7,373.5 128.6,373.2 125.3,372.1 122.2,370.0 120.9,368.5 119.7,366.9 119.0,363.7 119.7,360.6 120.9,358.9 122.2,357.4 125.3,355.3 128.5,354.2 129.7,353.8 134.0,353.5 137.9,354.2 138.4,354.3 142.8,356.3 144.2,357.4 146.5,360.6 147.1,363.7 146.4,366.9 144.0,370.0 142.8,371.0 138.4,373.1 137.6,373.2 134.0,373.9 129.7,373.5 M239.1,371.2 237.4,370.0 234.7,367.3 234.3,366.9 233.0,363.7 233.3,360.6 234.7,358.4 235.4,357.4 239.1,354.7 240.3,354.2 243.4,353.2 247.8,352.9 252.2,353.6 253.6,354.2 256.6,355.7 258.6,357.4 260.5,360.6 260.9,363.7 260.0,366.9 257.2,370.0 256.6,370.5 252.2,372.5 247.8,373.1 243.4,372.7 239.1,371.2" stroke="#0cfff3"/><path d="M182.2,516.3 179.4,515.5 177.8,515.1 173.4,513.8 170.2,512.3 169.0,511.8 164.7,509.3 164.5,509.2 160.4,506.0 160.3,505.9 157.1,502.8 155.9,500.9 155.0,499.7 153.4,496.5 152.6,493.3 152.3,490.2 152.7,487.0 153.7,483.9 155.9,481.2 156.2,480.7 160.0,477.5 160.3,477.4 164.7,474.5 164.8,474.4 169.0,471.7 169.9,471.2 173.4,469.1 175.4,468.1 177.8,466.5 181.6,464.9 182.2,464.5 186.5,462.8 190.9,461.9 193.1,461.7 195.3,461.2 199.7,460.9 202.6,461.7 204.1,461.9 208.4,463.0 212.5,464.9 212.8,465.0 217.2,466.6 219.9,468.1 221.6,468.8 225.3,471.2 225.9,471.6 229.4,474.4 230.3,475.3 232.5,477.5 234.7,480.7 234.7,480.7 236.6,483.9 237.7,487.0 238.1,490.2 238.0,493.3 237.2,496.5 235.7,499.7 234.7,500.9 233.5,502.8 230.3,505.9 230.2,506.0 226.1,509.2 225.9,509.3 221.6,511.8 220.4,512.3 217.2,513.8 212.8,515.1 211.2,515.5 208.4,516.3 204.1,517.1 199.7,517.5 195.3,517.7 190.9,517.5 186.5,517.1 182.2,516.3 M103.4,468.1 103.3,468.1 99.0,467.2 95.2,464.9 94.6,464.4 92.0,461.7 91.1,458.6 91.3,455.4 93.1,452.2 94.6,450.9 97.5,449.1 99.0,448.3 103.4,447.3 107.8,447.3 112.1,448.2 114.0,449.1 116.5,450.6 118.1,452.2 119.6,455.4 119.8,458.6 119.0,461.7 116.5,464.8 116.4,464.9 112.1,467.4 108.3,468.1 107.8,468.2 103.4,468.1 M208.4,455.5 207.3,455.4 204.1,455.1 200.6,452.2 199.7,449.5 199.6,449.1 199.5,445.9 199.7,443.5 199.7,442.8 199.9,439.6 200.1,436.4 200.6,433.3 201.9,430.1 204.1,427.5 204.4,426.9 207.8,423.8 208.4,423.4 211.9,420.6 212.8,420.0 216.4,417.5 217.2,417.0 221.1,414.3 221.6,414.0 225.9,411.2 226.0,411.1 230.3,408.4 231.2,408.0 234.7,405.9 237.0,404.8 239.1,403.6 243.4,402.0 245.5,401.7 247.8,401.1 252.2,401.0 256.2,401.7 256.6,401.7 261.0,402.9 265.2,404.8 265.3,404.9 269.6,408.0 269.7,408.3 270.4,411.1 269.9,414.3 269.7,415.7 269.4,417.5 269.3,420.6 269.4,423.8 269.2,426.9 267.2,430.1 265.3,431.6 263.4,433.3 261.0,435.0 259.0,436.4 256.6,438.1 254.3,439.6 252.2,441.0 249.4,442.8 247.8,443.8 244.1,445.9 243.4,446.3 239.1,448.6 237.9,449.1 234.7,450.7 230.3,452.0 229.3,452.2 225.9,453.2 221.6,454.1 217.2,454.7 212.8,455.2 209.3,455.4 208.4,455.5 M125.3,375.2 121.5,373.2 120.9,372.8 117.7,370.0 116.5,367.7 116.0,366.9 115.3,363.7 116.0,360.6 116.5,359.7 117.7,357.4 120.9,354.6 121.4,354.2 125.3,352.2 129.7,351.2 133.3,351.1 134.0,351.0 134.4,351.1 138.4,351.5 142.8,352.9 145.0,354.2 147.2,356.0 148.7,357.4 150.4,360.6 150.8,363.7 150.2,366.9 148.3,370.0 147.2,371.1 144.5,373.2 142.8,374.3 138.4,375.8 134.0,376.3 129.7,376.2 125.3,375.2 M239.1,373.9 238.0,373.2 234.7,371.1 233.5,370.0 231.0,366.9 230.3,364.9 229.7,363.7 229.8,360.6 230.3,359.5 231.1,357.4 234.3,354.2 234.7,353.9 239.1,351.6 241.5,351.1 243.4,350.5 247.8,350.2 252.2,350.9 252.6,351.1 256.6,352.3 259.7,354.2 261.0,355.4 263.0,357.4 264.4,360.6 264.7,363.7 264.0,366.9 261.9,370.0 261.0,370.8 257.7,373.2 256.6,373.8 252.2,375.4 247.8,375.8 243.4,375.4 239.1,373.9" stroke="#31ffce"/><path d="M132.8,477.5 134.0,478.2 138.4,479.5 142.8,479.9 147.2,479.4 151.5,478.0 152.3,477.5 155.9,476.4 159.8,474.4 160.3,474.2 164.7,471.8 165.6,471.2 169.0,469.1 170.7,468.1 173.4,465.9 175.0,464.9 177.8,462.1 178.4,461.7 180.9,458.6 182.1,455.4 182.2,454.6 182.8,452.2 183.1,449.1 183.5,445.9 184.0,442.8 184.8,439.6 186.3,436.4 186.5,436.2 188.4,433.3 190.9,431.7 192.4,430.1 195.3,428.7 197.5,426.9 199.7,426.0 202.9,423.8 204.1,423.2 208.2,420.6 208.4,420.5 212.8,417.8 213.2,417.5 217.2,414.9 218.1,414.3 221.6,412.0 223.0,411.1 225.9,409.1 227.7,408.0 230.3,406.0 232.2,404.8 234.7,402.7 236.4,401.7 239.1,399.1 240.1,398.5 243.2,395.3 243.4,394.7 245.8,392.2 246.9,389.0 247.0,385.8 245.9,382.7 243.4,381.1 242.0,379.5 239.1,378.2 236.8,376.4 234.7,375.2 232.3,373.2 230.3,371.4 228.7,370.0 226.0,366.9 225.9,366.7 223.1,363.7 221.6,361.4 219.8,360.6 217.2,358.9 212.8,357.7 210.7,357.4 208.4,356.8 204.1,356.0 199.7,355.5 195.3,355.4 190.9,355.5 186.5,355.9 182.2,356.7 179.8,357.4 177.8,357.7 173.4,358.8 169.3,360.6 169.0,360.6 164.7,362.4 162.8,363.7 160.3,365.3 159.0,366.9 155.9,370.0 155.9,370.0 153.1,373.2 151.5,374.8 149.8,376.4 147.2,379.0 146.3,379.5 143.4,382.7 142.8,384.0 141.3,385.8 139.9,389.0 139.0,392.2 138.4,394.9 138.2,395.3 136.8,398.5 135.5,401.7 134.0,404.3 133.4,404.8 129.7,407.6 128.8,408.0 125.3,410.0 123.3,411.1 120.9,412.7 118.4,414.3 116.5,414.8 112.1,415.1 107.8,415.3 103.4,416.1 100.3,417.5 99.0,417.7 94.6,419.4 92.9,420.6 90.3,422.9 89.2,423.8 86.8,426.9 86.1,430.1 86.0,433.3 86.5,436.4 88.0,439.6 90.3,441.6 91.6,442.8 94.6,443.9 99.0,444.6 103.4,444.8 107.8,445.0 112.1,445.1 116.5,445.3 118.6,445.9 120.9,448.9 120.9,449.1 122.0,452.2 122.7,455.4 122.9,458.6 122.6,461.7 122.1,464.9 121.8,468.1 122.9,471.2 125.3,473.2 126.7,474.4 129.7,476.2 132.8,477.5 M326.6,434.7 325.3,433.3 322.2,430.8 321.4,430.1 317.8,427.6 316.6,426.9 313.5,425.1 310.4,423.8 309.1,423.1 305.6,420.6 304.7,419.8 304.0,417.5 302.1,414.3 300.3,412.8 298.9,411.1 296.0,409.2 292.2,408.0 291.6,407.7 287.2,406.6 282.8,407.1 281.3,408.0 278.5,408.7 275.4,411.1 274.1,412.3 272.8,414.3 271.6,417.5 271.3,420.6 271.6,423.8 272.0,426.9 271.1,430.1 269.7,431.2 267.1,433.3 265.3,434.4 262.4,436.4 260.9,437.3 257.6,439.6 256.6,440.3 253.0,442.8 252.2,443.3 248.4,445.9 247.8,446.4 243.9,449.1 243.4,449.5 239.6,452.2 239.1,452.8 235.6,455.4 234.7,456.6 232.2,458.6 230.6,461.7 231.0,464.9 232.9,468.1 234.7,470.1 235.4,471.2 238.1,474.4 239.1,475.6 240.7,477.5 243.3,480.7 243.4,480.9 246.1,483.9 247.8,486.0 249.1,487.0 252.2,489.9 252.8,490.2 256.6,492.5 258.9,493.3 261.0,494.2 265.3,495.5 269.7,496.2 272.5,496.5 274.1,496.8 278.5,497.2 282.8,497.3 287.2,497.1 291.5,496.5 291.6,496.5 296.0,496.0 300.3,495.1 304.7,493.6 305.3,493.3 309.1,492.1 313.0,490.2 313.5,490.0 317.8,487.5 318.6,487.0 322.2,484.4 323.0,483.9 326.4,480.7 326.6,480.5" stroke="#57ffa8"/><path d="M272.6,487.0 274.1,487.3 278.5,487.8 282.8,487.9 287.2,487.7 291.4,487.0 291.6,487.0 296.0,486.2 300.3,484.8 302.6,483.9 304.7,483.0 308.9,480.7 309.1,480.6 313.4,477.5 313.5,477.5 316.8,474.4 317.8,473.1 319.4,471.2 321.3,468.1 322.2,465.7 322.6,464.9 323.5,461.7 323.9,458.6 323.8,455.4 323.2,452.2 322.2,449.6 322.1,449.1 320.7,445.9 318.4,442.8 317.8,442.1 315.6,439.6 313.5,437.7 311.9,436.4 309.1,434.6 306.7,433.3 304.7,432.2 300.3,430.3 299.9,430.1 297.7,426.9 298.1,423.8 298.3,420.6 297.4,417.5 296.0,415.7 294.9,414.3 291.6,412.0 288.7,411.1 287.2,410.6 282.8,410.6 281.3,411.1 278.5,412.0 275.7,414.3 274.1,416.7 273.7,417.5 273.2,420.6 273.7,423.8 274.1,425.1 274.8,426.9 275.1,430.1 274.1,431.1 271.6,433.3 269.7,434.2 266.0,436.4 265.3,436.8 261.0,439.6 260.9,439.6 256.6,442.6 256.3,442.8 252.2,445.8 252.0,445.9 248.2,449.1 247.8,449.5 244.9,452.2 243.4,454.5 242.6,455.4 241.2,458.6 240.8,461.7 241.4,464.9 242.7,468.1 243.4,469.1 244.7,471.2 247.3,474.4 247.8,474.9 250.6,477.5 252.2,478.8 255.0,480.7 256.6,481.7 261.0,483.7 261.3,483.9 265.3,485.5 269.7,486.6 272.6,487.0 M135.9,471.2 138.4,472.5 142.8,473.8 147.2,474.3 151.5,474.1 155.9,473.2 160.3,471.5 160.8,471.2 164.7,469.2 166.4,468.1 169.0,466.0 170.5,464.9 173.1,461.7 173.4,461.0 174.7,458.6 175.1,455.4 174.6,452.2 173.4,450.0 173.0,449.1 170.5,445.9 169.0,444.6 166.2,442.8 164.7,441.8 160.3,440.2 157.5,439.6 155.9,439.2 151.5,438.8 147.2,439.0 144.4,439.6 142.8,439.9 138.4,441.2 135.6,442.8 134.0,443.7 131.2,445.9 129.7,447.7 128.5,449.1 127.1,452.2 126.6,455.4 126.6,458.6 127.2,461.7 128.6,464.9 129.7,466.1 131.3,468.1 134.0,470.1 135.9,471.2 M96.9,439.6 99.0,440.9 103.4,442.2 107.8,442.5 112.1,442.0 116.5,440.1 117.3,439.6 120.3,436.4 120.9,434.4 121.5,433.3 121.1,430.1 120.9,429.9 119.5,426.9 116.5,424.5 115.0,423.8 112.1,422.4 107.8,421.8 103.4,422.1 99.2,423.8 99.0,423.9 94.9,426.9 94.6,427.4 92.8,430.1 92.5,433.3 93.8,436.4 94.6,437.3 96.9,439.6 M180.2,423.8 182.2,424.3 186.5,424.7 190.9,424.5 194.3,423.8 195.3,423.6 199.7,422.4 203.5,420.6 204.1,420.4 208.4,418.3 209.7,417.5 212.8,415.8 215.1,414.3 217.2,413.0 220.0,411.1 221.6,410.1 224.5,408.0 225.9,406.8 228.6,404.8 230.3,403.1 232.0,401.7 234.5,398.5 234.7,398.0 236.3,395.3 237.1,392.2 237.0,389.0 236.2,385.8 234.7,383.0 234.6,382.7 232.6,379.5 230.3,377.2 229.5,376.4 225.9,373.3 225.8,373.2 221.6,370.2 221.3,370.0 217.2,367.8 214.5,366.9 212.8,366.2 208.4,364.9 204.1,364.1 199.9,363.7 199.7,363.7 195.3,363.5 190.9,363.7 190.7,363.7 186.5,364.1 182.2,364.9 177.8,366.1 176.0,366.9 173.4,367.8 169.1,370.0 169.0,370.1 164.7,372.9 164.3,373.2 160.6,376.4 160.3,376.8 157.7,379.5 155.9,382.5 155.8,382.7 154.0,385.8 152.9,389.0 152.4,392.2 152.2,395.3 152.5,398.5 153.1,401.7 154.3,404.8 155.9,407.4 156.2,408.0 158.3,411.1 160.3,413.2 161.4,414.3 164.7,417.0 165.4,417.5 169.0,419.8 170.8,420.6 173.4,421.9 177.8,423.3 180.2,423.8" stroke="#7cff83"/><path d="M265.0,480.7 265.3,480.8 269.7,482.3 274.1,483.2 278.5,483.6 282.8,483.7 287.2,483.5 291.6,482.9 296.0,481.8 298.8,480.7 300.3,480.1 304.7,477.9 305.4,477.5 309.1,474.9 309.7,474.4 312.9,471.2 313.5,470.4 315.2,468.1 316.8,464.9 317.7,461.7 317.8,460.4 318.1,458.6 318.0,455.4 317.8,454.7 317.4,452.2 316.2,449.1 314.4,445.9 313.5,444.8 311.8,442.8 309.1,440.3 308.2,439.6 304.7,437.3 303.1,436.4 300.3,435.1 296.0,433.5 295.2,433.3 291.6,431.1 290.3,430.1 291.6,429.0 292.6,426.9 294.4,423.8 294.9,420.6 294.0,417.5 291.6,414.8 290.7,414.3 287.2,412.9 282.8,412.7 278.7,414.3 278.5,414.4 276.1,417.5 275.4,420.6 276.0,423.8 277.7,426.9 278.5,428.5 280.5,430.1 278.5,432.1 277.5,433.3 274.1,434.6 270.3,436.4 269.7,436.7 265.3,439.1 264.5,439.6 261.0,441.9 259.6,442.8 256.6,445.1 255.4,445.9 252.2,448.8 251.9,449.1 249.1,452.2 247.8,454.6 247.3,455.4 246.4,458.6 246.4,461.7 247.2,464.9 247.8,466.1 248.7,468.1 251.0,471.2 252.2,472.5 254.1,474.4 256.6,476.3 258.5,477.5 261.0,478.9 265.0,480.7 M146.6,471.2 147.2,471.3 151.5,471.4 152.2,471.2 155.9,470.5 160.3,468.9 161.9,468.1 164.7,466.3 166.4,464.9 169.0,461.9 169.1,461.7 170.5,458.6 170.7,455.4 169.8,452.2 169.0,451.0 167.7,449.1 164.7,446.4 163.9,445.9 160.3,444.1 155.9,442.8 155.2,442.8 151.5,442.3 147.2,442.6 146.4,442.8 142.8,443.5 138.4,445.4 137.6,445.9 134.0,448.8 133.8,449.1 131.6,452.2 130.7,455.4 130.7,458.6 131.6,461.7 133.7,464.9 134.0,465.3 137.4,468.1 138.4,468.6 142.8,470.5 146.6,471.2 M101.7,439.6 103.4,440.3 107.8,440.7 112.1,439.7 112.4,439.6 116.5,436.9 117.1,436.4 118.7,433.3 118.3,430.1 116.5,427.8 115.7,426.9 112.1,424.8 107.8,424.0 103.4,424.4 99.0,426.3 98.2,426.9 95.8,430.1 95.5,433.3 96.9,436.4 99.0,438.3 101.7,439.6 M184.7,420.6 186.5,421.0 190.9,421.2 195.3,420.7 195.6,420.6 199.7,419.8 204.1,418.3 205.6,417.5 208.4,416.3 212.0,414.3 212.8,413.9 217.2,411.1 217.2,411.1 221.6,408.1 221.7,408.0 225.5,404.8 225.9,404.4 228.7,401.7 230.3,399.2 230.9,398.5 232.3,395.3 232.7,392.2 232.4,389.0 231.3,385.8 230.3,384.2 229.5,382.7 227.1,379.5 225.9,378.3 223.8,376.4 221.6,374.6 219.3,373.2 217.2,371.9 212.8,370.1 212.7,370.0 208.4,368.5 204.1,367.6 199.7,367.1 195.3,366.9 190.9,367.1 186.5,367.6 182.2,368.5 177.8,370.0 177.8,370.0 173.4,371.9 171.2,373.2 169.0,374.6 166.6,376.4 164.7,378.2 163.3,379.5 160.9,382.7 160.3,383.9 159.1,385.8 157.8,389.0 157.2,392.2 157.1,395.3 157.4,398.5 158.4,401.7 160.0,404.8 160.3,405.3 162.0,408.0 164.7,410.9 164.9,411.1 168.8,414.3 169.0,414.5 173.4,417.1 174.3,417.5 177.8,419.0 182.2,420.2 184.7,420.6" stroke="#a1ff5e"/><path d="M266.0,477.5 269.7,478.9 274.1,480.0 278.5,480.5 282.8,480.6 287.2,480.4 291.6,479.6 296.0,478.3 297.9,477.5 300.3,476.5 303.8,474.4 304.7,473.7 307.7,471.2 309.1,469.7 310.4,468.1 312.3,464.9 313.3,461.7 313.5,460.8 313.8,458.6 313.7,455.4 313.5,454.4 313.0,452.2 311.6,449.1 309.4,445.9 309.1,445.5 306.3,442.8 304.7,441.5 301.8,439.6 300.3,438.8 296.0,436.9 294.1,436.4 291.6,435.7 287.2,434.9 282.8,434.9 278.5,435.7 276.5,436.4 274.1,437.1 269.7,439.0 268.5,439.6 265.3,441.4 263.1,442.8 261.0,444.3 258.8,445.9 256.6,447.9 255.3,449.1 252.8,452.2 252.2,453.4 251.1,455.4 250.5,458.6 250.7,461.7 251.7,464.9 252.2,465.8 253.5,468.1 256.2,471.2 256.6,471.6 260.1,474.4 261.0,475.0 265.3,477.3 266.0,477.5 M145.2,468.1 147.2,468.5 151.5,468.7 155.1,468.1 155.9,467.9 160.3,466.0 161.9,464.9 164.7,462.4 165.2,461.7 166.6,458.6 166.7,455.4 165.6,452.2 164.7,451.1 162.6,449.1 160.3,447.6 156.1,445.9 155.9,445.8 151.5,445.3 147.2,445.5 145.7,445.9 142.8,446.8 138.8,449.1 138.4,449.4 135.9,452.2 134.6,455.4 134.6,458.6 135.8,461.7 138.4,464.8 138.5,464.9 142.8,467.3 145.2,468.1 M99.7,436.4 103.4,438.5 107.8,439.0 112.1,437.9 114.2,436.4 116.2,433.3 115.7,430.1 112.5,426.9 112.1,426.7 107.8,425.6 103.4,426.1 101.6,426.9 99.0,429.0 98.1,430.1 97.7,433.3 99.0,435.6 99.7,436.4 M282.3,426.9 282.8,427.4 287.2,427.1 287.4,426.9 291.2,423.8 291.6,423.0 292.2,420.6 291.6,418.8 290.9,417.5 287.2,415.2 282.8,415.0 278.5,417.5 278.5,417.6 277.7,420.6 278.4,423.8 278.5,423.9 282.3,426.9 M182.9,417.5 186.5,418.3 190.9,418.6 195.3,418.4 199.7,417.6 200.0,417.5 204.1,416.2 208.4,414.3 208.5,414.3 212.8,412.0 214.2,411.1 217.2,409.2 219.0,408.0 221.6,405.9 222.9,404.8 225.9,401.7 225.9,401.5 228.1,398.5 229.2,395.3 229.5,392.2 229.0,389.0 227.7,385.8 225.9,383.2 225.6,382.7 222.8,379.5 221.6,378.4 218.9,376.4 217.2,375.2 213.3,373.2 212.8,373.0 208.4,371.3 204.1,370.3 202.1,370.0 199.7,369.7 195.3,369.4 190.9,369.7 188.4,370.0 186.5,370.3 182.2,371.3 177.8,373.0 177.3,373.2 173.4,375.2 171.6,376.4 169.0,378.3 167.7,379.5 164.9,382.7 164.7,383.0 162.7,385.8 161.4,389.0 160.7,392.2 160.6,395.3 161.0,398.5 162.1,401.7 163.9,404.8 164.7,405.8 166.3,408.0 169.0,410.5 169.8,411.1 173.4,413.6 174.6,414.3 177.8,415.9 182.2,417.3 182.9,417.5" stroke="#c6ff39"/><path d="M276.8,477.5 278.5,477.8 282.8,477.9 287.2,477.6 287.4,477.5 291.6,476.7 296.0,475.2 297.8,474.4 300.3,473.0 302.8,471.2 304.7,469.5 306.1,468.1 308.2,464.9 309.1,462.8 309.5,461.7 310.1,458.6 309.9,455.4 309.1,452.3 309.1,452.2 307.5,449.1 305.0,445.9 304.7,445.7 301.1,442.8 300.3,442.2 296.0,440.0 294.7,439.6 291.6,438.6 287.2,437.8 282.8,437.7 278.5,438.3 274.1,439.5 273.8,439.6 269.7,441.3 267.0,442.8 265.3,443.8 262.3,445.9 261.0,447.0 258.7,449.1 256.6,451.8 256.2,452.2 254.7,455.4 254.1,458.6 254.5,461.7 255.7,464.9 256.6,466.3 257.8,468.1 261.0,471.1 261.0,471.2 265.3,474.0 266.1,474.4 269.7,475.9 274.1,477.1 276.8,477.5 M146.4,464.9 147.2,465.1 151.5,465.4 154.2,464.9 155.9,464.4 160.3,461.7 160.3,461.7 161.9,458.6 162.0,455.4 160.4,452.2 160.3,452.1 155.9,449.5 154.4,449.1 151.5,448.6 147.2,448.9 146.7,449.1 142.8,451.0 141.3,452.2 139.4,455.4 139.3,458.6 141.1,461.7 142.8,463.1 146.4,464.9 M102.8,436.4 103.4,436.8 107.8,437.4 110.9,436.4 112.1,435.7 113.9,433.3 113.3,430.1 112.1,429.0 107.8,427.2 103.4,428.0 100.7,430.1 100.1,433.3 102.8,436.4 M282.3,420.6 282.8,422.8 287.2,422.6 287.9,420.6 287.2,419.3 282.8,419.5 282.3,420.6 M180.8,414.3 182.2,414.8 186.5,415.9 190.9,416.4 195.3,416.3 199.7,415.6 204.1,414.3 204.1,414.3 208.4,412.5 211.0,411.1 212.8,410.2 216.2,408.0 217.2,407.3 220.3,404.8 221.6,403.6 223.5,401.7 225.5,398.5 225.9,397.2 226.7,395.3 226.8,392.2 226.1,389.0 225.9,388.7 224.6,385.8 222.3,382.7 221.6,381.9 219.0,379.5 217.2,378.2 214.2,376.4 212.8,375.6 208.4,373.8 206.3,373.2 204.1,372.6 199.7,371.9 195.3,371.7 190.9,371.9 186.5,372.6 184.3,373.2 182.2,373.8 177.8,375.6 176.3,376.4 173.4,378.1 171.6,379.5 169.0,381.8 168.2,382.7 165.8,385.8 164.7,388.3 164.3,389.0 163.4,392.2 163.2,395.3 163.9,398.5 164.7,400.3 165.2,401.7 167.2,404.8 169.0,406.8 170.2,408.0 173.4,410.6 174.3,411.1 177.8,413.1 180.8,414.3" stroke="#ebff14"/><path d="M274.0,474.4 274.1,474.4 278.5,475.1 282.8,475.3 287.2,474.9 289.6,474.4 291.6,473.9 296.0,472.1 297.6,471.2 300.3,469.3 301.7,468.1 304.3,464.9 304.7,464.1 305.8,461.7 306.4,458.6 306.3,455.4 305.3,452.2 304.7,451.2 303.4,449.1 300.4,445.9 300.3,445.9 296.0,443.1 295.2,442.8 291.6,441.4 287.2,440.5 282.8,440.3 278.5,440.7 274.1,441.9 272.0,442.8 269.7,443.8 266.1,445.9 265.3,446.5 262.3,449.1 261.0,450.6 259.7,452.2 258.2,455.4 257.7,458.6 258.2,461.7 259.6,464.9 261.0,466.7 262.2,468.1 265.3,470.6 266.3,471.2 269.7,472.9 274.0,474.4 M102.8,433.3 103.4,433.9 107.8,435.1 110.7,433.3 109.5,430.1 107.8,429.4 103.9,430.1 103.4,430.7 102.8,433.3 M190.8,414.3 190.9,414.3 195.3,414.3 195.3,414.3 199.7,413.7 204.1,412.5 207.3,411.1 208.4,410.7 212.8,408.4 213.4,408.0 217.2,405.4 217.9,404.8 221.2,401.7 221.6,401.1 223.4,398.5 224.5,395.3 224.6,392.2 223.8,389.0 221.9,385.8 221.6,385.4 219.2,382.7 217.2,380.9 215.2,379.5 212.8,378.0 209.1,376.4 208.4,376.1 204.1,374.7 199.7,374.0 195.3,373.7 190.9,374.0 186.5,374.7 182.2,376.1 181.4,376.4 177.8,378.0 175.4,379.5 173.4,380.9 171.3,382.7 169.0,385.3 168.6,385.8 166.7,389.0 165.7,392.2 165.6,395.3 166.3,398.5 167.9,401.7 169.0,403.3 170.3,404.8 173.4,407.7 173.8,408.0 177.8,410.6 179.0,411.1 182.2,412.5 186.5,413.7 190.8,414.3" stroke="#ffed00"/><path d="M273.3,471.2 274.1,471.5 278.5,472.4 282.8,472.5 287.2,472.1 290.5,471.2 291.6,470.9 296.0,468.6 296.8,468.1 300.1,464.9 300.3,464.5 301.8,461.7 302.6,458.6 302.4,455.4 301.3,452.2 300.3,450.8 298.9,449.1 296.0,446.6 294.8,445.9 291.6,444.4 287.2,443.2 282.8,442.9 278.5,443.3 274.1,444.6 271.1,445.9 269.7,446.7 266.3,449.1 265.3,450.1 263.5,452.2 261.9,455.4 261.4,458.6 262.1,461.7 263.9,464.9 265.3,466.5 267.2,468.1 269.7,469.7 273.3,471.2 M184.9,411.1 186.5,411.6 190.9,412.3 195.3,412.4 199.7,411.8 202.2,411.1 204.1,410.7 208.4,409.0 210.2,408.0 212.8,406.6 215.4,404.8 217.2,403.4 219.0,401.7 221.3,398.5 221.6,397.8 222.5,395.3 222.6,392.2 221.6,389.2 221.5,389.0 219.5,385.8 217.2,383.5 216.1,382.7 212.8,380.3 211.1,379.5 208.4,378.2 204.1,376.8 201.6,376.4 199.7,376.0 195.3,375.7 190.9,376.0 189.0,376.4 186.5,376.8 182.2,378.2 179.4,379.5 177.8,380.3 174.4,382.7 173.4,383.5 171.0,385.8 169.0,388.9 169.0,389.0 167.8,392.2 167.7,395.3 168.5,398.5 169.0,399.4 170.3,401.7 173.2,404.8 173.4,405.0 177.5,408.0 177.8,408.2 182.2,410.3 184.9,411.1" stroke="#ffc800"/><path d="M274.1,468.1 278.5,469.1 282.8,469.4 287.2,468.8 289.5,468.1 291.6,467.1 294.8,464.9 296.0,463.6 297.2,461.7 298.2,458.6 297.9,455.4 296.5,452.2 296.0,451.5 293.2,449.1 291.6,448.1 287.2,446.5 282.8,445.9 278.5,446.4 274.1,447.9 271.8,449.1 269.7,450.6 268.1,452.2 266.2,455.4 265.7,458.6 266.7,461.7 269.0,464.9 269.7,465.5 274.1,468.0 274.1,468.1 M181.7,408.0 182.2,408.2 186.5,409.7 190.9,410.5 195.3,410.6 199.7,410.1 204.1,409.0 206.6,408.0 208.4,407.3 212.8,404.9 212.9,404.8 216.9,401.7 217.2,401.4 219.5,398.5 220.7,395.3 220.7,392.2 219.5,389.0 217.2,386.0 217.1,385.8 213.1,382.7 212.8,382.5 208.4,380.2 206.4,379.5 204.1,378.7 199.7,377.8 195.3,377.6 190.9,377.8 186.5,378.7 184.2,379.5 182.2,380.2 177.8,382.4 177.4,382.7 173.4,385.8 173.4,385.9 171.0,389.0 169.7,392.2 169.6,395.3 170.5,398.5 172.6,401.7 173.4,402.5 176.1,404.8 177.8,406.1 181.7,408.0" stroke="#ffa300"/><path d="M282.7,464.9 282.8,464.9 282.9,464.9 287.2,463.6 290.0,461.7 291.6,459.4 291.9,458.6 291.6,455.4 291.6,455.4 288.4,452.2 287.2,451.6 282.8,450.7 278.5,451.2 276.1,452.2 274.1,453.8 272.8,455.4 272.3,458.6 273.7,461.7 274.1,462.1 278.5,464.3 282.7,464.9 M187.1,408.0 190.9,408.7 195.3,408.9 199.7,408.5 201.5,408.0 204.1,407.4 208.4,405.8 210.2,404.8 212.8,403.3 214.9,401.7 217.2,399.1 217.6,398.5 218.9,395.3 218.9,392.2 217.6,389.0 217.2,388.5 214.8,385.8 212.8,384.3 209.9,382.7 208.4,381.9 204.1,380.4 199.7,379.6 197.9,379.5 195.3,379.3 192.7,379.5 190.9,379.6 186.5,380.4 182.2,381.9 180.7,382.7 177.8,384.3 175.8,385.8 173.4,388.4 172.9,389.0 171.5,392.2 171.4,395.3 172.4,398.5 173.4,399.9 174.9,401.7 177.8,404.1 179.1,404.8 182.2,406.5 186.5,407.9 187.1,408.0" stroke="#ff7e00"/><path d="M182.2,404.8 186.5,406.4 190.9,407.2 195.3,407.4 199.7,407.0 204.1,406.0 207.1,404.8 208.4,404.3 212.8,401.7 212.8,401.6 215.8,398.5 217.2,395.4 217.2,395.3 217.2,394.2 217.1,392.2 215.6,389.0 212.8,386.2 212.4,385.8 208.4,383.5 206.1,382.7 204.1,381.9 199.7,381.0 195.3,380.8 190.9,381.0 186.5,381.9 184.4,382.7 182.2,383.5 178.1,385.8 177.8,386.1 174.9,389.0 173.4,391.9 173.3,392.2 173.1,395.3 173.4,396.1 174.3,398.5 177.1,401.7 177.8,402.2 182.2,404.8 182.2,404.8" stroke="#ff5800"/><path d="M186.2,404.8 186.5,405.0 190.9,405.9 195.3,406.1 199.7,405.7 203.4,404.8 204.1,404.7 208.4,402.9 210.5,401.7 212.8,399.7 214.0,398.5 215.5,395.3 215.4,392.2 213.7,389.0 212.8,388.1 209.9,385.8 208.4,385.0 204.1,383.4 200.8,382.7 199.7,382.4 195.3,382.1 190.9,382.4 189.8,382.7 186.5,383.3 182.2,385.0 180.7,385.8 177.8,388.0 176.8,389.0 175.1,392.2 174.9,395.3 176.2,398.5 177.8,400.2 179.5,401.7 182.2,403.3 186.2,404.8" stroke="#ff3300"/><path d="M181.9,401.7 182.2,401.8 186.5,403.6 190.9,404.5 195.3,404.8 199.7,404.4 204.1,403.4 208.1,401.7 208.4,401.5 212.0,398.5 212.8,397.2 213.7,395.3 213.6,392.2 212.8,390.7 211.6,389.0 208.4,386.6 207.0,385.8 204.1,384.7 199.7,383.7 195.3,383.4 190.9,383.7 186.5,384.7 183.5,385.8 182.2,386.5 178.9,389.0 177.8,390.6 176.9,392.2 176.7,395.3 177.8,397.8 178.2,398.5 181.9,401.7" stroke="#ff0e00"/><path d="M185.1,401.7 186.5,402.2 190.9,403.2 195.3,403.5 199.7,403.1 204.1,402.1 205.0,401.7 208.4,399.7 209.9,398.5 211.8,395.3 211.6,392.2 209.4,389.0 208.4,388.3 204.1,386.0 203.5,385.8 199.7,385.0 195.3,384.7 190.9,385.0 187.1,385.8 186.5,386.0 182.2,388.2 181.1,389.0 178.8,392.2 178.6,395.3 180.4,398.5 182.2,400.0 185.1,401.7" stroke="#e80000"/><path d="M189.6,401.7 190.9,402.0 195.3,402.3 199.7,401.9 200.6,401.7 204.1,400.4 207.4,398.5 208.4,397.3 209.6,395.3 209.5,392.2 208.4,390.7 206.6,389.0 204.1,387.7 199.7,386.4 195.3,385.9 190.9,386.3 186.5,387.6 183.9,389.0 182.2,390.6 181.0,392.2 180.8,395.3 182.2,397.7 182.8,398.5 186.5,400.6 189.6,401.7" stroke="#c20000"/><path d="M186.0,398.5 186.5,398.8 190.9,400.2 195.3,400.6 199.7,400.1 204.1,398.6 204.3,398.5 206.9,395.3 206.6,392.2 204.1,389.6 203.0,389.0 199.7,388.1 195.3,387.6 190.9,388.0 187.5,389.0 186.5,389.6 183.9,392.2 183.5,395.3 186.0,398.5" stroke="#9d0000"/><path d="M194.5,398.5 195.3,398.6 196.0,398.5 199.7,397.4 202.6,395.3 202.1,392.2 199.7,390.9 195.3,390.1 190.9,390.8 188.4,392.2 187.7,395.3 190.9,397.6 194.5,398.5" stroke="#800000"/></g></g><g clip-path="url(#cc2)"><path d="M127.0,359.9L127.0,365.4L129.7,368.1L134.7,368.9L138.6,366.6L139.8,363.0L138.6,359.4L134.7,357.1L129.6,357.9Z" fill="#ff0000"/><path d="M242.0,360.0L242.0,364.8L244.0,368.2L249.9,369.4L254.8,367.4L256.7,363.7L255.5,360.2L251.6,357.1L245.5,357.9Z" fill="#ff0000"/><path d="M224.8,428.2L224.9,429.7L228.4,433.7L235.0,436.1L235.1,436.1L239.0,437.9L247.8,433.7L252.4,430.7L254.0,426.3L253.6,418.4L249.0,415.3L248.1,416.1L245.2,419.4L245.1,419.5L244.9,419.7L244.7,419.8L244.5,419.9L236.6,422.9L230.6,425.8L230.5,425.9Z" fill="#ff0000"/><path d="M170.6,477.6L168.5,483.1L167.0,490.6L168.3,495.4L173.0,501.2L177.5,503.8L183.3,500.0L183.5,499.9L183.7,499.8L183.8,499.7L184.0,499.7L184.2,499.7L195.9,500.8L202.6,497.9L204.0,495.1L204.0,481.9L204.0,481.6L204.0,481.4L204.1,481.1L204.1,480.8L204.2,480.6L204.3,480.4L206.5,474.9L206.6,474.6L206.7,474.4L206.8,474.2L207.0,474.0L207.1,473.9L207.3,473.8L209.9,471.6L201.7,470.7L192.2,473.4L192.0,473.4L182.2,475.0Z" fill="#ff0000"/><path d="M128.8,355.0L129.6,358.1L132.8,358.1L131.4,361.3L132.8,364.5L129.6,364.5L128.8,367.6L128.0,364.5L124.8,364.5L126.2,361.3L124.8,358.1L128.0,358.1ZM129.7,358.7L130.5,361.8L133.7,361.8L132.3,365.0L133.7,368.2L130.5,368.2L129.7,371.3L128.9,368.2L125.7,368.2L127.1,365.0L125.7,361.8L128.9,361.8ZM133.3,359.9L134.1,363.0L137.3,363.0L135.9,366.2L137.3,369.4L134.1,369.4L133.3,372.5L132.5,369.4L129.3,369.4L130.7,366.2L129.3,363.0L132.5,363.0ZM136.9,358.6L137.7,361.7L140.9,361.7L139.5,364.9L140.9,368.1L137.7,368.1L136.9,371.2L136.1,368.1L132.9,368.1L134.3,364.9L132.9,361.7L136.1,361.7ZM137.2,355.0L138.0,358.1L141.2,358.1L139.8,361.3L141.2,364.5L138.0,364.5L137.2,367.6L136.4,364.5L133.2,364.5L134.6,361.3L133.2,358.1L136.4,358.1ZM133.7,353.5L134.5,356.6L137.7,356.6L136.3,359.8L137.7,363.0L134.5,363.0L133.7,366.1L132.9,363.0L129.7,363.0L131.1,359.8L129.7,356.6L132.9,356.6ZM129.8,354.3L130.6,357.4L133.8,357.4L132.4,360.6L133.8,363.8L130.6,363.8L129.8,366.9L129.0,363.8L125.8,363.8L127.2,360.6L125.8,357.4L129.0,357.4ZM128.8,355.0L129.6,358.1L132.8,358.1L131.4,361.3L132.8,364.5L129.6,364.5L128.8,367.6L128.0,364.5L124.8,364.5L126.2,361.3L124.8,358.1L128.0,358.1ZM243.8,355.4L244.6,358.5L247.8,358.5L246.4,361.7L247.8,364.9L244.6,364.9L243.8,368.0L243.0,364.9L239.8,364.9L241.2,361.7L239.8,358.5L243.0,358.5ZM244.7,359.1L245.5,362.2L248.7,362.2L247.3,365.4L248.7,368.6L245.5,368.6L244.7,371.7L243.9,368.6L240.7,368.6L242.1,365.4L240.7,362.2L243.9,362.2ZM248.4,360.3L249.2,363.4L252.4,363.4L251.0,366.6L252.4,369.8L249.2,369.8L248.4,372.9L247.6,369.8L244.4,369.8L245.8,366.6L244.4,363.4L247.6,363.4ZM252.1,359.6L252.9,362.7L256.1,362.7L254.7,365.9L256.1,369.1L252.9,369.1L252.1,372.2L251.3,369.1L248.1,369.1L249.5,365.9L248.1,362.7L251.3,362.7ZM254.5,356.8L255.3,359.9L258.5,359.9L257.1,363.1L258.5,366.3L255.3,366.3L254.5,369.4L253.7,366.3L250.5,366.3L251.9,363.1L250.5,359.9L253.7,359.9ZM252.0,353.9L252.8,357.0L256.0,357.0L254.6,360.2L256.0,363.4L252.8,363.4L252.0,366.5L251.2,363.4L248.0,363.4L249.4,360.2L248.0,357.0L251.2,357.0ZM248.2,353.8L249.0,356.9L252.2,356.9L250.8,360.1L252.2,363.3L249.0,363.3L248.2,366.4L247.4,363.3L244.2,363.3L245.6,360.1L244.2,356.9L247.4,356.9ZM244.5,355.0L245.3,358.1L248.5,358.1L247.1,361.3L248.5,364.5L245.3,364.5L244.5,367.6L243.7,364.5L240.5,364.5L241.9,361.3L240.5,358.1L243.7,358.1ZM243.8,355.4L244.6,358.5L247.8,358.5L246.4,361.7L247.8,364.9L244.6,364.9L243.8,368.0L243.0,364.9L239.8,364.9L241.2,361.7L239.8,358.5L243.0,358.5ZM227.7,423.4L228.5,426.5L231.7,426.5L230.3,429.7L231.7,432.9L228.5,432.9L227.7,436.0L226.9,432.9L223.7,432.9L225.1,429.7L223.7,426.5L226.9,426.5ZM230.8,425.7L231.6,428.8L234.8,428.8L233.4,432.0L234.8,435.2L231.6,435.2L230.8,438.3L230.0,435.2L226.8,435.2L228.2,432.0L226.8,428.8L230.0,428.8ZM234.5,427.0L235.3,430.1L238.5,430.1L237.1,433.3L238.5,436.5L235.3,436.5L234.5,439.6L233.7,436.5L230.5,436.5L231.9,433.3L230.5,430.1L233.7,430.1ZM238.2,428.6L239.0,431.7L242.2,431.7L240.8,434.9L242.2,438.1L239.0,438.1L238.2,441.2L237.4,438.1L234.2,438.1L235.6,434.9L234.2,431.7L237.4,431.7ZM241.8,427.6L242.6,430.7L245.8,430.7L244.4,433.9L245.8,437.1L242.6,437.1L241.8,440.2L241.0,437.1L237.8,437.1L239.2,433.9L237.8,430.7L241.0,430.7ZM245.5,425.9L246.3,429.0L249.5,429.0L248.1,432.2L249.5,435.4L246.3,435.4L245.5,438.5L244.7,435.4L241.5,435.4L242.9,432.2L241.5,429.0L244.7,429.0ZM248.9,423.9L249.7,427.0L252.9,427.0L251.5,430.2L252.9,433.4L249.7,433.4L248.9,436.5L248.1,433.4L244.9,433.4L246.3,430.2L244.9,427.0L248.1,427.0ZM251.5,421.1L252.3,424.2L255.5,424.2L254.1,427.4L255.5,430.6L252.3,430.6L251.5,433.7L250.7,430.6L247.5,430.6L248.9,427.4L247.5,424.2L250.7,424.2ZM252.0,417.2L252.8,420.3L256.0,420.3L254.6,423.5L256.0,426.7L252.8,426.7L252.0,429.8L251.2,426.7L248.0,426.7L249.4,423.5L248.0,420.3L251.2,420.3ZM251.5,413.4L252.3,416.5L255.5,416.5L254.1,419.7L255.5,422.9L252.3,422.9L251.5,426.0L250.7,422.9L247.5,422.9L248.9,419.7L247.5,416.5L250.7,416.5ZM248.3,412.7L249.1,415.8L252.3,415.8L250.9,419.0L252.3,422.2L249.1,422.2L248.3,425.3L247.5,422.2L244.3,422.2L245.7,419.0L244.3,415.8L247.5,415.8ZM245.7,415.6L246.5,418.7L249.7,418.7L248.3,421.9L249.7,425.1L246.5,425.1L245.7,428.2L244.9,425.1L241.7,425.1L243.1,421.9L241.7,418.7L244.9,418.7ZM242.0,417.1L242.8,420.2L246.0,420.2L244.6,423.4L246.0,426.6L242.8,426.6L242.0,429.7L241.2,426.6L238.0,426.6L239.4,423.4L238.0,420.2L241.2,420.2ZM238.2,418.6L239.0,421.7L242.2,421.7L240.8,424.9L242.2,428.1L239.0,428.1L238.2,431.2L237.4,428.1L234.2,428.1L235.6,424.9L234.2,421.7L237.4,421.7ZM234.6,420.2L235.4,423.3L238.6,423.3L237.2,426.5L238.6,429.7L235.4,429.7L234.6,432.8L233.8,429.7L230.6,429.7L232.0,426.5L230.6,423.3L233.8,423.3ZM231.0,422.0L231.8,425.1L235.0,425.1L233.6,428.3L235.0,431.5L231.8,431.5L231.0,434.6L230.2,431.5L227.0,431.5L228.4,428.3L227.0,425.1L230.2,425.1ZM227.7,423.4L228.5,426.5L231.7,426.5L230.3,429.7L231.7,432.9L228.5,432.9L227.7,436.0L226.9,432.9L223.7,432.9L225.1,429.7L223.7,426.5L226.9,426.5ZM171.7,473.5L172.5,476.6L175.7,476.6L174.3,479.8L175.7,483.0L172.5,483.0L171.7,486.1L170.9,483.0L167.7,483.0L169.1,479.8L167.7,476.6L170.9,476.6ZM170.3,477.3L171.1,480.4L174.3,480.4L172.9,483.6L174.3,486.8L171.1,486.8L170.3,489.9L169.5,486.8L166.3,486.8L167.7,483.6L166.3,480.4L169.5,480.4ZM169.5,481.2L170.3,484.3L173.5,484.3L172.1,487.5L173.5,490.7L170.3,490.7L169.5,493.8L168.7,490.7L165.5,490.7L166.9,487.5L165.5,484.3L168.7,484.3ZM169.1,485.1L169.9,488.2L173.1,488.2L171.7,491.4L173.1,494.6L169.9,494.6L169.1,497.7L168.3,494.6L165.1,494.6L166.5,491.4L165.1,488.2L168.3,488.2ZM170.7,488.7L171.5,491.8L174.7,491.8L173.3,495.0L174.7,498.2L171.5,498.2L170.7,501.3L169.9,498.2L166.7,498.2L168.1,495.0L166.7,491.8L169.9,491.8ZM173.2,491.8L174.0,494.9L177.2,494.9L175.8,498.1L177.2,501.3L174.0,501.3L173.2,504.4L172.4,501.3L169.2,501.3L170.6,498.1L169.2,494.9L172.4,494.9ZM176.4,494.2L177.2,497.3L180.4,497.3L179.0,500.5L180.4,503.7L177.2,503.7L176.4,506.8L175.6,503.7L172.4,503.7L173.8,500.5L172.4,497.3L175.6,497.3ZM179.7,493.3L180.5,496.4L183.7,496.4L182.3,499.6L183.7,502.8L180.5,502.8L179.7,505.9L178.9,502.8L175.7,502.8L177.1,499.6L175.7,496.4L178.9,496.4ZM183.1,491.1L183.9,494.2L187.1,494.2L185.7,497.4L187.1,500.6L183.9,500.6L183.1,503.7L182.3,500.6L179.1,500.6L180.5,497.4L179.1,494.2L182.3,494.2ZM187.0,491.2L187.8,494.3L191.0,494.3L189.6,497.5L191.0,500.7L187.8,500.7L187.0,503.8L186.2,500.7L183.0,500.7L184.4,497.5L183.0,494.3L186.2,494.3ZM191.0,491.5L191.8,494.6L195.0,494.6L193.6,497.8L195.0,501.0L191.8,501.0L191.0,504.1L190.2,501.0L187.0,501.0L188.4,497.8L187.0,494.6L190.2,494.6ZM195.0,491.9L195.8,495.0L199.0,495.0L197.6,498.2L199.0,501.4L195.8,501.4L195.0,504.5L194.2,501.4L191.0,501.4L192.4,498.2L191.0,495.0L194.2,495.0ZM198.7,490.6L199.5,493.7L202.7,493.7L201.3,496.9L202.7,500.1L199.5,500.1L198.7,503.2L197.9,500.1L194.7,500.1L196.1,496.9L194.7,493.7L197.9,493.7ZM201.9,488.5L202.7,491.6L205.9,491.6L204.5,494.8L205.9,498.0L202.7,498.0L201.9,501.1L201.1,498.0L197.9,498.0L199.3,494.8L197.9,491.6L201.1,491.6ZM202.2,484.6L203.0,487.7L206.2,487.7L204.8,490.9L206.2,494.1L203.0,494.1L202.2,497.2L201.4,494.1L198.2,494.1L199.6,490.9L198.2,487.7L201.4,487.7ZM202.2,480.6L203.0,483.7L206.2,483.7L204.8,486.9L206.2,490.1L203.0,490.1L202.2,493.2L201.4,490.1L198.2,490.1L199.6,486.9L198.2,483.7L201.4,483.7ZM202.2,476.6L203.0,479.7L206.2,479.7L204.8,482.9L206.2,486.1L203.0,486.1L202.2,489.2L201.4,486.1L198.2,486.1L199.6,482.9L198.2,479.7L201.4,479.7ZM202.8,472.7L203.6,475.8L206.8,475.8L205.4,479.0L206.8,482.2L203.6,482.2L202.8,485.3L202.0,482.2L198.8,482.2L200.2,479.0L198.8,475.8L202.0,475.8ZM204.3,469.0L205.1,472.1L208.3,472.1L206.9,475.3L208.3,478.5L205.1,478.5L204.3,481.6L203.5,478.5L200.3,478.5L201.7,475.3L200.3,472.1L203.5,472.1ZM202.8,467.0L203.6,470.1L206.8,470.1L205.4,473.3L206.8,476.5L203.6,476.5L202.8,479.6L202.0,476.5L198.8,476.5L200.2,473.3L198.8,470.1L202.0,470.1ZM198.9,467.7L199.7,470.8L202.9,470.8L201.5,474.0L202.9,477.2L199.7,477.2L198.9,480.3L198.1,477.2L194.9,477.2L196.3,474.0L194.9,470.8L198.1,470.8ZM195.0,468.8L195.8,471.9L199.0,471.9L197.6,475.1L199.0,478.3L195.8,478.3L195.0,481.4L194.2,478.3L191.0,478.3L192.4,475.1L191.0,471.9L194.2,471.9ZM191.1,469.7L191.9,472.8L195.1,472.8L193.7,476.0L195.1,479.2L191.9,479.2L191.1,482.3L190.3,479.2L187.1,479.2L188.5,476.0L187.1,472.8L190.3,472.8ZM187.2,470.4L188.0,473.5L191.2,473.5L189.8,476.7L191.2,479.9L188.0,479.9L187.2,483.0L186.4,479.9L183.2,479.9L184.6,476.7L183.2,473.5L186.4,473.5ZM183.2,471.0L184.0,474.1L187.2,474.1L185.8,477.3L187.2,480.5L184.0,480.5L183.2,483.6L182.4,480.5L179.2,480.5L180.6,477.3L179.2,474.1L182.4,474.1ZM179.3,471.8L180.1,474.9L183.3,474.9L181.9,478.1L183.3,481.3L180.1,481.3L179.3,484.4L178.5,481.3L175.3,481.3L176.7,478.1L175.3,474.9L178.5,474.9ZM175.4,472.7L176.2,475.8L179.4,475.8L178.0,479.0L179.4,482.2L176.2,482.2L175.4,485.3L174.6,482.2L171.4,482.2L172.8,479.0L171.4,475.8L174.6,475.8ZM171.7,473.5L172.5,476.6L175.7,476.6L174.3,479.8L175.7,483.0L172.5,483.0L171.7,486.1L170.9,483.0L167.7,483.0L169.1,479.8L167.7,476.6L170.9,476.6Z" fill="none" stroke="#ff0000" stroke-width="1.2" shape-rendering="auto"/></g><path d="M64.0,521.8v-3.5M64.0,332.1v3.5M64.0,521.8h3.5M326.6,521.8h-3.5M151.5,521.8v-3.5M151.5,332.1v3.5M64.0,458.6h3.5M326.6,458.6h-3.5M239.1,521.8v-3.5M239.1,332.1v3.5M64.0,395.3h3.5M326.6,395.3h-3.5M326.6,521.8v-3.5M326.6,332.1v3.5M64.0,332.1h3.5M326.6,332.1h-3.5" stroke="#000" stroke-width="1.6" fill="none"/><rect x="64.0" y="332.1" width="262.6" height="189.7" fill="none" stroke="#000" stroke-width="1.6"/><text x="58.47" y="542.0" class="t">0</text><text x="46.95" y="526.1" class="t">0</text><text x="150.88" y="542.0" class="t">0</text><path d="M146.66,542.00L148.14,542.00L148.14,529.95L147.00,529.95L146.32,531.12L145.04,531.97L143.68,532.31L143.68,533.41L145.38,533.08L146.66,532.39Z" fill="#000"/><text x="46.95" y="462.9" class="t">0</text><path d="M42.72,462.87L44.20,462.87L44.20,450.81L43.06,450.81L42.38,451.99L41.11,452.84L39.75,453.18L39.75,454.28L41.45,453.94L42.72,453.26Z" fill="#000"/><text x="228.66 238.42" y="542.0" class="t">20</text><text x="37.20 46.95" y="399.6" class="t">20</text><text x="316.20 325.95" y="542.0" class="t">30</text><text x="37.20 46.95" y="336.4" class="t">30</text><text x="99.84 119.10 132.70 163.47 178.50 208.56 239.33 254.35 269.38" y="314.2" class="ti">Nc=00~500</text><path d="M156.73,314.20L158.95,314.20L158.95,296.12L157.24,296.12L156.22,297.88L154.31,299.16L152.27,299.67L152.27,301.32L154.82,300.81L156.73,299.79Z" fill="#000"/><path d="M201.81,314.20L204.03,314.20L204.03,296.12L202.32,296.12L201.30,297.88L199.39,299.16L197.35,299.67L197.35,301.32L199.90,300.81L201.81,299.79Z" fill="#000"/><path d="M232.58,314.20L234.80,314.20L234.80,296.12L233.09,296.12L232.07,297.88L230.16,299.16L228.12,299.67L228.12,301.32L230.67,300.81L232.58,299.79Z" fill="#000"/><g transform="translate(188.0,561.4)"><ellipse cx="0" cy="0" rx="3.60" ry="6.00" fill="none" stroke="#000" stroke-width="1.30"/><path d="M-3.60,0h7.20" stroke="#000" stroke-width="1.30"/><path d="M11.00,15.30L12.39,15.30L12.39,3.96L11.32,3.96L10.68,5.06L9.48,5.86L8.20,6.18L8.20,7.22L9.80,6.90L11.00,6.26Z" fill="#000"/></g><g transform="translate(8.8,432.9) rotate(-90)"><ellipse cx="0" cy="0" rx="3.60" ry="6.00" fill="none" stroke="#000" stroke-width="1.30"/><path d="M-3.60,0h7.20" stroke="#000" stroke-width="1.30"/><text x="5.20" y="13.70" class="sub">2</text></g><clipPath id="c3"><rect x="412.4" y="331.9" width="262.6" height="189.7"/></clipPath><g clip-path="url(#c3)"><g fill="none" stroke-width="1.4" stroke-linejoin="round"><path d="M543.7,493.5 541.5,493.1 539.3,491.9 538.4,490.0 539.3,488.2 541.8,486.8 543.7,486.5 545.6,486.8 548.1,488.2 549.1,490.0 548.1,491.9 545.9,493.1 543.7,493.5" stroke="#000096"/><path d="M539.3,497.4 535.9,496.3 534.9,495.7 532.2,493.1 531.1,490.0 532.3,486.8 534.9,484.3 536.1,483.7 539.3,482.6 543.7,482.1 548.1,482.6 551.4,483.7 552.5,484.3 555.2,486.8 556.4,490.0 555.2,493.1 552.5,495.7 551.5,496.3 548.1,497.4 543.7,497.9 539.3,497.4" stroke="#0000bb"/><path d="M539.3,499.9 537.3,499.5 534.9,498.7 530.7,496.3 530.6,496.2 528.3,493.1 527.5,490.0 528.3,486.8 530.6,483.9 530.8,483.7 534.9,481.4 537.5,480.5 539.3,480.1 543.7,479.7 548.1,480.1 549.9,480.5 552.5,481.4 556.6,483.7 556.8,483.8 559.1,486.8 559.9,490.0 559.1,493.1 556.8,496.2 556.7,496.3 552.5,498.7 550.1,499.5 548.1,499.9 543.7,500.3 539.3,499.9" stroke="#0000e0"/><path d="M534.9,500.8 531.7,499.5 530.6,498.8 527.4,496.3 526.2,494.8 525.2,493.1 524.6,490.0 525.2,486.8 526.2,485.2 527.4,483.7 530.6,481.2 531.8,480.5 534.9,479.2 539.3,478.2 543.7,477.9 548.1,478.2 552.5,479.2 555.6,480.5 556.8,481.2 560.0,483.7 561.2,485.2 562.2,486.8 562.8,490.0 562.2,493.1 561.2,494.8 560.0,496.3 556.8,498.8 555.7,499.5 552.5,500.8 548.1,501.8 543.7,502.2 539.3,501.8 534.9,500.8" stroke="#0006ff"/><path d="M534.9,502.6 534.9,502.6 530.6,500.9 528.0,499.5 526.2,498.0 524.4,496.3 522.6,493.1 522.0,490.0 522.6,486.8 524.5,483.7 526.2,482.0 528.1,480.5 530.6,479.1 534.9,477.4 535.1,477.3 539.3,476.5 543.7,476.2 548.1,476.5 552.3,477.3 552.5,477.4 556.8,479.1 559.3,480.5 561.2,482.0 562.9,483.7 564.8,486.8 565.4,490.0 564.8,493.1 563.0,496.3 561.2,498.0 559.4,499.5 556.8,500.9 552.5,502.6 552.5,502.6 548.1,503.5 543.7,503.8 539.3,503.5 534.9,502.6" stroke="#002cff"/><path d="M530.6,502.8 530.1,502.6 526.2,500.5 524.8,499.5 521.8,496.4 521.8,496.3 520.1,493.1 519.6,490.0 520.2,486.8 521.8,483.7 521.8,483.6 524.9,480.5 526.2,479.6 530.2,477.3 530.6,477.2 534.9,475.8 539.3,475.0 543.7,474.7 548.1,475.0 552.5,475.8 556.8,477.2 557.2,477.3 561.2,479.6 562.5,480.5 565.6,483.6 565.6,483.7 567.3,486.8 567.8,490.0 567.3,493.1 565.7,496.3 565.6,496.4 562.6,499.5 561.2,500.5 557.3,502.6 556.8,502.8 552.5,504.2 548.1,505.0 543.7,505.3 539.3,505.0 534.9,504.2 530.6,502.8 M578.7,430.1 578.6,429.9 578.7,428.8 579.3,426.8 582.9,423.6 583.1,423.5 587.5,422.7 590.8,423.6 591.8,425.8 592.0,426.8 591.8,426.9 588.9,429.9 587.5,430.7 583.1,431.7 578.7,430.1" stroke="#0051ff"/><path d="M534.9,505.8 534.8,505.8 530.6,504.5 526.3,502.6 526.2,502.6 521.9,499.5 521.8,499.4 519.2,496.3 517.8,493.1 517.4,490.9 517.3,490.0 517.4,489.1 517.8,486.8 519.3,483.7 521.8,480.7 522.0,480.5 526.2,477.5 526.5,477.3 530.6,475.5 534.9,474.2 534.9,474.2 539.3,473.4 543.7,473.2 548.1,473.4 552.5,474.2 552.5,474.2 556.8,475.5 561.0,477.3 561.2,477.5 565.4,480.5 565.6,480.6 568.1,483.7 569.6,486.8 570.0,489.0 570.1,490.0 570.0,491.0 569.6,493.1 568.2,496.3 565.6,499.4 565.5,499.5 561.2,502.6 561.1,502.6 556.8,504.5 552.6,505.8 552.5,505.8 548.1,506.6 543.7,506.8 539.3,506.6 534.9,505.8 M578.7,436.4 577.8,436.2 574.3,434.8 572.7,433.1 572.0,429.9 573.0,426.8 574.3,424.7 575.3,423.6 578.7,420.9 579.5,420.4 583.1,418.9 587.5,417.8 591.8,417.8 596.2,419.4 597.6,420.4 599.2,423.6 598.6,426.8 596.4,429.9 596.2,430.1 592.2,433.1 591.8,433.3 587.5,435.1 583.4,436.2 583.1,436.3 578.7,436.4" stroke="#0076ff"/><path d="M530.6,506.3 529.3,505.8 526.2,504.5 522.9,502.6 521.8,501.8 519.1,499.5 517.4,497.4 516.7,496.3 515.3,493.1 514.9,490.0 515.3,486.8 516.7,483.7 517.4,482.7 519.2,480.5 521.8,478.3 523.1,477.3 526.2,475.6 529.4,474.2 530.6,473.7 534.9,472.5 539.3,471.8 543.7,471.6 548.1,471.9 552.5,472.5 556.8,473.7 558.0,474.2 561.2,475.5 564.4,477.3 565.6,478.2 568.3,480.5 570.0,482.6 570.7,483.7 572.1,486.8 572.5,490.0 572.1,493.1 570.8,496.3 570.0,497.4 568.3,499.5 565.6,501.8 564.5,502.6 561.2,504.5 558.1,505.8 556.8,506.3 552.5,507.5 548.1,508.1 543.7,508.3 539.3,508.1 534.9,507.5 530.6,506.3 M451.8,459.9 450.2,458.4 451.0,455.2 451.8,454.7 456.2,454.5 457.5,455.2 458.4,458.4 456.2,460.3 451.8,459.9 M578.7,439.6 575.6,439.4 574.3,439.3 570.0,437.2 569.0,436.2 567.6,433.1 567.6,429.9 568.7,426.8 570.0,424.8 570.9,423.6 574.3,420.4 574.3,420.4 578.7,417.6 579.5,417.3 583.1,415.8 587.5,414.7 591.8,414.4 596.2,415.2 600.6,417.2 600.7,417.3 603.4,420.4 604.1,423.6 603.1,426.8 600.9,429.9 600.6,430.2 597.3,433.1 596.2,433.8 592.0,436.2 591.8,436.3 587.5,438.0 583.1,439.1 580.8,439.4 578.7,439.6" stroke="#009bff"/><path d="M534.9,509.1 534.3,509.0 530.6,508.1 526.2,506.5 524.7,505.8 521.8,504.2 519.5,502.6 517.4,500.8 516.1,499.5 514.0,496.3 513.1,493.9 512.8,493.1 512.4,490.0 512.8,486.8 513.1,486.2 514.0,483.7 516.3,480.5 517.4,479.4 519.8,477.3 521.8,476.0 525.1,474.2 526.2,473.6 530.6,471.9 534.3,471.0 534.9,470.8 539.3,470.1 543.7,469.9 548.1,470.2 552.5,470.9 553.1,471.0 556.8,471.9 561.2,473.5 562.6,474.2 565.6,475.8 567.8,477.3 570.0,479.2 571.2,480.5 573.4,483.7 574.3,486.1 574.6,486.8 575.1,490.0 574.6,493.1 574.3,493.9 573.4,496.3 571.3,499.5 570.0,500.8 567.9,502.6 565.6,504.2 562.7,505.8 561.2,506.5 556.8,508.1 553.1,509.0 552.5,509.1 548.1,509.8 543.7,510.0 539.3,509.8 534.9,509.1 M451.8,462.4 450.0,461.5 447.4,458.9 447.1,458.4 447.4,456.5 447.7,455.2 451.8,452.5 456.2,452.3 460.5,454.7 461.0,455.2 461.5,458.4 460.5,460.0 458.7,461.5 456.2,462.6 451.8,462.4 M570.0,441.7 565.9,439.4 565.6,439.0 564.0,436.2 563.4,433.1 563.7,429.9 564.9,426.8 565.6,425.8 567.2,423.6 570.0,420.9 570.4,420.4 574.3,417.6 574.8,417.3 578.7,415.1 580.9,414.1 583.1,413.2 587.5,412.0 591.8,411.5 596.2,411.9 600.6,413.1 602.5,414.1 605.0,415.8 606.4,417.3 608.0,420.4 608.2,423.6 607.1,426.8 605.0,429.6 604.7,429.9 601.3,433.1 600.6,433.6 596.7,436.2 596.2,436.5 591.8,438.8 590.3,439.4 587.5,440.5 583.1,441.7 578.7,442.3 574.3,442.4 570.0,441.7 M478.0,368.2 475.5,366.7 473.8,363.5 475.5,360.4 478.0,358.8 482.4,358.2 486.8,359.6 487.7,360.4 489.0,363.5 487.7,366.7 486.8,367.4 482.4,368.9 478.0,368.2 M591.8,367.6 590.2,366.7 587.8,363.5 588.7,360.4 591.8,358.1 596.2,357.3 600.6,359.0 602.0,360.4 602.7,363.5 601.0,366.7 600.6,367.0 596.2,368.2 591.8,367.6" stroke="#00c1ff"/><path d="M530.6,510.1 527.1,509.0 526.2,508.7 521.8,506.7 520.2,505.8 517.4,503.9 515.8,502.6 513.1,499.6 513.0,499.5 510.9,496.3 509.8,493.1 509.5,490.0 509.9,486.8 511.0,483.7 513.1,480.8 513.3,480.5 516.5,477.3 517.4,476.7 521.1,474.2 521.8,473.8 526.2,471.6 527.7,471.0 530.6,469.9 534.9,468.8 539.3,468.3 543.7,468.1 548.1,468.3 552.5,468.8 556.8,469.8 560.1,471.0 561.2,471.4 565.6,473.3 567.0,474.2 570.0,476.2 571.4,477.3 574.3,480.5 574.3,480.5 576.4,483.7 577.6,486.8 577.9,490.0 577.6,493.1 576.5,496.3 574.4,499.5 574.3,499.6 571.6,502.6 570.0,503.9 567.2,505.8 565.6,506.7 561.2,508.7 560.3,509.0 556.8,510.1 552.5,511.1 548.1,511.6 543.7,511.7 539.3,511.6 534.9,511.1 530.6,510.1 M447.4,462.1 446.7,461.5 444.9,458.4 445.4,455.2 447.4,452.9 448.7,452.0 451.8,450.8 456.2,450.7 460.1,452.0 460.5,452.3 463.2,455.2 463.6,458.4 461.9,461.5 460.5,462.6 456.2,464.2 451.8,464.0 447.4,462.1 M565.6,444.4 562.5,442.6 561.2,441.1 560.3,439.4 559.4,436.2 559.3,433.1 559.8,429.9 561.2,426.9 561.3,426.8 563.6,423.6 565.6,421.8 567.0,420.4 570.0,418.2 571.2,417.3 574.3,415.2 576.3,414.1 578.7,412.8 582.7,410.9 583.1,410.8 587.5,409.4 591.8,408.7 596.2,408.7 600.6,409.6 604.2,410.9 605.0,411.3 609.1,414.1 609.4,414.4 611.2,417.3 612.0,420.4 611.9,423.6 610.7,426.8 609.4,428.5 608.3,429.9 605.0,433.0 604.8,433.1 600.6,436.2 600.6,436.2 596.2,438.9 595.3,439.4 591.8,441.2 588.3,442.6 587.5,442.9 583.1,444.2 578.7,445.0 574.3,445.4 570.0,445.3 565.6,444.4 M478.0,371.1 475.0,369.8 473.7,369.0 471.5,366.7 470.6,363.5 471.5,360.4 473.7,358.0 475.0,357.2 478.0,356.0 482.4,355.6 486.8,356.5 488.2,357.2 491.2,359.7 491.7,360.4 492.6,363.5 491.7,366.7 491.2,367.3 488.1,369.8 486.8,370.5 482.4,371.4 478.0,371.1 M591.8,370.4 590.5,369.8 587.5,368.1 585.9,366.7 584.5,363.5 585.0,360.4 587.5,357.2 587.5,357.2 591.8,355.4 596.2,355.0 600.6,355.9 603.0,357.2 605.0,359.1 605.9,360.4 606.4,363.5 605.1,366.7 605.0,366.8 600.8,369.8 600.6,369.9 596.2,370.8 591.8,370.4" stroke="#00e6ff"/><path d="M530.6,512.5 529.4,512.1 526.2,511.3 521.8,509.5 520.7,509.0 517.4,507.2 515.3,505.8 513.1,503.9 511.6,502.6 509.1,499.5 508.7,498.7 507.2,496.3 506.2,493.1 505.9,490.0 506.2,486.8 507.4,483.7 508.7,481.9 509.5,480.5 512.9,477.3 513.1,477.2 517.3,474.2 517.4,474.1 521.8,471.5 522.7,471.0 526.2,469.2 530.1,467.9 530.6,467.6 534.9,466.4 539.3,465.7 543.7,465.5 548.1,465.7 552.5,466.3 556.8,467.4 558.2,467.9 561.2,468.7 565.6,470.5 566.5,471.0 570.0,472.9 571.8,474.2 574.3,476.3 575.5,477.3 578.1,480.5 578.7,481.6 580.0,483.7 581.1,486.8 581.5,490.0 581.2,493.1 580.2,496.3 578.7,498.8 578.3,499.5 575.8,502.6 574.3,504.0 572.1,505.8 570.0,507.2 566.7,509.0 565.6,509.5 561.2,511.3 558.0,512.1 556.8,512.5 552.5,513.4 548.1,513.9 543.7,514.1 539.3,513.9 534.9,513.4 530.6,512.5 M451.8,465.9 448.5,464.7 447.4,464.3 444.0,461.5 443.0,459.2 442.6,458.4 443.0,455.5 443.1,455.2 445.3,452.0 447.4,450.6 451.8,449.2 456.2,449.1 460.5,450.3 463.2,452.0 464.9,454.3 465.5,455.2 465.9,458.4 464.9,460.6 464.5,461.5 460.5,464.6 460.4,464.7 456.2,466.0 451.8,465.9 M565.6,449.0 565.0,448.9 561.2,448.2 557.1,445.7 556.8,445.3 555.5,442.6 554.8,439.4 554.6,436.2 554.8,433.1 555.6,429.9 556.8,427.8 557.4,426.8 560.1,423.6 561.2,422.7 563.7,420.4 565.6,419.0 567.9,417.3 570.0,415.9 572.7,414.1 574.3,413.1 578.0,410.9 578.7,410.5 583.1,408.3 584.7,407.8 587.5,406.6 591.8,405.6 596.2,405.3 600.6,405.8 605.0,406.9 606.9,407.8 609.4,408.9 612.2,410.9 613.7,412.7 614.4,414.1 614.9,417.3 615.1,420.4 615.1,423.6 614.3,426.8 613.7,427.6 611.9,429.9 609.4,432.1 608.3,433.1 605.0,435.5 604.0,436.2 600.6,438.5 599.2,439.4 596.2,441.2 593.6,442.6 591.8,443.6 587.5,445.5 586.6,445.7 583.1,447.0 578.7,448.0 574.3,448.7 571.1,448.9 570.0,449.0 565.6,449.0 M478.0,373.3 477.0,373.0 473.7,371.9 470.6,369.8 469.3,368.3 468.1,366.7 467.4,363.5 468.1,360.4 469.3,358.7 470.6,357.2 473.7,355.1 476.9,354.0 478.0,353.6 482.4,353.3 486.3,354.0 486.8,354.1 491.2,356.1 492.6,357.2 494.9,360.4 495.5,363.5 494.8,366.7 492.4,369.8 491.2,370.8 486.8,372.9 486.0,373.0 482.4,373.7 478.0,373.3 M587.5,371.0 585.8,369.8 583.1,367.1 582.7,366.7 581.4,363.5 581.7,360.4 583.1,358.2 583.8,357.2 587.5,354.5 588.7,354.0 591.8,353.0 596.2,352.7 600.6,353.4 602.0,354.0 605.0,355.5 607.0,357.2 608.9,360.4 609.3,363.5 608.4,366.7 605.6,369.8 605.0,370.3 600.6,372.3 596.2,372.9 591.8,372.5 587.5,371.0" stroke="#0cfff3"/><path d="M530.6,516.1 527.8,515.3 526.2,514.9 521.8,513.6 518.6,512.1 517.4,511.6 513.1,509.1 512.9,509.0 508.8,505.8 508.7,505.7 505.5,502.6 504.3,500.7 503.4,499.5 501.8,496.3 501.0,493.1 500.7,490.0 501.1,486.8 502.1,483.7 504.3,481.0 504.6,480.5 508.4,477.3 508.7,477.2 513.1,474.3 513.2,474.2 517.4,471.5 518.3,471.0 521.8,468.9 523.8,467.9 526.2,466.3 530.0,464.7 530.6,464.3 534.9,462.6 539.3,461.7 541.5,461.5 543.7,461.0 548.1,460.7 551.0,461.5 552.5,461.7 556.8,462.8 560.9,464.7 561.2,464.8 565.6,466.4 568.3,467.9 570.0,468.6 573.7,471.0 574.3,471.4 577.8,474.2 578.7,475.1 580.9,477.3 583.1,480.5 583.1,480.5 585.0,483.7 586.1,486.8 586.5,490.0 586.4,493.1 585.6,496.3 584.1,499.5 583.1,500.7 581.9,502.6 578.7,505.7 578.6,505.8 574.5,509.0 574.3,509.1 570.0,511.6 568.8,512.1 565.6,513.6 561.2,514.9 559.6,515.3 556.8,516.1 552.5,516.9 548.1,517.3 543.7,517.5 539.3,517.3 534.9,516.9 530.6,516.1 M451.8,467.9 451.7,467.9 447.4,467.0 443.6,464.7 443.0,464.2 440.4,461.5 439.5,458.4 439.7,455.2 441.5,452.0 443.0,450.7 445.9,448.9 447.4,448.1 451.8,447.1 456.2,447.1 460.5,448.0 462.4,448.9 464.9,450.4 466.5,452.0 468.0,455.2 468.2,458.4 467.4,461.5 464.9,464.6 464.8,464.7 460.5,467.2 456.7,467.9 456.2,468.0 451.8,467.9 M556.8,455.3 555.7,455.2 552.5,454.9 549.0,452.0 548.1,449.3 548.0,448.9 547.9,445.7 548.1,443.3 548.1,442.6 548.3,439.4 548.5,436.2 549.0,433.1 550.3,429.9 552.5,427.3 552.8,426.8 556.2,423.6 556.8,423.2 560.3,420.4 561.2,419.8 564.8,417.3 565.6,416.8 569.5,414.1 570.0,413.8 574.3,411.0 574.4,410.9 578.7,408.2 579.6,407.8 583.1,405.7 585.4,404.6 587.5,403.4 591.8,401.8 593.9,401.5 596.2,400.9 600.6,400.8 604.6,401.5 605.0,401.5 609.4,402.7 613.6,404.6 613.7,404.7 618.0,407.8 618.1,408.1 618.8,410.9 618.3,414.1 618.1,415.5 617.8,417.3 617.7,420.4 617.8,423.6 617.6,426.8 615.6,429.9 613.7,431.4 611.8,433.1 609.4,434.8 607.4,436.2 605.0,437.9 602.7,439.4 600.6,440.8 597.8,442.6 596.2,443.6 592.5,445.7 591.8,446.1 587.5,448.4 586.3,448.9 583.1,450.5 578.7,451.8 577.7,452.0 574.3,453.0 570.0,453.9 565.6,454.5 561.2,455.0 557.7,455.2 556.8,455.3 M473.7,375.0 469.9,373.0 469.3,372.6 466.1,369.8 464.9,367.5 464.4,366.7 463.7,363.5 464.4,360.4 464.9,359.5 466.1,357.2 469.3,354.4 469.8,354.0 473.7,352.0 478.0,351.0 481.7,350.9 482.4,350.8 482.8,350.9 486.8,351.3 491.2,352.7 493.4,354.0 495.6,355.8 497.1,357.2 498.8,360.4 499.2,363.5 498.6,366.7 496.7,369.8 495.6,370.9 492.9,373.0 491.2,374.1 486.8,375.6 482.4,376.1 478.0,376.0 473.7,375.0 M587.5,373.7 586.4,373.0 583.1,370.9 581.9,369.8 579.4,366.7 578.7,364.7 578.1,363.5 578.2,360.4 578.7,359.3 579.5,357.2 582.7,354.0 583.1,353.7 587.5,351.4 589.9,350.9 591.8,350.3 596.2,350.0 600.6,350.7 601.0,350.9 605.0,352.1 608.1,354.0 609.4,355.2 611.4,357.2 612.8,360.4 613.1,363.5 612.4,366.7 610.3,369.8 609.4,370.6 606.1,373.0 605.0,373.6 600.6,375.2 596.2,375.6 591.8,375.2 587.5,373.7" stroke="#31ffce"/><path d="M481.2,477.3 482.4,478.0 486.8,479.3 491.2,479.7 495.6,479.2 499.9,477.8 500.7,477.3 504.3,476.2 508.2,474.2 508.7,474.0 513.1,471.6 514.0,471.0 517.4,468.9 519.1,467.9 521.8,465.7 523.4,464.7 526.2,461.9 526.8,461.5 529.3,458.4 530.5,455.2 530.6,454.4 531.2,452.0 531.5,448.9 531.9,445.7 532.4,442.6 533.2,439.4 534.7,436.2 534.9,436.0 536.8,433.1 539.3,431.5 540.8,429.9 543.7,428.5 545.9,426.8 548.1,425.8 551.3,423.6 552.5,423.0 556.6,420.4 556.8,420.3 561.2,417.6 561.6,417.3 565.6,414.7 566.5,414.1 570.0,411.8 571.4,410.9 574.3,408.9 576.1,407.8 578.7,405.8 580.6,404.6 583.1,402.5 584.8,401.5 587.5,398.9 588.5,398.3 591.6,395.1 591.8,394.5 594.2,392.0 595.3,388.8 595.4,385.6 594.3,382.5 591.8,380.9 590.4,379.3 587.5,378.0 585.2,376.2 583.1,375.0 580.7,373.0 578.7,371.2 577.1,369.8 574.4,366.7 574.3,366.5 571.5,363.5 570.0,361.2 568.2,360.4 565.6,358.7 561.2,357.5 559.1,357.2 556.8,356.6 552.5,355.8 548.1,355.3 543.7,355.2 539.3,355.3 534.9,355.7 530.6,356.5 528.2,357.2 526.2,357.5 521.8,358.6 517.7,360.4 517.4,360.4 513.1,362.2 511.2,363.5 508.7,365.1 507.4,366.7 504.3,369.8 504.3,369.8 501.5,373.0 499.9,374.6 498.2,376.2 495.6,378.8 494.7,379.3 491.8,382.5 491.2,383.8 489.7,385.6 488.3,388.8 487.4,392.0 486.8,394.7 486.6,395.1 485.2,398.3 483.9,401.5 482.4,404.1 481.8,404.6 478.0,407.4 477.2,407.8 473.7,409.8 471.7,410.9 469.3,412.5 466.8,414.1 464.9,414.6 460.5,414.9 456.2,415.1 451.8,415.9 448.7,417.3 447.4,417.5 443.0,419.2 441.3,420.4 438.7,422.7 437.6,423.6 435.2,426.8 434.5,429.9 434.4,433.1 434.9,436.2 436.4,439.4 438.7,441.4 440.0,442.6 443.0,443.7 447.4,444.4 451.8,444.6 456.2,444.8 460.5,444.9 464.9,445.1 467.0,445.7 469.3,448.7 469.3,448.9 470.4,452.0 471.1,455.2 471.3,458.4 471.0,461.5 470.5,464.7 470.2,467.9 471.3,471.0 473.7,473.0 475.1,474.2 478.0,476.0 481.2,477.3 M675.0,434.5 673.7,433.1 670.6,430.6 669.8,429.9 666.2,427.4 665.0,426.8 661.9,424.9 658.8,423.6 657.5,422.9 654.0,420.4 653.1,419.6 652.4,417.3 650.5,414.1 648.7,412.6 647.3,410.9 644.4,409.0 640.6,407.8 640.0,407.5 635.6,406.4 631.2,406.9 629.7,407.8 626.9,408.5 623.8,410.9 622.5,412.1 621.2,414.1 620.0,417.3 619.7,420.4 620.0,423.6 620.4,426.8 619.5,429.9 618.1,431.0 615.5,433.1 613.7,434.2 610.8,436.2 609.3,437.1 606.0,439.4 605.0,440.1 601.4,442.6 600.6,443.1 596.8,445.7 596.2,446.2 592.3,448.9 591.8,449.3 588.0,452.0 587.5,452.6 584.0,455.2 583.1,456.4 580.6,458.4 579.0,461.5 579.4,464.7 581.3,467.9 583.1,469.9 583.8,471.0 586.5,474.2 587.5,475.4 589.1,477.3 591.7,480.5 591.8,480.7 594.5,483.7 596.2,485.8 597.5,486.8 600.6,489.7 601.2,490.0 605.0,492.3 607.3,493.1 609.4,494.0 613.7,495.3 618.1,496.0 620.9,496.3 622.5,496.6 626.9,497.0 631.2,497.1 635.6,496.9 639.9,496.3 640.0,496.3 644.4,495.8 648.7,494.9 653.1,493.4 653.7,493.1 657.5,491.9 661.4,490.0 661.9,489.8 666.2,487.3 667.0,486.8 670.6,484.2 671.4,483.7 674.8,480.5 675.0,480.3" stroke="#57ffa8"/><path d="M621.0,486.8 622.5,487.1 626.9,487.6 631.2,487.7 635.6,487.5 639.8,486.8 640.0,486.8 644.4,486.0 648.7,484.6 651.0,483.7 653.1,482.8 657.3,480.5 657.5,480.4 661.8,477.3 661.9,477.3 665.2,474.2 666.2,472.9 667.8,471.0 669.7,467.9 670.6,465.5 671.0,464.7 671.9,461.5 672.3,458.4 672.2,455.2 671.6,452.0 670.6,449.4 670.5,448.9 669.1,445.7 666.8,442.6 666.2,441.9 664.0,439.4 661.9,437.5 660.3,436.2 657.5,434.4 655.1,433.1 653.1,432.0 648.7,430.1 648.3,429.9 646.1,426.8 646.5,423.6 646.7,420.4 645.8,417.3 644.4,415.5 643.3,414.1 640.0,411.8 637.1,410.9 635.6,410.4 631.2,410.4 629.7,410.9 626.9,411.8 624.1,414.1 622.5,416.5 622.1,417.3 621.6,420.4 622.1,423.6 622.5,424.9 623.2,426.8 623.5,429.9 622.5,430.9 620.0,433.1 618.1,434.0 614.4,436.2 613.7,436.6 609.4,439.4 609.3,439.4 605.0,442.4 604.7,442.6 600.6,445.6 600.4,445.7 596.6,448.9 596.2,449.3 593.3,452.0 591.8,454.3 591.0,455.2 589.6,458.4 589.2,461.5 589.8,464.7 591.1,467.9 591.8,468.9 593.1,471.0 595.7,474.2 596.2,474.7 599.0,477.3 600.6,478.6 603.4,480.5 605.0,481.5 609.4,483.5 609.7,483.7 613.7,485.3 618.1,486.4 621.0,486.8 M484.3,471.0 486.8,472.3 491.2,473.6 495.6,474.1 499.9,473.9 504.3,473.0 508.7,471.3 509.2,471.0 513.1,469.0 514.8,467.9 517.4,465.8 518.9,464.7 521.5,461.5 521.8,460.8 523.1,458.4 523.5,455.2 523.0,452.0 521.8,449.8 521.4,448.9 518.9,445.7 517.4,444.4 514.6,442.6 513.1,441.6 508.7,440.0 505.9,439.4 504.3,439.0 499.9,438.6 495.6,438.8 492.8,439.4 491.2,439.7 486.8,441.0 484.0,442.6 482.4,443.5 479.6,445.7 478.0,447.5 476.9,448.9 475.5,452.0 475.0,455.2 475.0,458.4 475.6,461.5 477.0,464.7 478.0,465.9 479.7,467.9 482.4,469.9 484.3,471.0 M445.3,439.4 447.4,440.7 451.8,442.0 456.2,442.3 460.5,441.8 464.9,439.9 465.7,439.4 468.7,436.2 469.3,434.2 469.9,433.1 469.5,429.9 469.3,429.7 467.9,426.8 464.9,424.3 463.4,423.6 460.5,422.2 456.2,421.6 451.8,421.9 447.6,423.6 447.4,423.7 443.3,426.8 443.0,427.2 441.2,429.9 440.9,433.1 442.2,436.2 443.0,437.1 445.3,439.4 M528.6,423.6 530.6,424.1 534.9,424.5 539.3,424.3 542.7,423.6 543.7,423.4 548.1,422.2 551.9,420.4 552.5,420.2 556.8,418.1 558.1,417.3 561.2,415.6 563.5,414.1 565.6,412.8 568.4,410.9 570.0,409.9 572.9,407.8 574.3,406.6 577.0,404.6 578.7,402.9 580.4,401.5 582.9,398.3 583.1,397.8 584.7,395.1 585.5,392.0 585.4,388.8 584.6,385.6 583.1,382.8 583.0,382.5 581.0,379.3 578.7,377.0 577.9,376.2 574.3,373.1 574.2,373.0 570.0,370.0 569.7,369.8 565.6,367.6 562.9,366.7 561.2,366.0 556.8,364.7 552.5,363.9 548.3,363.5 548.1,363.5 543.7,363.3 539.3,363.5 539.1,363.5 534.9,363.9 530.6,364.7 526.2,365.9 524.4,366.7 521.8,367.6 517.5,369.8 517.4,369.9 513.1,372.7 512.7,373.0 509.0,376.2 508.7,376.6 506.1,379.3 504.3,382.3 504.2,382.5 502.4,385.6 501.3,388.8 500.8,392.0 500.6,395.1 500.9,398.3 501.5,401.5 502.7,404.6 504.3,407.2 504.6,407.8 506.7,410.9 508.7,413.0 509.8,414.1 513.1,416.8 513.8,417.3 517.4,419.6 519.2,420.4 521.8,421.7 526.2,423.1 528.6,423.6" stroke="#7cff83"/><path d="M613.4,480.5 613.7,480.6 618.1,482.1 622.5,483.0 626.9,483.4 631.2,483.5 635.6,483.3 640.0,482.7 644.4,481.6 647.2,480.5 648.7,479.9 653.1,477.7 653.8,477.3 657.5,474.7 658.1,474.2 661.3,471.0 661.9,470.2 663.6,467.9 665.2,464.7 666.1,461.5 666.2,460.2 666.5,458.4 666.4,455.2 666.2,454.5 665.8,452.0 664.6,448.9 662.8,445.7 661.9,444.6 660.2,442.6 657.5,440.1 656.6,439.4 653.1,437.1 651.5,436.2 648.7,434.9 644.4,433.3 643.6,433.1 640.0,430.9 638.7,429.9 640.0,428.8 641.0,426.8 642.8,423.6 643.3,420.4 642.4,417.3 640.0,414.6 639.1,414.1 635.6,412.7 631.2,412.5 627.1,414.1 626.9,414.2 624.5,417.3 623.8,420.4 624.4,423.6 626.1,426.8 626.9,428.3 628.9,429.9 626.9,431.9 625.9,433.1 622.5,434.4 618.7,436.2 618.1,436.5 613.7,438.9 612.9,439.4 609.4,441.7 608.0,442.6 605.0,444.9 603.8,445.7 600.6,448.6 600.3,448.9 597.5,452.0 596.2,454.4 595.7,455.2 594.8,458.4 594.8,461.5 595.6,464.7 596.2,465.9 597.1,467.9 599.4,471.0 600.6,472.3 602.5,474.2 605.0,476.1 606.9,477.3 609.4,478.7 613.4,480.5 M495.0,471.0 495.6,471.1 499.9,471.2 500.6,471.0 504.3,470.3 508.7,468.7 510.3,467.9 513.1,466.1 514.8,464.7 517.4,461.7 517.5,461.5 518.9,458.4 519.1,455.2 518.2,452.0 517.4,450.8 516.1,448.9 513.1,446.2 512.3,445.7 508.7,443.9 504.3,442.6 503.6,442.6 499.9,442.1 495.6,442.4 494.8,442.6 491.2,443.3 486.8,445.2 486.0,445.7 482.4,448.6 482.2,448.9 480.0,452.0 479.1,455.2 479.1,458.4 480.0,461.5 482.1,464.7 482.4,465.1 485.8,467.9 486.8,468.4 491.2,470.3 495.0,471.0 M450.1,439.4 451.8,440.1 456.2,440.5 460.5,439.5 460.8,439.4 464.9,436.7 465.5,436.2 467.1,433.1 466.7,429.9 464.9,427.6 464.1,426.8 460.5,424.6 456.2,423.8 451.8,424.2 447.4,426.1 446.6,426.8 444.2,429.9 443.9,433.1 445.3,436.2 447.4,438.1 450.1,439.4 M533.1,420.4 534.9,420.8 539.3,421.0 543.7,420.5 544.0,420.4 548.1,419.6 552.5,418.1 554.0,417.3 556.8,416.1 560.4,414.1 561.2,413.7 565.6,410.9 565.6,410.9 570.0,407.9 570.1,407.8 573.9,404.6 574.3,404.2 577.1,401.5 578.7,399.0 579.3,398.3 580.7,395.1 581.1,392.0 580.8,388.8 579.7,385.6 578.7,384.0 577.9,382.5 575.5,379.3 574.3,378.1 572.2,376.2 570.0,374.4 567.7,373.0 565.6,371.7 561.2,369.9 561.1,369.8 556.8,368.3 552.5,367.4 548.1,366.9 543.7,366.7 539.3,366.9 534.9,367.4 530.6,368.3 526.2,369.8 526.2,369.8 521.8,371.7 519.6,373.0 517.4,374.4 515.0,376.2 513.1,378.0 511.7,379.3 509.3,382.5 508.7,383.7 507.5,385.6 506.2,388.8 505.6,392.0 505.5,395.1 505.8,398.3 506.8,401.5 508.4,404.6 508.7,405.1 510.4,407.8 513.1,410.7 513.3,410.9 517.2,414.1 517.4,414.3 521.8,416.9 522.7,417.3 526.2,418.8 530.6,420.0 533.1,420.4" stroke="#a1ff5e"/><path d="M614.4,477.3 618.1,478.7 622.5,479.8 626.9,480.3 631.2,480.4 635.6,480.2 640.0,479.4 644.4,478.1 646.3,477.3 648.7,476.3 652.2,474.2 653.1,473.5 656.1,471.0 657.5,469.5 658.8,467.9 660.7,464.7 661.7,461.5 661.9,460.6 662.2,458.4 662.1,455.2 661.9,454.2 661.4,452.0 660.0,448.9 657.8,445.7 657.5,445.3 654.7,442.6 653.1,441.3 650.2,439.4 648.7,438.6 644.4,436.7 642.5,436.2 640.0,435.5 635.6,434.7 631.2,434.7 626.9,435.5 624.9,436.2 622.5,436.9 618.1,438.8 616.9,439.4 613.7,441.2 611.5,442.6 609.4,444.1 607.2,445.7 605.0,447.7 603.7,448.9 601.2,452.0 600.6,453.2 599.5,455.2 598.9,458.4 599.1,461.5 600.1,464.7 600.6,465.6 601.9,467.9 604.6,471.0 605.0,471.4 608.5,474.2 609.4,474.8 613.7,477.1 614.4,477.3 M493.6,467.9 495.6,468.3 499.9,468.5 503.5,467.9 504.3,467.7 508.7,465.8 510.3,464.7 513.1,462.2 513.6,461.5 515.0,458.4 515.1,455.2 514.0,452.0 513.1,450.9 511.0,448.9 508.7,447.4 504.5,445.7 504.3,445.6 499.9,445.1 495.6,445.3 494.1,445.7 491.2,446.6 487.2,448.9 486.8,449.2 484.3,452.0 483.0,455.2 483.0,458.4 484.2,461.5 486.8,464.6 486.9,464.7 491.2,467.1 493.6,467.9 M448.1,436.2 451.8,438.3 456.2,438.8 460.5,437.7 462.6,436.2 464.6,433.1 464.1,429.9 460.9,426.8 460.5,426.5 456.2,425.4 451.8,425.9 450.0,426.8 447.4,428.8 446.5,429.9 446.1,433.1 447.4,435.4 448.1,436.2 M630.7,426.8 631.2,427.2 635.6,426.9 635.8,426.8 639.6,423.6 640.0,422.8 640.6,420.4 640.0,418.6 639.3,417.3 635.6,415.0 631.2,414.8 626.9,417.3 626.9,417.4 626.1,420.4 626.8,423.6 626.9,423.7 630.7,426.8 M531.3,417.3 534.9,418.1 539.3,418.4 543.7,418.2 548.1,417.4 548.4,417.3 552.5,416.0 556.8,414.1 556.9,414.1 561.2,411.8 562.6,410.9 565.6,409.0 567.4,407.8 570.0,405.7 571.3,404.6 574.3,401.5 574.3,401.3 576.5,398.3 577.6,395.1 577.9,392.0 577.4,388.8 576.1,385.6 574.3,383.0 574.0,382.5 571.2,379.3 570.0,378.2 567.3,376.2 565.6,375.0 561.7,373.0 561.2,372.8 556.8,371.1 552.5,370.1 550.5,369.8 548.1,369.5 543.7,369.2 539.3,369.5 536.8,369.8 534.9,370.1 530.6,371.1 526.2,372.8 525.7,373.0 521.8,375.0 520.0,376.2 517.4,378.1 516.1,379.3 513.3,382.5 513.1,382.8 511.1,385.6 509.8,388.8 509.1,392.0 509.0,395.1 509.4,398.3 510.5,401.5 512.3,404.6 513.1,405.6 514.7,407.8 517.4,410.3 518.2,410.9 521.8,413.4 523.0,414.1 526.2,415.7 530.6,417.1 531.3,417.3" stroke="#c6ff39"/><path d="M625.2,477.3 626.9,477.6 631.2,477.7 635.6,477.4 635.8,477.3 640.0,476.5 644.4,475.0 646.2,474.2 648.7,472.8 651.2,471.0 653.1,469.3 654.5,467.9 656.6,464.7 657.5,462.6 657.9,461.5 658.5,458.4 658.3,455.2 657.5,452.1 657.5,452.0 655.9,448.9 653.4,445.7 653.1,445.5 649.5,442.6 648.7,442.0 644.4,439.8 643.1,439.4 640.0,438.4 635.6,437.6 631.2,437.5 626.9,438.1 622.5,439.3 622.2,439.4 618.1,441.1 615.4,442.6 613.7,443.6 610.7,445.7 609.4,446.8 607.1,448.9 605.0,451.6 604.6,452.0 603.1,455.2 602.5,458.4 602.9,461.5 604.1,464.7 605.0,466.1 606.2,467.9 609.4,470.9 609.4,471.0 613.7,473.8 614.5,474.2 618.1,475.7 622.5,476.9 625.2,477.3 M494.8,464.7 495.6,464.9 499.9,465.2 502.6,464.7 504.3,464.2 508.7,461.5 508.7,461.5 510.3,458.4 510.4,455.2 508.8,452.0 508.7,451.9 504.3,449.3 502.8,448.9 499.9,448.4 495.6,448.7 495.1,448.9 491.2,450.8 489.7,452.0 487.8,455.2 487.7,458.4 489.5,461.5 491.2,462.9 494.8,464.7 M451.2,436.2 451.8,436.6 456.2,437.2 459.3,436.2 460.5,435.5 462.3,433.1 461.7,429.9 460.5,428.8 456.2,427.0 451.8,427.8 449.1,429.9 448.5,433.1 451.2,436.2 M630.7,420.4 631.2,422.6 635.6,422.4 636.3,420.4 635.6,419.1 631.2,419.3 630.7,420.4 M529.2,414.1 530.6,414.6 534.9,415.7 539.3,416.2 543.7,416.1 548.1,415.4 552.5,414.1 552.5,414.1 556.8,412.3 559.4,410.9 561.2,410.0 564.6,407.8 565.6,407.1 568.7,404.6 570.0,403.4 571.9,401.5 573.9,398.3 574.3,397.0 575.1,395.1 575.2,392.0 574.5,388.8 574.3,388.5 573.0,385.6 570.7,382.5 570.0,381.7 567.4,379.3 565.6,378.0 562.6,376.2 561.2,375.4 556.8,373.6 554.7,373.0 552.5,372.4 548.1,371.7 543.7,371.5 539.3,371.7 534.9,372.4 532.7,373.0 530.6,373.6 526.2,375.4 524.7,376.2 521.8,377.9 520.0,379.3 517.4,381.6 516.6,382.5 514.2,385.6 513.1,388.1 512.7,388.8 511.8,392.0 511.6,395.1 512.3,398.3 513.1,400.1 513.6,401.5 515.6,404.6 517.4,406.6 518.6,407.8 521.8,410.4 522.7,410.9 526.2,412.9 529.2,414.1" stroke="#ebff14"/><path d="M622.4,474.2 622.5,474.2 626.9,474.9 631.2,475.1 635.6,474.7 638.0,474.2 640.0,473.7 644.4,471.9 646.0,471.0 648.7,469.1 650.1,467.9 652.7,464.7 653.1,463.9 654.2,461.5 654.8,458.4 654.7,455.2 653.7,452.0 653.1,451.0 651.8,448.9 648.8,445.7 648.7,445.7 644.4,442.9 643.6,442.6 640.0,441.2 635.6,440.3 631.2,440.1 626.9,440.5 622.5,441.7 620.4,442.6 618.1,443.6 614.5,445.7 613.7,446.3 610.7,448.9 609.4,450.4 608.1,452.0 606.6,455.2 606.1,458.4 606.6,461.5 608.0,464.7 609.4,466.5 610.6,467.9 613.7,470.4 614.7,471.0 618.1,472.7 622.4,474.2 M451.2,433.1 451.8,433.7 456.2,434.9 459.1,433.1 457.9,429.9 456.2,429.2 452.3,429.9 451.8,430.5 451.2,433.1 M539.2,414.1 539.3,414.1 543.7,414.1 543.7,414.1 548.1,413.5 552.5,412.3 555.7,410.9 556.8,410.5 561.2,408.2 561.8,407.8 565.6,405.2 566.3,404.6 569.6,401.5 570.0,400.9 571.8,398.3 572.9,395.1 573.0,392.0 572.2,388.8 570.3,385.6 570.0,385.2 567.6,382.5 565.6,380.7 563.6,379.3 561.2,377.8 557.5,376.2 556.8,375.9 552.5,374.5 548.1,373.8 543.7,373.5 539.3,373.8 534.9,374.5 530.6,375.9 529.8,376.2 526.2,377.8 523.8,379.3 521.8,380.7 519.7,382.5 517.4,385.1 517.0,385.6 515.1,388.8 514.1,392.0 514.0,395.1 514.7,398.3 516.3,401.5 517.4,403.1 518.7,404.6 521.8,407.5 522.2,407.8 526.2,410.4 527.4,410.9 530.6,412.3 534.9,413.5 539.2,414.1" stroke="#ffed00"/><path d="M621.7,471.0 622.5,471.3 626.9,472.2 631.2,472.3 635.6,471.9 638.9,471.0 640.0,470.7 644.4,468.4 645.2,467.9 648.5,464.7 648.7,464.3 650.2,461.5 651.0,458.4 650.8,455.2 649.7,452.0 648.7,450.6 647.3,448.9 644.4,446.4 643.2,445.7 640.0,444.2 635.6,443.0 631.2,442.7 626.9,443.1 622.5,444.4 619.5,445.7 618.1,446.5 614.7,448.9 613.7,449.9 611.9,452.0 610.3,455.2 609.8,458.4 610.5,461.5 612.3,464.7 613.7,466.3 615.6,467.9 618.1,469.5 621.7,471.0 M533.3,410.9 534.9,411.4 539.3,412.1 543.7,412.2 548.1,411.6 550.6,410.9 552.5,410.5 556.8,408.8 558.6,407.8 561.2,406.4 563.8,404.6 565.6,403.2 567.4,401.5 569.7,398.3 570.0,397.6 570.9,395.1 571.0,392.0 570.0,389.0 569.9,388.8 567.9,385.6 565.6,383.3 564.5,382.5 561.2,380.1 559.5,379.3 556.8,378.0 552.5,376.6 550.0,376.2 548.1,375.8 543.7,375.5 539.3,375.8 537.4,376.2 534.9,376.6 530.6,378.0 527.8,379.3 526.2,380.1 522.8,382.5 521.8,383.3 519.4,385.6 517.4,388.7 517.4,388.8 516.2,392.0 516.1,395.1 516.9,398.3 517.4,399.2 518.7,401.5 521.6,404.6 521.8,404.8 525.9,407.8 526.2,408.0 530.6,410.1 533.3,410.9" stroke="#ffc800"/><path d="M622.5,467.9 626.9,468.9 631.2,469.2 635.6,468.6 637.9,467.9 640.0,466.9 643.2,464.7 644.4,463.4 645.6,461.5 646.6,458.4 646.3,455.2 644.9,452.0 644.4,451.3 641.6,448.9 640.0,447.9 635.6,446.3 631.2,445.7 626.9,446.2 622.5,447.7 620.2,448.9 618.1,450.4 616.5,452.0 614.6,455.2 614.1,458.4 615.1,461.5 617.4,464.7 618.1,465.3 622.5,467.8 622.5,467.9 M530.1,407.8 530.6,408.0 534.9,409.5 539.3,410.3 543.7,410.4 548.1,409.9 552.5,408.8 555.0,407.8 556.8,407.1 561.2,404.7 561.3,404.6 565.3,401.5 565.6,401.2 567.9,398.3 569.1,395.1 569.1,392.0 567.9,388.8 565.6,385.8 565.5,385.6 561.5,382.5 561.2,382.3 556.8,380.0 554.8,379.3 552.5,378.5 548.1,377.6 543.7,377.4 539.3,377.6 534.9,378.5 532.6,379.3 530.6,380.0 526.2,382.2 525.8,382.5 521.8,385.6 521.8,385.7 519.4,388.8 518.1,392.0 518.0,395.1 518.9,398.3 521.0,401.5 521.8,402.3 524.5,404.6 526.2,405.9 530.1,407.8" stroke="#ffa300"/><path d="M631.1,464.7 631.2,464.7 631.3,464.7 635.6,463.4 638.4,461.5 640.0,459.2 640.3,458.4 640.0,455.2 640.0,455.2 636.8,452.0 635.6,451.4 631.2,450.5 626.9,451.0 624.5,452.0 622.5,453.6 621.2,455.2 620.7,458.4 622.1,461.5 622.5,461.9 626.9,464.1 631.1,464.7 M535.5,407.8 539.3,408.5 543.7,408.7 548.1,408.3 549.9,407.8 552.5,407.2 556.8,405.6 558.6,404.6 561.2,403.1 563.3,401.5 565.6,398.9 566.0,398.3 567.3,395.1 567.3,392.0 566.0,388.8 565.6,388.3 563.2,385.6 561.2,384.1 558.3,382.5 556.8,381.7 552.5,380.2 548.1,379.4 546.3,379.3 543.7,379.1 541.1,379.3 539.3,379.4 534.9,380.2 530.6,381.7 529.1,382.5 526.2,384.1 524.2,385.6 521.8,388.2 521.3,388.8 519.9,392.0 519.8,395.1 520.8,398.3 521.8,399.7 523.3,401.5 526.2,403.9 527.5,404.6 530.6,406.3 534.9,407.7 535.5,407.8" stroke="#ff7e00"/><path d="M530.6,404.6 534.9,406.2 539.3,407.0 543.7,407.2 548.1,406.8 552.5,405.8 555.5,404.6 556.8,404.1 561.2,401.5 561.2,401.4 564.2,398.3 565.6,395.2 565.6,395.1 565.6,394.0 565.5,392.0 564.0,388.8 561.2,386.0 560.8,385.6 556.8,383.3 554.5,382.5 552.5,381.7 548.1,380.8 543.7,380.6 539.3,380.8 534.9,381.7 532.8,382.5 530.6,383.3 526.5,385.6 526.2,385.9 523.3,388.8 521.8,391.7 521.7,392.0 521.5,395.1 521.8,395.9 522.7,398.3 525.5,401.5 526.2,402.0 530.6,404.6 530.6,404.6" stroke="#ff5800"/><path d="M534.6,404.6 534.9,404.8 539.3,405.7 543.7,405.9 548.1,405.5 551.8,404.6 552.5,404.5 556.8,402.7 558.9,401.5 561.2,399.5 562.4,398.3 563.9,395.1 563.8,392.0 562.1,388.8 561.2,387.9 558.3,385.6 556.8,384.8 552.5,383.2 549.2,382.5 548.1,382.2 543.7,381.9 539.3,382.2 538.2,382.5 534.9,383.1 530.6,384.8 529.1,385.6 526.2,387.8 525.2,388.8 523.5,392.0 523.3,395.1 524.6,398.3 526.2,400.0 527.9,401.5 530.6,403.1 534.6,404.6" stroke="#ff3300"/><path d="M530.3,401.5 530.6,401.6 534.9,403.4 539.3,404.3 543.7,404.6 548.1,404.2 552.5,403.2 556.5,401.5 556.8,401.3 560.4,398.3 561.2,397.0 562.1,395.1 562.0,392.0 561.2,390.5 560.0,388.8 556.8,386.4 555.4,385.6 552.5,384.5 548.1,383.5 543.7,383.2 539.3,383.5 534.9,384.5 531.9,385.6 530.6,386.3 527.3,388.8 526.2,390.4 525.3,392.0 525.1,395.1 526.2,397.6 526.6,398.3 530.3,401.5" stroke="#ff0e00"/><path d="M533.5,401.5 534.9,402.0 539.3,403.0 543.7,403.3 548.1,402.9 552.5,401.9 553.4,401.5 556.8,399.5 558.3,398.3 560.2,395.1 560.0,392.0 557.8,388.8 556.8,388.1 552.5,385.8 551.9,385.6 548.1,384.8 543.7,384.5 539.3,384.8 535.5,385.6 534.9,385.8 530.6,388.0 529.5,388.8 527.2,392.0 527.0,395.1 528.8,398.3 530.6,399.8 533.5,401.5" stroke="#e80000"/><path d="M538.0,401.5 539.3,401.8 543.7,402.1 548.1,401.7 549.0,401.5 552.5,400.2 555.8,398.3 556.8,397.1 558.0,395.1 557.9,392.0 556.8,390.5 555.0,388.8 552.5,387.5 548.1,386.2 543.7,385.7 539.3,386.1 534.9,387.4 532.3,388.8 530.6,390.4 529.4,392.0 529.2,395.1 530.6,397.5 531.2,398.3 534.9,400.4 538.0,401.5" stroke="#c20000"/><path d="M534.4,398.3 534.9,398.6 539.3,400.0 543.7,400.4 548.1,399.9 552.5,398.4 552.7,398.3 555.3,395.1 555.0,392.0 552.5,389.4 551.4,388.8 548.1,387.9 543.7,387.4 539.3,387.8 535.9,388.8 534.9,389.4 532.3,392.0 531.9,395.1 534.4,398.3" stroke="#9d0000"/><path d="M542.9,398.3 543.7,398.4 544.4,398.3 548.1,397.2 551.0,395.1 550.5,392.0 548.1,390.7 543.7,389.9 539.3,390.6 536.8,392.0 536.1,395.1 539.3,397.4 542.9,398.3" stroke="#800000"/></g></g><g clip-path="url(#cc3)"><path d="M524.2,486.6L524.9,496.1L528.5,499.0L540.0,499.0L540.2,499.0L540.4,499.1L540.6,499.1L540.7,499.2L545.3,501.9L550.5,501.1L555.0,498.1L555.0,482.3L551.5,480.9L551.3,480.8L551.1,480.7L551.0,480.6L550.8,480.4L550.7,480.2L550.5,480.0L550.4,479.8L550.3,479.6L550.2,479.3L550.1,479.1L548.6,473.0L542.7,473.0L542.0,478.6L541.9,478.9L541.9,479.1L541.8,479.4L541.7,479.7L541.5,479.9L541.4,480.1L541.2,480.4L541.1,480.5L540.9,480.7L540.7,480.8L533.7,484.8L533.5,484.9L533.2,485.0Z" fill="#ff0000"/><path d="M481.2,354.7L482.0,357.8L485.2,357.8L483.8,361.0L485.2,364.2L482.0,364.2L481.2,367.3L480.4,364.2L477.2,364.2L478.6,361.0L477.2,357.8L480.4,357.8ZM482.4,355.9L483.2,359.0L486.4,359.0L485.0,362.2L486.4,365.4L483.2,365.4L482.4,368.5L481.6,365.4L478.4,365.4L479.8,362.2L478.4,359.0L481.6,359.0ZM481.7,355.3L482.5,358.4L485.7,358.4L484.3,361.6L485.7,364.8L482.5,364.8L481.7,367.9L480.9,364.8L477.7,364.8L479.1,361.6L477.7,358.4L480.9,358.4ZM481.0,356.1L481.8,359.2L485.0,359.2L483.6,362.4L485.0,365.6L481.8,365.6L481.0,368.7L480.2,365.6L477.0,365.6L478.4,362.4L477.0,359.2L480.2,359.2ZM482.5,354.5L483.3,357.6L486.5,357.6L485.1,360.8L486.5,364.0L483.3,364.0L482.5,367.1L481.7,364.0L478.5,364.0L479.9,360.8L478.5,357.6L481.7,357.6ZM594.4,356.5L595.2,359.6L598.4,359.6L597.0,362.8L598.4,366.0L595.2,366.0L594.4,369.1L593.6,366.0L590.4,366.0L591.8,362.8L590.4,359.6L593.6,359.6ZM595.6,357.7L596.4,360.8L599.6,360.8L598.2,364.0L599.6,367.2L596.4,367.2L595.6,370.3L594.8,367.2L591.6,367.2L593.0,364.0L591.6,360.8L594.8,360.8ZM595.0,357.1L595.8,360.2L599.0,360.2L597.6,363.4L599.0,366.6L595.8,366.6L595.0,369.7L594.2,366.6L591.0,366.6L592.4,363.4L591.0,360.2L594.2,360.2ZM594.3,357.9L595.1,361.0L598.3,361.0L596.9,364.2L598.3,367.4L595.1,367.4L594.3,370.5L593.5,367.4L590.3,367.4L591.7,364.2L590.3,361.0L593.5,361.0ZM595.8,356.3L596.6,359.4L599.8,359.4L598.4,362.6L599.8,365.8L596.6,365.8L595.8,368.9L595.0,365.8L591.8,365.8L593.2,362.6L591.8,359.4L595.0,359.4ZM526.2,482.5L527.0,485.6L530.2,485.6L528.8,488.8L530.2,492.0L527.0,492.0L526.2,495.1L525.4,492.0L522.2,492.0L523.6,488.8L522.2,485.6L525.4,485.6ZM526.4,486.5L527.2,489.6L530.4,489.6L529.0,492.8L530.4,496.0L527.2,496.0L526.4,499.1L525.6,496.0L522.4,496.0L523.8,492.8L522.4,489.6L525.6,489.6ZM528.3,489.6L529.1,492.7L532.3,492.7L530.9,495.9L532.3,499.1L529.1,499.1L528.3,502.2L527.5,499.1L524.3,499.1L525.7,495.9L524.3,492.7L527.5,492.7ZM532.1,490.2L532.9,493.3L536.1,493.3L534.7,496.5L536.1,499.7L532.9,499.7L532.1,502.8L531.3,499.7L528.1,499.7L529.5,496.5L528.1,493.3L531.3,493.3ZM536.1,490.2L536.9,493.3L540.1,493.3L538.7,496.5L540.1,499.7L536.9,499.7L536.1,502.8L535.3,499.7L532.1,499.7L533.5,496.5L532.1,493.3L535.3,493.3ZM540.1,490.2L540.9,493.3L544.1,493.3L542.7,496.5L544.1,499.7L540.9,499.7L540.1,502.8L539.3,499.7L536.1,499.7L537.5,496.5L536.1,493.3L539.3,493.3ZM543.7,491.9L544.5,495.0L547.7,495.0L546.3,498.2L547.7,501.4L544.5,501.4L543.7,504.5L542.9,501.4L539.7,501.4L541.1,498.2L539.7,495.0L542.9,495.0ZM547.3,492.8L548.1,495.9L551.3,495.9L549.9,499.1L551.3,502.3L548.1,502.3L547.3,505.4L546.5,502.3L543.3,502.3L544.7,499.1L543.3,495.9L546.5,495.9ZM551.1,491.6L551.9,494.7L555.1,494.7L553.7,497.9L555.1,501.1L551.9,501.1L551.1,504.2L550.3,501.1L547.1,501.1L548.5,497.9L547.1,494.7L550.3,494.7ZM553.2,488.8L554.0,491.9L557.2,491.9L555.8,495.1L557.2,498.3L554.0,498.3L553.2,501.4L552.4,498.3L549.2,498.3L550.6,495.1L549.2,491.9L552.4,491.9ZM553.2,484.8L554.0,487.9L557.2,487.9L555.8,491.1L557.2,494.3L554.0,494.3L553.2,497.4L552.4,494.3L549.2,494.3L550.6,491.1L549.2,487.9L552.4,487.9ZM553.2,480.8L554.0,483.9L557.2,483.9L555.8,487.1L557.2,490.3L554.0,490.3L553.2,493.4L552.4,490.3L549.2,490.3L550.6,487.1L549.2,483.9L552.4,483.9ZM552.1,477.5L552.9,480.6L556.1,480.6L554.7,483.8L556.1,487.0L552.9,487.0L552.1,490.1L551.3,487.0L548.1,487.0L549.5,483.8L548.1,480.6L551.3,480.6ZM549.0,475.1L549.8,478.2L553.0,478.2L551.6,481.4L553.0,484.6L549.8,484.6L549.0,487.7L548.2,484.6L545.0,484.6L546.4,481.4L545.0,478.2L548.2,478.2ZM547.9,471.3L548.7,474.4L551.9,474.4L550.5,477.6L551.9,480.8L548.7,480.8L547.9,483.9L547.1,480.8L543.9,480.8L545.3,477.6L543.9,474.4L547.1,474.4ZM545.5,469.2L546.3,472.3L549.5,472.3L548.1,475.5L549.5,478.7L546.3,478.7L545.5,481.8L544.7,478.7L541.5,478.7L542.9,475.5L541.5,472.3L544.7,472.3ZM543.8,471.8L544.6,474.9L547.8,474.9L546.4,478.1L547.8,481.3L544.6,481.3L543.8,484.4L543.0,481.3L539.8,481.3L541.2,478.1L539.8,474.9L543.0,474.9ZM542.7,475.6L543.5,478.7L546.7,478.7L545.3,481.9L546.7,485.1L543.5,485.1L542.7,488.2L541.9,485.1L538.7,485.1L540.1,481.9L538.7,478.7L541.9,478.7ZM539.5,477.9L540.3,481.0L543.5,481.0L542.1,484.2L543.5,487.4L540.3,487.4L539.5,490.5L538.7,487.4L535.5,487.4L536.9,484.2L535.5,481.0L538.7,481.0ZM536.0,479.9L536.8,483.0L540.0,483.0L538.6,486.2L540.0,489.4L536.8,489.4L536.0,492.5L535.2,489.4L532.0,489.4L533.4,486.2L532.0,483.0L535.2,483.0ZM532.3,481.4L533.1,484.5L536.3,484.5L534.9,487.7L536.3,490.9L533.1,490.9L532.3,494.0L531.5,490.9L528.3,490.9L529.7,487.7L528.3,484.5L531.5,484.5ZM528.4,482.1L529.2,485.2L532.4,485.2L531.0,488.4L532.4,491.6L529.2,491.6L528.4,494.7L527.6,491.6L524.4,491.6L525.8,488.4L524.4,485.2L527.6,485.2ZM526.2,482.5L527.0,485.6L530.2,485.6L528.8,488.8L530.2,492.0L527.0,492.0L526.2,495.1L525.4,492.0L522.2,492.0L523.6,488.8L522.2,485.6L525.4,485.6Z" fill="none" stroke="#ff0000" stroke-width="1.2" shape-rendering="auto"/></g><path d="M412.4,521.6v-3.5M412.4,331.9v3.5M412.4,521.6h3.5M675.0,521.6h-3.5M499.9,521.6v-3.5M499.9,331.9v3.5M412.4,458.4h3.5M675.0,458.4h-3.5M587.5,521.6v-3.5M587.5,331.9v3.5M412.4,395.1h3.5M675.0,395.1h-3.5M675.0,521.6v-3.5M675.0,331.9v3.5M412.4,331.9h3.5M675.0,331.9h-3.5" stroke="#000" stroke-width="1.6" fill="none"/><rect x="412.4" y="331.9" width="262.6" height="189.7" fill="none" stroke="#000" stroke-width="1.6"/><text x="406.87" y="541.8" class="t">0</text><text x="395.35" y="525.9" class="t">0</text><text x="499.28" y="541.8" class="t">0</text><path d="M495.06,541.80L496.54,541.80L496.54,529.75L495.40,529.75L494.72,530.92L493.44,531.77L492.08,532.11L492.08,533.22L493.78,532.88L495.06,532.20Z" fill="#000"/><text x="395.35" y="462.7" class="t">0</text><path d="M391.12,462.67L392.60,462.67L392.60,450.61L391.46,450.61L390.78,451.79L389.51,452.64L388.15,452.98L388.15,454.08L389.85,453.74L391.12,453.06Z" fill="#000"/><text x="577.06 586.82" y="541.8" class="t">20</text><text x="385.60 395.35" y="399.4" class="t">20</text><text x="664.60 674.35" y="541.8" class="t">30</text><text x="385.60 395.35" y="336.2" class="t">30</text><text x="449.29 468.55 482.15 512.92 527.95 558.01 573.75 588.78 603.80 618.83" y="314.0" class="ti">Nc=50~2000</text><path d="M506.18,314.00L508.40,314.00L508.40,295.92L506.69,295.92L505.67,297.68L503.76,298.95L501.72,299.46L501.72,301.12L504.27,300.61L506.18,299.59Z" fill="#000"/><path d="M551.27,314.00L553.48,314.00L553.48,295.92L551.78,295.92L550.76,297.68L548.84,298.95L546.80,299.46L546.80,301.12L549.35,300.61L551.27,299.59Z" fill="#000"/><g transform="translate(536.4,561.2)"><ellipse cx="0" cy="0" rx="3.60" ry="6.00" fill="none" stroke="#000" stroke-width="1.30"/><path d="M-3.60,0h7.20" stroke="#000" stroke-width="1.30"/><path d="M11.00,15.30L12.39,15.30L12.39,3.96L11.32,3.96L10.68,5.06L9.48,5.86L8.20,6.18L8.20,7.22L9.80,6.90L11.00,6.26Z" fill="#000"/></g><g transform="translate(357.2,432.8) rotate(-90)"><ellipse cx="0" cy="0" rx="3.60" ry="6.00" fill="none" stroke="#000" stroke-width="1.30"/><path d="M-3.60,0h7.20" stroke="#000" stroke-width="1.30"/><text x="5.20" y="13.70" class="sub">2</text></g></svg></body></html>
